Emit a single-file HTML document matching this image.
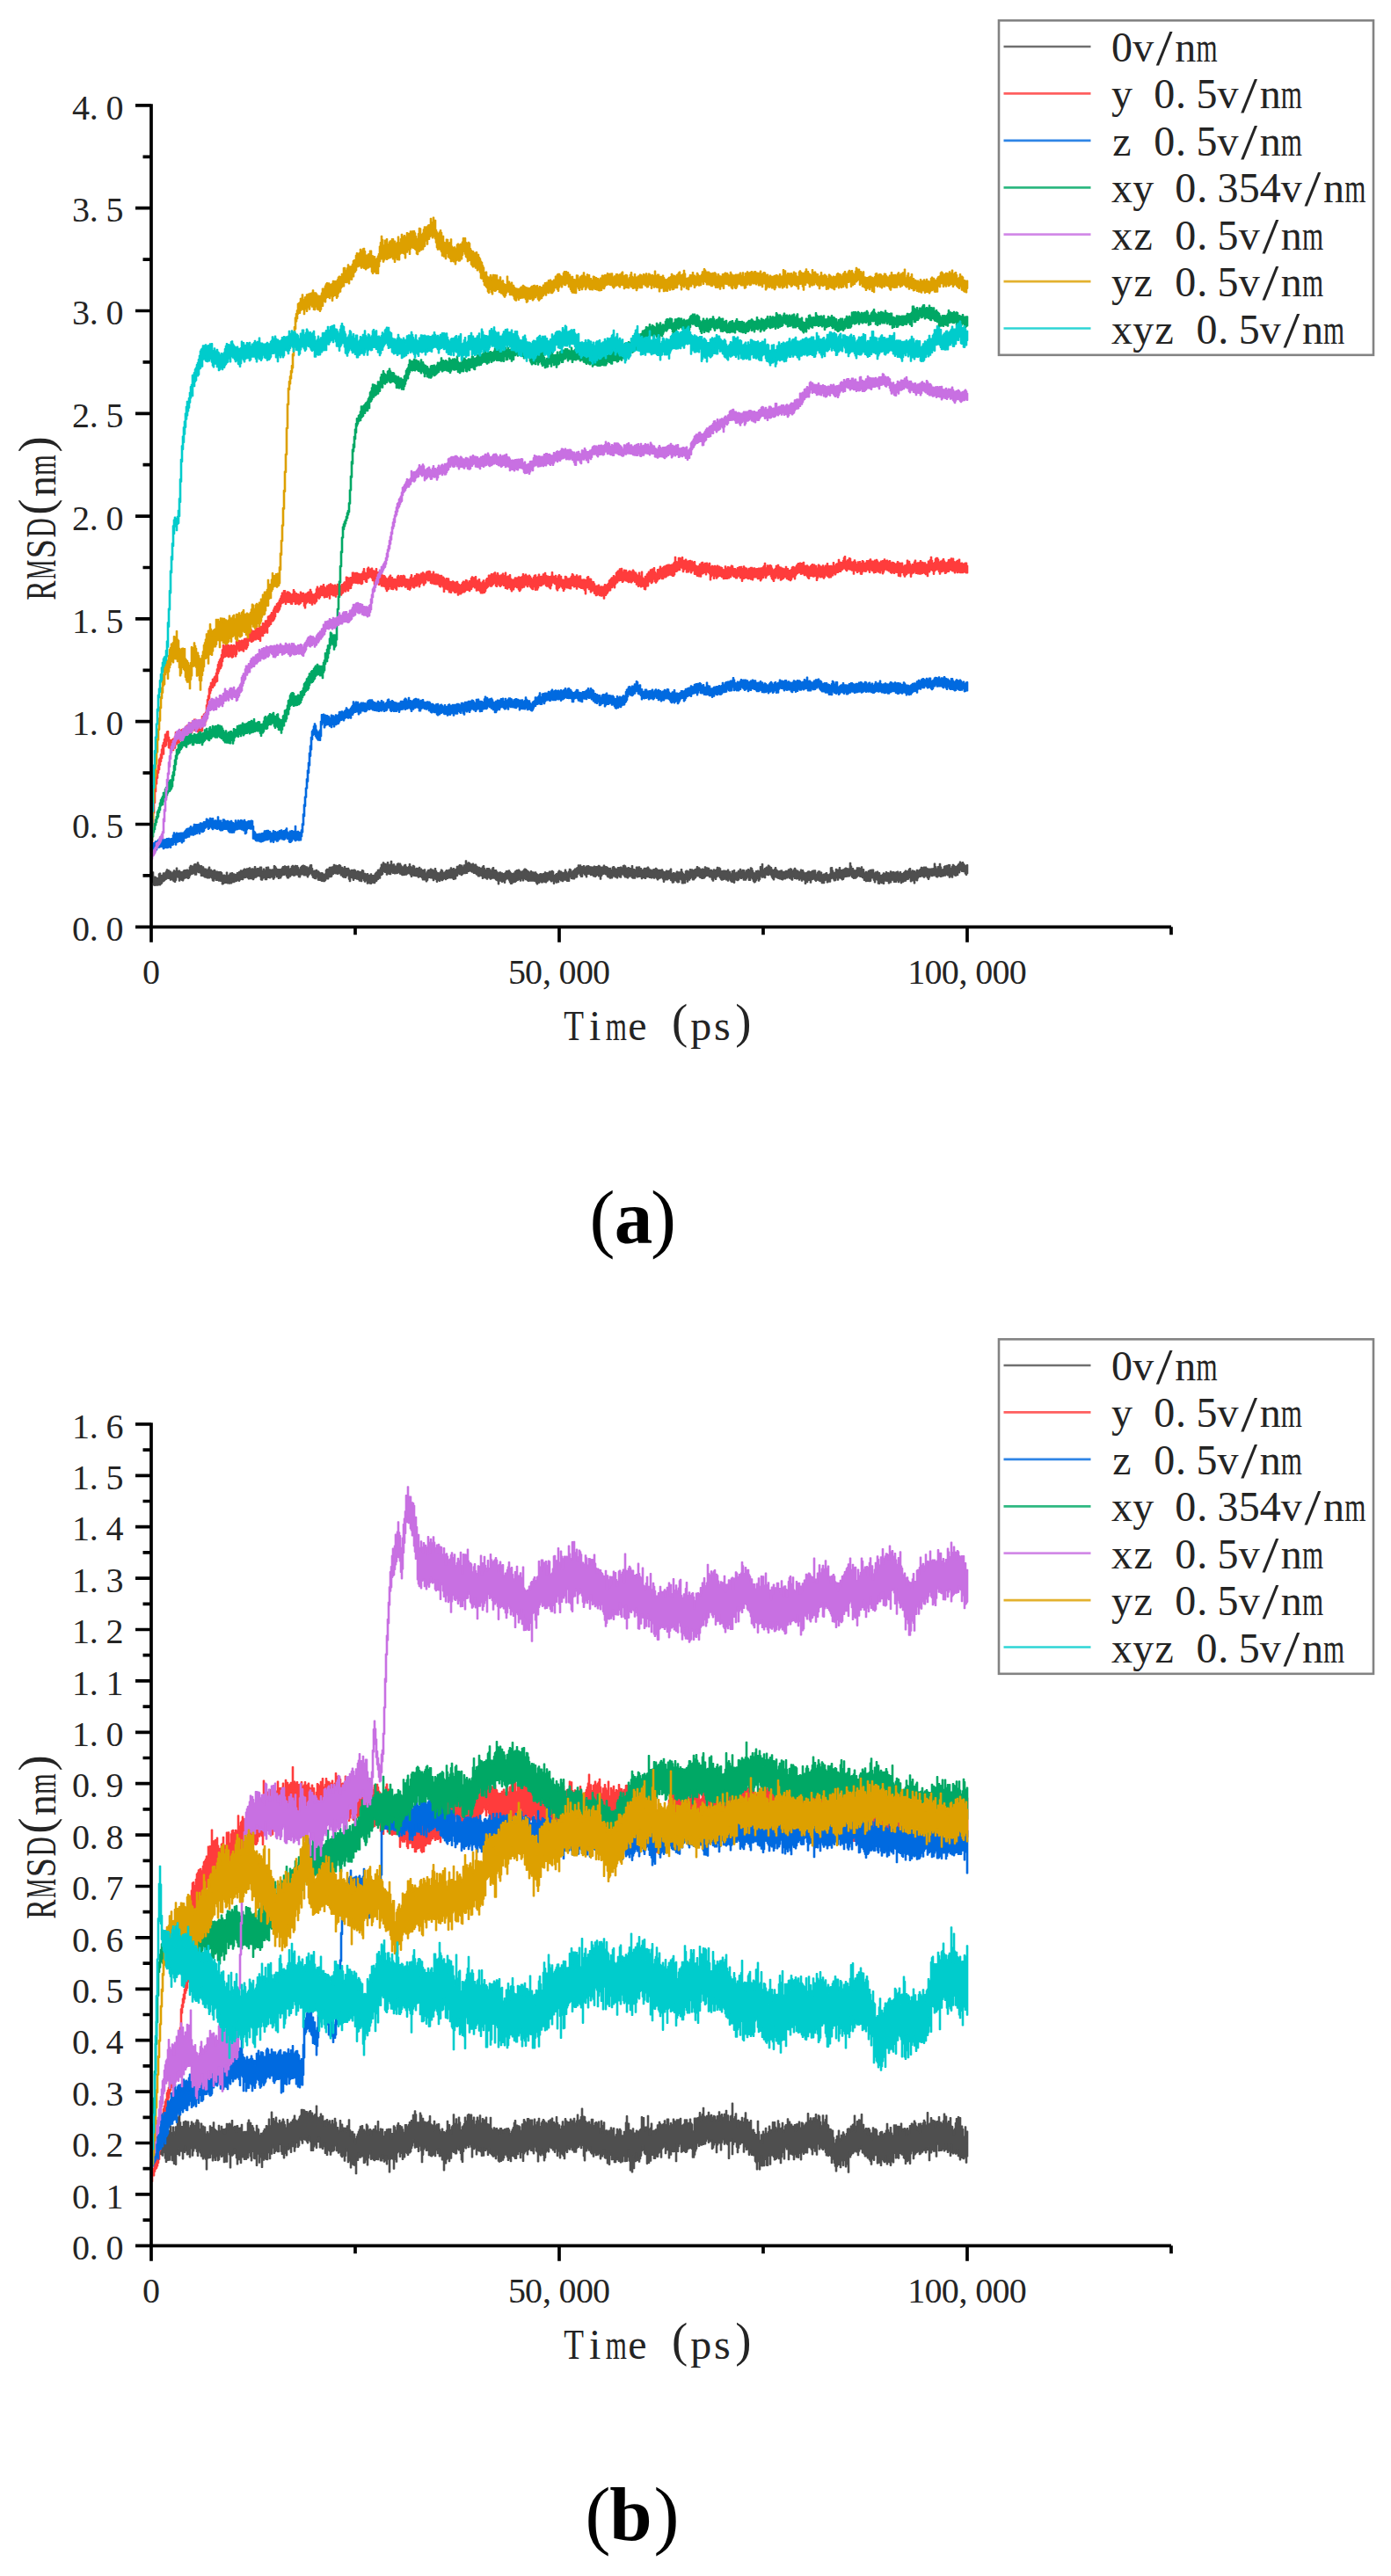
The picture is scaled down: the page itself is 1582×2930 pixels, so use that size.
<!DOCTYPE html>
<html lang="en"><head><meta charset="utf-8"><title>RMSD versus time under electric fields</title>
<style>html,body{margin:0;padding:0;background:#fff}body{width:1582px;height:2930px;overflow:hidden}svg{display:block}text{font-family:"Liberation Serif","Noto Serif CJK SC",serif;fill:#242424}.ax{stroke:#000;stroke-width:3.7;fill:none;stroke-linecap:butt}.c{stroke-width:1.6;stroke-linejoin:round}.lg{fill:#fff;stroke:#838383;stroke-width:2.6}.cap{font-weight:bold;fill:#000}</style></head><body>
<svg width="1582" height="2930" viewBox="0 0 1582 2930">
<rect width="1582" height="2930" fill="#fff"/>
<g id="chart-a">
<path class="c" fill="#4f4f4f" stroke="#4f4f4f" d="M171.5 992.3h1v2.4h1v-2.6h1v5.2h1h1v.2h1v1.2h1h1v.7h1v-5.3h1v-.9h1v3.5h1v-.8h1v-.6h1v-2.2h1h1v.1h1v-1.8h1v-2.4h1v.8h1v.2h1v2.3h1v-1.1h1v1.9h1v.5h1v-1.6h1v-1.9h1v.9h1v.2h1v-4h1v3.3h1h1v-.2h1v1.4h1h1v1h1v-.8h1v-1.7h1v-.4h1v.4h1v-.7h1v-.3h1v.9h1v.5h1v-4.3h1v-1.7h1v2h1v-1.3h1v.1h1v-2h1v-.6h1v.4h1v-.2h1v-2h1v2.5h1v1.4h1v.1h1v-.1h1v1.3h1v-.1h1v1.9h1v2.9h1v-2.7h1v1.6h1v-.1h1v-1.4h1v-2.1h1v3.2h1v-.1h1v1.6h1v.3h1v-.9h1v-.7h1v2.7h1v-1h1h1v1.7h1v-1.1h1v-.1h1v.1h1v.9h1v2.4h1v.7h1v-.7h1v1.1h1v-.3h1v-3.8h1v3.8h1v.2h1v-1.2h1v-1.6h1v.6h1v-1.1h1v2.2h1v-1h1v.4h1v.5h1v-.5h1v-1.8h1v1.3h1v-2.1h1v-.3h1v-1.5h1v.5h1v.5h1v-1.5h1v-1.3h1v.6h1v.5h1v-1.3h1h1v-.3h1v-.8h1v3.2h1v-1.6h1v-.6h1v2.2h1v-1.9h1v-2.6h1v2.8h1v-.1h1v-.6h1v1.4h1v-1.4h1v-1.6h1h1v5h1v-.6h1v-2.3h1v1.8h1h1v-3.6h1v2.6h1v-2.9h1v3.8h1v-1h1v.2h1v1.2h1v-1.4h1h1v-4.3h1v1.1h1v1.6h1v1.3h1v.2h1v.3h1v-.3h1v2h1v-2h1v-1.6h1v-1.5h1v.2h1v-1h1v.8h1v2.8h1v-2.9h1v-.5h1v3.1h1v-.1h1v-.4h1v-2.3h1v-1h1v1.9h1v-.7h1v-1.2h1v.9h1v-.7h1v2.2h1v3.1h1v-1h1v-2.1h1v-1.3h1v-.8h1v-.5h1v.5h1v.4h1v2.5h1v-1.6h1v1.4h1v.6h1v-1.9h1v-2.2h1v-.1h1v3.8h1v2.8h1v.3h1v-.5h1v1h1v-1.7h1v1.4h1h1v1.2h1v.8h1v.8h1v-.9h1v.3h1v1.7h1v-.2h1v-.6h1v-4.3h1v-1.2h1v2.2h1v-2.4h1v-1.8h1v2.4h1v-2.7h1v.3h1v-.7h1v-2.4h1v.9h1h1v.5h1v1.1h1v-1.5h1v-.7h1v.7h1v3.1h1v-1h1v1.5h1v.5h1v-2.7h1v2.6h1v-.7h1v1.3h1v-1.5h1v1.7h1v1.2h1v.7h1v-1.7h1v1.8h1v-1.7h1v-.4h1v.9h1v1.6h1v.5h1v-1.5h1v.5h1v1.4h1v-.9h1v.2h1v-2h1v.4h1v4.1h1v-.8h1v.7h1v1.1h1v-1.7h1v2.9h1v-1h1v.6h1v-2.1h1v2.3h1v-.6h1v1.5h1v-1.9h1v-1.9h1v-1.2h1v-.5h1v-2.2h1v-.3h1v.5h1v-2.7h1v-3.8h1v1.5h1v-3.7h1v1.1h1v.3h1v.5h1v1.8h1v-4.1h1v2.8h1v.1h1h1v-4.1h1v4h1v.9h1v-1.3h1v2.8h1v-.7h1v1.1h1v-3.4h1v-.8h1v.7h1v-.4h1v1.8h1v2.3h1v-.4h1v.6h1v-2.5h1v-.7h1v2.5h1v2h1v-1.1h1v-1.1h1v-3.1h1v3.2h1v.7h1v.3h1v-2.3h1v.8h1v2.8h1v.4h1v-1.1h1v.4h1v.5h1v-1.8h1v2.5h1v-.7h1v2.2h1v-.8h1v.9h1v-1.7h1v4.4h1v.4h1v-2.2h1v-1.8h1v-.2h1v.6h1v-1.8h1v1.5h1v-.7h1v1.2h1v1.3h1v-3.8h1v2.8h1v1.9h1v.3h1v.8h1v-.7h1v-1.3h1v-2.3h1v1h1v2.1h1v.5h1v-.8h1v-1.1h1v-1.3h1v.7h1v-.5h1v-.8h1v1h1v-3.1h1v3h1v-1.4h1v-.9h1v1.8h1v-.2h1v-.8h1v-3.1h1v.7h1v-1.2h1v-1.2h1v1.9h1v-1.5h1v2h1v.4h1v-2.5h1v1.7h1v-6.7h1v3.2h1v-.2h1v-1.1h1v.8h1v1.3h1h1v1.6h1v-2.3h1v1.3h1v1.9h1v-2.2h1v1.8h1v.9h1v1.9h1v-1.5h1v1.9h1v-.8h1v-.1h1v-1.5h1v-1.1h1v3h1v1.9h1v1h1v-2.9h1h1v-.2h1v1.3h1v1.4h1v1.9h1v-4.3h1v-1.3h1v3.1h1v.1h1v-.1h1v1.8h1v1.5h1v1.8h1v-2.6h1v-.2h1v1.3h1v-.4h1v.8h1v1.7h1v-1.9h1v-1.1h1v-1.7h1v.2h1v-.5h1v-.4h1v1.8h1v1.2h1v1.4h1v-.7h1v-.6h1v.5h1v-2.5h1v-.7h1v-.6h1v3.2h1v-3.9h1v1.3h1v2.1h1v-.8h1v-.8h1v1.2h1v-3h1v-1h1v.7h1v.9h1v.9h1v.7h1v1.2h1v.7h1v-2.4h1v1.5h1v-.4h1v.4h1v.7h1v-1h1v1.5h1v.9h1v.7h1v.7h1v-1.7h1v-.4h1v.4h1v1.6h1v-2.1h1v.6h1v-2.2h1v1.8h1v-1.1h1v1.3h1v-1.4h1v-1.3h1v-.2h1v1.7h1v-2.3h1v1h1v4.3h1v.7h1v-1.7h1v-1h1v1.8h1v-3.7h1v-1.8h1v2.5h1v-1.5h1v1.1h1v.8h1v-.3h1v-.5h1v-2.9h1v2.5h1v2h1v-.5h1v-2.2h1v-2.7h1v.8h1v2.7h1v-.3h1v-1.1h1v-.8h1v-1.6h1v2.3h1v-3.2h1v-.6h1v-2.7h1v2h1v-2h1v2.2h1v-.4h1v1.3h1v-2.3h1v2.1h1v.8h1v-2.4h1v-.3h1v-.2h1v.8h1v1h1v-.5h1v.5h1v-.2h1v.8h1v-2h1v2.2h1v-1.5h1v-.1h1v.1h1v-1.3h1v.7h1v3.1h1v-1.9h1v-.1h1v.2h1v-2.3h1v1.9h1v-.4h1v.3h1v.8h1v.8h1v.1h1v-.2h1v2.2h1v.4h1v-3.8h1v-.5h1v1.5h1v1h1v.3h1v-.3h1v-1.6h1h1v1.1h1v-1.6h1v2.5h1v-1.5h1v-2.6h1v-.3h1v.7h1v4.7h1v-2.4h1v1.1h1v-1.8h1v1.9h1v-.9h1h1v-2.9h1v3.8h1v.3h1v.6h1v-.1h1v-3.1h1h1v.6h1v-.9h1v3.7h1v-1.8h1v2h1v.5h1v-1.4h1v-1.4h1v1.2h1v-1.3h1v-.2h1v-.9h1v1.7h1v1.7h1v-.5h1v1.6h1v-.7h1v-1.2h1v-.1h1v2.6h1v-3.9h1v1h1v.9h1v2.5h1v-2.5h1v.4h1v-.3h1v-.5h1v1.9h1v1.8h1v-1.1h1v.6h1v-2.1h1v.4h1v1.3h1v-1.4h1v-.5h1v-1.7h1v6.7h1v-1.3h1v-.9h1v.2h1v.2h1h1v-2h1v1.1h1v-.2h1h1v2.5h1v-5.8h1v3.3h1v1.7h1v.8h1h1v-3.5h1v-.8h1v.5h1v.5h1v.7h1v-3.3h1v1.5h1v-1.1h1v1h1v.8h1v-1.7h1v-.4h1v-.4h1v-2.6h1v1.5h1v-.2h1v1.1h1v.8h1v2.5h1v-3.2h1v.6h1v1.8h1v-4.6h1v1.7h1v-.7h1v.2h1v.3h1v2h1h1h1v1.1h1v.4h1v-2h1v.6h1v1.3h1v-1.9h1v-2.5h1v1.8h1v-1.4h1v1.1h1v3h1v-.4h1v.3h1v-.7h1h1v.3h1v1h1v-.7h1v-1.7h1v2.4h1v-.1h1v2.5h1v1.8h1v-5.1h1v2.6h1v-3.6h1v3.9h1v-.6h1v-.6h1v.3h1v-2.2h1v.9h1v-2.9h1v2.7h1v-.6h1v-1h1v.3h1v2.5h1v.2h1v-2.6h1v1.6h1v-2.9h1v1.2h1v.5h1v-3.3h1v.7h1v2.5h1v2.4h1v.3h1v.5h1v-2.8h1v.2h1v-.5h1v2.1h1v-1.5h1v-5.3h1v2.3h1v-5.2h1v6.5h1v.9h1v-2.4h1v-.4h1v-1h1h1v-2h1v.8h1v1h1v.5h1v2.3h1v2.1h1v-1.2h1v-1.2h1v-1.8h1v2.3h1v1.1h1v1.6h1v-.8h1v-.3h1v-.5h1v-.3h1v2.9h1v-1.1h1v-.2h1v.9h1v-2h1v.7h1v-.6h1v-1.5h1v.8h1v-1.9h1v.6h1v2.9h1v-.7h1v-1.6h1v-1.6h1v1.7h1v1h1v.1h1v.9h1v.5h1v.5h1v-2.9h1v1.8h1v-1.3h1v2.1h1v1.1h1v1.2h1v-1.5h1v-.2h1v-1.4h1v-.2h1v1.3h1v-.6h1v-.1h1v-1h1v-.2h1v-.3h1h1v4.7h1v-.3h1v-2h1v-1.4h1h1v1.1h1v.1h1v2.8h1v1.2h1v-2.1h1v.1h1v-.7h1v-.7h1v1.8h1v.3h1v.3h1v-1.3h1v-7h1v-.3h1v3.7h1v2.4h1v-.2h1v-.1h1v-4h1v.9h1h1v2.2h1v-4.9h1v2.9h1v.1h1v1.7h1v-2.4h1v.2h1v-1.1h1v-.8h1v.4h1v.3h1v.9h1v-.9h1v-6.5h1v3.9h1v2.3h1h1v2.2h1v.8h1v-.6h1v-.4h1v-2.6h1v-.1h1h1v1.6h1v-.7h1v-1.8h1v3.8h1v-1h1v4.2h1v.3h1v-1.9h1v.9h1v-.2h1v-1.6h1v-.2h1v-.9h1v1.9h1v-2.1h1v-.1h1v4.2h1v.6h1v-1.9h1v-.1h1v-.8h1v3.3h1v-1.6h1v2.6h1h1v.5h1v-1.1h1v-1.9h1v.7h1h1v-1.8h1v1.1h1v-.2h1v.5h1v2.5h1v-4.7h1v1h1v.3h1v-.6h1v1.9h1v-1.4h1v2.9h1v-3.4h1v-.5h1v2.4h1v-.4h1v-1.4h1v2.9h1v-.9h1v.1h1v-1.4h1v-.7h1v-1.6h1v.9h1v-.2h1v-.1h1v-2.2h1v-.8h1v3.5h1v1h1v-2.3h1v.8h1h1v2.1h1v-.9h1v-2.5h1v1.6h1v-1h1v-.7h1v-.9h1v-2h1v.5h1h1v-.7h1v1h1v-1.1h1v1.6h1v.2h1v2.1h1v-1.8h1h1v-.1h1v-.3h1v.1h1v-.4h1v-5.3h1v3.4h1v2.7h1v-.3h1v-2.3h1v3h1v-6.3h1v3.6h1v2.9h1v.3h1v-.5h1v-3.1h1v-.8h1v1.5h1v-1.9h1v1.8h1v-2.6h1h1v4.1h1v-.1h1v-1.9h1v-2.3h1v1h1v.9h1v1.6h1v-1.3h1v-1h1v-1.6h1v-.7h1v-2.1h1v1.1h1v.8h1v-1.4h1v1.9h1v1.2h1v.9h1h1v-1.2h1v9.7h-1v1.7h-1v-1.3h-1v-2.7h-1v.4h-1v-2.6h-1v2.2h-1v-1.4h-1v-.3h-1v3.2h-1v-.9h-1v3.7h-1v-1h-1v1.7h-1v-.4h-1v-1.9h-1v1h-1v3.2h-1v-2.8h-1v1.4h-1v1.4h-1v-4.8h-1v2.4h-1v-1h-1v-.5h-1v1.9h-1v-1h-1v1.3h-1v.3h-1v-.8h-1v1.4h-1v-2.4h-1v1.6h-1v-1.5h-1v2.8h-1v-.5h-1v-1.4h-1v-.4h-1v.5h-1v-.4h-1v1h-1v-.9h-1v-1h-1v3.2h-1v2.3h-1v-1.7h-1v-1.6h-1v-.1h-1v-.8h-1v2.1h-1v-1h-1v-.5h-1v-.9h-1v1.5h-1v.2h-1v-.9h-1v2.3h-1v2.9h-1v-.9h-1v.3h-1v3.7h-1v-4h-1v.9h-1v-.4h-1v1.4h-1v-4.5h-1v-1.4h-1v3.2h-1v.2h-1v-.6h-1v2.4h-1v.2h-1v.3h-1v.7h-1v-1.1h-1v2.4h-1v-3.8h-1v1.2h-1v1.6h-1v-2.6h-1v.4h-1v2.1h-1v-1.6h-1v1.6h-1v-2.2h-1v-.9h-1v.9h-1v2.5h-1h-1v1.1h-1v-3.4h-1v1h-1v-.9h-1v.6h-1v-1h-1v4.2h-1v-3.9h-1v3.2h-1v-2.3h-1v1.5h-1v1.6h-1v-.4h-1v-3.9h-1v-1.3h-1v.7h-1v3.2h-1v-2.5h-1v-2.5h-1v.2h-1h-1v3.3h-1v.3h-1v-2.2h-1v1.9h-1v-1.5h-1v1.9h-1v-1.8h-1v.6h-1v-2.5h-1v-.6h-1v-1.2h-1v.2h-1v-.2h-1v-1.5h-1v.4h-1v1h-1v1.1h-1v.9h-1v-.7h-1v.9h-1v-.8h-1v-.8h-1v-2.2h-1v-1.2h-1v2.5h-1h-1v.4h-1v-.8h-1v1.1h-1v-.4h-1v.9h-1v2.3h-1v.5h-1v-1.1h-1v-.8h-1v-.7h-1v.8h-1v2.1h-1v-2.3h-1v.2h-1v2.6h-1v.4h-1v-2h-1v-1.1h-1v-1.2h-1v1.9h-1v3.5h-1v-1.7h-1v1.8h-1v.7h-1v-4.4h-1v1.6h-1v.6h-1v3h-1v-.6h-1v.5h-1v-3.5h-1v1.6h-1v-.5h-1v-.9h-1v-.5h-1v.4h-1v1.1h-1v-1.2h-1v-1.1h-1v-.8h-1v1.2h-1v.4h-1v3.3h-1v-2.8h-1v-2.3h-1v2.6h-1v2h-1v-2.7h-1v4.5h-1v-4.3h-1v-.4h-1v-1h-1v2.5h-1v-3h-1v.4h-1v1.5h-1v-2.5h-1v.8h-1v.6h-1v-3h-1v2.4h-1v-1.7h-1h-1v3.4h-1v-.9h-1v-2h-1v.9h-1v-1.2h-1v-.1h-1v1.2h-1v-.1h-1v.9h-1v-.7h-1v.9h-1v1h-1v-.5h-1v-2.6h-1v2h-1v-.4h-1v-.4h-1v-.4h-1v-2.5h-1v1.6h-1h-1v3.2h-1v-1.6h-1v-1.4h-1v-2.4h-1v-1.5h-1v.2h-1v1.3h-1v-.2h-1v-1.2h-1v.9h-1v3.5h-1v-.6h-1v-.2h-1v.3h-1v-1.2h-1v-1.4h-1v4.9h-1v1.8h-1v-4h-1v1.5h-1v1.7h-1v1.7h-1v.8h-1v-1.4h-1v-2.5h-1v-3h-1v1.6h-1v2.9h-1h-1v-4.4h-1v.7h-1v1.5h-1v1.8h-1v-.4h-1v.5h-1v-3.1h-1v.8h-1v.6h-1v-2.4h-1v1.7h-1v2h-1v.8h-1v-.4h-1v-.4h-1v-.4h-1v3.9h-1v-1.5h-1v.5h-1v-.1h-1v-1.4h-1v-1.6h-1v-.3h-1v2.2h-1v-1.5h-1v.4h-1v-1.8h-1v.7h-1v.6h-1v.3h-1v.4h-1v-1h-1v-1.7h-1v-4.1h-1v2.5h-1v-1.4h-1v2.2h-1v2.8h-1v-2h-1v.5h-1v3.2h-1v-1.6h-1v-2.5h-1v-1.3h-1v1h-1v-1.5h-1v-.3h-1v.5h-1v-.3h-1v1.3h-1v1.5h-1v.1h-1v.4h-1v-.4h-1v-.7h-1v-.3h-1v-3h-1v1.6h-1v-.6h-1v.7h-1v1.6h-1v1h-1v1.4h-1h-1v-2.7h-1h-1v1.3h-1v1.7h-1v-.8h-1v2.9h-1v-2.7h-1v-1.2h-1v5.3h-1v-2.4h-1v2.7h-1h-1v-4h-1v-.7h-1h-1v3.5h-1v.3h-1v-.9h-1v-2.7h-1v1.2h-1v-.6h-1v2.8h-1v.3h-1v-2.2h-1v-.6h-1v-2.4h-1v.6h-1v.3h-1v1h-1v-2.3h-1v2.4h-1v-.3h-1v2.7h-1v-3.3h-1v-2h-1v.2h-1v.8h-1v.2h-1v.5h-1v1.2h-1v-1.8h-1v-2.1h-1v1h-1v1.1h-1v-1.1h-1v.2h-1v.8h-1v-2.3h-1v1.8h-1v-.9h-1v-1.2h-1v1.3h-1v-1.9h-1v3.7h-1v-.7h-1v-.3h-1v-.6h-1v1.7h-1v-2.3h-1v-.2h-1v.2h-1v-2.9h-1v3.6h-1v-1.9h-1v.5h-1v2.5h-1v-.5h-1v.6h-1v-.7h-1v-2.8h-1v1.3h-1v.2h-1h-1v1.8h-1v-.9h-1v-2.7h-1v2.5h-1v-1.6h-1v-1.4h-1v-.7h-1v.8h-1v3.1h-1v-.5h-1v-1.1h-1v-1.3h-1v3.7h-1v-2.3h-1v1.3h-1v-1.9h-1v.9h-1v-.8h-1v2.7h-1v-1.3h-1v1.6h-1v-1.1h-1h-1v-.9h-1v-1.9h-1v-.4h-1v-1.1h-1v.5h-1v.2h-1v.5h-1v1.6h-1v3.6h-1v-5.2h-1v1.9h-1v-1.4h-1v-.1h-1v1h-1v1.2h-1v-2.6h-1v1.9h-1v-1.5h-1v.1h-1v.3h-1v-1.4h-1v-.3h-1v.3h-1v-1.5h-1v5h-1v-2.1h-1v-.8h-1v-1.6h-1h-1v4h-1h-1v-1.7h-1v-2.2h-1v.1h-1v1.1h-1v3.3h-1v.3h-1v-1.3h-1v3h-1v-.1h-1v-.2h-1v-.1h-1v-1.8h-1v-1.1h-1v5.8h-1h-1v-.1h-1v-3h-1v1.8h-1v-1.4h-1v1.4h-1v1.6h-1v-1.9h-1v1h-1v-2.2h-1v.8h-1v3.2h-1v-2.2h-1v2.7h-1v-2h-1v.9h-1v2.3h-1v-3.2h-1v-1h-1v1.7h-1v-1.5h-1v-.9h-1v.1h-1v1.5h-1v.4h-1v1.5h-1v-.2h-1v-1.9h-1v1.1h-1v1h-1h-1v-1.5h-1v.5h-1v1.6h-1v-.4h-1v1.9h-1v-1.8h-1v-2.4h-1v.5h-1v-.1h-1v-2.8h-1v2.8h-1v-2.5h-1v2.5h-1v-.3h-1v.5h-1v-.8h-1v-3.3h-1v2.3h-1v-2.7h-1v1.5h-1v2.5h-1v-2.3h-1v-.1h-1v2.7h-1v-4.2h-1v2.3h-1v1h-1v-.9h-1v2h-1v.9h-1v-1h-1v1.5h-1v-1.7h-1v3.2h-1h-1v-1.8h-1v-2.3h-1v-1.5h-1v-.2h-1v.3h-1v1.2h-1v3.3h-1v-1.6h-1v-.3h-1v.9h-1v-1.6h-1v.5h-1v-1.1h-1v4.7h-1v-3.9h-1v-.6h-1v-.5h-1v-1.5h-1v-.1h-1h-1v-3.9h-1v4h-1v.9h-1v-1.2h-1v-1.9h-1v1.1h-1v1.9h-1v-1.3h-1h-1v-.6h-1v-4h-1v5.2h-1v-2.9h-1v-.7h-1v.4h-1v.7h-1v-.1h-1v-1.6h-1v-.4h-1v-1.1h-1v-1.7h-1v1.4h-1v-2.7h-1v1.5h-1v-.7h-1v-1.4h-1v.6h-1v.7h-1v-.6h-1v2.7h-1v-.8h-1v.9h-1v.1h-1v-.2h-1v1h-1v1.2h-1v-1.1h-1h-1v-1.2h-1v.5h-1v2.4h-1v-.2h-1v3.7h-1v-2.3h-1v2.9h-1v-1.2h-1v-.4h-1v-2.4h-1v2.6h-1v-.3h-1v-1.3h-1v2.1h-1v-1h-1v2.1h-1v-1.2h-1v-.1h-1v1h-1v1.3h-1v-3.2h-1v2.5h-1v1.5h-1v-1.1h-1v.1h-1v1.9h-1v-2.9h-1v-.6h-1v-.7h-1v2.6h-1v-2.5h-1v-1h-1v.7h-1v-1.2h-1v.7h-1v.3h-1v2.8h-1v1.5h-1v-2h-1v-1.7h-1v1.6h-1h-1v-2.2h-1v-1.3h-1v.1h-1v-.1h-1v.7h-1v-1.3h-1v-.8h-1v.6h-1v-.5h-1v.2h-1v-2.3h-1v2h-1v1.4h-1v-2.3h-1v-1.3h-1v-.3h-1v.2h-1v.5h-1v.9h-1v-1.4h-1v1.7h-1v-.4h-1v.7h-1v-.6h-1v-1.9h-1v.9h-1v-1.7h-1v-1.1h-1v2h-1v.4h-1v-1.6h-1v1.8h-1v-1.4h-1v1h-1v-2.2h-1v.8h-1v2.5h-1v-.2h-1v-.6h-1v-1.7h-1v3.1h-1v-3.1h-1v.3h-1v-1.1h-1v.1h-1v3h-1v1h-1v.3h-1v3.5h-1v-.8h-1v1.9h-1v.5h-1v1.7h-1v.3h-1v1.8h-1v-.3h-1v-.3h-1v.2h-1v1.1h-1v-.1h-1v-.6h-1v-1.2h-1v1.7h-1v-3.1h-1v-.5h-1v1.6h-1v-1.7h-1v-2.2h-1v.2h-1v3.2h-1v-1.4h-1v.9h-1v-1.5h-1v-1.1h-1v.6h-1v-1.1h-1v.4h-1v-1.7h-1v3.6h-1v-2.4h-1v-2.1h-1v1.7h-1v4.2h-1v-2.6h-1v-4.2h-1v-.6h-1v1.4h-1v1.7h-1v-.6h-1v.4h-1v-.7h-1v-1.6h-1h-1v-1.9h-1v-.6h-1v.4h-1v.5h-1v-.7h-1v.2h-1v-.4h-1v-.9h-1v2h-1v.4h-1v2.2h-1v.6h-1v-1.5h-1v1.7h-1v2h-1v-1.7h-1v1.6h-1v1.6h-1v1.3h-1h-1v-1h-1v.6h-1v-.6h-1v-2.5h-1v2.1h-1v-.2h-1v-3.1h-1v-.2h-1v1.8h-1v-.1h-1v-.9h-1v-.5h-1v-2.4h-1v-2.5h-1v.5h-1v.6h-1v1.4h-1v2.1h-1v-2.5h-1v.5h-1v-1h-1v1h-1v-1.9h-1v1h-1v-.4h-1v.7h-1v2.6h-1v-.1h-1v-2.2h-1v-2.7h-1v2.3h-1v-1.2h-1v2.2h-1h-1v-.8h-1v-.6h-1v.9h-1v1.5h-1v-1h-1v2.8h-1v-.1h-1v-2.1h-1v-1.7h-1v-.5h-1v.9h-1v-.8h-1v1h-1v1.4h-1v1.9h-1v-.6h-1v1.1h-1v-2.3h-1v.5h-1v-2h-1v-.7h-1v3.8h-1v1.4h-1v-3h-1v.7h-1v.2h-1v.8h-1v-.6h-1v.3h-1v-.4h-1v2.6h-1v-.1h-1v-1.9h-1v-.8h-1v1.2h-1v2h-1v-.3h-1v-3.6h-1v-.6h-1h-1v-.9h-1v1.5h-1v1h-1v-1.6h-1v2.3h-1v1.7h-1v-1.6h-1v.7h-1h-1v-1.1h-1v1.3h-1v-1.3h-1v-.6h-1v-.9h-1v1.3h-1v.3h-1v-.2h-1v2.1h-1v-.3h-1v-.7h-1v1.4h-1v1.3h-1v-.6h-1v-.2h-1v.8h-1v.4h-1v.3h-1v.7h-1h-1v-3.5h-1v4.7h-1v-3.4h-1v3.6h-1v-.2h-1v.1h-1v-1.5h-1v.8h-1h-1v-1.5h-1v2.7h-1v.5h-1v-3.5h-1v-.2h-1v-.9h-1v.7h-1v-.7h-1v-.9h-1v.9h-1v-2.5h-1v.8h-1v2.4h-1v-.3h-1v-2.9h-1v-2.3h-1v1.4h-1v.8h-1h-1v.1h-1v-1.4h-1v.7h-1v-.3h-1v-.9h-1v-.5h-1v-1.8h-1v1.8h-1v-3.3h-1v-.9h-1v.4h-1v-.9h-1v-.3h-1v3.7h-1h-1v-3.6h-1v1.8h-1v.7h-1v.4h-1v.1h-1v1.5h-1v2.5h-1v.9h-1v-1.1h-1v-1.5h-1v2.1h-1v-.8h-1v1.6h-1v2.2h-1v-.7h-1v-.5h-1v-.9h-1v2.3h-1v-4h-1v-.5h-1v.3h-1v3.4h-1v2h-1v-.8h-1v-.7h-1v-1.9h-1v.4h-1v.8h-1v-1.9h-1v.1h-1v-.6h-1v.5h-1v.9h-1v.4h-1v1.1h-1v1h-1v.1h-1v2h-1v.9h-1v1.1h-1v-.7h-1v.8h-1v.3h-1h-1v-.6h-1v.7h-1v-.4h-1v-3.6h-1v.3h-1v-2.7h-1z"/>
<path class="c" fill="#ff3c3c" stroke="#ff3c3c" d="M171.5 963.5h1v-22.2h1v-18.6h1v-12.1h1v-13h1v-8.6h1v-8h1v-4.5h1v-6.1h1v-6.3h1v-1.8h1v-4.2h1v-5.7h1v-4.9h1v-2.7h1v-3.9h1v-5.7h1v-.1h1v-2.9h1v-.3h1v6.6h1v3.1h1v.2h1v1.5h1v-1.9h1v-1.2h1h1v-1.7h1v-5.8h1h1v1.8h1v-2.2h1v1.3h1v-2.9h1v.5h1v-1.3h1v-.6h1v.4h1v1.8h1v-.2h1v-5.1h1v-1.2h1v.6h1v.4h1v.7h1v-4.3h1v-.2h1v-.4h1v-.6h1v-2.8h1h1v3.6h1v-1.3h1v-.3h1h1h1v2.7h1v.6h1v-8.9h1v1.1h1v-3.7h1v-.4h1v-1.6h1v-8.1h1v-6.2h1v-4.7h1v-8.2h1v-2.4h1v-4h1v-.2h1v-3.9h1v-.5h1v-1.9h1v-1h1v-3.6h1v-4.4h1v-5.2h1v-3h1v-2.4h1v-1.8h1v-3.9h1v-5.7h1v-5.2h1v3.7h1v-2.5h1v-2.9h1v.2h1v3.2h1v-1.7h1v1.2h1v1.5h1v-3h1v.9h1v.7h1v-1.5h1v1h1v.3h1v-5.2h1v.8h1v-1.3h1v-.8h1v1.8h1v-1.3h1v-.6h1v.2h1v1.3h1v-3h1v-.5h1v3.4h1v-3.5h1v-2.5h1v-2.8h1v-.1h1v-1.2h1v-3.4h1v2.3h1v-.8h1v-.2h1v.3h1v-2.9h1v-.6h1v.3h1h1v-2.2h1v3h1v-2.9h1v1.5h1v-5.2h1v2.6h1v-2.4h1v-3h1h1v-.3h1v-4.5h1v-.5h1v-.5h1v-1.3h1v-2.3h1v1h1v-3.7h1v-2.4h1v-2h1v.4h1v-3.2h1v-.8h1v-.9h1v-2.6h1v-2h1v-2.6h1v-3.5h1v1.1h1v-3.7h1h1v3.1h1v-.1h1v-1.7h1v.2h1v.7h1v1h1v1.2h1v1h1v-1.7h1v-4.6h1v2h1v2.8h1v-1h1v2.9h1v-1.8h1v.8h1h1v-3.4h1v2.1h1v-.4h1v-.4h1v3h1v-1.2h1v-.9h1v.4h1v-1.8h1v-.6h1v1.3h1v-4.1h1v2.4h1v2.7h1v2.3h1v-1.9h1v.5h1v-1.8h1v-4.7h1v-2.7h1v2.1h1h1v-.8h1v-2.1h1v.5h1v-.3h1v-2h1v2.9h1v1.1h1v-.1h1v-2.5h1v.9h1v-2h1v.2h1v-1.2h1v1.8h1v-.6h1v.9h1v1.8h1v-2.8h1v2.6h1v-.9h1v-2.4h1v.8h1v1.6h1v-.7h1v1h1v-2.5h1v.2h1v-1.7h1v-1.1h1v.9h1v-6.6h1v.5h1v3.8h1v-3.4h1v2.8h1v-3.4h1v.9h1v-6.4h1h1v2.3h1v-1.5h1v-.4h1h1v1.5h1v-.5h1v.5h1v-.1h1v-.2h1v-.5h1v-2.3h1v-3.1h1v4.3h1v.6h1h1v-4.9h1v-1.7h1v2.7h1v-.7h1h1v-1h1v4.3h1v-1.4h1v3.4h1v-2.9h1v-2.8h1v4.4h1v-.5h1v4h1v-1.6h1v1.6h1v-1.7h1v2.3h1v-.7h1v.2h1v1.2h1v1.7h1v.9h1v2.4h1v-3.6h1v-1.6h1v-1.5h1v3h1v-.5h1v1.9h1v1.8h1v-2h1v.7h1v-.1h1v-3.1h1v-1.4h1v1.6h1v1.3h1v-2.6h1v2.8h1v-2.6h1v-.5h1v.6h1v3h1v.7h1h1v1.9h1v-1.8h1v1.6h1v-4h1v-2.7h1v4h1v1h1v-1.9h1v-2.3h1v.9h1v-2.7h1v1.1h1v-.8h1v1.7h1v-.5h1v-2.2h1v.6h1v-1.8h1v1.2h1v1.1h1v.3h1v-2.6h1v-1h1v1.3h1v-1.7h1v.5h1v3.9h1v-1h1v-.1h1v-2.6h1v3.1h1v1.2h1v-1.5h1v.6h1v-.3h1v2h1v-.9h1v3.5h1v-3.4h1v2.1h1v-.4h1v1.3h1v3.6h1v-1.9h1v-1.6h1v1.9h1v-1.5h1v3.1h1v2.7h1v-2.2h1v.2h1v-.9h1v.9h1v.9h1v.5h1v-1.2h1v-.6h1v2.5h1v.9h1v.6h1v.8h1v-1.4h1v-2h1v-1.7h1v3.5h1v-2.8h1v-2.2h1v.6h1v2.3h1h1v-1.9h1v1.4h1v-4.2h1v-1.8h1v1.7h1v-.7h1v2.4h1v-3.8h1v5.8h1v-1.3h1v3.6h1v-4.9h1v3.4h1v.9h1v1h1v-2.4h1v-1.8h1v3.6h1v-.6h1v-3.6h1v-1.5h1v.9h1v-4.6h1v2h1v-1.8h1v-1.5h1v.1h1v3.4h1v-4.4h1v-.9h1v3.2h1v3.9h1v-6.3h1v2.3h1v.8h1v.1h1v-1h1v.8h1v-2.6h1v2.6h1v2h1v-5.5h1v4.7h1v2.2h1v-3.1h1v2.5h1v-3.8h1v4.3h1v3h1v-2h1v1.2h1v-1.4h1v-1.9h1v.2h1v.1h1v1.7h1v-3h1v4.3h1v-3.8h1h1v-.8h1v-3.1h1v2.2h1v1h1v-2.5h1v1.6h1v.4h1v.5h1v-1.5h1v1.3h1v1.8h1v3.5h1v-2h1v-2.4h1v-2h1v-.6h1v2.9h1v.9h1v-1.8h1v-2.7h1v2.6h1v3.1h1v-3.5h1v.9h1v-3.4h1v1.5h1v-2.9h1v2.9h1v1h1v-.2h1v2.2h1v-1.7h1v1h1v-1.4h1v-4.5h1v4.3h1v.5h1v1.2h1v-2.4h1v3.3h1v2.6h1v-5h1v-1.7h1v1.7h1v.1h1v4.7h1v-.8h1v1.9h1v-1.8h1v-3.9h1v.4h1v2.1h1v.2h1v-.2h1h1v-.8h1v-1.8h1v-2.7h1v1.2h1v1.7h1v2.5h1v-2.4h1v-1.8h1v2.3h1v.1h1v-1h1v-.3h1v4.5h1v-.2h1v.4h1v-.8h1v.2h1v2.1h1v-1.5h1v-3.2h1v-.8h1v2.5h1v-.1h1v.3h1v4h1v-1h1v.2h1v2.4h1v4h1v-1.5h1v-.4h1v1.5h1v-2.3h1v2.6h1v-.4h1v-.6h1v.2h1v.7h1v-.9h1v-2.1h1v1.8h1v-1.3h1v-.6h1v-1.2h1v-3.2h1v-.9h1v-1.2h1v-1.2h1v.9h1v-3.1h1v1.9h1v-.8h1v-4.4h1v-1.1h1v-1.2h1v-.3h1v-2h1v2.4h1v-2.9h1v4.7h1v-.7h1v-2.3h1v1.7h1v-1.4h1v3.1h1v-.3h1v-1h1v-1.1h1v.8h1v.4h1v2.4h1v-4.6h1v1.8h1v1.3h1v.1h1v1.9h1v1.5h1v.1h1v-3.6h1v4.1h1v1.9h1v-6.9h1v6.8h1v1.2h1v1.6h1v-4.5h1v1.4h1v-3.8h1v-.8h1v-2h1h1v-2.3h1v1.9h1v-2.6h1v.4h1v-1.8h1v4.8h1v2.2h1v-.6h1v-4.4h1v.1h1v-.8h1v-2.8h1v2.2h1v3.1h1v-3.8h1v-1.4h1v-.4h1v1.6h1v-2.7h1v-.3h1v-.4h1h1v.6h1v-.2h1v-.5h1v.8h1v-2h1v-1.5h1v-6h1v5.3h1v2.3h1v-2.1h1v-4.5h1h1v.7h1h1v-1.3h1v4.4h1v-.8h1v.1h1v-1.4h1v2.3h1v-.2h1v2.1h1v-2.5h1v-.4h1v2.4h1v-1.6h1v2.7h1v-1.3h1v-.9h1v4.2h1v.9h1v1.2h1v-1h1v-.3h1v-2.2h1v2.6h1v-4.1h1v-.6h1v2.4h1v-.2h1v-1.1h1v1.9h1v-2.3h1v2.2h1v.1h1v-1.9h1v4.2h1v.9h1v-2.2h1v1.8h1v-1h1v-.7h1v2.6h1v-1.7h1v-1.1h1v1h1v-.2h1v1.2h1h1v.5h1v1.9h1v.2h1v.5h1v-4.5h1v2.6h1v.2h1v-1.9h1v.9h1v-.5h1v1.1h1v-3h1v.5h1v2.7h1v1.3h1v-1.1h1v1.3h1v.8h1v-3.1h1v-.2h1v-.7h1v1.9h1v-2.2h1v3.1h1v-1h1v-2.7h1v1.5h1v.9h1v-.1h1v2.8h1v-.9h1v-1.6h1v.7h1v-1.7h1h1v2h1v-1h1v-.6h1v1.8h1v-.8h1v-.1h1v3.1h1v-3.7h1v.1h1v2.6h1v-2.9h1v-.1h1v-.9h1v-1.5h1v-3.1h1v5.7h1v-.2h1v-2.9h1v.1h1v1.3h1v-1.8h1v.9h1v2.6h1v3.1h1v-1h1v-.5h1v-1.2h1v-3.1h1v2.2h1v-3.2h1v2.2h1v1.6h1v-.9h1v.8h1v.1h1v.9h1v-.1h1v1.4h1v-3.9h1v3.8h1v-1.5h1v4h1v-2h1v1.1h1v-2.1h1v-2.6h1v-.7h1v1.4h1v-.6h1v.8h1v-2.8h1v-1.4h1v-1.3h1v.7h1v-1.1h1v.5h1v.1h1v-.4h1v-.9h1v5.3h1v-1.3h1h1v-.6h1v1.4h1v1.5h1v-.9h1v-1.1h1v-1h1v-1.1h1v2.8h1v-2.3h1v1.4h1v-.2h1v2.8h1v.3h1v-4.4h1v1.2h1v1h1v2.1h1v-1.9h1v-1.5h1v3.4h1v-1.2h1v-2h1v.6h1v-3.1h1v6.6h1v-3.6h1v.2h1v-.5h1v.5h1v1.2h1v-5.3h1v4.3h1v-.4h1v-1.9h1v-.8h1v.3h1v-4.8h1v2.6h1v.3h1v.9h1v-.6h1v-2.1h1v-3.3h1v-1.7h1v6h1v-.1h1v-1.6h1v-.2h1v-2h1v.6h1v3.6h1v1.6h1v-1.2h1v-.5h1v-1.8h1v2.1h1v2.5h1v.6h1v-3.2h1v.6h1v-.9h1v2.3h1v-.4h1v-3h1v1h1v2h1h1v-.7h1v-2.1h1v1h1v-1h1v-.6h1v-1.3h1v3.6h1v-1.2h1v1.5h1v-1.3h1v-1.4h1h1v-.7h1v1.7h1v2.7h1v-.8h1v1.7h1v-3.4h1v2.3h1v-3h1v1.2h1v-2.9h1v1.8h1v.7h1v-1.2h1v2h1v-.4h1v-1.2h1v2.5h1v.4h1v-1h1v.1h1v.8h1v2.6h1v-1.5h1v-.5h1v-2.3h1v6.1h1v-4.7h1v.7h1v-.4h1v-.1h1v3.9h1h1v-1.2h1v.9h1v-1.8h1v-5h1v2.8h1v-1.4h1v2.8h1v1.8h1v.1h1v-1.4h1v.6h1v-3.2h1v-1.9h1v3.2h1v.2h1v-.7h1v.7h1v-1h1v-1.9h1v3.4h1v-1.7h1v.5h1h1h1v2.1h1v-.2h1v.3h1v-4.1h1v.9h1v-2.2h1v-3.4h1v4h1v3.3h1v.1h1v-1.1h1v-3.9h1v-1.4h1h1v1.8h1v5h1v-1.8h1v-1.2h1v1h1v-2h1v-1.6h1v2.6h1v1.9h1v-.2h1h1v-.7h1v-2.6h1v-.2h1v.4h1v-1.9h1v1.8h1v-1.4h1v3.4h1v.5h1v-.1h1v-.6h1v-1h1v3.1h1v-4.5h1v4.5h1v-.1h1v-.2h1v3.1h1v-2.2h1v-.2h1v-.8h1h1v3.2h1v8.3h-1h-1v-.9h-1v-1.5h-1v1.3h-1v.7h-1h-1v-.3h-1v.3h-1v-1.5h-1v.9h-1v.7h-1v-1.7h-1v-1h-1v2.9h-1v-2.4h-1v.3h-1v-.2h-1v-4.4h-1v3.1h-1v.3h-1v1.9h-1v-1.2h-1v1.1h-1v1.6h-1v.5h-1v-4.5h-1v1.8h-1v-2.7h-1v3.6h-1v-2h-1v4.5h-1v-2.8h-1v-3.8h-1v1.6h-1v-1.5h-1v2h-1v1.1h-1v3.5h-1v-3.8h-1v-.8h-1v-3.5h-1v3.6h-1v2.1h-1v-.4h-1v5.1h-1v-3.2h-1v1.3h-1v-1.2h-1v-.9h-1v-.5h-1v1.4h-1v.1h-1v.6h-1h-1v-2.5h-1v2.1h-1v-1.1h-1v.8h-1v-3.8h-1v1.4h-1v1.9h-1v-.2h-1v1.1h-1v3.4h-1v-4.4h-1v-1.9h-1v2.1h-1v-1.3h-1v2.8h-1v.6h-1v1.9h-1v-2h-1v-2.9h-1v.1h-1v.4h-1v4.1h-1v-1.6h-1v1.1h-1v-4h-1h-1v-.2h-1v-.7h-1v2.1h-1v-3.1h-1v1.7h-1v1h-1v-.6h-1v-2.2h-1v.6h-1v-1.1h-1h-1v-1h-1v-2.1h-1v2.8h-1v2.4h-1v1.9h-1v-3.9h-1v.3h-1v2.7h-1v-1.7h-1v.7h-1v-1.2h-1v-.5h-1v2.1h-1v-2.7h-1v3.2h-1v-2.1h-1v-.2h-1v-1.3h-1v-1.2h-1v4.3h-1v-2.5h-1v-.7h-1v-.5h-1v2.5h-1v.2h-1v-.7h-1v-.6h-1v1.7h-1v2.6h-1v-.2h-1v-3.3h-1v.3h-1v-.1h-1v1.4h-1v-2h-1v-2.4h-1v2.1h-1v4h-1v-4.8h-1v.9h-1v-1.2h-1v.1h-1v-3.7h-1v3.2h-1v.3h-1v1.8h-1v-1.4h-1v-1.6h-1v.3h-1h-1v1.1h-1v.5h-1v1.8h-1h-1v-.1h-1v1.2h-1v-.7h-1v1h-1v2.2h-1v-1.5h-1h-1v2.4h-1v-2.5h-1v4.4h-1v-.9h-1v1.3h-1v-1h-1v-.9h-1v-2.4h-1v1.2h-1v2.4h-1v1.7h-1v-3.8h-1v2.2h-1v-.4h-1v.6h-1v-2.6h-1v1.3h-1v2.2h-1v2.7h-1v-5h-1v-2.1h-1v2.5h-1v.3h-1v-2.1h-1v1.4h-1v-1.6h-1v1.7h-1v2.9h-1v-.9h-1v-1.9h-1v-2.2h-1v.7h-1v.5h-1v-1.6h-1h-1v-.9h-1v1.2h-1v-1.9h-1v.3h-1v-.8h-1v1.5h-1v.7h-1v1.7h-1v4h-1v-2.4h-1v-.8h-1v1.2h-1v2.5h-1v1.3h-1v-1.1h-1v.2h-1v-4.2h-1v3.1h-1v-3.7h-1v1.7h-1v-.3h-1v1.9h-1v.5h-1v.8h-1v.7h-1v-3h-1h-1v.9h-1v-3h-1v.5h-1v2.4h-1v-.5h-1v4h-1v-1.9h-1v-1.1h-1v-2.6h-1v-2.5h-1v-.9h-1v1.6h-1v-1.1h-1v2.3h-1v2.3h-1v-2.7h-1v-.4h-1v2.9h-1v.1h-1v1.7h-1v1.6h-1v-5h-1v2.7h-1v.2h-1v-1.7h-1h-1v-.2h-1v-.4h-1v.7h-1v2.9h-1v-4.1h-1v3.3h-1v-3.4h-1v2.4h-1v.5h-1v-.8h-1v-1.2h-1v.6h-1v.5h-1v.5h-1h-1v3h-1v-4.9h-1v1.3h-1v-3.1h-1v.8h-1v.5h-1v2.1h-1h-1v-1.9h-1v.4h-1v-1.1h-1v-1.2h-1v-.2h-1v2.7h-1v-1h-1v2.2h-1v-1.4h-1v2h-1v-1.7h-1v1.7h-1v-.6h-1v.7h-1v-2.3h-1v.4h-1v-1.7h-1v.5h-1v-.8h-1v1.1h-1v.9h-1v1.5h-1v-2.9h-1v-.9h-1v4h-1v-4.5h-1v.6h-1v1.5h-1v4h-1v-7.2h-1v-1.3h-1v-.5h-1v-.9h-1v3.9h-1v-3h-1v.4h-1v.7h-1v.8h-1v-.6h-1v3.8h-1v-2.5h-1v2.2h-1v-3.7h-1v3.2h-1v-1.6h-1v-1.1h-1v.7h-1v-4.1h-1v-.5h-1v1.3h-1v1.8h-1v-2.8h-1v-.2h-1v2h-1v-1.5h-1v1.9h-1v-3.7h-1v-.6h-1v1.2h-1v2.5h-1v-4.3h-1v-.3h-1v-.6h-1v3.2h-1v-.3h-1v.4h-1v1.2h-1v.6h-1h-1v3.5h-1v1.4h-1h-1v-.9h-1v-.3h-1h-1v-.3h-1v.9h-1v-1.9h-1v3h-1v1h-1v-2.1h-1v2.2h-1v1.7h-1h-1v-1.8h-1v-1.8h-1v3.5h-1v-1h-1v2.3h-1v1.8h-1v1.4h-1v-1.5h-1v-2.4h-1v-1.7h-1v4.8h-1v1.3h-1v-4.1h-1v2.4h-1v-.8h-1v5.7h-1v-1.9h-1v2.2h-1v3.7h-1v-.4h-1v-3.1h-1v-.2h-1v-1.9h-1v2.7h-1v-1.6h-1v-2.6h-1v3.6h-1v-3.6h-1v1.4h-1v-3.9h-1v1.1h-1v-5h-1v3h-1v1.4h-1v1.2h-1v-.8h-1v-3.4h-1v3.9h-1v-1h-1v-.5h-1v-.2h-1v-1h-1v-.7h-1v2h-1v1.3h-1v-2.1h-1v.1h-1v-2h-1v2.5h-1v-.7h-1v2.7h-1v.1h-1v1.5h-1v4.2h-1v-2.9h-1v1.1h-1v1.6h-1v-2.7h-1v6h-1v-.4h-1v.9h-1v2.1h-1v1.2h-1v1.6h-1v-1.3h-1v5.1h-1v-3.8h-1v.6h-1v.2h-1v-1.6h-1v1.1h-1v-3.9h-1v2.4h-1v1h-1v.5h-1v-1.9h-1v-.6h-1v-2.9h-1v-.1h-1v.4h-1v1.5h-1v-3.9h-1v.5h-1v-2h-1v-.6h-1v1h-1v6.8h-1v-4.2h-1v-1.7h-1v-.3h-1v-.7h-1v.4h-1v-.7h-1v-.4h-1v-.9h-1v-1.4h-1v4.3h-1v-5.4h-1v2.5h-1v.6h-1v-3.1h-1v1.5h-1v.2h-1v3.4h-1v-.2h-1v-.5h-1v-.6h-1v.3h-1v-.7h-1h-1v2.3h-1v1.9h-1v-3h-1v-1.6h-1v-.8h-1h-1v1.7h-1v.6h-1v2.6h-1v-1.7h-1v-5.4h-1v-.4h-1v-1.2h-1h-1v-.1h-1v3.2h-1v3.5h-1v-1.2h-1v-1.5h-1v-1.4h-1v1.4h-1v-.8h-1v-2.5h-1h-1v1.1h-1v-.6h-1v1.8h-1v.6h-1v-1.6h-1v1.3h-1v2.6h-1v2.1h-1v-1.3h-1v1.5h-1v-7.3h-1v3.7h-1v2.9h-1v-.6h-1v-1.3h-1v-1.3h-1v-2.4h-1v.4h-1v2.2h-1v-2.6h-1v.8h-1h-1v2.4h-1v-1.7h-1v2.3h-1v-.2h-1v2.6h-1v1.5h-1v-1.9h-1v-3h-1v.9h-1v-1.2h-1v-.7h-1v1.4h-1v2.8h-1v-2.7h-1v4.5h-1v-2.1h-1v-6h-1v4h-1v-1h-1v2.5h-1v-2.9h-1v2.1h-1v-2.9h-1v-.1h-1v-1.4h-1v-.9h-1v2.1h-1v1.1h-1v-1.1h-1v-1.5h-1v-.5h-1v3.3h-1v-.8h-1v-4.3h-1v1.1h-1v1.1h-1v1h-1v1.5h-1h-1v-2.1h-1v.9h-1v1.7h-1v1.1h-1v1h-1v2.9h-1v1.7h-1v-.8h-1v1.4h-1v-.5h-1v.6h-1v-2.2h-1v-1.7h-1v.6h-1v-.4h-1v.8h-1v-4.6h-1v1.5h-1v-1.8h-1v.1h-1v.8h-1v2.3h-1v.6h-1v1.6h-1v-1.4h-1v.3h-1v-.8h-1v.7h-1v1.5h-1v.9h-1v.1h-1v-.5h-1v1.3h-1v1.2h-1v-.8h-1v.8h-1v1.2h-1v-3.1h-1v-.3h-1v.6h-1v-.2h-1v-1.7h-1v-.2h-1v-1.3h-1v3.6h-1v-.5h-1h-1v-3.2h-1v.1h-1v-2.2h-1v1.4h-1v-.1h-1v3.4h-1v-5.6h-1v-2.2h-1v.2h-1v2.2h-1v-.7h-1v-2.1h-1v-.4h-1v-.4h-1v.6h-1v-.6h-1v.3h-1v-2.2h-1v1.3h-1v.2h-1v-.6h-1v-2.7h-1v-.7h-1v.8h-1v-1.9h-1v.6h-1v3.6h-1v.9h-1v2h-1v-3.8h-1v1h-1v-1.7h-1v3.1h-1v3.2h-1v-3h-1v.4h-1v1.8h-1v-.1h-1v-.4h-1v2.3h-1v-.7h-1v-2.2h-1v.7h-1v2.7h-1v1.9h-1v-1h-1v.3h-1v-4.2h-1v1.6h-1v.3h-1v-2.1h-1h-1v.1h-1v1.1h-1v-.4h-1h-1v.4h-1v-1.3h-1v.9h-1v4.3h-1v-1.6h-1v-1.5h-1v.4h-1v2.2h-1v-.4h-1v-.2h-1v-4.8h-1v2.2h-1v2.8h-1v.5h-1v1.8h-1v-2.5h-1v-2.5h-1v-1.4h-1v1h-1v-.7h-1v.4h-1v-2.5h-1v.3h-1v.7h-1v-3h-1v.1h-1v-4h-1v5.4h-1v.7h-1v-4h-1v.1h-1v-2.9h-1v-1.4h-1v.3h-1v-1.6h-1v2.8h-1v.2h-1v4.4h-1v-.7h-1v-2.1h-1v-.8h-1v.4h-1v4.6h-1v.7h-1v-1.9h-1v.9h-1v-2.4h-1v2.6h-1v-1.2h-1v.9h-1v-1.4h-1v1.1h-1v-1.2h-1v1.4h-1v2.6h-1v3.4h-1v.3h-1v-.1h-1v2.9h-1v-4.8h-1v3.3h-1v2.2h-1v-.5h-1v-.2h-1v2.2h-1v.6h-1v1.9h-1v-.3h-1v-.3h-1v.6h-1v-1.1h-1v-.9h-1v3.9h-1v-1.3h-1v-1.2h-1v1.2h-1v-4.1h-1v3h-1v-.3h-1v4.7h-1v-3.7h-1v-.3h-1v2.2h-1v.2h-1v-.3h-1v.8h-1v-2.4h-1h-1v-.1h-1v-.2h-1v2.1h-1v1.8h-1v-1.1h-1v-.9h-1v5h-1v.9h-1v1.8h-1v-1.2h-1v-.4h-1v2.8h-1v-1.8h-1v-1.3h-1v1.2h-1v-1.7h-1v-1.1h-1v2.2h-1v1.3h-1v5h-1v-2.5h-1v-5h-1v-.6h-1v.7h-1v1.7h-1v.7h-1v.9h-1v-1.8h-1v.8h-1v.1h-1v.6h-1v-3.1h-1v.3h-1v-.4h-1v3h-1v-.1h-1v-1.8h-1v-.7h-1v.6h-1v-.2h-1v-1h-1v3.3h-1v-5.4h-1v3h-1v.8h-1v.3h-1v.7h-1v3.4h-1v2.9h-1v1.8h-1v1.8h-1v-.3h-1v-.2h-1v5.5h-1v2.5h-1v1.7h-1v1.1h-1v-2.4h-1v5.9h-1v.3h-1v1.6h-1v.7h-1v7.1h-1v-1.3h-1v-2.7h-1v4.2h-1v-.9h-1v4.2h-1v-.9h-1v.9h-1v5.7h-1v-4.5h-1v2.4h-1v-.5h-1v-1h-1v2h-1v.1h-1v-.4h-1v1.6h-1v.9h-1v.4h-1v-1.5h-1v.3h-1v.1h-1v5.2h-1v2.3h-1v1.9h-1v-1.2h-1v.4h-1v3.2h-1v-4.3h-1v3.1h-1h-1v-1.5h-1v2.6h-1v-2.4h-1v-.6h-1v6.4h-1v2.6h-1v-2.5h-1v-.6h-1v3.6h-1v.6h-1v-2.5h-1v1.2h-1v-1.2h-1v2.1h-1v-3.1h-1v2h-1v-3.5h-1v4.3h-1v-2.9h-1v4.2h-1v4h-1v5.3h-1v2.3h-1v.9h-1v2.6h-1v2.7h-1v8.6h-1v.6h-1v1.1h-1v3.2h-1v.4h-1v2h-1v-.3h-1v3.7h-1v3.1h-1v6.1h-1v7.5h-1v5.7h-1v9.4h-1v3.3h-1v3.8h-1v-.2h-1v.1h-1v6.8h-1v.8h-1v-1.1h-1v1.7h-1v2.4h-1v-3h-1v.1h-1v-.4h-1v-1h-1v-2.4h-1v2.5h-1h-1v2.8h-1v.4h-1v.9h-1v-1.3h-1v.6h-1v.8h-1v2h-1v4.1h-1v1.7h-1v-1.8h-1v-.9h-1v.9h-1v-1.8h-1v2.9h-1v2.9h-1h-1v-1.3h-1v2.9h-1v-.3h-1v4.6h-1v.1h-1v2.4h-1v-3.3h-1v1.2h-1v.8h-1v-2h-1v.5h-1v-7.6h-1v-1.7h-1v6.4h-1v1.3h-1v.2h-1v8.8h-1v-1.5h-1v5.9h-1v3.8h-1v4.1h-1v5.2h-1v3.8h-1v5.8h-1v6.6h-1v8.7h-1v12.7h-1v11.5h-1v18h-1v24.8h-1v-.6h-1z"/>
<path class="c" fill="#006ae0" stroke="#006ae0" d="M171.5 964.8h1v-1.3h1v-2.3h1v-2.3h1v-.4h1v-1.5h1v1.7h1v-2h1v-1.3h1v-.7h1v-.7h1v-2.3h1v3.4h1v-1.2h1v2.6h1v-1.3h1v-.4h1v-.2h1v-.7h1v.9h1v-1.2h1v1.6h1v-.9h1v-.4h1v-.1h1v-3.7h1v-3h1v1.8h1v1.7h1v-3.3h1v1.4h1v-.7h1v-.5h1v.8h1v-.9h1v1h1v-1h1v2h1v-3.4h1v-1.3h1v-1.4h1v-.7h1v-.4h1v1.1h1v-1.8h1v-1.6h1v2.8h1v-.9h1v-1.6h1v-2.7h1v2.4h1v-2.1h1h1v.4h1v-.7h1h1v-1.5h1v.8h1v-.5h1h1v-1.5h1v.6h1v-.8h1v-3.3h1v.7h1v1h1v.3h1v-2.8h1v1.6h1v-1h1v-.4h1v2.9h1v-.1h1v-.5h1v.6h1v.3h1v-4.8h1v4.7h1v-.6h1v.1h1v2.6h1v.9h1v-4.8h1v.2h1v1.5h1v.3h1v.7h1v-1.1h1v2.3h1v-1.4h1v.7h1v-1.6h1v1.7h1v.5h1v1.6h1v-.8h1v-3.6h1v2.4h1v.1h1v-2.5h1v1.7h1v-.7h1v-1.2h1v.2h1v1.2h1v-.2h1v-1.4h1v2h1v.5h1v.1h1v-.8h1v-.6h1v1.3h1v-1.3h1v-.6h1v.6h1v5.9h1v5.9h1v1h1v2h1v.2h1v.1h1v.5h1v-1.1h1v.8h1v-.8h1v-.4h1h1v-.7h1v-2.1h1v1.2h1v-1.6h1v-.2h1h1v1.9h1v-.5h1v1.8h1v-.2h1v.1h1v-2.7h1v2.3h1v-1.4h1v2.3h1v-1.2h1v-.9h1h1v-1.3h1v1.3h1v-2h1v1.3h1v2.2h1v-2.7h1v1.4h1v-2.3h1v-1.9h1v4.3h1v1h1h1v-2.1h1v.6h1v-1h1v1.3h1v-.5h1v.1h1v-6.2h1v8.6h1v-2h1v-.6h1v1.4h1v.4h1v-.8h1v-2.5h1v-7h1v-10.9h1v-10.8h1v-8.9h1v-10.2h1v-10.1h1v-9.9h1v-8.7h1v-11h1v-8.1h1v-9.8h1v-6.8h1v-1.8h1v-3.9h1v-3.1h1v2.2h1v5h1v2.5h1v-.3h1v1.6h1v-3.7h1v-9.8h1v-7.8h1v1.1h1v-1.5h1v4.3h1v-3.2h1v1.9h1v-1.4h1v.7h1v.4h1v2.3h1v-.3h1v-3.7h1v1.6h1v-.9h1v1.2h1v.4h1v-2.6h1v1.1h1v1.1h1v-2.1h1v-3.4h1v-.1h1v1.2h1v-1.7h1v1.3h1v.5h1v-2h1v-1.2h1v-2.7h1v1.5h1v.7h1v.8h1v-1h1v-1.5h1v-1.4h1v-1.5h1v-4.5h1v2.3h1v1.3h1v-3.4h1v2.2h1v-1.9h1v2.5h1v2.1h1v-2.8h1v-1.1h1v2.1h1v-2.1h1v1.5h1v-.9h1v2.3h1v-1.8h1v-2.1h1v-1.6h1v-.5h1v-.1h1v2.2h1v-2.3h1v1.8h1v2h1v-.9h1v1.1h1v-.4h1v2.4h1v-4.5h1v4.6h1v-3.1h1v1h1v-3.2h1v1.7h1v-.2h1v3.2h1v-1h1v-.7h1v-1h1v-2.8h1v-.7h1v2.5h1v.3h1v-.1h1v-1.1h1v.9h1v3.2h1v-2.3h1v.8h1v-.2h1v1.7h1v-.7h1v-.8h1v1.1h1v-3h1h1v1h1v-1h1v-2h1v-1.3h1v1.1h1v2h1v1.4h1v-5.2h1v3.9h1v-.6h1v1.6h1v-.8h1v-.9h1v-1.3h1v-.4h1v-.6h1v3.8h1v-3.1h1h1v2.1h1v1.7h1v-2.5h1v1.3h1v-1.9h1v2.8h1v-.1h1v.2h1v1h1v-1.7h1v.2h1h1v.7h1v2.2h1v-.5h1v-.2h1v1.1h1v1h1h1v-1.5h1v-.2h1v-.4h1v3.6h1v-1h1v-1.4h1v-.3h1v1.1h1v1.5h1v.2h1v-2.4h1v3.8h1v-1.7h1v-.4h1v-1.7h1v-.7h1v1.9h1v-.4h1v1h1v-2h1v1.8h1v-1.8h1h1v1.4h1v-2.4h1h1v.5h1v1.7h1v-.8h1v-2.4h1h1v1.4h1v-.5h1v-1.9h1v2.5h1v-2.5h1v.3h1v-1.4h1h1v.1h1v.5h1v-1.8h1v.5h1v1.4h1v1.5h1v1.7h1v-5.9h1h1v-.1h1v2.1h1v.1h1h1v.3h1v1h1v.1h1v-4h1v-2.7h1v2.5h1v-1.2h1v2.4h1v-.8h1v-.1h1v-.3h1v-.4h1v1.7h1v2.4h1v.5h1v1.5h1v-2.9h1v.2h1v-1.4h1v2.5h1v-2.3h1v-.4h1v-1.5h1v1.4h1v-1.8h1v3.6h1v.7h1v-4h1v2.3h1v.4h1v-1.7h1v-1.6h1h1v.8h1v.4h1v2h1v.2h1v-1.7h1v-.5h1v-.4h1v.4h1v.3h1v.9h1v1.6h1v-1.6h1v1.5h1v-1.8h1v2.8h1v-.8h1v-1.4h1v-3.7h1v2.5h1v1.4h1v.2h1h1v2.8h1v.8h1v-.1h1v-2h1v-.8h1v-.8h1v-3.9h1v.2h1v-.1h1v-.5h1v-1.4h1v-3.2h1v5h1v-.4h1v-3.4h1v-.6h1v3h1v-3.5h1h1v1.7h1v-1.6h1v-1.7h1v2.8h1v-2.1h1v-1.4h1v-1.5h1v2.9h1v-.9h1v-.7h1v-.6h1v1.2h1v-.5h1v-.4h1v3.3h1v-2.5h1v-1.5h1v1.4h1v.7h1v-1.7h1v-.5h1v-1.7h1v2.5h1v.4h1v-2.5h1v-.6h1v1.6h1v.3h1v1.7h1v1.3h1v2.4h1v-2.2h1v-.4h1v-1.1h1v-1.8h1v.2h1v3.9h1v-1.1h1v.3h1v.2h1h1v-1.3h1v.1h1v.4h1v-.9h1v-.9h1v-.5h1v-2.1h1v2.7h1v-.2h1v-2.5h1v2.5h1v-.8h1v1.2h1v4h1v-.8h1v.9h1h1v2.3h1v-1.4h1v.1h1v3.9h1v-1.5h1v-2.3h1v-1h1v.1h1v4h1v-4.4h1v-1.3h1v2.6h1v.9h1v-1h1v.3h1v.1h1v1.8h1v-1.7h1v1.6h1v1.9h1h1v.1h1v-3h1v3.9h1v-2.2h1v-1.3h1v2.5h1v-1.6h1v-.8h1v-1.4h1v.6h1h1v-4.9h1v-2.4h1v-.5h1v-2.5h1v-.5h1v1.4h1v.2h1v-2h1v1.2h1v-1.4h1v-2.2h1v.1h1v-3.2h1v.9h1v3.7h1v.3h1v-.7h1v4.6h1v.2h1v2.8h1v-.2h1v.9h1v-3.1h1h1v1.7h1v.6h1v-.6h1v-.1h1v.4h1v-.7h1v-1.3h1v3.7h1v-1h1v-1.8h1v-1.1h1v1.6h1v.6h1v-1.7h1v3.3h1v-2.1h1v1.4h1v-.1h1v-.7h1v-.3h1v-1.5h1v1h1v-.1h1v-1.6h1v.1h1v3.3h1v2.4h1v-.9h1v-.6h1v-1.1h1v.1h1v-2.4h1v5.3h1v-1.9h1h1v2.3h1v-1.7h1v-.5h1v-.6h1v-1.9h1h1v1h1v-.6h1v-.6h1v-2h1h1v-.5h1v-.6h1v-.2h1h1v-2.3h1v1.8h1v-.8h1v.5h1v-3h1v-.3h1v-.3h1v3.4h1v-3.7h1v.3h1v-1.1h1v.9h1v3.5h1v-1.3h1v-1.1h1v2.9h1v-.1h1v1.5h1v-6.7h1v3.3h1v2.3h1v-1.6h1v2.6h1v1.3h1v-1.3h1v.7h1v-2.1h1v-.3h1v.4h1v-.8h1h1v.3h1v-1.5h1v1.6h1v-1.1h1v-.3h1v-3.4h1v3.1h1v-.6h1v-2.2h1v-.9h1v-.2h1v-.3h1h1v2h1v-3.1h1v.2h1v-.4h1v-3.2h1v2.4h1v3.3h1v1.1h1v-.7h1v-1.8h1v.9h1v.9h1v-2.2h1v-2h1v.8h1v.1h1v-.4h1v.6h1v-.5h1v1.3h1v-.6h1v1.9h1v-.1h1v-.3h1v-1.3h1v.2h1v-1.1h1v1.2h1v-.6h1h1v3.5h1v-.9h1v1.5h1v-1.7h1v1.9h1v-3.4h1v2.4h1v-1h1v2.3h1v2.1h1v-3.6h1v.8h1v1.1h1v.5h1v-.3h1v-1.2h1v-1.3h1v-1.1h1v1.5h1v1.6h1v.9h1v-3.1h1v-.8h1v2h1v1.1h1v-2.3h1v-.3h1v-2.8h1v.9h1h1v.2h1v.5h1v.5h1v-1.6h1h1v2.2h1v-.4h1v-.6h1v2h1v-.9h1v.4h1v1.3h1v-1.9h1v-1.9h1v.8h1v1.3h1v-1.2h1v-1.1h1v.1h1v.1h1v.6h1v1.4h1v.2h1v-.7h1v-.2h1v-2.5h1v2.6h1v-1.5h1v-3.6h1v4.1h1v1.1h1v-1.3h1v1.3h1v.6h1v1.6h1v-1.8h1v-1.7h1v1.9h1v-3.2h1h1h1v-.8h1v2.9h1v-.8h1v1.1h1v4.3h1v-2.1h1v1h1v-1.8h1v.3h1v-.3h1v2h1v-.5h1v.4h1v2.1h1v-.9h1v-2h1v-3.3h1v1.2h1v2.5h1v1.4h1v-3.8h1h1v5.7h1v.2h1v-1.2h1v-1h1v-.5h1v.6h1v-2.8h1v3.6h1v-1.5h1h1v1.3h1v-1h1v-.1h1v-1.4h1v.9h1v-1.9h1h1v1.1h1v.4h1v.1h1v-.1h1v-.8h1v.8h1v-.4h1v-1.5h1h1v-.7h1v.7h1v1.1h1v.1h1v-.4h1v-1.6h1v.5h1v2.2h1h1v-1.3h1v-.7h1v2.6h1v-.3h1v-1.4h1v2.7h1v-.2h1v-1.7h1v-2.4h1v2.7h1v-1.1h1v-.1h1v.1h1v-3h1v3.6h1v.5h1v.5h1v-.7h1v2.7h1v-3.7h1v2.3h1v-1.3h1v.4h1v-.3h1v-.8h1v-1.5h1v.4h1v3h1v-1.9h1v.4h1v-1.7h1v1h1v1.2h1v-1.5h1v-.1h1v1.4h1v-.7h1v1.3h1v.8h1v-.9h1v-2.5h1v1.1h1v1.8h1v2.7h1v-2.5h1v.3h1v.9h1v1h1v-2.2h1v-.4h1v-1.3h1v.4h1v-.9h1v.3h1v1h1v-3.3h1v1h1v-2.4h1v1.3h1h1v-1.9h1v-.7h1v-.4h1v.8h1v.6h1v.9h1v-2.7h1v1.5h1v1.8h1v-3.5h1h1v3.3h1v.2h1v-.7h1v-.9h1v-2h1v-.6h1v.2h1v.7h1v-.3h1v-1.2h1v3.1h1v-.8h1v-1.3h1v.4h1v.5h1v-2.2h1v1.5h1v.5h1v2.6h1v-2h1v1.6h1v.7h1v1h1v-3.7h1h1v2.5h1v1.5h1v.5h1v-1.8h1v-1.5h1v.8h1v.3h1v.3h1v-1.3h1v1.4h1v2.3h1v-.6h1v-1h1v3.3h1v-.9h1v-1.4h1v-.4h1v9.8h-1v-1.2h-1v1.7h-1v.4h-1v-3.3h-1v-.1h-1v1.8h-1v-.8h-1v.9h-1v-.1h-1v-.7h-1v-.8h-1v-1.4h-1v3.2h-1v.5h-1v-1.1h-1v-3.2h-1v2.6h-1v-3.6h-1v3.7h-1v-.9h-1v-3h-1v1h-1v2.9h-1v-1.8h-1v-3.8h-1v2h-1v1.9h-1v-1.1h-1v-1.6h-1v.6h-1v.4h-1v-1.9h-1v1.8h-1v.2h-1v-3.4h-1v1.4h-1v1.9h-1v-1h-1v3.4h-1v1.2h-1v-1.2h-1v-1.5h-1v-1.2h-1v1.8h-1v.3h-1v-1.7h-1v-.4h-1v-.3h-1v2.2h-1h-1v-2.4h-1v2h-1v2h-1v-1.4h-1v.8h-1v.5h-1v4h-1v-1.6h-1v-.2h-1v.4h-1v-.4h-1v1.1h-1v1.1h-1v1.6h-1v-.5h-1v1h-1v-1.5h-1v.2h-1v1.7h-1v-2.5h-1v-.6h-1v-.1h-1v-.4h-1v1.8h-1v-.9h-1v-2.5h-1v2.3h-1v1.2h-1v.1h-1v-3.7h-1v2.7h-1v-3.8h-1v2h-1v.1h-1v-.8h-1v.9h-1v.9h-1v-.4h-1v1.9h-1h-1v-2.3h-1v1h-1v.5h-1v.2h-1v-.7h-1v-1.6h-1v1.7h-1v-1.4h-1v-2h-1v2.2h-1v.4h-1v-2.6h-1v1.9h-1v.3h-1v.5h-1v1h-1v.1h-1v-3h-1v2.3h-1v-1.7h-1v.6h-1v.5h-1v-.1h-1v-1.9h-1v2.3h-1v-1.3h-1v-.1h-1v1h-1v.4h-1v.8h-1v-3.2h-1v1.8h-1v.3h-1v-.3h-1v.9h-1v.1h-1v-.7h-1v1.3h-1v-1.3h-1h-1v-.3h-1v-.5h-1v1.9h-1v-.8h-1v1.4h-1v1h-1v.2h-1v-2.6h-1v-.5h-1v2.4h-1v-1.2h-1v-.7h-1v.2h-1v.4h-1v1.2h-1v1.3h-1v-2.4h-1v-.9h-1v2.1h-1v-1.3h-1v.3h-1v-1.3h-1v-2h-1v5.6h-1v-3.6h-1v3.5h-1h-1v-3.2h-1v.8h-1v-1.4h-1v1.4h-1v-1.3h-1v.2h-1h-1v-.2h-1v-1.1h-1v-1.1h-1v-1.5h-1v-1.6h-1v-1.1h-1v2.6h-1h-1v1.4h-1v.2h-1v.1h-1v-.7h-1v-.1h-1v2.1h-1v-1.9h-1v1.9h-1v-.2h-1v-5.1h-1v2.6h-1v.3h-1v.4h-1v.8h-1v-2h-1v1.1h-1v1.3h-1v-.1h-1v-1.2h-1v.3h-1v2.3h-1v-3.6h-1v4.4h-1v-2h-1v-2.3h-1v2.7h-1v2h-1v-.9h-1v-2h-1v.1h-1v-1.1h-1v1.1h-1v.4h-1v-.7h-1v-1.3h-1v2.5h-1v-2h-1v-.4h-1v.1h-1v-.5h-1v-.3h-1v1.4h-1v4h-1h-1v.2h-1v-2.9h-1v-.3h-1v2.2h-1v1h-1v-2.2h-1v-.2h-1v1.3h-1h-1v1.6h-1v-2.6h-1v.5h-1v1h-1v-.5h-1v.8h-1v-.7h-1v.3h-1v-2h-1v-.8h-1v.4h-1v1.5h-1v-.6h-1v.6h-1v-1.6h-1v-1.5h-1v.8h-1v-.8h-1v-1.1h-1v.9h-1v2.1h-1v-.3h-1v-.4h-1v1.8h-1v-4.4h-1v1.4h-1v1h-1v.7h-1v-1.5h-1v-.8h-1v-1.2h-1h-1v2.7h-1v.2h-1v1.3h-1v-1.2h-1v1h-1v-1.2h-1h-1v1h-1v-3.6h-1v-1.3h-1v5.1h-1v-2h-1v2.3h-1v-.4h-1v-1.7h-1v.1h-1v3h-1v.3h-1v.3h-1v-.8h-1v.7h-1v1.5h-1v1h-1v.2h-1v-.9h-1v-.8h-1v2h-1v-.1h-1v-.9h-1v-.4h-1v2.9h-1v-.3h-1v1.5h-1v-1.9h-1v-1.8h-1v2.1h-1v-1.3h-1v-1.9h-1v1.8h-1v.4h-1v-.4h-1v.2h-1v-1.9h-1v.1h-1v.1h-1v-.1h-1v-3.3h-1v.3h-1v2.5h-1v2.6h-1v-3.7h-1v1.3h-1v-1.5h-1v2.3h-1v-1h-1v1.5h-1v2.6h-1v-.6h-1v-.6h-1v.6h-1v.6h-1v.3h-1v1.9h-1v2.1h-1v1.2h-1v-3.3h-1v-.3h-1v.4h-1v.6h-1v2.1h-1v1.8h-1v1.5h-1v-2.8h-1v-.5h-1v1.2h-1v1.3h-1v-1.4h-1v-2.6h-1v3.9h-1v-1.1h-1v-2h-1v-1.2h-1v-1.7h-1v1.1h-1v-.7h-1v.9h-1v-.9h-1v2.7h-1v-.2h-1v-.2h-1v1.6h-1v-2h-1v-1.1h-1v1.8h-1v-2.6h-1v.2h-1v-2.2h-1v.5h-1v2.1h-1v1.1h-1v-.8h-1v-.4h-1v.2h-1v-.2h-1v1.4h-1v-2.4h-1h-1v.8h-1v-.3h-1v.7h-1v-.4h-1v-.7h-1v2.3h-1v-4.5h-1v-2.6h-1v.9h-1v-.4h-1v-2.8h-1v-1.1h-1v1.2h-1v2.5h-1v-.2h-1v1.7h-1v1h-1v-.5h-1v-.3h-1v-1.2h-1v.3h-1v2.7h-1v3.8h-1v2h-1v.9h-1v2.6h-1v.1h-1v.1h-1v.6h-1v1.8h-1v-2.9h-1v2.1h-1v1.7h-1v-2.4h-1v3h-1v-.5h-1v-2h-1v-1.6h-1v-1.7h-1v1.9h-1v-2.1h-1v-.4h-1v.6h-1v1.1h-1h-1v-1h-1v1.7h-1v1.8h-1v-3.8h-1v-1.2h-1v1.6h-1v.4h-1v1.2h-1v.5h-1v-4h-1v-.4h-1v2.3h-1v-3.3h-1v2.5h-1v-3.2h-1v1.3h-1v-4.6h-1v2.8h-1v-2h-1v.1h-1v.4h-1v-1.9h-1v1h-1v2.1h-1v-1.1h-1v.5h-1v-.4h-1v.1h-1v3.9h-1v-2.6h-1v1.9h-1v-1.1h-1v.2h-1v-2.2h-1v-.8h-1v-.2h-1v.8h-1v.4h-1v3.6h-1h-1v-3.8h-1v-.4h-1h-1v.1h-1v-1.3h-1v1h-1v-.6h-1h-1v.6h-1v.9h-1v.6h-1v-.3h-1v1.8h-1v-2.6h-1v.7h-1v.5h-1v-2.2h-1v1.7h-1v1.2h-1h-1v-2.2h-1v2.2h-1v-1.3h-1v.5h-1v1.5h-1h-1v-1.1h-1v-1.3h-1v2.1h-1v-.1h-1v1.3h-1v2.4h-1v-1.7h-1v-.3h-1v2.9h-1h-1v-2h-1v1.4h-1v-.5h-1v1h-1v-1.9h-1v4h-1v-.7h-1v2.5h-1v2.3h-1v1.3h-1v-.6h-1v-1.9h-1v.7h-1v-2.1h-1v2.7h-1v-2.2h-1v-.8h-1v2.1h-1v-.1h-1v-.1h-1v-.2h-1h-1v-.3h-1v1.8h-1v-4h-1h-1v.3h-1v1.5h-1v-.3h-1v-1.8h-1v1.4h-1v-.3h-1v-.2h-1v.1h-1v-2.8h-1v2.2h-1v3.1h-1v-2.3h-1v-.6h-1v2.4h-1v.4h-1v-1.6h-1v-3h-1v2.2h-1v-2h-1v2.6h-1v2.5h-1v-.8h-1v.3h-1v1.5h-1v1.9h-1v.1h-1v-3.7h-1v.7h-1v-4h-1v2.4h-1v-1.3h-1v-.1h-1v-2.7h-1v1.5h-1v2.3h-1v.8h-1v-2.5h-1v2.3h-1v.4h-1v-.7h-1v3.3h-1v-3.1h-1v3.3h-1v-2.8h-1v-.2h-1v-1.2h-1v2.2h-1v1.9h-1v-1.7h-1h-1v-.8h-1v-.6h-1v.2h-1v1.5h-1v2.3h-1v-1.8h-1v-.4h-1v1.7h-1v-.9h-1v-.3h-1v4.4h-1v-1.4h-1v-3.1h-1v.3h-1v2.6h-1v-1.2h-1v-1.2h-1v.3h-1v2.7h-1h-1v-.2h-1v-.1h-1v2.3h-1v-3.2h-1v.7h-1v-.5h-1v2.2h-1v-2.3h-1v2.2h-1v.9h-1v-1.8h-1v-.3h-1v.6h-1v-.5h-1v-2h-1v.3h-1v.9h-1v-1.1h-1v2.6h-1v-2.1h-1v3.3h-1v-1.2h-1v-3.1h-1v.9h-1h-1v-.6h-1v-.4h-1v1.4h-1v-.8h-1v-2h-1v.5h-1v-2.4h-1v.2h-1v.7h-1v-.6h-1h-1v-1.2h-1v.2h-1v.4h-1v.4h-1v2.6h-1v-.1h-1v-3.5h-1v-.8h-1v.2h-1v-.1h-1v1h-1v-.2h-1v1.7h-1v-.4h-1v2.6h-1v-2.6h-1v-2h-1v.6h-1v.5h-1v.6h-1v-.1h-1v1h-1v-2.9h-1v1.4h-1v1.3h-1v-2.7h-1v2.9h-1v.4h-1v2.5h-1v-2.7h-1v-.1h-1v1.8h-1h-1v-.3h-1v.4h-1v-2.2h-1v1.3h-1v.9h-1v-1.2h-1v-2.8h-1v-1.6h-1v1.5h-1v2.5h-1v.9h-1v-.5h-1v1.2h-1v-2h-1v-.1h-1v1.6h-1v-.3h-1v-.9h-1v1.8h-1v-1.6h-1v.9h-1v-.2h-1v-.8h-1v.6h-1v-.7h-1v.1h-1v-2.1h-1v1h-1v-.7h-1v1.4h-1v-.5h-1v-.3h-1v1.8h-1v1.2h-1v.1h-1v-2.1h-1v1.3h-1v.1h-1v-2.2h-1v4.4h-1v-.5h-1v2.3h-1v-5.2h-1v2h-1v-2.1h-1v2.7h-1v-1.7h-1v2.6h-1v2.2h-1v-.4h-1v4.1h-1v-1.2h-1v.7h-1v.4h-1v-.8h-1v-1h-1v1.3h-1v1h-1v2.3h-1v-.9h-1v-.1h-1v.6h-1v-.1h-1v1.8h-1v2.1h-1v.3h-1v.4h-1v.7h-1v-.5h-1v2.8h-1v-3.6h-1v1h-1v3.3h-1v-2.2h-1v.7h-1v-2.4h-1v.6h-1v.3h-1v-2.1h-1v3h-1v2.4h-1v-5.3h-1v-.3h-1v2.3h-1v13h-1v4.8h-1v-1h-1v.6h-1v-1.2h-1v-1.4h-1v-1.8h-1v-2.3h-1v-1.7h-1v2.7h-1v5h-1v11.5h-1v7.4h-1v10.7h-1v8.5h-1v9.7h-1v7.8h-1v10.2h-1v10.1h-1v11.3h-1v10h-1v8.3h-1v4.8h-1v4.1h-1v-.1h-1v.4h-1v-.4h-1v-.5h-1v.7h-1v.8h-1v-1.6h-1v-.7h-1v-.7h-1v2.9h-1v1.2h-1v.7h-1v-.7h-1v-3.5h-1v.2h-1v-1.6h-1v-.9h-1v2.6h-1v.9h-1v-.7h-1v.2h-1v-1.7h-1v-.4h-1v2.1h-1v-.5h-1v2.5h-1v.2h-1v-3.6h-1v2h-1v.4h-1v2.3h-1v-1.8h-1v.1h-1v1.3h-1v-4h-1v1h-1v.2h-1v.5h-1v-.4h-1v.8h-1v-.6h-1v1.2h-1v.6h-1v.3h-1v.4h-1v-.3h-1v-.6h-1h-1v-.4h-1v.2h-1v-.5h-1v-1.5h-1v-.3h-1v-.3h-1v-13.5h-1v2.5h-1h-1v-.5h-1v-.5h-1v.2h-1v1.4h-1v4h-1v.8h-1v-5h-1v1.3h-1v-2.2h-1v1.3h-1v-1.6h-1v.8h-1v-.1h-1v-1.1h-1v1.6h-1v.3h-1v-.3h-1v1.2h-1v2.4h-1v-2.9h-1v3h-1v-3.5h-1v3.3h-1v-.1h-1v-1.4h-1v-1.7h-1v-2.4h-1v2h-1v-1.2h-1v1.1h-1v-.3h-1v1.5h-1v.3h-1v.1h-1v-1h-1v-2.4h-1v1.1h-1v.8h-1v-1.7h-1v.9h-1v-.7h-1v-.9h-1v2.5h-1v-1.4h-1v-1.6h-1v-.5h-1v2.2h-1v1h-1v-2.6h-1v-1.3h-1v2.2h-1v.8h-1v2.9h-1v1h-1v.4h-1v-.7h-1v-1.7h-1v4.3h-1v-1.9h-1h-1v1.7h-1v-1.9h-1v2.6h-1v-.3h-1v1.3h-1v-1h-1v.9h-1v-.7h-1v.7h-1v2.2h-1v-.5h-1v.8h-1v.7h-1v.1h-1v-.3h-1v4.1h-1v.3h-1v1.5h-1v-2.2h-1v.5h-1v.2h-1v.1h-1v.7h-1v-.3h-1v3.2h-1v-2.6h-1v-.7h-1v3.1h-1v.5h-1h-1v2.9h-1v-2.7h-1v2h-1v.9h-1v.1h-1v-.2h-1h-1v.3h-1v1h-1v-2h-1v-2.2h-1v1.9h-1v.3h-1v.5h-1v-.4h-1v.9h-1v2.3h-1v-.5h-1v3.4h-1v-2.8h-1v4.7h-1v-2.2h-1h-1z"/>
<path class="c" fill="#00a865" stroke="#00a865" d="M171.5 953.9h1v-4.7h1v-5.4h1v-2.2h1v-4.8h1v-4.4h1v-3.7h1v-5.3h1v-2.2h1v-3h1v-4.8h1v-3.7h1v-1.8h1v-2.1h1v-4.2h1v-.1h1v-3.9h1v-1.9h1v-1h1v-6.1h1v-.7h1v.6h1v-1.5h1v.4h1v-5.4h1v-3.9h1v-7.3h1v-6.5h1v-5.1h1v-6.5h1v-.7h1v-5h1v-.1h1v-.8h1v-1.3h1v-2.6h1v-3.8h1v.4h1v-1.1h1v-.5h1v.3h1v-1.8h1v2.2h1v-1.1h1v-1.7h1v-1.8h1v3.4h1v-.1h1v.3h1v-2.1h1v.5h1v.3h1v2.2h1v-2.7h1v-.9h1v-1.7h1v.1h1v2.2h1v1.4h1v-2.7h1v.1h1v-3.5h1v.7h1v-2.3h1v3.4h1v.4h1v-4h1v-1.4h1v3.4h1v-.7h1v-4h1v1.9h1v-.7h1v-.9h1v2.7h1v-2.8h1v-1.3h1v3.4h1v-2.5h1v3.7h1v-3h1v2.1h1v2.6h1v2.2h1v1.1h1v-3h1v3.2h1v.6h1v-2.2h1v1.2h1v-2h1h1v1.4h1v1.6h1v-6h1v.7h1v.5h1v-.6h1v-3.6h1v2h1v-2.8h1v.7h1v-1.3h1v.3h1v-2.4h1v3.6h1v-2.4h1v-.2h1v-.2h1v-.4h1v-.8h1v-.9h1v-.2h1v2.2h1v-3.6h1v.8h1v2.9h1v-5.5h1v4.4h1v.2h1v.7h1v-1.5h1v-.8h1v.4h1v3.7h1v-.9h1v-.4h1v-.1h1v-3h1v-4.4h1v-1.3h1v4.6h1v-2.8h1v-1.6h1v-1.3h1v-1.8h1v3.3h1v-2.3h1v-.7h1v-1.5h1v3.8h1v.4h1v.5h1v-2.5h1v-.8h1v5.1h1v.9h1v.7h1v2.7h1v-2.9h1v-4.2h1v-.8h1v-5.5h1v-.2h1v-1.1h1v-4.4h1v-5.6h1v-.6h1v-5h1v-2h1v-1h1v-.4h1v1.2h1v3.4h1v-.5h1v1.6h1v-1.5h1v-1.7h1v.8h1v-.1h1v-4h1v-.5h1v-.9h1v-2.9h1v-4.7h1v-1.4h1v-1.3h1v-3.1h1v-.8h1v-1.7h1v-3.5h1v.2h1v-2.6h1v-1h1v3.1h1v-5.2h1v-1.6h1v-1.8h1v.2h1v-1.8h1v1.6h1h1v.3h1v2.8h1v-2.8h1v1h1v-4.9h1v-2.6h1v-8.2h1v-.1h1v-4.1h1v-4.5h1v-.4h1v-7.4h1v-7h1v1h1v2.5h1v-.4h1v-.4h1v4.9h1v-4.8h1v-13.9h1v-15.7h1v-13.9h1v-17.3h1v-17.4h1v-16.5h1v-16.2h1v-11.9h1v-3.2h1v-2.8h1v-2.1h1v-3.6h1v-4.3h1v-2.5h1v-8.7h1v-14.9h1v-15.6h1v-16.5h1v-13.7h1v-6.1h1v-8.8h1v-8.3h1v-6.3h1v-6h1v.2h1v-3.6h1v-.8h1v-3.7h1v-6h1v2.9h1v-2.8h1v-1h1v-1h1v-1.9h1v-.5h1v-1.4h1v-2.8h1v-1.6h1v-5.5h1v-1.3h1v-4h1v-4h1v5.1h1v-4.7h1v2.9h1v-1.9h1h1v-4.4h1v.4h1v-.4h1v-5h1v-3.2h1v.4h1v-4.4h1v2.6h1v1.3h1v.6h1v.5h1v-4.7h1v-.4h1v-2.6h1v2.9h1v1.7h1v1.4h1v-1.5h1v.7h1v3h1v-.1h1v.9h1v1.5h1v-1.5h1v1.8h1v1.1h1v-1h1v1.1h1v.9h1v-.3h1v-3.9h1v-1.1h1v-5.3h1v-1.6h1v-1.5h1v-3.8h1v-5.3h1v1.2h1v1.9h1v-1.7h1v.5h1v-2.7h1v2.3h1v-1.6h1v.9h1v1.9h1v-1.2h1v2.3h1v.3h1v-4.4h1v5.2h1v-2.3h1v2.5h1v1.7h1v-.6h1v2.2h1v-.8h1v2.1h1v.6h1v2.2h1v-5.6h1v-.3h1v.8h1v-1.1h1v-.2h1v1.6h1v.1h1v-1.7h1v-3.1h1v2.5h1v-2.1h1v-.9h1v-4.7h1v4h1v-1.4h1v1.1h1v1.4h1v-2.4h1v.9h1v1.4h1v-.6h1v-4.2h1v1.8h1v3.5h1v-2.7h1v-1.5h1v1h1v-1.3h1v.9h1v2h1v-5.6h1v6h1v1.5h1v.6h1v-1.2h1v.1h1v-3.2h1v2.2h1v-4.2h1v1.2h1v2.8h1v-1.5h1v-.5h1v-1.2h1v2.6h1v-2.3h1v.5h1v-3.7h1v.7h1v3h1v-1.2h1v.5h1v-1.6h1v-3.1h1v.2h1v2.2h1v-.8h1v-1.4h1v.3h1v-1.4h1v-4.3h1v-.6h1v2.3h1v3.2h1v-1.5h1v1.1h1v-2.1h1v.7h1v-1.6h1v1.1h1v1.6h1v-1.7h1v-1.3h1v-2.9h1v2.1h1v.5h1v-1.6h1v.4h1v1.1h1v-.8h1v-.3h1v1.6h1h1v-2.6h1v-2.7h1v1.4h1v2.4h1v2.3h1v-4.7h1v2.2h1h1v-.4h1h1v.6h1v-1.7h1v-.7h1v-1.4h1v-1.2h1v-1.1h1v.1h1v-.8h1v2.4h1v.1h1h1v-.6h1v-2.4h1v2.9h1v2.4h1v.4h1v-.4h1v-1h1v.7h1v2.5h1v2.1h1v2h1v-2.3h1v2h1v-1.4h1v.9h1v1h1v-1.5h1v1.7h1v.4h1v-2.9h1v.3h1v1h1v2h1v-2.6h1v3.5h1v2.1h1v2.9h1v-.2h1v-1.6h1v-.1h1v-4.8h1v1.8h1v-.1h1v-3.9h1v-1.9h1v5.3h1h1v-.2h1v-.2h1v.2h1v-3.4h1v3.7h1v-.4h1v-3.6h1v-.5h1v-1.1h1h1v.5h1v-.7h1v-1.4h1v.3h1v-.4h1v2.1h1v-.4h1v1.2h1v.3h1v-4.5h1v3.9h1v-.2h1v.5h1v-2h1v-.8h1v-.8h1v3.2h1v-.5h1v3.3h1v-1.8h1v-2.6h1v-.1h1v-1.8h1v4.5h1v1.5h1v1.1h1v-1.5h1v1.1h1v.6h1v.6h1v-.7h1v-.9h1v.8h1v1.5h1v-1h1v.6h1v-1.9h1v5.3h1v-2.5h1v.6h1v.4h1v1h1v-1.3h1v-3.4h1v1.1h1v3.1h1v-.7h1v-2.9h1v-1.4h1v-.8h1v.6h1v-3.6h1v2h1v3.8h1v-.2h1v-1.1h1v-2.2h1v-.1h1v-.5h1v-1.3h1v.3h1v2.4h1v-1.5h1v-3.5h1v.8h1v-.9h1v2h1v.1h1v-3.2h1v-1.4h1v-2.4h1v1h1v.1h1v-.1h1v-2.9h1v.9h1v1.7h1v-1h1v1.9h1v-6.5h1v1h1v-2.5h1v2.1h1v-2.8h1v-1.7h1v-1.6h1h1v.3h1v-.8h1v-.3h1v-3.2h1v1.6h1v-2.2h1v-.5h1v-3.2h1v1.3h1v-.8h1v.5h1v-4h1v3.2h1v-.3h1v-1.9h1v.9h1v.8h1v.8h1v-.2h1v-4.6h1v1.6h1h1v4.3h1v-6.4h1v3.4h1v1.3h1v-2.7h1v1h1v-.6h1v-4h1v-2.3h1v-.4h1v.5h1v1.1h1v-2.3h1v.1h1v.5h1v6.2h1v-.9h1v-1.3h1v-3.7h1v.1h1v1.3h1v-2.1h1v-.4h1v1.8h1v-1.3h1v-.2h1v2.7h1v.5h1v-2.1h1v1.7h1v1.2h1v-1.9h1v-.2h1v.9h1v-2.3h1v-2.3h1v-1.4h1v-.3h1v-1.5h1v1h1v-.8h1v2.2h1v.9h1v-2.1h1v.9h1v1h1v4.5h1v1.6h1v.8h1v-2.2h1v-2.8h1v4.7h1v-2.3h1v1.4h1v-3.6h1v2.3h1v2.1h1v-3.5h1v-.7h1v2.9h1v-2.6h1v-2.8h1v2.4h1v3.8h1v-1.2h1v-1.6h1v1.2h1v-1.8h1v-2h1v3.9h1v-2.2h1v1.4h1v-1.7h1v3.5h1v.6h1v-1h1v-.8h1v5.2h1v-.5h1v-2.1h1v-1.2h1v-.4h1v1.1h1v-1.8h1v2.8h1v-.4h1h1v-2.5h1v-2h1v4.2h1v-1.5h1v.2h1h1v1.3h1v-1.5h1v1.6h1v-.5h1v1.9h1v2.2h1v-3.4h1v-.4h1v-1.3h1v-1h1v.2h1v-.5h1v-1.2h1v1.2h1v1.7h1v-.4h1v-.1h1v-.3h1v-4.4h1v2.7h1v.5h1v1h1v1.1h1v-3.8h1v1.1h1v.2h1v1.3h1v-.3h1v-1.5h1v-.8h1v-2.4h1v4.1h1v-.7h1v-3.6h1v1.6h1v2.1h1v-3.3h1v2.2h1v-1.3h1v-.4h1v-4.7h1v1.4h1v3.5h1v-2.2h1v-.6h1v1.4h1v1.9h1v-.3h1v-2.4h1v-2.4h1v2.3h1v.2h1v-.3h1v2.2h1v-1h1v-1.2h1v2.7h1v-1.3h1v-1.4h1v1.2h1v-2.3h1v3.6h1v.9h1v-2.8h1v-1.9h1v5.2h1v2.6h1v-2.3h1v2.6h1v-3.8h1v4.6h1v.6h1v.3h1v1.3h1v-5.8h1v.6h1v-.3h1v-3.9h1v-.5h1v2.2h1v.7h1h1v-.3h1v.7h1v-.5h1v-5.2h1v2.7h1v2.5h1v-1.3h1v.9h1v-1.2h1v-.1h1v1.1h1v.7h1v-2.1h1v4.4h1v-.5h1v.2h1v-.4h1v-2.9h1v3.6h1v-2.5h1h1v-2.1h1v1.8h1v.2h1v.3h1v2.5h1v-.9h1v3.6h1v2.3h1v-4.8h1v-.4h1v-1.1h1v2.3h1v-2.5h1v4.2h1v-.8h1v-2.5h1v-.8h1v-2.8h1v1.5h1v1.7h1v-3.2h1v1.9h1v-.3h1v-5.8h1v3.5h1v-4h1v1.9h1v-1.9h1v2.4h1v-1.1h1v-1.5h1v1.2h1v2.4h1v-.8h1v-1.8h1v.7h1h1v-.7h1v-.3h1v.2h1v-2h1v1.7h1v4.6h1v-.7h1v-.8h1v-2.2h1v-1.1h1v-1.3h1v-2h1v3.9h1v1.1h1v1.1h1v.2h1v-2.6h1v.4h1v.3h1v-1.5h1v.5h1v.3h1v.8h1v1.3h1v-4.1h1v2.4h1v.2h1v.5h1v.9h1v-.5h1v-.7h1v.2h1v4.4h1v-.2h1v.5h1v.7h1v-.3h1v-2.4h1v1.4h1v-1.1h1v.2h1v1.1h1v-.6h1v-.9h1v3h1v-2.9h1v.3h1v.3h1v-1.2h1v-2.1h1v.4h1h1v1.9h1v-2.4h1v-1.2h1v-6.9h1h1v2.3h1v4h1v-3h1v-1.9h1v3.7h1v-.5h1v-2.7h1v.4h1v-.2h1v-1.5h1v-2h1v-.1h1v4.2h1v-.6h1v-.6h1v1.9h1v-1.5h1v-2.9h1v5.2h1v-2.7h1v.1h1v2h1v-1.9h1v3.9h1v.3h1v-1.4h1v2h1v.6h1v1.1h1v2.5h1v2h1v.5h1v-2.9h1v2.1h1v-2h1v1.2h1v-.9h1v-.3h1v-1.7h1v-4.3h1v6.1h1v-3.8h1v1.1h1v-.3h1v3h1v-4.3h1v1.5h1v.3h1v-1.3h1v.8h1v4.9h1v-2.1h1v.5h1v1.1h1v-.4h1v-2.1h1v2.4h1v1.7h1v-1.5h1v-.3h1h1v10.7h-1v.4h-1v1.5h-1v-.5h-1v-5h-1v1.1h-1v.8h-1v1.4h-1v1.5h-1v-2.7h-1v-1.1h-1v-2.2h-1v3.4h-1v-3.2h-1v-.5h-1v1.7h-1v.1h-1v-.7h-1v-.4h-1v.3h-1v.6h-1v-.2h-1v3.8h-1v-2.8h-1v1.9h-1v-2.1h-1v1.2h-1v2h-1v-1h-1v.5h-1v.4h-1v-3h-1v3.4h-1v-6.6h-1v1.4h-1v-3.7h-1v2.8h-1v-.5h-1v-1.9h-1v-1.8h-1v1h-1v2.4h-1v-.5h-1v-1.6h-1v-.3h-1v-1.9h-1v1.3h-1v-1.8h-1v3h-1v-3h-1v-1.1h-1v2.4h-1v.5h-1v-1.7h-1v-.9h-1v3.6h-1v1.6h-1v.1h-1v-.2h-1v2.4h-1v.1h-1v-4.3h-1v1.3h-1v7.6h-1v-1.6h-1v-.3h-1v-2.2h-1h-1v-.9h-1v3h-1v-.2h-1h-1v-.4h-1v1.6h-1v-.1h-1v-1h-1v.4h-1v-.4h-1v1h-1v1.9h-1v.3h-1v-2.7h-1v-.1h-1v2.8h-1v-1.6h-1v2.6h-1v-3.9h-1v-2.5h-1v2.7h-1v-2.6h-1v-3.4h-1v5h-1v-4.6h-1v1.9h-1v1.9h-1v-2.8h-1v2.7h-1v-2.2h-1v1.2h-1v2.1h-1v-5.4h-1v5.5h-1v1.4h-1v-3h-1v1.7h-1v-3.8h-1v-.7h-1v1.2h-1v-1.5h-1v1.2h-1v3.8h-1v-.5h-1v1.3h-1v-4h-1v-1.6h-1v2.9h-1v-1.4h-1v1h-1v-.9h-1v1.9h-1v-1.2h-1h-1v-.2h-1v2.6h-1v-2.8h-1v-.6h-1v2.1h-1v.4h-1v.6h-1v-2.9h-1v2h-1v.7h-1v3.3h-1v1.1h-1v-2.9h-1v3.1h-1h-1v-3.1h-1v1.4h-1v2.3h-1v.8h-1v1.8h-1v-1.5h-1v-1.5h-1v2.2h-1v-.2h-1v1.3h-1v.7h-1v-1.4h-1v-2.1h-1v1.4h-1v-4.1h-1v1.6h-1v.7h-1v-2.3h-1v-.8h-1v.1h-1v.7h-1v.4h-1h-1v.9h-1v-.9h-1v3.8h-1v-4.8h-1v.3h-1v.9h-1v-1.9h-1v.4h-1v-.7h-1v1.7h-1v-1.1h-1v-1.2h-1v1.3h-1v.3h-1v-.3h-1h-1v2.8h-1v-.9h-1v-.7h-1v-3.3h-1v5.8h-1v-1.8h-1v1.1h-1v4.4h-1v-1.2h-1v.2h-1v2h-1v-1.7h-1v-4h-1v2.5h-1v-1h-1v-1.1h-1v-2.5h-1v.5h-1h-1v1.3h-1v-1.6h-1v1.6h-1h-1v-3h-1v.4h-1v1h-1v-1.4h-1v1.7h-1v.5h-1v-7.1h-1v4.2h-1v-2.4h-1v1.3h-1h-1v2.7h-1v.6h-1v-.1h-1v.9h-1h-1v1.3h-1v-5.9h-1v4.4h-1v2.4h-1v-3.5h-1v1.2h-1v.3h-1v.5h-1v-.6h-1v1.4h-1v-1.3h-1v-1h-1v-.4h-1v2.6h-1v.6h-1v.7h-1v1.8h-1v-3.3h-1v1.2h-1v1.2h-1v2h-1v-4.4h-1v-.1h-1v2h-1v-.8h-1v-.8h-1v1.1h-1v3.1h-1v-2.4h-1v-2.4h-1v3.5h-1v-3.3h-1v.4h-1v2.3h-1v1.5h-1h-1v.3h-1v1.6h-1v-1.2h-1v-.4h-1v1h-1v-3.1h-1v2.3h-1v-3h-1v2.5h-1v-1.4h-1v-.5h-1v-1h-1v.7h-1v3.7h-1v-2.2h-1v1.2h-1v-2.2h-1v2.2h-1v-1.3h-1v2h-1v-.3h-1v-.3h-1v.6h-1v-1.2h-1v-1.8h-1v.8h-1v-2.4h-1v3.4h-1v-2h-1v1.8h-1v-3.3h-1v-2.1h-1v.9h-1v1.1h-1v-.2h-1v.1h-1v2.6h-1v-2.4h-1v-2.3h-1v.6h-1v.5h-1v2.7h-1v-2.1h-1v4.6h-1v-.5h-1v-.3h-1v-3h-1v2.6h-1v1.8h-1v-3.5h-1v1h-1v3.4h-1v-2h-1v-2.9h-1v-2.8h-1v-.6h-1v-.4h-1v.7h-1v-.9h-1v-2.2h-1v.5h-1v.3h-1v-1.9h-1v1.2h-1v4h-1v3.1h-1v-.6h-1v-.5h-1v1.7h-1v-.2h-1v-.6h-1v1.5h-1v-2.3h-1v-.1h-1v-2.1h-1v-1.7h-1v2.4h-1v1.3h-1v-.6h-1v-.5h-1v3h-1v1.1h-1v-.8h-1v2.9h-1v-1.8h-1v-3.1h-1v-1.2h-1v-1.5h-1v1.8h-1v-1.5h-1v3h-1v1.8h-1v-1h-1h-1v1.9h-1v2.5h-1v2.4h-1v-3h-1v2h-1v3.6h-1v-4.1h-1v-2.5h-1v4.9h-1v-3.4h-1v.8h-1v1h-1v.4h-1v-1.3h-1v.9h-1v-1.5h-1v.8h-1v-.7h-1v4.7h-1h-1v1.8h-1v-1.1h-1v-.7h-1v3h-1v-2h-1v3.1h-1v.6h-1v2h-1v-3.2h-1v.4h-1v3.1h-1v5.8h-1v-1.8h-1v.2h-1v.1h-1v4h-1v.9h-1v-.5h-1v.7h-1v-2.6h-1v1.8h-1v1.7h-1v.8h-1v.3h-1v-.3h-1v-1h-1v4.6h-1v.6h-1v2.6h-1v-1.3h-1v-2.3h-1v2.7h-1v2.1h-1v.5h-1v-2.4h-1v1h-1v-1.2h-1v1.1h-1v-.1h-1v3.8h-1v-.1h-1v-2.2h-1v.5h-1v-.9h-1v-1.6h-1v4.1h-1v1.9h-1v.1h-1h-1v-.5h-1h-1v-2.1h-1v2.9h-1v.3h-1v-1.4h-1v1.4h-1v-.6h-1v-1.3h-1v.5h-1v-.1h-1v.4h-1v1.7h-1v-3.4h-1h-1v1.3h-1v-.9h-1v-1.8h-1v.6h-1v1.4h-1v-1.3h-1v-.8h-1h-1v-4.1h-1v1.8h-1v-.1h-1v1h-1v-2h-1v-1.6h-1v1.7h-1v-1h-1v1.9h-1v-.6h-1v.3h-1v.1h-1v2.8h-1v-3.4h-1h-1v-.2h-1v.2h-1v1.8h-1v-3.9h-1v-.4h-1v1.9h-1v-1h-1v1.9h-1v3.2h-1v-.1h-1v-2.3h-1v.2h-1v3.6h-1v1h-1v-1.2h-1v4.4h-1v-3.1h-1v-1.1h-1v1.7h-1v-2.9h-1h-1v4.4h-1v-4.8h-1v1.8h-1v.1h-1v3.2h-1v.6h-1v-.2h-1v.8h-1v-3h-1v-2.7h-1v3.5h-1v-2.2h-1v-5.1h-1v2.3h-1v1.3h-1v2.4h-1v-3.5h-1v-.7h-1v3.8h-1v-3.3h-1v2.3h-1v-1.3h-1v2.5h-1v-1.9h-1v-2h-1v-3.6h-1v-1.8h-1v.5h-1v.7h-1v-1.8h-1v-.9h-1v3.7h-1v-4.9h-1v2.5h-1v-.3h-1v-.5h-1v-2.7h-1v-1h-1v4.2h-1v-1.9h-1v-.2h-1v1.6h-1v-.9h-1v5.7h-1v-.8h-1v2.5h-1v-3.2h-1v.5h-1v-2.2h-1v-.5h-1v3.7h-1v.2h-1v-3.9h-1v-1.4h-1v7h-1v-.3h-1v-1.8h-1v1.9h-1v-.8h-1v.1h-1v-2.2h-1v2.1h-1h-1v-1.4h-1v-1.2h-1v2.6h-1v.6h-1v-.4h-1v1.8h-1v-2.3h-1v.1h-1v2.7h-1v-2.7h-1v4h-1v-1.5h-1v-.5h-1h-1h-1v.2h-1v1.1h-1v1.9h-1v-.2h-1v.7h-1v-1.1h-1v1h-1v.9h-1v.1h-1v4h-1v-.7h-1v-1.9h-1v-2.2h-1v2.4h-1v-.3h-1v3.6h-1v-2.7h-1v1.8h-1v2.2h-1v-.6h-1v-3.4h-1v-.3h-1v4.2h-1v-.1h-1v-1.5h-1v1.8h-1v1.7h-1v-1.5h-1v.2h-1v-2.7h-1h-1h-1v.4h-1v-.2h-1v-.7h-1v-1.5h-1v3.4h-1v2.3h-1v-3.9h-1v2.1h-1v-.7h-1h-1v-.8h-1v-.1h-1v.7h-1v.3h-1v.9h-1v-3.2h-1v1.4h-1v-.2h-1v2.5h-1v.5h-1v1h-1v1.1h-1v.9h-1v.7h-1v-2.9h-1v1.7h-1v2.4h-1v1.4h-1v-1.2h-1v1h-1v-1.2h-1h-1v-4.6h-1v1.2h-1v3.3h-1v-4.4h-1v-2h-1v-.5h-1v3h-1v-1.9h-1v-.2h-1v-.2h-1v-1.3h-1v-.7h-1v-.2h-1v1.7h-1v-1.3h-1v.8h-1v.5h-1v-1.3h-1v.7h-1v2.4h-1v2.5h-1v4.6h-1v-.5h-1v2.9h-1v3.8h-1v2.5h-1v3.7h-1v-1.2h-1v1.1h-1v-2.4h-1v-1h-1v2.2h-1v-.7h-1v.2h-1v-.1h-1v-5.1h-1v-1.2h-1v-3h-1v2.3h-1v-.2h-1v.7h-1v.8h-1v-1.2h-1v-3.3h-1v1.8h-1v2.3h-1v-1h-1v2.8h-1v-.8h-1v.2h-1v4.7h-1v-.3h-1v-.4h-1v4.8h-1v.4h-1v2.4h-1v-1.9h-1v2.9h-1v1h-1v-.6h-1v2.6h-1v-.7h-1v3.4h-1v2.1h-1v.6h-1v7.1h-1v.2h-1v2.8h-1v-1.7h-1v1.7h-1v2.9h-1v-.4h-1v3.4h-1v1h-1v.9h-1v3.2h-1v-.1h-1v1.2h-1v2.6h-1v2.5h-1v7.6h-1v7.2h-1v9.5h-1v4.7h-1v14.1h-1v15.3h-1v14.8h-1v15.2h-1v9.6h-1v3.2h-1v3.7h-1v2.7h-1v3.5h-1v3h-1v3.6h-1v9.5h-1v16.6h-1v16.1h-1v18.1h-1v16.7h-1v13.8h-1v17.7h-1v17h-1v6.8h-1v1.3h-1v3h-1v-5.3h-1v-1.1h-1h-1v1.6h-1v3.7h-1v5.7h-1v4.9h-1v4h-1v.4h-1v2.6h-1v7.3h-1v2.3h-1v6.5h-1v-2.7h-1v-.3h-1v.1h-1v-1.4h-1v.1h-1v.5h-1v.2h-1v1.2h-1v2.8h-1v1.2h-1v2.1h-1v.9h-1v.4h-1v-1.9h-1v4.7h-1v3.7h-1v1.9h-1v-.9h-1v2.1h-1v1h-1v3.3h-1v.8h-1v2.1h-1v2.9h-1v3h-1v.9h-1v1.2h-1v-.6h-1v1.5h-1v.2h-1v-.6h-1v.8h-1v.6h-1v-1.6h-1v-2.1h-1v2.6h-1v1h-1v3.8h-1v5.6h-1v.2h-1v4.9h-1v3h-1v-1.4h-1v6.5h-1v.2h-1v4h-1v4h-1v-5h-1v1.4h-1v-.2h-1v-3h-1v-2.8h-1v1.5h-1v2.2h-1v-2.2h-1v-3.2h-1v-2.2h-1v2.4h-1v1.6h-1v-.2h-1h-1v.7h-1v3.8h-1v.5h-1v-4.2h-1v3.9h-1v3h-1v1.7h-1v.3h-1v3.2h-1v-3h-1v-2.8h-1v.2h-1v.2h-1v-.5h-1v.2h-1v.6h-1v-1.2h-1v2.1h-1h-1v.5h-1v-2.7h-1v3.9h-1v-3.5h-1v1.7h-1v1.2h-1v.1h-1v-1.1h-1v1.8h-1v1.7h-1v-2.5h-1v.5h-1v2.9h-1v-3.1h-1v.7h-1v3.2h-1v-2.8h-1v1.9h-1v.4h-1v1.1h-1v3.8h-1v3.3h-1v-3.7h-1h-1v3.5h-1v-.3h-1v-.8h-1v.2h-1v.1h-1v-2.7h-1v2.5h-1v-1.9h-1v-.8h-1v-2h-1h-1v-1h-1v-.5h-1v-1.9h-1v.5h-1v1.7h-1v-1.5h-1v1.5h-1v-.9h-1v-.3h-1v-1.2h-1v2.1h-1v1.7h-1v-2.1h-1v4.2h-1v-.7h-1v-1.3h-1v-.8h-1v1.2h-1v1.4h-1v1.1h-1v1.3h-1v2.9h-1v-5.5h-1v2.5h-1v1h-1v-.9h-1v.7h-1v.1h-1v-.9h-1v.1h-1v-2.1h-1v5h-1h-1v-3.7h-1v.6h-1v1.2h-1v-.9h-1v1.9h-1v-.7h-1v4h-1v-1.1h-1v-.5h-1h-1v.2h-1v2h-1v1.6h-1v1h-1v3h-1v.9h-1v1.6h-1v4.6h-1v6.6h-1v6.1h-1v6.2h-1v5.6h-1v7h-1v2.4h-1v1.5h-1v1.5h-1v-.2h-1v2h-1v2.6h-1v2.7h-1h-1v4.5h-1v-.6h-1v4.4h-1v.3h-1v1h-1v4.6h-1v2.9h-1v4.8h-1v2.1h-1v4.3h-1v3.2h-1v4.7h-1v3.3h-1v5h-1v4.3h-1v2h-1z"/>
<path class="c" fill="#c870e2" stroke="#c870e2" d="M171.5 974.2h1v-2.6h1v-2h1v-2.6h1v-1.6h1v-1.9h1v-4.5h1v-.8h1v-.4h1v-3.4h1v-2.4h1v-.9h1v-2.2h1v-2.8h1v-14.7h1v-10.5h1v-12.4h1v-11.6h1v-10.3h1v-7.3h1v-12.3h1v-7.2h1v-6.9h1v-3.9h1v-3.2h1v-3.1h1v-1.3h1v-4h1v-2.8h1v-2.5h1v.1h1v-1.5h1v-1.1h1v2.3h1v.5h1v1h1v-3.8h1v-.5h1v-1.1h1v-1.8h1v1h1v-1.2h1v-1.8h1v-2.3h1v3.1h1v-2h1v.1h1v-3.4h1v.1h1v-.6h1v1.2h1v-1.8h1v.4h1v.6h1v-.8h1v-.1h1v-.2h1v.4h1v-.5h1v-2.7h1v-1.7h1v-1.8h1v-.6h1v-3.7h1v-3h1v-2.7h1v-4.5h1v.2h1v-2h1v-1.3h1v2.6h1v-1.9h1v2h1v-.9h1v-3.1h1v1.8h1v-.4h1v.2h1v-4h1v-.1h1v1.3h1v2.2h1v-5.6h1v-.3h1v-5h1v4.1h1v-1.6h1v1.4h1v-.4h1v-2.3h1v-2h1h1v2.5h1v-1.5h1v-2h1v3.9h1v-.2h1v.7h1v-2.2h1v-1.6h1v-.6h1v-2.6h1v-1.6h1v-6.9h1v-1.9h1v-2.5h1v1.4h1v-6.5h1v-3.8h1h1v.1h1v-2.4h1h1v-3.4h1v-2.4h1h1v-1.8h1h1v1.4h1v-3.7h1v-.2h1v-1h1v.8h1v-5.8h1v2.8h1v-1.4h1v-2.3h1v1h1v-2h1v.2h1v.3h1v-2.3h1v.6h1v.4h1v.3h1v-1.2h1v-.7h1v.4h1v.7h1v-.5h1v-.8h1v1.4h1v-.8h1v-1.7h1v2.8h1v-1.8h1v.7h1v-2.5h1v1.6h1v.3h1v.2h1v1.3h1v-1.6h1v-2.7h1v1.4h1v.9h1v1.6h1v-3h1v3.6h1v-1.5h1v-2.8h1v1.7h1v-1.4h1v2.1h1v.6h1v1.2h1v-.3h1v-1.7h1v-.2h1v1.1h1v-2h1v.7h1v2.5h1h1v-2.9h1v-1.9h1v-.9h1v-2h1v-2.2h1v-1.6h1v.5h1v-1.6h1v.3h1v1h1v-.7h1v1.6h1v.7h1v-.3h1v-2.8h1v-1.3h1v-1.6h1v-.4h1v-1.9h1h1v-2.8h1v-.5h1v-4.5h1v2h1v-5.1h1v-.1h1v-.3h1v-.4h1v.3h1v-2.7h1v.8h1v.9h1v-.9h1v-2.1h1v.8h1v2.7h1v-3.1h1h1v-1.1h1v-.8h1v-4h1v2.8h1v.1h1v1.4h1v-4h1v-1.4h1v1.9h1v-2.1h1v-.1h1v3.6h1v-.8h1v-.8h1v-3.5h1v.4h1v-1.3h1v-2.3h1v-3.5h1v2.4h1v-2.4h1v-1.2h1v-.4h1v-.4h1v1h1v1h1v-.8h1v1.5h1v-.7h1v3.2h1v-.9h1v1.5h1v-1.2h1v-.1h1v1.3h1v-.3h1v-2.1h1v-1.2h1v-6.5h1v-4.8h1v-6.3h1v-2.1h1v-2.5h1v-3.4h1v-2.5h1v-3.1h1v-2.9h1v-1.6h1v-3.7h1h1v-3.8h1v-.3h1v-2.1h1v-1.9h1v-1.7h1v-4h1v-5.3h1v-4.2h1v-4.1h1v-6h1v-4.5h1v-5.2h1v-5.8h1v-5.4h1v-4h1v-4h1v-4.4h1v-4.5h1v-4.2h1v-1.2h1v-4h1v-1.4h1v-1.9h1v-4.3h1v-5.5h1v-.7h1v-2h1v-1.5h1v-2.4h1v-3.2h1v.8h1v1.2h1v-1.6h1v-1.2h1v-8.5h1v2.6h1v-.8h1v-.5h1h1v-.2h1v-1.4h1v-1.2h1v-1.8h1v-3.5h1v3.6h1v-1.8h1v-.5h1v-2h1v2h1v4.4h1v-.1h1v1.9h1v-3.3h1v-.5h1v-1h1v2.5h1v1.3h1v-.1h1v-2.6h1v-2.6h1v3.4h1v-.6h1v1.2h1v1.1h1v-3.2h1v-2.5h1v2.1h1v-.2h1v-1.9h1v-.9h1v1.3h1h1v-2.2h1v.1h1v.6h1v-1.5h1v-4.6h1v-.9h1v1h1v-2.2h1v-.4h1v1h1v-1h1v2h1v-3h1h1v1h1v1.1h1v1.6h1v-1h1v-2h1v.9h1v2.1h1v-.2h1v.1h1v.2h1v-1.9h1v.6h1v.3h1v1.1h1v1.7h1v-5h1v1.2h1v-1.1h1v-1.6h1v1.8h1v-.2h1h1v1.3h1v-.7h1v1.6h1v.2h1v-.4h1v-1.4h1v-.2h1v-.9h1v3.7h1v-4.1h1v-1.9h1v2.3h1v-1.4h1v-2.1h1v2.2h1v2.9h1v-.6h1v.3h1v-1.1h1v-1.7h1v-.7h1h1v-.2h1v1.5h1v2.9h1v-1h1v-.2h1v-2.2h1v4.4h1v-2.4h1v-1.2h1v2.1h1v-2.8h1v2.4h1v-3.3h1v3h1v1.3h1v-.8h1v1.9h1v2.8h1v-1h1v-.5h1v.3h1v.4h1v-1.1h1v2.3h1v-2.6h1v1.6h1v-1.8h1v.2h1v-.1h1v-.6h1v.2h1v4.5h1v-.1h1v-1.1h1v3.1h1v.1h1v-.3h1v-.7h1v2.7h1v-5.5h1v-.3h1v.1h1v-.2h1v-3.5h1v-3h1v2.1h1v-1.2h1v.6h1v.6h1v-1.2h1v2h1v-1.6h1v1.1h1v-.9h1v.8h1v-3.5h1v1.4h1v-2.4h1h1v1.1h1v.5h1v-.8h1v1.3h1v1h1v-.8h1v.2h1v-3.3h1v.8h1v-.5h1v-1.5h1v-.7h1v.8h1v.5h1v-1.1h1v-.6h1v-2.4h1v.3h1v1.3h1v1.4h1v-2.9h1v1.7h1v.4h1v-.8h1v2.3h1v-2.6h1v.2h1v1.8h1v.8h1v.6h1v-.3h1v2.3h1v-.5h1v-1.8h1v.1h1v-1h1v2.3h1v.6h1v.7h1v-5h1v.4h1v.9h1v-3.6h1v2.1h1v2.4h1v-.6h1v.1h1v.6h1v-2.1h1v-.1h1v-.9h1v-2.7h1v-1h1v-.5h1v.3h1v-.1h1v.9h1v1.3h1v-3h1v.1h1v.1h1v-.5h1v.9h1v2.6h1v-3h1v-.8h1v-3.6h1v2.4h1h1v-1.1h1v1.2h1v3.4h1v-.3h1v-2h1v2.8h1v-2.2h1v-2.4h1v1.8h1v-1.8h1v-.1h1v.3h1v1.2h1v1.3h1v.6h1v1.3h1v3.2h1v-.9h1v-4.9h1v.4h1v2.4h1v-3.8h1v-.4h1v-.9h1v2.5h1v.2h1v-.5h1v2.3h1v-.2h1v.7h1v-2.2h1v.8h1v-1.8h1v2.9h1v-3.6h1v3h1v1.5h1v-4.9h1v2.6h1v1.6h1v-1.8h1v-.7h1v-1.5h1v1h1v1h1v-1.3h1v2.2h1v.2h1v-4.6h1v2h1v2.9h1v-1h1v.1h1v2.7h1v.3h1v1.7h1v-.5h1v-2.6h1v-2.1h1v2h1v2.9h1v-1.5h1v-1.4h1h1v1.4h1v-1.5h1v1.4h1v-2.5h1v-.8h1v-.4h1v.1h1v-1.8h1v6h1v-4.1h1v1.4h1v-.4h1v.1h1v-1.4h1h1v-.5h1v4h1v.5h1v.3h1v-.9h1v1.3h1v-2h1v2h1v-1.7h1v1.2h1v-2.1h1v4.9h1v-1h1v-.8h1v-1.5h1v-5.8h1v-1.6h1v-1.3h1v-1.9h1v-3.1h1v-.7h1v-1.4h1v-.1h1v2.2h1v-4.2h1v-.4h1v1.8h1v.5h1v.4h1v-.8h1v-1.2h1v-1.7h1v-1.7h1v-1.8h1v.2h1v-.6h1v-1.6h1v-.3h1v-.8h1v-.4h1v-1.7h1v-2.9h1v-.1h1v1.8h1v.2h1v-4.2h1v2.5h1v-.1h1v-2h1v.3h1v-1.3h1v.5h1v2.6h1v-4.3h1v-1.7h1v1.4h1v.3h1v-2.7h1v-.4h1v-3.7h1v-1.1h1v.4h1v-1.3h1v-.6h1v2.6h1v1.4h1v-1.2h1v3.1h1v-1.7h1v-.5h1v.6h1v2.4h1v-1.9h1v1.7h1v-2h1v-1.8h1v.1h1v2.6h1v-2.7h1v.1h1v1h1v-2.2h1v-.2h1v.1h1v1.7h1v-.6h1v.4h1v-.6h1v.8h1v.6h1v-.6h1v.1h1v-2h1v-.8h1v-.2h1v-2.3h1v-1h1v.6h1v2.1h1v.2h1v-1.8h1v2.7h1v-.2h1v-.7h1v-3.1h1h1v.9h1v3h1v-1.5h1v-.4h1v.7h1v-6.3h1h1v4.5h1v1.6h1v-2.2h1v-.3h1v-.1h1v-1.3h1v.2h1v-.4h1v2.1h1h1v-1.8h1v-.9h1v1.6h1v-.5h1v-.1h1v-1.2h1v-1.5h1v3.3h1v-3.2h1v-.3h1v-3.1h1v1h1v-1.9h1v-.1h1v1.8h1v-1.5h1v-7h1h1h1v-1h1v1.1h1v-4.6h1v-.6h1v1h1v-3.5h1v1.4h1v-.6h1v-5.4h1v-.8h1v1.8h1v-.6h1v1.7h1v.1h1v.1h1h1v.4h1v-.4h1v-1.7h1v4.4h1v-1.6h1v1h1v-.9h1v-.8h1v3.7h1v-2.9h1v.9h1v1.8h1v-1.4h1v-.6h1v1.1h1v-1h1v-2h1v1h1v.2h1v-1.5h1v3.8h1v-1.7h1v.9h1v-1.3h1v.1h1v-.8h1v.5h1v-3.1h1v-1.3h1v.7h1v.6h1v-3.7h1v1.7h1v.4h1v-2.6h1v-.6h1h1v2h1v.1h1v-.4h1v-2.1h1h1v2.1h1v2.9h1v-4.2h1v3.2h1v-.2h1v.4h1h1v-5.6h1v-.5h1v4h1v.1h1v1.1h1v.1h1v-.5h1v-2.2h1v1.4h1v-4.6h1v1.5h1v.1h1v.8h1v-.2h1v1.2h1v-1.2h1v.1h1v1.1h1v-1.7h1v1.8h1v.1h1v-1.1h1v-1.6h1v.8h1v-.8h1v1h1v-4.7h1v.7h1v3.1h1v-.5h1v1.7h1v-.9h1v-.4h1v1.4h1v.8h1v3.9h1v1.2h1v.2h1v-1.3h1v2.8h1v2.2h1v-2.5h1v-.8h1v-3.1h1v1.5h1v-.6h1v-.3h1v-2h1v1.4h1v-1h1v.6h1v-2.9h1v2.1h1v-3.6h1v3.7h1v1.9h1v1.4h1v-2.3h1v.1h1v2.1h1v.9h1v.5h1v-1.1h1v-.2h1v2.5h1v-.3h1v-1h1v.8h1v-1.6h1v3.3h1v-4.4h1v-1h1v2.2h1v-.5h1v1.9h1v-.7h1v-4.2h1v1.5h1v2.7h1v-.4h1h1v1.5h1v3.5h1v-1.3h1v.7h1v.6h1v-1.6h1v1.2h1v-1.5h1v.7h1v1.4h1v-2h1v2.7h1v-2.9h1v3.1h1v1.1h1v-.8h1v2.2h1v-3.6h1v2.7h1v-.5h1v-1.5h1v.4h1v1.4h1v-1.8h1v-2.1h1v3.2h1v2h1v-.2h1v1.5h1v-2.2h1v.9h1v-1.9h1v1.4h1v1.4h1v1.4h1v-1.4h1v-.8h1v.7h1v-1.6h1v-1.3h1v1.7h1v2.6h1v7.7h-1v-1.3h-1v-1.6h-1v3h-1v-.3h-1v.7h-1v.3h-1v1.3h-1v-1.3h-1v-3.9h-1v2.2h-1v-.5h-1v.4h-1v1.7h-1v2.4h-1v-1.6h-1v-1.6h-1v-5.1h-1v3.3h-1v.6h-1v-2.6h-1v-.6h-1v1.5h-1v1.9h-1v-1.3h-1v.4h-1v-2h-1v.5h-1v1.4h-1v1.6h-1v-3.3h-1v.2h-1v-1.7h-1v1.3h-1v-1h-1v1.8h-1v-3.1h-1v.6h-1v1.1h-1v.3h-1v-1.7h-1v.5h-1v-2.6h-1v2.6h-1v-3.7h-1v2.2h-1v-2.5h-1v.9h-1v-1h-1v-.9h-1v-.4h-1v-.4h-1v3.4h-1v2.3h-1v-2.9h-1v.5h-1v-.8h-1v.6h-1v2.3h-1v-2.5h-1v-3.8h-1v3.2h-1v-3.2h-1v.9h-1v-2.9h-1v5.5h-1v-1.4h-1v-4.6h-1v1.1h-1v-.9h-1h-1v-.2h-1v1.8h-1v-.7h-1v1.6h-1v.6h-1v-1.5h-1v1.6h-1v4h-1v-4h-1v2.2h-1v4.1h-1v-.4h-1v-.6h-1v-2.5h-1v-.1h-1v1.3h-1v-3.4h-1v-3.2h-1v-3.2h-1v-.3h-1v.2h-1v1.8h-1v-.7h-1v-1.5h-1v-1.4h-1v.7h-1v1h-1v.1h-1v-.6h-1v4.9h-1v-2.9h-1v.1h-1v-.1h-1v-1.9h-1v2.6h-1v-.4h-1v.5h-1v.1h-1v2.7h-1v-1h-1v-.3h-1v-2.5h-1v2.4h-1v-.7h-1v2.3h-1v.9h-1v1h-1v-2.5h-1v2.6h-1v-2.5h-1v-.4h-1v1.9h-1v.3h-1v-2.5h-1v2h-1v1.2h-1v-2.6h-1v.5h-1v.3h-1v-1.9h-1v.6h-1v-2.8h-1v4.3h-1v-2.1h-1v-.2h-1v-.4h-1v-1.8h-1v1.3h-1v4.8h-1v-2.8h-1v3.4h-1v-1.7h-1v-1.1h-1v1.9h-1v1.7h-1v3.1h-1v2.5h-1v-1.8h-1v-2.7h-1v3.5h-1v-1.3h-1v-1.4h-1v-1.4h-1h-1v-2.1h-1v5h-1v-1.4h-1v-.1h-1v.8h-1v1.8h-1v.4h-1v-3.7h-1v2.8h-1v-3.7h-1v.2h-1v2.4h-1v-.7h-1h-1v-.2h-1v-1.1h-1v1.9h-1v-2.2h-1v-.6h-1v-.7h-1v.1h-1v1h-1v-3.7h-1v-.1h-1v3.7h-1v4.8h-1v-.3h-1v.1h-1v.3h-1v.3h-1v2h-1v.8h-1v2.4h-1v2.5h-1v-.4h-1v2.7h-1h-1v2.5h-1v.3h-1v.1h-1v-.1h-1v1.9h-1v2.8h-1v.8h-1v1.2h-1v-1.3h-1v-1.3h-1v1.1h-1v2.6h-1v1.7h-1v-2.8h-1v-.3h-1v-.3h-1v1h-1v-2.6h-1v.1h-1v2.3h-1v-1.9h-1v.1h-1v1h-1v1.5h-1v-1h-1v-.1h-1v1.6h-1v1.1h-1v.2h-1v-.6h-1v-.1h-1v1.4h-1v.5h-1v-.5h-1v-1h-1v4.2h-1v-2.7h-1v-1.3h-1v1.8h-1v-2.6h-1v-.9h-1v.7h-1h-1v1.1h-1v1.6h-1v2.1h-1v.1h-1v-.2h-1v-1.5h-1v4.1h-1v-.9h-1h-1v-.9h-1h-1v-2.2h-1v-2h-1v3.1h-1v.9h-1v.3h-1v.1h-1v2.8h-1v1.9h-1v-6.1h-1v1.4h-1v1.4h-1v.9h-1v2.7h-1v-2.1h-1v-1.6h-1v-.3h-1v1.2h-1v.1h-1v-2.8h-1v-1.1h-1v-1.2h-1v1.8h-1v-2.1h-1v2.4h-1v-.4h-1v.4h-1v3.2h-1v1.8h-1v-2h-1v.9h-1v3.4h-1v5.9h-1v-4.9h-1v-1.1h-1v-1.5h-1v3.9h-1v.8h-1v.7h-1v.4h-1v1.8h-1v-2h-1v-.5h-1v-1.4h-1v5.6h-1v-.3h-1v-.5h-1v4h-1v.1h-1v.6h-1v.1h-1v-.1h-1v3.4h-1v.7h-1v1.5h-1v3.7h-1v.2h-1v-4.6h-1h-1v-1.8h-1v2.3h-1v.9h-1v.6h-1v-.5h-1v1.4h-1v1.5h-1v2.3h-1v.8h-1v1.8h-1v5.7h-1v-.3h-1v4.4h-1v-.8h-1v2.8h-1v-2.1h-1v.2h-1v-2.5h-1v-1.9h-1v1.1h-1v1.4h-1v-1.7h-1v.7h-1v1.4h-1v.4h-1v-2.9h-1h-1v-3.2h-1v4.5h-1v-1.3h-1v-.6h-1v2.5h-1v1.4h-1v-3.7h-1v-.1h-1v-2.3h-1v3.7h-1v-.5h-1v2h-1v-1.9h-1v3.6h-1v-1h-1v-1.5h-1v.7h-1v-.2h-1v-1.4h-1v1.6h-1v-2.3h-1v3.7h-1v-1.1h-1v.1h-1v-.2h-1v-3.6h-1v.1h-1h-1v-.5h-1v-.1h-1v1.9h-1v-1.7h-1v.2h-1v-.2h-1v-.1h-1v-1.6h-1v1.5h-1v2.3h-1v-.1h-1h-1v1.3h-1v-.5h-1v-3.9h-1v1.4h-1v2.1h-1h-1v-.9h-1v.6h-1v-.2h-1v-.4h-1v-1.2h-1v-.2h-1v.2h-1v-1.2h-1v.9h-1v-.3h-1v.2h-1v1.2h-1v-1.2h-1v1h-1v2h-1v.2h-1v-.8h-1v-1.3h-1v.5h-1v-.1h-1v-.8h-1v-2.4h-1v1.6h-1v-.5h-1v-.2h-1v3.1h-1h-1v-3h-1v2.4h-1v-.6h-1v-1.4h-1v.4h-1v.6h-1v-3.4h-1v.8h-1v-.7h-1v3.7h-1v.9h-1v-1h-1v.1h-1v.2h-1v.2h-1v-.1h-1v2.4h-1v-1.3h-1v-2.3h-1v.7h-1v.2h-1v.1h-1v-.7h-1v3.9h-1v2.3h-1v-2h-1v.6h-1v5.1h-1v-2.9h-1v.3h-1v-2.6h-1v.2h-1v1.8h-1v-.2h-1h-1v4.7h-1v-1.2h-1v-2.8h-1v.2h-1v-.2h-1v-.1h-1v5.8h-1v-.2h-1v-3h-1v-2.6h-1v-.2h-1v-1.8h-1v-.1h-1v1.5h-1h-1v-.4h-1v-.8h-1v1h-1v-2.1h-1v.1h-1v.5h-1v.6h-1v-2.5h-1v3.2h-1v1.8h-1v-.4h-1v-.1h-1v1.8h-1v-3.2h-1v1.7h-1v.5h-1v2.3h-1v2.4h-1v-1.9h-1v-.2h-1v2.2h-1v-1h-1v-1h-1v-.8h-1v1.1h-1v2.1h-1v-1.7h-1v1.1h-1v1.3h-1v-1h-1h-1v1.1h-1v-2.2h-1v2.4h-1v.3h-1v-2.3h-1v.3h-1v.8h-1h-1v.9h-1v4.7h-1v-1.3h-1v.3h-1v2.4h-1v2.4h-1v-1.8h-1v-.1h-1v.9h-1v-.6h-1v.9h-1v-1.3h-1v-3.6h-1v-2.4h-1v1.5h-1v-1.2h-1v.7h-1v-.4h-1v3h-1v-.5h-1v-1.1h-1v.4h-1v2.1h-1v-1.5h-1v.1h-1v-.6h-1v.4h-1v1.4h-1v-4.4h-1v-.5h-1v.2h-1v-1h-1v1.6h-1v-2.6h-1v.5h-1v-.4h-1v1.5h-1v.7h-1v-3.4h-1v1.9h-1v-.1h-1v-1.5h-1v.3h-1v-3.4h-1v2h-1v.8h-1v-.9h-1v1.7h-1v1h-1v-1.6h-1v2.6h-1v-1.1h-1v-6h-1v4.5h-1v1.4h-1v.4h-1v-.8h-1v2.3h-1v-1.8h-1v.9h-1v-.6h-1v3.7h-1v-1.7h-1v-1.5h-1v1.3h-1v-2.1h-1v1.6h-1v-3.2h-1h-1v.4h-1v1.9h-1v-.7h-1v3.7h-1v.8h-1v-.1h-1v-.5h-1v-2.7h-1v-3h-1v3.1h-1v2.2h-1v-1.2h-1v-.4h-1h-1v-3.1h-1v3h-1v2.4h-1v-3.7h-1v.7h-1v-2.1h-1h-1v2.3h-1v.4h-1v-.5h-1v-2h-1v.3h-1v2.2h-1v.2h-1v2.9h-1v.9h-1v2.2h-1v2.4h-1v.1h-1v-1.7h-1v-.8h-1v3.1h-1v-2.6h-1v.5h-1v1h-1v-.6h-1v4.7h-1v2.5h-1v-3.2h-1v-.3h-1v.5h-1v-3.5h-1v2.7h-1v2.8h-1v.1h-1v-2.4h-1v-1.3h-1v.3h-1v1.6h-1v1.5h-1h-1v1.8h-1v-5.9h-1v-.8h-1v1.7h-1v-1.7h-1v-.5h-1v-1.4h-1v4.1h-1v.7h-1v-1.2h-1v2.2h-1v3h-1v1.2h-1v-2.9h-1v1.8h-1v.9h-1v3.2h-1v.7h-1v2.3h-1v-.4h-1v.4h-1v1.3h-1v2.4h-1v1.2h-1v1.3h-1v3.3h-1v6.6h-1v1.2h-1v2.5h-1v2.7h-1v1.4h-1v4h-1v3.9h-1v1.8h-1v6.7h-1v4.4h-1v2.8h-1v5.9h-1v6.5h-1v5h-1v5.4h-1v2.7h-1v6.6h-1v3.6h-1v4.5h-1v3.4h-1v1h-1v2.1h-1v2.5h-1v1.6h-1v.9h-1v3.2h-1v1.1h-1v5.3h-1v1.1h-1v1.2h-1v3.1h-1v4.3h-1v1h-1v6h-1v6.4h-1v7.5h-1v3.1h-1v4.1h-1v-1.3h-1v2.3h-1v-1.3h-1v-.4h-1v-.3h-1v.4h-1v-.8h-1v-.3h-1v-2.8h-1v-.2h-1v1.7h-1h-1v-.7h-1v-.9h-1v-.9h-1v4.5h-1v.4h-1v.9h-1h-1v3.2h-1v1h-1v.8h-1v1.7h-1v.5h-1v-.4h-1v-.8h-1v.3h-1v.3h-1v-1.7h-1v2h-1v1.9h-1v-.5h-1v.5h-1h-1v1.4h-1v.2h-1v-.1h-1v1.8h-1v1.6h-1v-.1h-1v-.8h-1v2h-1v-1.6h-1h-1v.3h-1v1.2h-1v-1.6h-1v1.1h-1v.2h-1v3h-1v3.5h-1v.4h-1v1.8h-1v1.1h-1v1.9h-1v-.2h-1v2.2h-1v1.9h-1v.1h-1v2.6h-1v.6h-1v1.8h-1v-3.2h-1v-.4h-1v1.7h-1v-1.4h-1v3h-1v-.6h-1v-1.4h-1v.1h-1v1.5h-1v3.8h-1v2h-1v1.7h-1v3.4h-1v-.7h-1v-1.2h-1v-.8h-1v-.8h-1v1.2h-1v-2.4h-1v1.7h-1v1h-1v.3h-1v.3h-1v-.4h-1v-1.3h-1v-.9h-1v3h-1v1.2h-1v-2h-1v-.5h-1v-1.7h-1h-1v-.9h-1v1.9h-1v.8h-1v-.4h-1v1.4h-1v-2.8h-1v.1h-1v-.3h-1v.9h-1v2.4h-1v-2.9h-1v3.6h-1v1.8h-1v-2.4h-1v2.1h-1v-3h-1v-.9h-1v-2.1h-1v.8h-1v3.5h-1v1.3h-1v-.8h-1v.7h-1v1.8h-1v-2.8h-1v3.7h-1v-1.4h-1v.6h-1v-.1h-1v3h-1v-2.2h-1v2.5h-1v1.1h-1v1.7h-1h-1v.7h-1v2.7h-1v-.9h-1v1h-1v1.4h-1v-.1h-1v4.9h-1v-.6h-1v1.3h-1v2.6h-1v.1h-1v4.5h-1v1.5h-1v3.2h-1v2.9h-1v5.6h-1v1.4h-1v.8h-1v3.5h-1v1.8h-1v3.1h-1v.9h-1v-4h-1h-1v-2.2h-1v1.7h-1v2.7h-1v-1.3h-1v-2.6h-1v1.5h-1v4h-1v-1.9h-1v.1h-1v2h-1v-1h-1v1h-1v3.1h-1v3.2h-1v-2.5h-1v.4h-1v1.2h-1v1.5h-1v-.9h-1v.2h-1v3.9h-1h-1v-.7h-1v1.3h-1v-1.2h-1v-2h-1v2.8h-1v.8h-1v-.1h-1v4.5h-1v4.4h-1v1.6h-1v1.6h-1v5.3h-1v-1.5h-1v2.6h-1v-.1h-1v-.6h-1v2.2h-1v-1.8h-1v.2h-1v1.9h-1v1.2h-1v2.4h-1v-4h-1v-.3h-1v2.3h-1v.5h-1v1.9h-1v.8h-1v.3h-1v-2.3h-1v2.7h-1v2.2h-1h-1v-.4h-1v1.2h-1v2.2h-1v2.7h-1v.5h-1v-1.4h-1v.9h-1v-2.2h-1v-1.8h-1v2.9h-1v.1h-1v2.1h-1v4h-1v2.7h-1v2.1h-1v.7h-1v3.7h-1v7h-1v8.9h-1v8.5h-1v7.6h-1v10.3h-1v11.5h-1v12.8h-1v11.6h-1v13h-1v6.4h-1v.2h-1v2.8h-1v2h-1v1.5h-1v1.4h-1v1.9h-1v1.5h-1v3h-1v2.7h-1v1.8h-1v1.1h-1v3.4h-1v1.1h-1z"/>
<path class="c" fill="#dda000" stroke="#dda000" d="M171.5 949.5h1v-19.7h1v-20h1v-16h1v-11.7h1v-13.9h1v-13.2h1v-14.5h1v-11.1h1v-12.4h1v-12.7h1v-11.6h1v-10.4h1v-9.4h1v-5.9h1v-8.8h1v-5.6h1v-2.3h1v.9h1v1.6h1v-6.9h1v-7.2h1v-1.9h1v-4.4h1v1.1h1v-2.7h1v-7.1h1v2.7h1v-2h1v-6.7h1v9.6h1v1.3h1v9h1v1.5h1v2.3h1v-3.9h1v-.1h1v5.1h1v-4.7h1v11.4h1v1.7h1v.9h1v2h1v3h1v4h1v-6.9h1v-18h1v.9h1v2.5h1v-8.2h1v3.4h1v3h1v4.8h1v-.1h1v3.5h1v9.3h1v-5.9h1h1v-3.5h1v-4.5h1v-7.3h1v-2.8h1v-3.8h1v-6.1h1v2.3h1v-6h1v2.8h1v-10.3h1v5.7h1v6.8h1v-4.7h1v-.8h1v-1.2h1v-.3h1v-10.9h1v.9h1v-.9h1v2.2h1v7.6h1v-11.3h1v4.6h1v-4.3h1v4.4h1v-4.1h1v5.3h1v-3.9h1v3.9h1v-2.7h1v-1h1v-4.9h1v2.8h1h1v2.2h1v-4.5h1v-1.3h1v4.6h1v5.1h1v-10.6h1v.3h1v3h1v-4.9h1v5.5h1v-2.8h1v-2.8h1v-1.3h1v-1.8h1v6.9h1v-2.1h1v3.9h1v-5.3h1v3.4h1v-2.3h1v2.8h1v-4.5h1v-3.6h1v-5.8h1v1h1v4.3h1v3.4h1v-7.8h1v-1.5h1v1.3h1v3.7h1v-6.3h1v3.3h1v-7.3h1h1v-4.9h1v5.8h1v-9h1v1.2h1v-1.4h1v-2.4h1v-11h1v5h1v.3h1v-.3h1v-5.4h1v-7.3h1v3.6h1v-.8h1v.9h1v-2.7h1v2.9h1v-3.4h1v4h1v-11.3h1v-15.8h1v-14.6h1v-17.4h1v-19.6h1v-19.9h1v-21.5h1v-19.8h1v-29.8h1v-27.1h1v-18.1h1v-7.8h1v-5.6h1v-6.4h1v-6h1v-12.9h1v-15.6h1v-15.4h1v-10.5h1v-4.6h1v-3.7h1v-7.5h1v-.7h1v-.7h1v-4.6h1v-.3h1v-4.2h1v5.9h1v.4h1v-3.3h1v-.2h1v-2.8h1v3.3h1v-4.1h1h1v-.7h1h1v-.4h1v-3h1v8.1h1v-5.2h1h1v1.3h1v2.7h1v-.7h1v.3h1v1.3h1v-1.6h1v-2.9h1v-5.2h1h1v.8h1v-3.6h1v-2.4h1v-1.1h1v3.3h1v-3.2h1v1.2h1v.4h1v.9h1v-1.9h1v-3.1h1v1.2h1v-.8h1h1v2.8h1v-4.7h1v-2.7h1v-1.1h1v1.2h1v-.6h1v-3.2h1v1.7h1v-8.6h1v-.1h1v5.8h1v-2.9h1v-2.5h1v-4h1v5.6h1v-3.6h1v2.1h1v-2.2h1v-2.4h1v-3.8h1v-1h1h1v-5.2h1v-2.6h1v.5h1v.1h1v-.8h1v-4.1h1v1.8h1v.8h1v-3.1h1v-.6h1v3.2h1v6.5h1v-1.8h1v-.1h1v-1.3h1v-.1h1v-3.6h1v.1h1v5.5h1v.2h1v2.7h1v-2.1h1v3h1v3h1v-3.9h1v-2.5h1v-2.5h1v-8.6h1v-4.5h1v-7.2h1v4.1h1v9.4h1v-3h1v-5.7h1v1.1h1v-2.7h1v6.2h1v.4h1v-3h1v-1.2h1h1v-2.2h1h1v4.4h1v-2.1h1v2.8h1h1v-1.2h1v-6.6h1v8.1h1v-1.3h1v-4.3h1v-5.2h1v2.8h1v3h1v-4.6h1v2.8h1v-.9h1v-4.9h1v4.1h1v-3.3h1h1v-2.4h1h1v1.4h1v-1.6h1v-.1h1v2.2h1v3.9h1v2.9h1v2.4h1v-8.3h1v-6.3h1v.5h1v6.8h1v1.6h1v-3.3h1v-4.2h1v-2.9h1v1.3h1v-1.4h1v3h1v-4.8h1v-.3h1v.7h1v-8.1h1v6h1v-1.8h1v-5.5h1v8h1v-4.7h1v11.1h1v2.4h1v1.9h1v2.1h1v-4h1v-2.2h1v2.7h1v7.6h1v-3.6h1v7h1v.5h1v3.3h1v-7h1v.2h1v3.6h1v3.4h1v-3.8h1v-3.6h1v8.2h1v1.5h1v2.2h1v-3h1v2h1v1.6h1v-6.3h1v-.9h1v1.2h1v4h1v-5.1h1v.7h1v-2.8h1v-4.5h1v-.2h1v.2h1v5h1v.7h1v1.2h1v-2.2h1v1.2h1v6h1v2h1v4h1v-3.1h1v1.9h1v-.1h1v3.2h1v-4h1v4.2h1v-1.3h1v3.2h1v1.6h1v2.9h1v1.2h1v3.6h1v2.3h1v5.4h1v2.9h1v-3.3h1v4.9h1v4.7h1v-3.8h1v.9h1v-3.4h1v2.5h1v2.6h1v-5.2h1v2.2h1v-2.1h1v.8h1v-.5h1v5.5h1v-.2h1v1.2h1v-4.5h1v5.1h1v.1h1v-1.1h1v3.8h1v.5h1v1.1h1v-.6h1v-9.7h1v8h1v-1.9h1v2.4h1v.3h1v-1.8h1v3.6h1v-.2h1v2.1h1v2.2h1v-.8h1v.2h1v.2h1v.1h1v2.1h1v-3.4h1v-1.1h1v.1h1v-1.7h1v1h1v.8h1v.4h1v5.7h1v-5.3h1v1.3h1v-.8h1v.7h1v-1.8h1v-1h1v.3h1v-1.2h1v-.2h1v1.3h1v.1h1v-1.2h1v2.7h1v1.3h1v-2.8h1v1.4h1v-.5h1v.2h1v-2.6h1v.4h1v-3h1v.4h1v-.8h1v-.1h1v-2.4h1h1v-.6h1v1.6h1v.3h1v-.4h1v-1.6h1v1.6h1v-5.6h1v2.9h1v-4.9h1v-.6h1h1v1.6h1v.9h1v.4h1v.4h1v-4.3h1v-1.7h1v3.2h1v-3.3h1v2.8h1v-1.8h1v3.1h1v-.5h1v2.6h1v3h1v-3.4h1v3.4h1v-.3h1v2.4h1v-2h1v-5.1h1v.3h1v4h1v-.1h1v-2.1h1v-.8h1v-1h1h1v-3.3h1v4.1h1v.9h1v2.9h1v-5.8h1v.9h1v-.2h1v6.3h1v-2.2h1v1.8h1v.2h1v-4.7h1v.7h1v1.6h1v-.6h1v4.2h1v-3.4h1v1.6h1v4h1v-6.1h1v1.6h1v-4.4h1v.1h1v1.9h1v-2.5h1v.1h1v-.1h1v-2h1v.8h1v1.3h1v-1.6h1v2h1v-2.3h1v4.1h1v1.5h1v-2.6h1v1.2h1v-3.6h1h1v1.3h1v1.2h1v-2.1h1v.6h1v-2.1h1v-1.3h1v4.6h1v.6h1v-1.2h1v-.7h1v.4h1v4.4h1v-.1h1v-1.6h1v-3.2h1v-2.6h1v4.6h1v1.8h1v-.7h1v-3.7h1v5h1v-1.6h1v1.4h1v-2.6h1v.8h1v-2.7h1v.5h1v2.5h1v-1.1h1v-2.4h1v1.2h1v1h1v-2.9h1v3.4h1v-.4h1v-2.8h1v.9h1v1h1v-.1h1v-.2h1v1.8h1v-.9h1v-5.3h1v5.4h1v2.4h1v-3.9h1h1v2.4h1v-.1h1v.3h1v.4h1v-2h1v2.5h1v1.7h1v1.4h1v-.8h1v-.2h1v-1.2h1v-1.1h1v2.2h1v-3.1h1v-3.1h1v6.3h1v-4.7h1v.3h1v2.1h1v-1h1v-2.1h1v-.5h1v-1.8h1v-1h1v4.7h1v-.8h1v-.6h1v-.8h1v-4.1h1v3.8h1v5.2h1v.8h1v-1.2h1v.6h1v-1.5h1v-2.5h1v.5h1v-.4h1v-3.2h1v4h1v-.5h1v1.7h1h1v-4.3h1v1.7h1v1.8h1v-.3h1v1.9h1v-3.4h1v-3.2h1v1.2h1v-4.4h1v1.4h1v2h1h1v1h1v-.9h1v1.1h1v.9h1v-.3h1v.9h1v-1.4h1v2.3h1v-2.8h1v1.2h1v3.1h1v-.1h1v-2.6h1v2.2h1v.1h1v1.5h1v-1.3h1v-2.4h1v.7h1v-1.3h1v-.8h1v.9h1v-.5h1v1.5h1v2.7h1v-1.6h1v-3.8h1v2.2h1v1.8h1v-.5h1v-.1h1v4.1h1v-4.7h1v.6h1v-.8h1v.2h1v-.4h1v-1.7h1v3.2h1v-.1h1v-3.4h1v4.7h1v.6h1v-4.6h1v1.6h1v-3.2h1v1.3h1v-.2h1v-.1h1v-.6h1v-.8h1v2.1h1v-.3h1v-1.4h1v-.4h1v1.7h1h1v2.9h1v-2.8h1v1.7h1v-4h1v3.6h1v4.5h1v-5.4h1v-1.1h1v.6h1v3.3h1v-1h1v-.5h1v3.5h1v-.6h1v-1.7h1v1.3h1v-.2h1v2.8h1v-3h1v-.7h1h1v-.8h1v.6h1v.9h1v1h1v-3.4h1v2.4h1v.1h1v-.3h1v-7.3h1v7.4h1v-6.2h1v6h1v-1.2h1v-2h1v.3h1h1v2.9h1v-3.1h1v2.4h1v-1h1v-2.9h1v2.9h1v-1.8h1v3.5h1v.7h1v.4h1v-5.7h1v-1.3h1v1.6h1v2.8h1v-2h1v2.9h1v-2.9h1v-1.7h1v-2.7h1v3.1h1v-.5h1v2.3h1v.7h1v1h1v.8h1v-6.6h1v2.8h1v2h1v-2.4h1v2h1v1.7h1v-1.1h1v3h1v.3h1v-1.3h1v-4.2h1v5.6h1v-1.7h1v.8h1v-2.2h1v1.2h1v.8h1v3.9h1v-1.4h1v-4.5h1v1.2h1v1h1v1.2h1v.6h1v-1.8h1v3.3h1v-3h1v-.4h1v-2.4h1v-1.2h1v2.9h1v-1.9h1v.8h1v1.7h1v.8h1v-3.4h1v-1.1h1v-1.7h1v2.4h1v1.9h1v-1.9h1v-2.2h1v-1.5h1v1.1h1v2.5h1v-3.2h1v2.8h1v1.4h1v-.1h1v-3.4h1v-4h1v1.4h1v1.4h1v-1.1h1v2.8h1v-.4h1v1.8h1v3.3h1v-4.8h1v6.1h1v.3h1v1.6h1v-1.2h1v-.1h1v-.4h1v-.7h1v-.3h1v.9h1v.4h1v.6h1h1v-1.4h1v-3.6h1v-.4h1v2.3h1v2.8h1v-3.8h1v-.2h1v.3h1v2.7h1v-.8h1v-.2h1v-2.5h1v.2h1v2.1h1v1.3h1v.4h1v1.8h1v-3.8h1v1h1v-4.5h1v3.7h1v-.7h1v1.2h1v-1.5h1v.8h1v.2h1v-2.1h1v-1.5h1v2.7h1v.1h1v-1.4h1v.9h1v-2.3h1v.6h1v-4.4h1v9.9h1v-.1h1v-2.6h1v-2.9h1v6.3h1v-1.1h1v-.9h1v-2.9h1v4.9h1v.1h1v2.1h1v-.4h1v.7h1v2.4h1v-2.5h1v1.5h1v.9h1v-3.7h1v2.8h1v-1.1h1h1v-1.6h1v4h1v-2.3h1v-2.1h1v3.7h1v-1.5h1v2.8h1v-2.3h1v-3.5h1v-1.4h1v2h1v-.9h1v1.8h1v1.4h1v-.9h1v-1.9h1v-1.8h1v-.5h1v-.5h1v-3.9h1v-.9h1v1.3h1v2.6h1v-.8h1v-.7h1v-1.2h1v.3h1v.4h1v2h1v-4.1h1v2.2h1v-.5h1v-3.6h1v4.5h1v1.9h1v-3.1h1v-.8h1v3h1v4h1v.1h1v-1h1v-4h1v2.5h1h1v1h1v5.2h1v-1.8h1v1.1h1v-.3h1v-.1h1v8.7h-1v4.6h-1v-1.5h-1v.7h-1v-1h-1v-1h-1h-1v-4.3h-1v.1h-1v2.4h-1v-1h-1v-.8h-1v-1.2h-1v-2h-1v.3h-1v.8h-1v2.1h-1v-4h-1v1.2h-1v-3.4h-1v4.3h-1v1h-1v-2h-1v-2h-1v4.6h-1v-1.8h-1v-.3h-1v2.3h-1v-3.6h-1v-2.7h-1v2.5h-1v4.1h-1v-2.7h-1v1.6h-1v6.6h-1v-.1h-1v.2h-1v-.1h-1v-3.9h-1v1.5h-1v.9h-1h-1v1.3h-1v1.8h-1v-1.3h-1v-.5h-1v.4h-1v-1.9h-1v2.8h-1v-2.4h-1v-.5h-1v.4h-1v2.4h-1v-3.4h-1v2.4h-1h-1v-.8h-1h-1v-3.2h-1v.5h-1v1.7h-1v.4h-1v-3h-1v.6h-1v-.9h-1v-1.6h-1v3.3h-1v-3h-1v-1.1h-1v1.8h-1v-1.3h-1v-1.3h-1v-1.4h-1v1.1h-1v1.3h-1v.3h-1v1.1h-1v-2.2h-1v-.6h-1v.4h-1v2.8h-1v-2.5h-1v2.7h-1v.1h-1v-.5h-1h-1v-.5h-1v3.7h-1v-1.3h-1v-2.5h-1v-.9h-1v-.1h-1v-.6h-1v-.1h-1v1.8h-1v-2.6h-1v2h-1v2h-1v-2.4h-1v1.3h-1v-3.2h-1v1.3h-1v1.5h-1v-2.2h-1v.9h-1v.4h-1v7.3h-1v-3.1h-1v1.9h-1v-4.4h-1v-1.8h-1v4.4h-1v-1.8h-1v-.7h-1v1.3h-1v1.9h-1v-2.8h-1v-.6h-1v-1.9h-1v1h-1v-3.5h-1v-3.2h-1v4.9h-1v-5.9h-1v-.4h-1v1.5h-1v1.3h-1v-.5h-1v3.1h-1h-1v1.2h-1v-3.4h-1v5.2h-1v-5.6h-1v-1.4h-1v2h-1h-1v6.2h-1v-1.6h-1v-4h-1v1.7h-1v2.9h-1v-1h-1v1.8h-1v-2.4h-1v1.1h-1v1.7h-1v-4.8h-1v1.8h-1v1.8h-1v-.9h-1v4h-1v-1h-1v-1.2h-1v.3h-1v-.6h-1v-.2h-1v-.3h-1v2.2h-1h-1v.4h-1v-7.2h-1v2.5h-1v-2.4h-1v3.4h-1v-.8h-1v-.1h-1v.3h-1v3.7h-1v-4.5h-1v.7h-1v-1.4h-1v-1.8h-1v-1.8h-1v4.3h-1v-1.9h-1v2.7h-1v-.3h-1v-1.5h-1v3.5h-1v-3.7h-1v-2.9h-1v1.7h-1h-1v2.7h-1v-2.2h-1v7.9h-1v-4.1h-1v-2.8h-1v-.1h-1v.2h-1v-1.5h-1v7.1h-1v-3h-1v-.2h-1v-1.5h-1v.4h-1v-1.3h-1v.1h-1v1.7h-1v1h-1v-2.1h-1v-.3h-1v-.9h-1v-.6h-1v5.4h-1v-3.2h-1v-1.1h-1v3.2h-1v.1h-1v1.2h-1v-2.7h-1h-1v2h-1v-.3h-1v-1.9h-1v-1h-1v.1h-1v3.5h-1v2h-1v-2.1h-1v.4h-1h-1v-1.9h-1v-.8h-1v2h-1v-1.1h-1v-2h-1v4.1h-1v1.7h-1v-7.1h-1v.2h-1v-.4h-1v4.1h-1v-3.5h-1v1.2h-1v.5h-1v.1h-1v-2.9h-1v-.1h-1v1.8h-1v-1.1h-1v-2.1h-1v2.4h-1v-.9h-1v-.3h-1v2.4h-1v.4h-1v-1.6h-1v-.8h-1v1.9h-1v-2h-1v5.3h-1v.8h-1v-3.3h-1v.1h-1h-1v-.1h-1v-1.3h-1v-1.5h-1v.8h-1v1h-1v2.9h-1v1.7h-1v-.9h-1v-3.1h-1v.3h-1v3.9h-1v-1.2h-1v-5.1h-1v2.8h-1h-1v-1.6h-1v-1.4h-1v1.1h-1v-1h-1v.8h-1v5.4h-1v-3.9h-1v1.4h-1v-.3h-1v3.4h-1v-2.1h-1v-2h-1v2.3h-1v-3h-1v3h-1v-2.7h-1v-1.7h-1v.8h-1v1.9h-1h-1v-2.7h-1v1.3h-1v-4.7h-1v4.4h-1h-1v-2.6h-1v-.8h-1h-1v3h-1v-3.9h-1v1.3h-1v3.8h-1v.1h-1v.3h-1v-1h-1v.1h-1v.6h-1v.4h-1v2.2h-1v-3.5h-1v-2.2h-1v1.5h-1v2.8h-1v-1h-1v1.1h-1v3.6h-1v-2.7h-1v1.6h-1v-3.8h-1v-.9h-1v3h-1v-5h-1v3.5h-1v4.4h-1v-5.4h-1v-1.7h-1v-2.9h-1v4.2h-1v3.7h-1v-1.3h-1v1.2h-1v.3h-1v1.5h-1v.3h-1v-2h-1v-3.3h-1v5.8h-1v-2.2h-1v.1h-1v3.2h-1v-.5h-1v.3h-1v-1.5h-1v2.1h-1v-3.9h-1v-1.1h-1v1.4h-1v-.9h-1v4.8h-1v-4.5h-1v-.5h-1v.1h-1v-1h-1v-1.1h-1v2.2h-1v-3.7h-1v1.1h-1v3.7h-1v-3.9h-1v-.3h-1v-1h-1v3.5h-1v.4h-1v-5.5h-1v3.6h-1v-1.4h-1v-.2h-1v.3h-1v3.8h-1v-1.5h-1v1.5h-1v-2.9h-1v1.5h-1v2.2h-1v2.3h-1v-4.6h-1v1.7h-1v-1.2h-1v1.8h-1v-3h-1v1.2h-1v-1.8h-1v-.9h-1v4.1h-1v-.4h-1v-.3h-1h-1v-3.2h-1v4.6h-1v-3.9h-1v-3.7h-1v3.3h-1v-.6h-1v3.1h-1v-1.3h-1v-1.1h-1v-1.3h-1v1.9h-1v-.5h-1v1.8h-1v1.4h-1v-1.5h-1v-2.1h-1v.5h-1v-.3h-1v-1.9h-1v1.5h-1v-.4h-1v.8h-1h-1v1.8h-1v2.4h-1v-.7h-1v-2.4h-1v5h-1v.1h-1v.2h-1v-.1h-1v-2.7h-1v2h-1v-.7h-1h-1v-1.1h-1v-.7h-1v2.5h-1v-1.9h-1v1.5h-1h-1v-1.5h-1v-2.7h-1v.4h-1v2h-1v1.9h-1v-4.1h-1v-3.8h-1v5.2h-1v2.6h-1v-2.3h-1h-1v3.2h-1v-2h-1v-2.2h-1v-.4h-1v7.7h-1v-.3h-1h-1v-1.3h-1v1.1h-1v-1.6h-1v-2.2h-1v-3h-1v.3h-1v-5.9h-1v2.2h-1v-2.2h-1v3.9h-1v-.2h-1v-1.3h-1v-.2h-1v4.1h-1v-2.4h-1v.4h-1v1.9h-1v4.4h-1v-1.9h-1v-2.2h-1v.5h-1v-.2h-1v3.3h-1v1.3h-1v1.6h-1h-1v-2.4h-1v.5h-1v1.9h-1v-.9h-1v.4h-1v3h-1v-2.1h-1v.3h-1v2h-1v.8h-1v2.4h-1v-.3h-1v1.3h-1v1.5h-1v-1.7h-1v-4.7h-1v1.3h-1v1.7h-1v-1.6h-1v3.4h-1v1.4h-1v-1.9h-1v-.8h-1v1.3h-1v-.4h-1v.1h-1v2.9h-1v1.1h-1v-3.6h-1v-1.7h-1v-2.6h-1v2.6h-1v.2h-1v-.1h-1v.4h-1h-1v1.9h-1v-2.3h-1v-.1h-1v3.3h-1v-.6h-1v-1.4h-1v-3.2h-1v-1.4h-1v.1h-1v-2.6h-1v2.6h-1v-3.3h-1v-1.5h-1v1h-1v1.5h-1v2.9h-1v1.8h-1v-1.5h-1v-1.6h-1v-1.3h-1v.1h-1v-4.2h-1v3h-1v-3.7h-1v.5h-1v-1.3h-1v2.7h-1v.7h-1v-3.5h-1v2.7h-1v4.3h-1v-2.3h-1v-3.3h-1v-2.5h-1v6.5h-1v-1.5h-1v-4.2h-1v-1.2h-1v-1.3h-1v-.7h-1v-4h-1v-3.6h-1v.2h-1v-.4h-1v-6.8h-1v-3.1h-1v-.4h-1v1.5h-1v-6.7h-1v3.9h-1v-2h-1v.1h-1v.8h-1v-1.8h-1v-1.2h-1v-6h-1v1.5h-1v-1.2h-1v2.3h-1v-4.4h-1v-.9h-1v-3.2h-1v-4.9h-1v2.1h-1v4.1h-1v4.5h-1v-.7h-1v2.8h-1v.1h-1v-1.3h-1v-1.8h-1v2.7h-1v4.1h-1v-4.8h-1v2h-1v-.9h-1v-.9h-1v1.4h-1v-3.3h-1v-1h-1v-.6h-1v-6.7h-1v2.3h-1v6.4h-1v-2.6h-1h-1v-2.7h-1v1.8h-1v-4.8h-1v-2.1h-1v-1.8h-1v1.3h-1v.3h-1v-2.3h-1v-5.6h-1v-4.5h-1v-3h-1v.5h-1v1.6h-1v-2.1h-1v-.1h-1v.9h-1v2.8h-1v-2.1h-1v7.9h-1v-3.9h-1h-1v6.2h-1v.6h-1v3h-1v-.5h-1v1.2h-1v-5.1h-1v6.5h-1v-1.7h-1v5.2h-1v-.7h-1v-4.4h-1v-.9h-1v-4.5h-1v3.4h-1v-2.6h-1v1.4h-1v1.8h-1v6.3h-1v-5.1h-1v.3h-1v2.5h-1v-.4h-1v7.1h-1v-4.6h-1v-.9h-1v-.2h-1v-1.7h-1v1.7h-1v1.1h-1v6.7h-1v-5h-1v4.7h-1v-3.5h-1v1.6h-1v4.7h-1v-5.7h-1v2.1h-1v-2.3h-1v-3.1h-1v3.9h-1v-1.3h-1v2.1h-1v-4.4h-1v5.8h-1v-3.9h-1v2.5h-1v1.9h-1v2.2h-1v-6.1h-1v2.8h-1v-.7h-1v3.4h-1v5.8h-1v8h-1v-2h-1v1.9h-1v-1.8h-1v.2h-1v-.2h-1v1.9h-1v-2h-1v-5.4h-1v-6.6h-1v6.4h-1v1.2h-1v-3.7h-1v4.3h-1v1.2h-1v-1.5h-1h-1v-3.7h-1v2.4h-1v1.1h-1v-6.2h-1v3.9h-1v-.6h-1v1.4h-1v.2h-1v3.8h-1v1.9h-1v.6h-1v4.8h-1v-1.2h-1v4.6h-1v-.1h-1v-.8h-1v5.6h-1v-1.8h-1v-1.3h-1v1.8h-1v-1.1h-1v.9h-1v4.5h-1v-1.5h-1v2h-1v1.3h-1v4.4h-1v-1.7h-1v3.3h-1v3.9h-1v1.6h-1v-3.5h-1v.7h-1v-.5h-1v1.5h-1v4.9h-1v-5.6h-1v-.2h-1v3h-1v-2.2h-1v1h-1v-4.5h-1v5.2h-1v4.7h-1v-.9h-1v-.9h-1v6.4h-1v-1.1h-1v4.9h-1v2.1h-1v-1.6h-1h-1v-.8h-1v-3h-1v.2h-1v3.5h-1v-.2h-1v-5.2h-1v1.9h-1v-1.9h-1v-.1h-1v5h-1v-2.3h-1v.2h-1v4.4h-1v-2.5h-1v-.2h-1v5.9h-1v-5.3h-1v-.5h-1v.3h-1v1.3h-1v3.1h-1v-.7h-1v1.5h-1v5.3h-1v3.3h-1v8.6h-1v14.5h-1v15.8h-1v14h-1v5.1h-1v7h-1v6h-1v6.5h-1v17h-1v27.1h-1v29.8h-1v20.1h-1v22.1h-1v19.6h-1v19h-1v17.6h-1v15.7h-1v17h-1v15.4h-1v2.7h-1v.4h-1v1.3h-1v-3h-1v1.9h-1v-.2h-1v.9h-1v2.9h-1v2h-1v8h-1v-.6h-1v1.3h-1v7.9h-1h-1v.2h-1v5.5h-1v4h-1v.6h-1v-1.2h-1v3.8h-1v4.8h-1v2.2h-1v3.6h-1v-3.3h-1v-2.1h-1v5.7h-1v-4h-1v6.1h-1v-4.5h-1v2.4h-1v-2.9h-1v-2h-1v10h-1v2h-1v-3.1h-1v8.6h-1v-6.4h-1v3.1h-1v-2.9h-1v-.2h-1v-2.4h-1v1.2h-1v5.2h-1v.9h-1v.7h-1v-4.4h-1v3h-1v6h-1v-1.4h-1v-1.2h-1v-5.7h-1v1.8h-1v1.1h-1v.5h-1v5.7h-1v-6h-1v2h-1v3.9h-1v1.1h-1v1.4h-1v.3h-1v-1.1h-1v-1h-1v.9h-1v-5.1h-1v2.2h-1v-2h-1v9.7h-1v-8.3h-1v.3h-1v-4.4h-1v9.1h-1v2.5h-1v-1.5h-1v1.8h-1v4.9h-1v4.4h-1v-1h-1v-7h-1v7.6h-1v10.2h-1v-6.8h-1v-1.8h-1v2.7h-1v-.2h-1v9.6h-1v4.8h-1v5h-1v6.1h-1v10.6h-1v-11.1h-1v-5.6h-1v-.8h-1v1.5h-1v-10.1h-1v-1.4h-1v-3.6h-1v4h-1v.3h-1v10.5h-1v4.3h-1v10.4h-1v-8h-1v.6h-1v-.1h-1v-2.2h-1v-3.4h-1v-7.7h-1v-1.3h-1v-2h-1v-.5h-1v7.2h-1v2.8h-1v-9.4h-1v-8h-1v1.1h-1v-7.3h-1v4.4h-1v-.2h-1v-1.1h-1v5.3h-1v-1.3h-1v-1.4h-1v5.4h-1v3.1h-1v4.5h-1v8.3h-1v-7.3h-1v-2.4h-1v4.9h-1v11.1h-1v1.5h-1v7.9h-1v6.6h-1v11h-1v14.5h-1v10.1h-1v11.6h-1v13.9h-1v13.4h-1v14.1h-1v12.8h-1v16.3h-1v19h-1v20.3h-1v1.5h-1z"/>
<path class="c" fill="#00cccc" stroke="#00cccc" d="M171.5 948.1h1v-25.7h1v-28.5h1v-23.6h1v-16.4h1v-15.7h1v-15h1v-16.6h1v-16.1h1v-7.3h1v-9.3h1v-7.1h1v-7.5h1v-5.7h1v-4.4h1v-2h1v-.7h1v-6.7h1v-10.4h1v-21.4h1v-15.6h1v-20.7h1v-22.4h1v-16.3h1v-15h1v-20h1v-6.8h1v-2.8h1v1.5h1v.3h1v-2.7h1v-7h1v-13.5h1v-22h1v-22.5h1v-15.4h1v-10.7h1v-10.4h1v-6.7h1v-9h1v-7.7h1v-6.1h1h1v-3.7h1v-6.3h1v-6.6h1v-2.4h1v-10.7h1v-.5h1v-2.5h1v-3.7h1v-1.7h1v-3.5h1v-2.4h1v-3.8h1v-4.1h1v-5.4h1v-1.9h1v-1h1v-3.3h1v.1h1v.6h1v-1.7h1v1.5h1v.3h1v-1h1v1.7h1v-3.5h1v4.4h1v-4.5h1v10.7h1v-2.8h1v-2.8h1v3.6h1v-.4h1v-1.6h1v2.6h1v1.2h1v2.5h1h1v-2.2h1v2.7h1v-1.8h1v-1.5h1v-4.2h1v-3.3h1v-2.8h1v3.3h1v-2.4h1v1h1v-.5h1v-3.5h1v-.7h1v3.2h1v1.9h1v1.1h1v1.4h1v-.6h1v-.8h1v4.3h1v-1.9h1v4.6h1v-5.4h1v-7.4h1v3.1h1v-1.7h1v5.5h1v-2.7h1v3.3h1v-6.2h1v3.8h1v-3.3h1v-.7h1v5.2h1v-1h1v-2.4h1v-.1h1v-1.4h1v-2.3h1v2.1h1h1v-1.1h1v1.2h1v-5.4h1v5.7h1v1.3h1v-1h1v1.5h1v-.4h1h1v2.5h1v-3.1h1v-1.3h1v2.6h1v-1h1v1.4h1v-3.9h1v-1.3h1v-4.2h1v2.2h1v3.5h1v-6.5h1v3h1v3.7h1v-2.8h1v1.4h1v.1h1v4.7h1v-5.6h1v-3.1h1v1.9h1v-2.8h1v3.6h1v-3h1v-.4h1v2.1h1v-2.8h1v-5.8h1v3h1v.5h1v-4h1v2.3h1v-.4h1v-1.2h1v2.3h1v3.1h1v-1.9h1v1.7h1v3.3h1v.3h1v-6.2h1v-.1h1v-3.9h1v-.1h1v7h1v-1.5h1v-2.1h1v-4.4h1v2.2h1v5.1h1v-3.1h1v-.5h1v8.7h1v-6.8h1v-1.3h1v-2h1v6.2h1v6.9h1v-1.9h1v-1.5h1v-3.9h1v5.3h1v-1.6h1v-1.9h1v.9h1v-6.3h1v-.1h1v3.7h1v-4h1v-2.4h1h1v-4.3h1v5.5h1v-1.5h1v-4.1h1v-.1h1v-.8h1v1.1h1v-1.9h1v4.2h1v.4h1v.1h1v2.5h1v3.8h1v-1.5h1v-4.8h1v-3.9h1v-2.8h1v2.9h1v.9h1v5.8h1v2.7h1v7.3h1v-3h1v-1h1v-2.3h1v-5h1v1.3h1v5.2h1v1h1v-3.7h1v4.9h1v.6h1v-4.2h1h1v10.6h1v-3.3h1v-1.4h1v-4.2h1v.7h1v-.1h1v-3h1v2.7h1v-7.2h1v5.9h1v1.7h1v2.6h1v-6.1h1v1h1v2.5h1v1.4h1v-2.9h1v-5.9h1v-1.5h1v2.5h1v3.3h1v-4.4h1v6.4h1v1.9h1v-2.1h1v1.4h1v1h1v-3h1v-3.6h1v1.8h1v2.3h1v-6.9h1v-1.1h1v-1.9h1v5.4h1v-5.1h1v4.7h1v.7h1v.9h1v5.7h1v1.6h1v-.8h1v.1h1v1.8h1v-.2h1v-2.3h1v-4.2h1v3.4h1v1.5h1h1v2.2h1v-.9h1v-2.4h1v4.6h1v-2.5h1v4.7h1v-9.2h1v1.7h1v-2.7h1v.4h1h1v-3.9h1v3.1h1v3.1h1v2.5h1v1.8h1v-7h1v5.9h1v.8h1v1.9h1v-5.3h1v.8h1v-4h1v.1h1v2h1v-1.6h1v-.4h1v3h1v-1.8h1v1h1v-1.3h1v.4h1v1.7h1v-1.3h1v-.2h1v-1.4h1v2.8h1v-6.4h1v2.8h1v1.7h1v.3h1v-1h1v1.7h1v1.2h1v-3.9h1v.5h1v-2.2h1h1v-.1h1v.5h1h1v-.2h1v4.5h1v3.3h1v2.3h1v-.8h1v-2.8h1v-.8h1v2.1h1v-1.9h1v-.7h1v-1.4h1v-1.1h1v3.6h1v-.1h1v-2.9h1v4.8h1v-7.4h1v11.4h1v.4h1v-1.1h1v-3.7h1v-3h1v7.6h1v-1.4h1v-1.7h1v-6.2h1v-.3h1v.4h1v-3.6h1v6.2h1v-2.3h1v3.2h1v-.8h1v-.1h1v-.3h1v-2.3h1v.5h1v-3.6h1v8.3h1v-1.7h1v-11.2h1v2.8h1v5.1h1v-1h1v4.1h1v-3.7h1v2h1v-1.4h1v1h1v-7.2h1v1.1h1v-3.4h1v2.2h1v.8h1v-4.7h1v4.7h1v3.5h1v-2.1h1v2.8h1v-2.9h1v4.3h1v1h1v-1h1v.2h1v-2.6h1v-2.9h1v4.4h1v-6.7h1h1v-.6h1v3.5h1v.5h1v-.5h1v.2h1v-2.7h1v5.1h1v-.5h1v1.1h1v-4.1h1v.1h1h1v5.1h1v2.4h1v2.5h1v-.1h1v.7h1v-.4h1v-4h1v3.7h1v-5.6h1v4.2h1v4h1v-.4h1v4.3h1v-4.1h1v.8h1v2.3h1v-1.2h1v-2.5h1v-1.3h1v.3h1v2.6h1v-2.1h1v-3.9h1v-.3h1v-1.2h1v-1.1h1v3.8h1v-.6h1v-2.3h1h1v2.6h1v-2.8h1v6.1h1v-3.5h1v3h1v.2h1v.5h1v-2.9h1v1.6h1v-7.3h1v2.5h1v1.8h1v-3h1v-2.8h1v-1.2h1v-.4h1v4.4h1v-4.8h1v.9h1v1.4h1v-.6h1v-5.4h1v5.9h1v-3.3h1v-5.1h1v1.2h1v6.5h1v-.6h1v-.4h1v-.5h1v-.5h1v-1h1v.3h1v1.5h1v-2.1h1v4.4h1v3.7h1v-2.3h1v.1h1v-1.1h1v10h1h1v1.3h1v-1.7h1v.9h1h1v-.2h1v-2.9h1v3h1v1.2h1v-4.6h1v.8h1v3.1h1v-2h1v3.4h1v5.8h1v-8.2h1v7h1v-3.1h1v-4h1v-1.3h1v.8h1v-1.1h1v-.9h1v3.4h1v2.4h1v-2.6h1v-.9h1v2.1h1v-5.6h1v2.1h1h1v-3.1h1v.9h1v-.4h1v.4h1v-1.3h1v-2.7h1v-.9h1v-5h1v9.5h1v-.8h1v-1.3h1v-3.5h1v7.6h1v-.8h1v-1.8h1v2.8h1h1v-1.3h1v5.3h1v.4h1v-.2h1v-1.8h1v.1h1v2.6h1v-2h1v1h1v.7h1v-7.2h1v1.3h1v-4.3h1v.1h1v-2.6h1v-3.8h1v-.5h1v-4.3h1v9.2h1v.7h1v3h1v3.5h1v-4.6h1v5.2h1v-2.2h1v-1.3h1v3h1v-3.7h1v.5h1v-.4h1v-.8h1v-6.5h1v10.6h1h1v1h1v-4.4h1v-2.2h1v6h1v-1.7h1v1.8h1v-3.7h1v-2.9h1v3.9h1v6h1v.3h1v-2.5h1v-4.2h1v.9h1v2.7h1v.3h1v-2.9h1v.5h1v1h1v-.5h1v1.4h1v-5h1v-1.1h1v-2h1v1.5h1v-2.1h1v.1h1v-2.1h1v-.2h1v.5h1v2.1h1h1v-1.6h1v.1h1v-1.1h1v-4.9h1v5.5h1v-2.4h1v2.4h1v-3.2h1v-1.5h1v-1.6h1v5.7h1v.9h1v2.9h1v.8h1v1.7h1v-.5h1v-1.7h1v2.2h1v-.8h1v1.2h1v.3h1v2.2h1v-3.4h1h1h1v7.7h1v-3.5h1v-2.1h1v1.2h1v1.3h1v5.4h1v-2.8h1h1v.1h1v-4.1h1v2.5h1v-4.4h1v1.3h1v3.4h1v-4.3h1v-.2h1v-3.4h1v5.4h1v-3.8h1v-.1h1v3.1h1v.9h1v1.2h1v2.2h1v-1.8h1v-1.8h1v1.5h1v4h1v2.3h1v.5h1v-1.4h1v-1.5h1v-2.6h1v1.1h1v-.7h1v-6.2h1h1v8.4h1v-6.7h1v1h1v-2.5h1v4.4h1v-.6h1v-.2h1v.8h1v4.7h1v1.1h1v-1.4h1v-1h1v-1.7h1v3.7h1v1.3h1v-5.3h1v2.8h1v1.9h1v-7.5h1v.3h1v1.2h1v1.4h1v-.8h1v.7h1v-.3h1v.2h1v-1h1v2.3h1v1.9h1v-2.4h1v4.6h1v-6.1h1v.3h1v1.1h1v-3.8h1v6.7h1v6.1h1v-7.2h1v.9h1v6.6h1v-.4h1v1h1v-7h1v5.1h1v-5.6h1v5.9h1v1.8h1v-2h1v-4.5h1v3.5h1v-7.7h1v3.9h1v-.4h1v-1.8h1v2.4h1v-3.8h1v6.5h1v-5.5h1v4.4h1v-5.7h1v.5h1v-1.2h1v-3.3h1v4.6h1v-.7h1v-1.9h1v-1.3h1v1.1h1v-1.5h1v-1.8h1v5.5h1v-1.1h1v1h1v-.6h1v.6h1v-1.7h1v1.3h1v-2.8h1v1.4h1v-1.3h1v-1.1h1v-.8h1v4.3h1v-2.8h1v3.8h1v-4.3h1v1.9h1v-3.7h1h1h1v5.4h1v-1.4h1v1.8h1v-10.5h1v8.4h1v-4.5h1v3.2h1v.2h1v.8h1v-.5h1v-1.4h1v-.8h1v3.5h1v.2h1v-2.1h1v-4.9h1v3.9h1v-4.1h1v-2.9h1v.3h1v1.3h1v.7h1v-.7h1v-.7h1v1.5h1v.2h1v4.2h1v1.3h1v-3.1h1v-1.8h1v-1.4h1v7.5h1v-1h1v-4.8h1h1v.4h1v2.5h1v-1.2h1v2.3h1v-1.7h1v3h1v-4.5h1v-1.4h1v3.3h1v2.4h1v-4.2h1v2.5h1v4.9h1v1.4h1v-3.1h1v-1.4h1v-2.8h1v.4h1v2.2h1v-3h1v5.4h1v-8.6h1v5.7h1v-4.7h1v8.7h1v-.2h1v-1.7h1v.5h1v-.6h1v-3.7h1v-.2h1v-6.8h1h1v10.3h1v-3.6h1v1.7h1v-1h1v4.7h1v.4h1v-4.7h1v1.2h1v-3.4h1v-1.4h1v2.9h1v.2h1v-.4h1v3h1v-1.1h1v-.6h1v.7h1v-.8h1v-3.4h1v.8h1v-.2h1v1.4h1v-2h1v-3h1v9.8h1v-.5h1v-.8h1v2.2h1v-2.2h1v2.8h1v-2.5h1v4.3h1v-2.8h1v-.2h1v.2h1v-.5h1v2.2h1v-3.7h1v1.7h1v4.1h1v-4.8h1v-1.4h1v.1h1v-3.9h1v2.6h1h1v9.1h1v-4.1h1v-2.5h1v-.4h1v.4h1v.5h1v-.3h1v7.1h1v2.4h1v-3.7h1v-2.6h1v3h1v-6.1h1v3.8h1v-2.9h1v-2.3h1v-.5h1v-4.6h1v6.6h1v-2.9h1v.3h1v-3.9h1v-1.5h1v-5.1h1h1v4.2h1v-8.5h1v4.6h1v-2.9h1v2.4h1h1v7.5h1v2.7h1v-4.1h1v-1.9h1v.5h1v-2.6h1v-.7h1v3.7h1v-1.7h1v-.6h1v-1.2h1v-1.9h1v-3.1h1v8.1h1v-5.2h1v-.1h1v.4h1v-4.4h1v-1.9h1v.4h1v-1.4h1v-1.9h1v3.6h1v3.9h1h1v1.6h1v-3.6h1v3.4h1v2.3h1v-.1h1v10.7h-1v5.6h-1v-4.8h-1v7.1h-1v-.2h-1v-6h-1v2.4h-1v-.7h-1v-10.9h-1v3.7h-1v3.8h-1v-.3h-1v-1.8h-1v6.3h-1h-1v2.7h-1h-1v-4h-1v-.7h-1v3.1h-1v-1.7h-1v2.2h-1v4.7h-1h-1v-.8h-1v1.1h-1v-5.5h-1v5h-1h-1h-1v-2.3h-1v-2.5h-1v-1.1h-1v-1.8h-1v2.2h-1v.5h-1v-.4h-1v7h-1v-1.1h-1v.4h-1v2.9h-1v-1.2h-1v3.9h-1v-3.1h-1v4.8h-1v-2.7h-1v-1h-1v4.4h-1v-.9h-1v4.3h-1v1.1h-1v-4.5h-1v4.9h-1v-.8h-1v-6h-1v.9h-1v.9h-1v-1.2h-1v.8h-1v-1.3h-1v4.1h-1v-5h-1v3h-1v-3.3h-1v7.5h-1v-7.2h-1v-.3h-1v2.3h-1v-5.6h-1v.8h-1v3.6h-1v-2.6h-1v.5h-1v4.1h-1v4.5h-1v-3.3h-1v-3.1h-1v1.5h-1v-2.2h-1v2.4h-1v-3.8h-1v.8h-1v1.8h-1v-4.9h-1v2.4h-1v-3.5h-1v-1.3h-1v.9h-1v-.5h-1v1.6h-1v1.7h-1v-1.8h-1v2.2h-1v1.9h-1v-.8h-1v-3.7h-1v.4h-1v.4h-1v.3h-1v-1.4h-1v3.5h-1v2.3h-1v3.6h-1v-9.7h-1v3.7h-1v-3.6h-1v2.5h-1v-.7h-1v-2.9h-1v5.6h-1h-1v1.9h-1h-1v1h-1v-2h-1v-1.7h-1v.6h-1v-2.6h-1v-2.3h-1v2.2h-1v2.1h-1v1.3h-1h-1v-.5h-1v-.3h-1v-.1h-1v4.7h-1v-2.8h-1v-2.6h-1v-5.2h-1v2.9h-1h-1v-1.6h-1v2.6h-1v1.4h-1v3.1h-1v-4.5h-1v-1.6h-1v1.8h-1v-5.3h-1v-2.1h-1v-.2h-1v6.3h-1v-1.1h-1v-.9h-1v.6h-1v1.6h-1v.7h-1v3.3h-1v.2h-1v-5.1h-1v-.6h-1v-2.3h-1v-3.7h-1v6.4h-1v-6.4h-1v2.5h-1v2.4h-1v1h-1v1.3h-1v-.4h-1v-.8h-1v7h-1v-2.3h-1v-3.4h-1v7h-1v-3.1h-1v-3.6h-1v1.4h-1v-4.4h-1v1.7h-1v-3.8h-1v7.7h-1v3.2h-1v.3h-1v-5.3h-1v3.3h-1v-3.3h-1v2.2h-1h-1v.5h-1v-.8h-1v1.9h-1v-3.1h-1v1h-1v1.2h-1v-.7h-1v-.2h-1v1.7h-1v.3h-1v-1.2h-1v5.6h-1v-3.9h-1v1.2h-1v-2.2h-1v-.8h-1v-5.1h-1v5.4h-1v2h-1v-3.7h-1v1.3h-1v2.7h-1v-.1h-1v-1.3h-1v-1.6h-1v3.7h-1v4.1h-1v-3h-1v3.5h-1v-1.8h-1v-1.4h-1v1.2h-1v-1h-1v2h-1v-1.6h-1v-1.2h-1v2.2h-1v4h-1v3h-1v-5.5h-1v-4.2h-1v5.4h-1v-2.7h-1v3.3h-1v2.5h-1v-3.1h-1v-2.4h-1v1h-1v-.5h-1v-2.9h-1v-5.5h-1v1.2h-1v.1h-1v1.2h-1v5.5h-1v-1.6h-1v1.2h-1v-.9h-1v-2.4h-1v-3.6h-1v5h-1v-1.1h-1h-1v.2h-1v-4h-1v.2h-1v.5h-1v5.4h-1h-1v-2.1h-1v-1.6h-1v2.8h-1v-1.9h-1v.9h-1v1.2h-1v.3h-1v-1.4h-1h-1v-4.6h-1v-1.5h-1v7.1h-1v-7.8h-1v3.1h-1v2.5h-1v-1.9h-1v-3.4h-1v2.8h-1v.9h-1v.4h-1v1h-1v-1.5h-1v.3h-1v5h-1v-1.6h-1v-2.8h-1v1.4h-1v-1h-1v-2.9h-1v-.5h-1v-2.8h-1v.1h-1v.2h-1v-4.2h-1v1.1h-1v6h-1v-.1h-1v-6.8h-1v6.4h-1h-1v-3.9h-1v6.2h-1v1.2h-1v.9h-1v-1.5h-1v-.5h-1v-.3h-1v7.2h-1v-6.7h-1v2.2h-1v-7.8h-1v6.5h-1v2.6h-1v2.7h-1v-14.2h-1v-.3h-1v4.1h-1v-2h-1v1.3h-1v-.8h-1v1.6h-1v-.1h-1v-2.9h-1v.8h-1v-1.3h-1v5.6h-1v-13h-1v1.1h-1v-2.5h-1v3.1h-1v-.6h-1v-1h-1v2h-1v3.9h-1v-3.8h-1v1.5h-1v-1.7h-1v4.6h-1v-.8h-1v-.3h-1v1.3h-1v-4.4h-1v4.6h-1v-4.3h-1v3.9h-1v-2.1h-1v2.1h-1v.6h-1v1.8h-1v2.7h-1v6.5h-1v-5.1h-1v.5h-1v.2h-1v-1.1h-1v1h-1v-3.3h-1v-1.8h-1v5.2h-1v.4h-1v5.5h-1v-5.4h-1v-4.8h-1v4.8h-1v-.9h-1v-2.6h-1v1.2h-1v-1.4h-1v1.9h-1v-.1h-1v1.1h-1v-2h-1v-.7h-1v-1.7h-1v1.7h-1v-.1h-1v-1.8h-1v5.2h-1v-2.9h-1v.8h-1v1.3h-1v-4.1h-1v4.6h-1v-5h-1v.6h-1v-6.5h-1v5.9h-1v-4.9h-1v-1h-1v6.4h-1v.6h-1v-1h-1v.7h-1v1.7h-1v3.6h-1v1.3h-1v2.2h-1v-1.9h-1v.2h-1v3.4h-1v2.7h-1v-4.5h-1v-2.4h-1v-.6h-1v-.7h-1v-1.2h-1v1.4h-1v-2.1h-1v-2.6h-1v-3.1h-1v4.1h-1v2.7h-1v-4.3h-1v-7.9h-1v7h-1v2.3h-1v1.8h-1v.7h-1v-1.2h-1v-2.1h-1v3.3h-1v-3.2h-1v7.5h-1v-3.8h-1v1.2h-1v-2.6h-1v3.4h-1v.9h-1v1.6h-1v.1h-1v-1.2h-1v-1h-1v3.8h-1v-5h-1v7.8h-1v-3.2h-1v.4h-1v4h-1v-2.8h-1v-5.9h-1v4.9h-1v-4.8h-1v-3.1h-1v3.4h-1v.8h-1v-1.3h-1v-.2h-1v-.9h-1v.1h-1v1.1h-1v1.8h-1v-3.2h-1v-.2h-1v-3.6h-1v-1.3h-1v2.7h-1v-2.3h-1v-5h-1v-4.6h-1v1.8h-1v-3.3h-1v3.1h-1v-1.1h-1v4.9h-1v-4.9h-1v1.6h-1v1.9h-1v-3.1h-1v2.9h-1v-1.3h-1v.5h-1v2.1h-1v6.5h-1v-4.8h-1h-1v-1.5h-1v.7h-1v-3.4h-1v-1.1h-1v1.5h-1v5.9h-1v.6h-1v1.9h-1v-3.4h-1v1.5h-1v3.1h-1v1.4h-1v3.2h-1v-2.8h-1v-1.2h-1v-4h-1v5.1h-1v-.8h-1v-3.6h-1v-.9h-1v1.6h-1v.5h-1v.3h-1v2.9h-1v-.9h-1v-2.9h-1v4.5h-1v2.5h-1v1.1h-1v2.3h-1v-3h-1v-.7h-1v-1.3h-1v2h-1h-1v-1.2h-1v-1.1h-1v5.8h-1v-6.2h-1v2.7h-1v-3.4h-1v-4.6h-1v.9h-1v5.1h-1v-1h-1v-.4h-1v-.5h-1v-7.2h-1v3.2h-1v1h-1v-4.1h-1v2.3h-1v-.5h-1v.1h-1h-1v-4.5h-1v.8h-1v-2.2h-1v-.8h-1v2.7h-1v-1.6h-1v-.1h-1v5.1h-1v.6h-1v-1.5h-1v-1.1h-1v4.2h-1v.2h-1v-3.9h-1v-.5h-1v2.4h-1h-1v-2.6h-1v-.4h-1v-1.4h-1v-1.7h-1v1.8h-1v-1.9h-1v-.3h-1v3.4h-1v2.4h-1v2.6h-1v-1.7h-1v1.1h-1v-2.1h-1v-1.1h-1v4.3h-1v-3.3h-1v-.2h-1v3.6h-1v4h-1v-1.4h-1v-2h-1v-1.4h-1v3.2h-1v-2.4h-1v3.6h-1v-2h-1v-3h-1v4.4h-1v-7.4h-1v1.4h-1v-1.5h-1v8.4h-1v-1.3h-1v1.4h-1v1.5h-1v-2.9h-1v.7h-1v.2h-1v3h-1v2.7h-1v-10.6h-1v4.3h-1v1.5h-1v-.1h-1v-4.9h-1v.5h-1v-2.4h-1v1.2h-1v5h-1v-4.5h-1v-.2h-1v4.2h-1v-.5h-1v-1.3h-1v1.1h-1v-3.4h-1v1.2h-1v-4.2h-1v.1h-1v.6h-1v-4.2h-1v2.2h-1v.6h-1v-1.3h-1v2.7h-1v4.3h-1v-4.3h-1v-1.7h-1v-1.6h-1v.8h-1v-.1h-1v.6h-1v.6h-1v4.1h-1v-.8h-1v-1.6h-1v1.5h-1v-1.3h-1v2.5h-1v-3.2h-1v6.4h-1v-4.3h-1v.5h-1v.2h-1v.8h-1v-.6h-1v-.3h-1v.2h-1v5h-1v-2.3h-1v-1.1h-1v-1.1h-1v6.3h-1v-3.9h-1v-2.2h-1v-1.5h-1h-1v1.9h-1v-2.6h-1v-3.1h-1v6.6h-1h-1v2.3h-1v.1h-1v1h-1v-4.3h-1v5.4h-1v.7h-1v-8.1h-1v3.1h-1v.2h-1v-3.3h-1v5h-1v-4h-1v1.6h-1v-1.6h-1v2.3h-1v-1.6h-1v-.4h-1v-5.2h-1h-1v.1h-1v.7h-1v-3.4h-1v-4.4h-1v1.9h-1v.8h-1v1.6h-1v1.9h-1v3.7h-1v-2.2h-1v6h-1v2.4h-1v-6h-1v2.5h-1v-4.5h-1v.7h-1v-6h-1v3.9h-1h-1v-2.7h-1v5.9h-1v.3h-1v-1.3h-1h-1v1.3h-1v5.3h-1v-6.1h-1h-1v3.1h-1v3h-1v-6.7h-1v4.8h-1v-.3h-1v.5h-1v1.7h-1v-.5h-1v3.4h-1h-1v-7.7h-1v4.1h-1v-5.3h-1v2.8h-1v.7h-1v-2.8h-1v-1.8h-1v-1.3h-1v3.4h-1v2.4h-1v3.6h-1v-2.4h-1v-.8h-1v-6.9h-1v-7.1h-1v2.7h-1v.1h-1v2.3h-1v1.6h-1v4.7h-1v-4.8h-1v-1.8h-1v1.4h-1v-5.3h-1v-5.1h-1v2.2h-1v3.7h-1v-2.5h-1v-2.7h-1v3.5h-1v1.7h-1v2.5h-1v-.2h-1v-3.7h-1v10.4h-1h-1v-2.8h-1v3h-1v-1.1h-1v3.1h-1h-1v3h-1v-.8h-1v1.2h-1v-1.4h-1v.6h-1v2.7h-1h-1v-7.6h-1v-3h-1v4h-1v-1.4h-1v-2.1h-1v-3h-1v1.4h-1v-.7h-1v-.6h-1v4.7h-1v1.5h-1v-2.4h-1v-2.9h-1v.8h-1v-.3h-1v3.5h-1v4.7h-1v1.4h-1v-5.3h-1v-.6h-1v.1h-1v-3.2h-1v-.5h-1v5.6h-1v-5.1h-1v-1.2h-1v-1.5h-1v4h-1v2.5h-1v3.7h-1v-2.8h-1v-2.7h-1v1.5h-1v.1h-1v6.1h-1v2h-1v-6.9h-1v4.2h-1v2.8h-1v-2.2h-1v-.5h-1v7.4h-1v-7.7h-1v2.9h-1v-6.4h-1v1.4h-1v.6h-1v-2.8h-1v2.8h-1v3.9h-1v1.9h-1v1.2h-1v-3.3h-1v4h-1v-4.2h-1v1.8h-1v-.9h-1v-3.6h-1v1h-1v3.9h-1v2.2h-1v-2.7h-1v1.1h-1v-1.9h-1v-.6h-1v5.8h-1v-3.6h-1v-4.1h-1v1.8h-1v-4.4h-1v4.4h-1h-1v3.3h-1v1.2h-1v-4.6h-1v1.6h-1v-.9h-1v1.1h-1v.9h-1v3.3h-1v-2.3h-1v-2.1h-1v.4h-1v5.7h-1v3.7h-1v-2.6h-1v-.5h-1v-4.3h-1v.5h-1v1.1h-1v-2.4h-1v-1.9h-1v-.2h-1v-1.5h-1v-.8h-1v7.1h-1v-4.4h-1v.6h-1v4.1h-1v.6h-1v1.7h-1v1.4h-1v2.5h-1v-2.4h-1v4.6h-1v-2.1h-1v.5h-1v1.7h-1v1h-1v-4.3h-1v.3h-1v-6.2h-1v2.7h-1v-.6h-1v4.3h-1v-1.7h-1v-4h-1v-3.7h-1v-.2h-1v2.7h-1v-2.6h-1v3.3h-1v-.4h-1v-.5h-1v-2h-1v-3.6h-1v3.9h-1v8h-1v-2.2h-1v4.2h-1v.8h-1v6.5h-1v1.6h-1v-.5h-1v5.5h-1v1.3h-1v5.4h-1v-2h-1v12.9h-1v-2.9h-1v5.3h-1v5.1h-1v6h-1v3.9h-1v4.9h-1v4.2h-1v9.2h-1v7.9h-1v9.2h-1v8.1h-1v13.9h-1v22.8h-1v23.3h-1v15.9h-1v8h-1v1h-1v7.2h-1v-5.4h-1v1h-1v8.3h-1v13.9h-1v15.5h-1v14.8h-1v23.1h-1v19h-1v19.3h-1v23h-1v10.7h-1v4.6h-1v3.2h-1v2.4h-1v1.9h-1v6.1h-1v8.8h-1v2.1h-1v11.6h-1v6.2h-1v15.3h-1v15h-1v15h-1v17.7h-1v17.3h-1v22.5h-1v26.7h-1v28h-1v1.4h-1z"/>
<path class="ax" d="M172 118.2 V1071.8 M154 1054.3 H1332M154 1054.3H172M162.5 995.9H172M154 937.5H172M162.5 879.1H172M154 820.7H172M162.5 762.3H172M154 703.9H172M162.5 645.5H172M154 587.1H172M162.5 528.7H172M154 470.3H172M162.5 411.9H172M154 353.5H172M162.5 295.1H172M154 236.7H172M162.5 178.3H172M154 119.9H172M172 1054.3V1071.8M404 1054.3V1063.3M636 1054.3V1071.8M868 1054.3V1063.3M1100 1054.3V1071.8M1332 1054.3V1063.3"/>
<text x="91.9 106.8 130.4" y="1069.9" font-size="40" text-anchor="middle">0.0</text>
<text x="91.9 106.8 130.4" y="953.1" font-size="40" text-anchor="middle">0.5</text>
<text x="91.9 106.8 130.4" y="836.3" font-size="40" text-anchor="middle">1.0</text>
<text x="91.9 106.8 130.4" y="719.5" font-size="40" text-anchor="middle">1.5</text>
<text x="91.9 106.8 130.4" y="602.7" font-size="40" text-anchor="middle">2.0</text>
<text x="91.9 106.8 130.4" y="485.9" font-size="40" text-anchor="middle">2.5</text>
<text x="91.9 106.8 130.4" y="369.1" font-size="40" text-anchor="middle">3.0</text>
<text x="91.9 106.8 130.4" y="252.3" font-size="40" text-anchor="middle">3.5</text>
<text x="91.9 106.8 130.4" y="135.5" font-size="40" text-anchor="middle">4.0</text>
<text x="172" y="1118.5" font-size="40" text-anchor="middle">0</text>
<text x="587.9 607.1 622 645.6 664.9 684.1" y="1118.5" font-size="40" text-anchor="middle">50,000</text>
<text x="1042.2 1061.5 1080.8 1095.6 1119.2 1138.5 1157.8" y="1118.5" font-size="40" text-anchor="middle">100,000</text>
<text aria-label="Time (ps)" x="652.6 676.7 700.8 724.9 749 773.1 797.2 821.3 845.4" y="1183" font-size="48" text-anchor="middle"><tspan textLength="22.7" lengthAdjust="spacingAndGlyphs">T</tspan>i<tspan textLength="24.1" lengthAdjust="spacingAndGlyphs">m</tspan>e <tspan dy="-3.4" font-size="54.7">(</tspan><tspan dy="3.4">p</tspan>s<tspan dy="-3.4" font-size="54.7">)</tspan></text>
<g transform="translate(62.5,588.5) rotate(-90)"><text aria-label="RMSD(nm)" x="-83.1 -59.3 -35.6 -11.9 11.9 35.6 59.3 83.1" y="0" font-size="48" text-anchor="middle"><tspan textLength="22.3" lengthAdjust="spacingAndGlyphs">R</tspan><tspan textLength="22.3" lengthAdjust="spacingAndGlyphs">M</tspan><tspan textLength="22.3" lengthAdjust="spacingAndGlyphs">S</tspan><tspan textLength="22.3" lengthAdjust="spacingAndGlyphs">D</tspan><tspan dy="-3.4" font-size="54.7">(</tspan><tspan dy="3.4">n</tspan><tspan textLength="23.7" lengthAdjust="spacingAndGlyphs">m</tspan><tspan dy="-3.4" font-size="54.7">)</tspan></text></g>
<rect class="lg" x="1136" y="23.3" width="426" height="380.5"/>
<path d="M1141.5 53H1240.5" stroke="#4f4f4f" stroke-width="2.7" stroke-opacity=".82" fill="none"/>
<text aria-label="0v/nm" x="1276 1300.2 1324.2 1348.3 1372.5" y="70" font-size="48" text-anchor="middle">0v<tspan dy="4.1" font-size="57.6" textLength="18.8" lengthAdjust="spacingAndGlyphs">/</tspan><tspan dy="-4.1">n</tspan><tspan textLength="24.1" lengthAdjust="spacingAndGlyphs">m</tspan></text>
<path d="M1141.5 106.4H1240.5" stroke="#ff3c3c" stroke-width="2.7" stroke-opacity=".82" fill="none"/>
<text aria-label="y 0.5v/nm" x="1276 1300.2 1324.2 1343.1 1372.5 1396.5 1420.7 1444.8 1468.8" y="123.4" font-size="48" text-anchor="middle">y 0.5v<tspan dy="4.1" font-size="57.6" textLength="18.8" lengthAdjust="spacingAndGlyphs">/</tspan><tspan dy="-4.1">n</tspan><tspan textLength="24.1" lengthAdjust="spacingAndGlyphs">m</tspan></text>
<path d="M1141.5 159.8H1240.5" stroke="#006ae0" stroke-width="2.7" stroke-opacity=".82" fill="none"/>
<text aria-label="z 0.5v/nm" x="1276 1300.2 1324.2 1343.1 1372.5 1396.5 1420.7 1444.8 1468.8" y="176.8" font-size="48" text-anchor="middle">z 0.5v<tspan dy="4.1" font-size="57.6" textLength="18.8" lengthAdjust="spacingAndGlyphs">/</tspan><tspan dy="-4.1">n</tspan><tspan textLength="24.1" lengthAdjust="spacingAndGlyphs">m</tspan></text>
<path d="M1141.5 213.3H1240.5" stroke="#00a865" stroke-width="2.7" stroke-opacity=".82" fill="none"/>
<text aria-label="xy 0.354v/nm" x="1276 1300.2 1324.2 1348.3 1367.2 1396.5 1420.7 1444.8 1468.8 1493 1517 1541.2" y="230.3" font-size="48" text-anchor="middle">xy 0.354v<tspan dy="4.1" font-size="57.6" textLength="18.8" lengthAdjust="spacingAndGlyphs">/</tspan><tspan dy="-4.1">n</tspan><tspan textLength="24.1" lengthAdjust="spacingAndGlyphs">m</tspan></text>
<path d="M1141.5 266.7H1240.5" stroke="#c870e2" stroke-width="2.7" stroke-opacity=".82" fill="none"/>
<text aria-label="xz 0.5v/nm" x="1276 1300.2 1324.2 1348.3 1367.2 1396.5 1420.7 1444.8 1468.8 1493" y="283.7" font-size="48" text-anchor="middle">xz 0.5v<tspan dy="4.1" font-size="57.6" textLength="18.8" lengthAdjust="spacingAndGlyphs">/</tspan><tspan dy="-4.1">n</tspan><tspan textLength="24.1" lengthAdjust="spacingAndGlyphs">m</tspan></text>
<path d="M1141.5 320.1H1240.5" stroke="#dda000" stroke-width="2.7" stroke-opacity=".82" fill="none"/>
<text aria-label="yz 0.5v/nm" x="1276 1300.2 1324.2 1348.3 1367.2 1396.5 1420.7 1444.8 1468.8 1493" y="337.1" font-size="48" text-anchor="middle">yz 0.5v<tspan dy="4.1" font-size="57.6" textLength="18.8" lengthAdjust="spacingAndGlyphs">/</tspan><tspan dy="-4.1">n</tspan><tspan textLength="24.1" lengthAdjust="spacingAndGlyphs">m</tspan></text>
<path d="M1141.5 373.5H1240.5" stroke="#00cccc" stroke-width="2.7" stroke-opacity=".82" fill="none"/>
<text aria-label="xyz 0.5v/nm" x="1276 1300.2 1324.2 1348.3 1372.5 1391.3 1420.7 1444.8 1468.8 1493 1517" y="390.5" font-size="48" text-anchor="middle">xyz 0.5v<tspan dy="4.1" font-size="57.6" textLength="18.8" lengthAdjust="spacingAndGlyphs">/</tspan><tspan dy="-4.1">n</tspan><tspan textLength="24.1" lengthAdjust="spacingAndGlyphs">m</tspan></text>
<text class="cap" x="670.4 698.8 740" y="1414" font-size="87"><tspan font-weight="normal">(</tspan>a<tspan font-weight="normal">)</tspan></text>
</g>
<g id="chart-b">
<path class="c" fill="#4f4f4f" stroke="#4f4f4f" d="M171.5 2462.6h1v-7.1h1v-9.3h1v-4.5h1v-8.2h1v-2h1v.5h1v-3.6h1v2.4h1v-1.2h1v-1.2h1v-4.3h1v-2h1v-7h1v-4.5h1v13.4h1v1.6h1v-.6h1v.8h1v2.4h1v-4.3h1v.3h1v-5.8h1v7.3h1v.4h1v-6.8h1v10h1v-4.2h1v-6h1v1.5h1v-12.4h1v12.3h1v-18.3h1v11.9h1v6h1v-1.3h1v2.6h1v-7.8h1v-.4h1v-.6h1v8.6h1v-7.8h1v-.2h1v8.1h1v-1.1h1v-2.4h1v-4.5h1v2.4h1v-.5h1v4h1v-1.5h1v-3.7h1v-2.8h1v.3h1v2.7h1v9.3h1v-1.6h1v-6.6h1v8.4h1v-5.4h1v7h1v-5.9h1v10.1h1v-2.3h1v-2.4h1v2.3h1v.1h1v-9.2h1v2.1h1v-.4h1v4.5h1v-10.1h1v7.5h1v1.2h1v.7h1v.9h1h1v-6.9h1v6h1h1v-4.9h1v3.2h1v3.9h1v-3.8h1v4.9h1v-5.8h1v-5.5h1v.6h1v6.4h1v-7.1h1v2.4h1v-1.5h1v-4.5h1v10.3h1v-2.2h1v-1.4h1v6h1v-6.3h1v-.4h1v6.7h1v-4h1v4.7h1v-5.1h1v-3.5h1v11.4h1v-3h1v-.5h1v1.4h1v-1.3h1v2.5h1v-12.5h1v-3.2h1v5.4h1v-2.2h1v8.4h1v-5.3h1v2.6h1v3.9h1v1.8h1v-.8h1v-7.6h1v3.7h1v.8h1v6.5h1v1.2h1v-3.2h1v2.5h1v-3h1v-2.3h1v-2.3h1v.6h1v-4.3h1v.6h1v2.5h1v-10.7h1v7.9h1v2.6h1v-18.4h1v9.2h1v-1.7h1v2.8h1v.3h1v-4.7h1v6.7h1v1h1v2.5h1v-6.9h1v6.1h1v-2.9h1v-1.3h1v-3h1v2.7h1v3.7h1v3.6h1v.3h1v-9.8h1v4.3h1v.4h1v.4h1v-2.3h1v-.2h1v-1.9h1v-1.3h1v-4h1v5h1v2.6h1v-1.7h1v.4h1v-2.3h1v-2.8h1v-1.2h1v-6.7h1v-.1h1v.2h1v.4h1v1.5h1v1.5h1v-1.4h1v1.8h1v4.1h1v-5.7h1v-1.1h1v3.6h1v-1.2h1v4.8h1v-1.2h1v-1.4h1v-.9h1v-9.3h1v13.2h1v.8h1v-.1h1v-1.2h1v-3.6h1v4.5h1v-2.1h1v5.9h1v5.5h1v-6.1h1v5.2h1v-6.3h1v4.9h1v-2.3h1v-1.4h1v4.2h1v1.9h1v-6.3h1v7.6h1v-3.5h1v-6.5h1v4.5h1v6.2h1v-.4h1v5.7h1v-2.3h1v-11.5h1v12h1v-7.4h1v4h1v.1h1v4.9h1v-4.8h1v3.7h1v-6.2h1v4.1h1v-11h1v11.6h1v7.1h1v-5.3h1h1v8h1v-5.2h1v11.3h1v-5.7h1v-2.8h1v-2.8h1v-2.7h1v-2.2h1v-3.9h1v.8h1v-1.5h1v5.6h1v-1.1h1v2.1h1v1.6h1v-9.7h1v1.7h1v9.5h1v-4.8h1v-1h1v7.6h1v-6h1v.7h1v-2.2h1v.7h1v-4.5h1v6.7h1v-1.3h1v-10.6h1v13.2h1v-1.1h1v-3.6h1v4.6h1v-4.2h1v9.9h1v-1.9h1v-4.9h1v2h1v-4.8h1v7.3h1v-7.7h1v2.8h1v-2.9h1v11.5h1v-6.2h1v1.5h1v-10.2h1v1.4h1v6.5h1v-2.8h1v-6h1v-2.3h1v3.2h1v-.3h1v7h1v-5.8h1v3h1v3.6h1v.9h1v-9.6h1h1v2.1h1v2.6h1v-4.9h1v-3h1v6h1v-7.9h1v2.6h1v-8.9h1v3.6h1v-8h1v4h1v9.1h1v-.2h1h1v5h1v-15.8h1v2.8h1v7h1v-3.4h1v5.6h1v-1.8h1v4.6h1v-3.9h1v3.3h1v-3.6h1v-1.2h1v-5.7h1v9.1h1v1h1v.3h1v6.3h1v-11.1h1v9.8h1v-4.2h1v-1.7h1v4.8h1v-5.5h1v6.6h1v5.1h1v-2.5h1v-3.7h1v4.7h1v-1h1v.6h1v.1h1v-2.2h1v-10.9h1v9.8h1v-5.4h1v5.7h1v4.4h1v-7.9h1v-1.4h1v-12.6h1v11.4h1v-.9h1v-5.5h1v11.8h1v-5.5h1v-8.1h1v5.8h1v10.2h1v-1.5h1v-3.7h1v-1.1h1v-2.2h1v-7.5h1v6.7h1v-2.4h1v-6.9h1v-1h1v2.8h1v-2.1h1h1v6.4h1v7.1h1v-10.5h1v10.1h1v-1.9h1v-4h1v-4.4h1v7.7h1v-3.9h1v-5.9h1v9h1h1v-5.3h1v1.6h1v-.2h1v4.5h1v-7.5h1v7.6h1v.3h1v.5h1v.6h1v-8.7h1v12.6h1v1.8h1v.3h1v-3.1h1v1.3h1v-.2h1v-.5h1v2.3h1v-.2h1v5.4h1v-7.4h1h1v2h1h1v3h1v-4.1h1v3.6h1v-4.2h1v2.3h1v-2.6h1v1.8h1v4.1h1v1.2h1v-3.6h1v-2.3h1v-2.3h1v-5.1h1v-2.7h1v10.1h1v-4.6h1v.7h1h1v.9h1v6.5h1v-2h1v-7.4h1v5.1h1v-10.4h1v2.3h1v3.6h1v-2.5h1v-4.3h1h1v5.7h1v-4.3h1v9.5h1v-9.6h1v7.2h1v.3h1v-8.3h1v6.7h1v2.8h1v-6.2h1v-.7h1v-3.4h1v9.3h1v1.4h1v-5.7h1v-1.7h1v-2.2h1v1.5h1v4.2h1v-2h1v1.2h1v4.5h1v-7.7h1v2.9h1v-4.2h1v.6h1v-2.4h1v9.6h1v-5h1v1.6h1v.9h1v-8.6h1v6.7h1v2.8h1v-.2h1v4.6h1v.5h1v-3.9h1v-5.2h1v7.3h1v-1.9h1v-8.6h1v2.3h1v1.1h1v.4h1h1v1.8h1v-5.1h1v4.8h1v-2.9h1v.6h1v-3.4h1v7.6h1v-2h1v-2.8h1v-7.1h1v12.8h1v-6h1v-.9h1v-3.4h1v-9.4h1v14.1h1v-5.1h1v.5h1v5.1h1v4.3h1v-2.9h1v3.6h1v-4.7h1v3.4h1v3.3h1v-9.4h1h1v7.2h1v3.2h1v-6h1v-1.1h1v1.6h1v.8h1v-2.8h1v7.7h1v5h1v-13.8h1v5.4h1v6h1v-9.7h1v13.6h1v-4.2h1v-.4h1v1.3h1v2.6h1v-3.5h1v.9h1v-4.2h1v2.7h1v2.8h1v-5.1h1v10.9h1v-1h1v-2.5h1v-6.4h1v6.7h1v-4.6h1v-2.1h1v1.8h1v8.3h1v-2.5h1v1.5h1v-6h1v.6h1v-10.8h1v-7.5h1v11.5h1v-3.2h1v9.3h1v-1.7h1v2.1h1v-1.4h1v-2.5h1v5.7h1v-.5h1v5.4h1v-8.3h1v8.8h1v-7.7h1v.2h1v-2.1h1v-1h1v-13.8h1v7.7h1v-6.6h1v10.4h1v4.5h1v-4.5h1v3.1h1v-15.8h1v15.4h1v6.8h1v-8.4h1v-5.1h1v11.2h1v-2.6h1v-.5h1v3.3h1v-4.5h1v2.4h1v-7.4h1v1.5h1v-5h1v2.1h1v1.3h1v1.9h1v-2.5h1v-.7h1v-3.6h1v7.1h1v-2.4h1v-6.5h1h1v7.7h1v3.9h1v-7.2h1v2.2h1v.4h1v-7.1h1v2.4h1v.7h1v4.3h1v-6.6h1v5.6h1v-5.5h1v.2h1v-1.7h1v11.3h1v-3.3h1v-.6h1v-1h1v-5h1v1.2h1v-1.1h1v3.8h1v6.5h1v-6.8h1v-4.4h1v4.8h1v1.2h1v8.7h1v-.8h1v-14.7h1v-.2h1v.1h1v.7h1v-1.1h1v-.6h1v-5.4h1v8.6h1v-4.3h1v-2.5h1v-7.1h1v9.6h1v2.4h1v-1.4h1v-1.7h1v2.2h1v-6.2h1v6.6h1v-2.1h1v-1.5h1v7.3h1v-4.2h1v-2h1v.6h1v4.2h1v1.2h1v-5.9h1v5.1h1v-9.7h1v4.1h1v6.3h1v-7.6h1v3.7h1v.3h1v-4.4h1v3.1h1v-7h1v8.4h1v-2.9h1v6.9h1v.3h1v-6.2h1v-.8h1v-14h1v17.9h1v-.1h1v-2.6h1v-3.4h1v8h1v8h1v-8.6h1v1.6h1v1h1v-1.4h1v-4.2h1v5.3h1v.2h1v-4.8h1v-6.2h1v10.1h1v-2.1h1v11.2h1v-8.4h1v1.2h1v-3.3h1v10.9h1v4.3h1v-4.5h1v3.4h1v7.2h1v-5.3h1v2.4h1v-17.5h1v11.9h1v10.1h1v2.3h1v-8.9h1v10h1v-13.7h1v2.9h1v3.1h1v-9.8h1v6.2h1v3.3h1v-5.1h1v-6.6h1v7.4h1v-3.2h1v.8h1v-9.5h1v9.8h1v-9.8h1v5.8h1v4.5h1v-2.8h1v-9.2h1v3.6h1v5.4h1v.4h1v-1.3h1v-5.7h1v10.6h1v-2.3h1v-4.5h1v-1.6h1v2.7h1v-9.3h1v9.2h1v-6.1h1v3.2h1v-.1h1v1.9h1v2.2h1v-1.9h1v-1.7h1v7.2h1v-8h1v.3h1v-.5h1v-2.6h1v8.8h1v-1.7h1v-6.1h1v.8h1v4.8h1v-1.7h1v-1.9h1v-1.8h1h1v-10.5h1v8.8h1v-.6h1v-3h1v6.4h1v-3.2h1v-3.3h1v3.9h1v-4h1v-4.2h1v7.9h1v-1.6h1v-5h1v1.4h1v6.1h1v7.3h1v-2.8h1v-12h1v10.6h1v-2.5h1v-3.4h1v-4.7h1v10.5h1v.8h1v8h1v-3.7h1v.4h1v6.5h1v-5.2h1v7.9h1v6.8h1v.6h1v-4.9h1v-4.1h1v-.1h1v-6.2h1v9.2h1v2.2h1v-6.2h1v1.3h1v-4.8h1v2.4h1v5.3h1v-2.9h1v-3h1v-5.3h1v-.4h1v4h1v-3.8h1v-3h1v5.3h1v-7h1v-.5h1v-9.9h1v18.2h1v-5.9h1v-5.8h1v3.1h1v-4.8h1v10.6h1v-10.3h1v-6.5h1v15.5h1v-3.8h1v5.9h1v2.9h1v-4.4h1v.1h1v7.5h1v-7.8h1v1.8h1v6.2h1v-2.3h1v7.2h1v-13.5h1v4.2h1v-2.7h1h1v1.4h1v6.3h1v.4h1v1.3h1v-5.2h1v-1h1v-.3h1v3.6h1v4.4h1v-5.9h1v.3h1v-3.6h1v-7.7h1v7h1v5h1v-2h1v-5.8h1v6.5h1v4.3h1v-1.5h1v-12.1h1v3.6h1v-3.6h1v11.1h1v-9.4h1v-.2h1v.4h1h1v-3.7h1v6.2h1v2.6h1v-2.8h1v-.3h1v1.3h1v6.8h1v-8.3h1v2.6h1v3.2h1v-8.6h1v.9h1v-3.6h1v7h1v-5.9h1v-4h1v2.2h1v3.9h1v1.1h1v3.6h1v-7.5h1v9.8h1v-10.2h1v2.6h1v.8h1v-3.7h1v-3.3h1v2h1v4.3h1v-.5h1v-14.5h1v13.8h1v-.6h1v-1.1h1v-6.1h1v7.6h1v-4.9h1v4.9h1v-4.1h1v8.3h1v-7.2h1v-.8h1v3.4h1v-8.3h1v10.7h1v-4.4h1v2.5h1v-1.1h1v-3.1h1v-8.2h1v7.5h1v-4.4h1v7.7h1v5.3h1v-7.5h1v5.5h1v-9.4h1v9.4h1v.6h1v4.2h1v4.7h1v-6.4h1v-6.6h1v-5h1v6.5h1v-8.6h1v5.9h1v-4.7h1v11.2h1v-1.8h1v3.6h1v8.5h1v.7h1v-12.1h1v5.4h1v-.1h1v28.4h-1v7.3h-1v-7.1h-1v.9h-1v1.6h-1v-.8h-1v-.3h-1v-1.1h-1v3.6h-1v-4.5h-1v.2h-1v-7.6h-1v4.5h-1v.5h-1v-1.1h-1v-1.7h-1v2.6h-1v-1.4h-1v-9.3h-1v13.3h-1v-6.4h-1v.8h-1v1.5h-1v-3.2h-1v-6.8h-1v6.9h-1v1.6h-1v-4h-1v1.5h-1v1.8h-1v.3h-1v-.6h-1v.7h-1v-7.5h-1v-1.7h-1v15.8h-1v-6h-1v-1.1h-1v1h-1v-3.3h-1v1.5h-1v3.5h-1v-2.6h-1v11.4h-1v-15.6h-1v3.7h-1v-2.3h-1v5.4h-1v-3.6h-1v1h-1v-2.5h-1v4.4h-1v-1.8h-1v3.7h-1v.7h-1v-3.5h-1v-.6h-1v1.5h-1v.5h-1v1.5h-1v1h-1v4.5h-1v-8.8h-1v-.7h-1v3.8h-1v11.4h-1v-6.1h-1v2.1h-1v1.4h-1v-1.1h-1v3.9h-1v-6.1h-1v-.8h-1v-8.1h-1v4.7h-1v-1.2h-1v-3.7h-1v3.2h-1v5.6h-1v-6.7h-1v6h-1v.6h-1v-7.3h-1v1.6h-1v10.7h-1v-1.4h-1v-.2h-1v4.9h-1v-3.5h-1v-.3h-1v-.9h-1v3.3h-1v-2.9h-1v-6.4h-1v7h-1v-1.4h-1v-1.8h-1v-.3h-1v7.4h-1v-6h-1v2.6h-1v-5.5h-1v6.4h-1v-9.3h-1h-1v-1.7h-1v7.3h-1v-1.6h-1v-.3h-1v6.8h-1v-3.9h-1v-1.6h-1v-2.4h-1v.6h-1v-2.3h-1v-1.9h-1v2.2h-1v-2.6h-1v-4.9h-1v3.4h-1v-7.4h-1v3.3h-1v-.3h-1v2.7h-1v4.6h-1v-5.8h-1v2.1h-1v-1.2h-1h-1v1.3h-1v1.6h-1v-.7h-1v2.3h-1v2.6h-1v-5.8h-1v23h-1v-15.7h-1v6.5h-1v2.9h-1v-7.7h-1v.5h-1v5.7h-1v-5.5h-1v.2h-1v7.7h-1v-4.7h-1v1.3h-1v-1.1h-1v3.1h-1v5.6h-1v-5.7h-1v-3.7h-1v-4.4h-1v-1.2h-1v5.6h-1v-8h-1v-1h-1v-1.7h-1v2.6h-1v-5h-1v4.6h-1v-3.7h-1v-4.9h-1v.6h-1v1.5h-1v-1.4h-1v-1.5h-1v-.8h-1v3.1h-1v-6.1h-1v-.2h-1v12.5h-1v-5.9h-1v1.9h-1v-4.4h-1v.8h-1v7.3h-1v-5.6h-1v-2h-1v-1.8h-1v1.3h-1v-2.3h-1v8.5h-1v-.2h-1v-4.5h-1v4.8h-1v1.3h-1v-7.6h-1v5.4h-1v8.7h-1v-7.5h-1v-4.6h-1v9.6h-1v-.4h-1h-1v-2.9h-1v-4.1h-1v9.7h-1v-5.3h-1v-.4h-1v-2.4h-1v1.7h-1v-5.8h-1v12.3h-1v-16.2h-1v4.4h-1v-2.3h-1v.1h-1v13.3h-1v-7.9h-1v.2h-1v5.4h-1v6.9h-1v-7.7h-1v2.8h-1v-2.3h-1v.5h-1v1.6h-1v1h-1v.4h-1v-3.5h-1v-4.6h-1v3h-1v-1.9h-1v12.2h-1v-11.6h-1v1.9h-1v11h-1v-.2h-1v-6.8h-1v-.5h-1v7.8h-1v-7h-1v7.1h-1v-11.5h-1v11.4h-1v4.2h-1v-10.6h-1v1.4h-1v9.1h-1v-7.8h-1v-1.6h-1v-6.6h-1h-1v-5.5h-1v5.2h-1v-2.7h-1v-3.6h-1v6.1h-1v-6.3h-1v-1.8h-1v2.3h-1v-3.5h-1v-2.6h-1v8.7h-1v-13.3h-1v2.7h-1v-1h-1v2.7h-1v-2.1h-1v6.4h-1v5.2h-1v-6.4h-1v-6.3h-1v.7h-1v-.3h-1v3h-1v11.2h-1v-17h-1v1.8h-1v.4h-1v19.7h-1v-15.9h-1v-.6h-1v-2.7h-1v.9h-1v2h-1v-6.1h-1v.7h-1v3.3h-1v8.8h-1v-10.3h-1v2.2h-1v-3h-1v5.2h-1v8.6h-1v-12.8h-1v1.5h-1v2.7h-1v3.1h-1v1.4h-1v-10.3h-1v1.7h-1h-1v1.4h-1v-4.1h-1v-.6h-1v3h-1v3.4h-1v-.5h-1v.9h-1v-.7h-1v1.5h-1v-2.6h-1v2.3h-1v1.5h-1v-3.4h-1v-2.8h-1v9.1h-1v2.7h-1v4.1h-1v3h-1h-1v-9.7h-1v-3.8h-1v2.9h-1v.5h-1v-.5h-1v1.4h-1v2.9h-1v.7h-1v-1.2h-1v-.6h-1v-1.2h-1v1.9h-1v.8h-1v-9.3h-1v-1.2h-1v4h-1v5.7h-1v-8.3h-1v19.5h-1v-13.4h-1v2.1h-1v.3h-1v-2.5h-1v2.2h-1v3.8h-1v-4.4h-1v8.2h-1v-11.4h-1v2.2h-1v-5h-1v8.9h-1v-12h-1v4.4h-1v1h-1v1.1h-1v10h-1v-6.5h-1v.6h-1v.9h-1v4.3h-1v-.5h-1v-3h-1v5.6h-1h-1v-7.5h-1v3.5h-1v-2.8h-1v9.4h-1v-2.1h-1v4.5h-1v-9.3h-1v10.1h-1v-13.9h-1v3.2h-1v-1.4h-1v-3.6h-1v-4.6h-1v5.7h-1v5.6h-1v3.4h-1v3.4h-1v-4.5h-1v2.7h-1v-7.9h-1v9.3h-1v-2.2h-1v10.2h-1v-13.8h-1v18h-1v-19.2h-1v17.2h-1v-10.7h-1v-12.9h-1v8.3h-1v4.7h-1v-1.6h-1v2h-1v-6.1h-1h-1v6.3h-1v-3h-1v4.1h-1v-3.6h-1v2h-1v-2.9h-1v1.2h-1v-2.5h-1v5.4h-1h-1v-5.8h-1v2.7h-1v.2h-1v-7.3h-1v2h-1v10.9h-1v-15.8h-1v14.4h-1v-11.5h-1v5.7h-1v-.4h-1v-9.4h-1v5h-1v2.6h-1v-6.8h-1v9.7h-1v-6.4h-1v.2h-1v1.6h-1v-4.8h-1v5.2h-1v-3.6h-1v.8h-1v4.4h-1v-4.2h-1v.9h-1v-1.6h-1v-5.7h-1v3.6h-1v-4.5h-1v2.1h-1v3h-1v-5.2h-1v16.2h-1v-5.2h-1v-14.8h-1v2.6h-1v3.3h-1v-6.5h-1v3h-1v2.1h-1v-1.2h-1v2.5h-1v4.6h-1v-1.2h-1v1.2h-1v-2.4h-1h-1v-3.2h-1v-.9h-1v3.5h-1v-1.1h-1v-2.7h-1v7h-1v-2.2h-1v.5h-1v9h-1v-3.2h-1v-1.7h-1v-2h-1v1.2h-1v4.8h-1v-7.7h-1v-.3h-1v5.6h-1v-8.2h-1v-.8h-1v4.9h-1v-2.6h-1v.1h-1v-2.4h-1v.2h-1v-3.2h-1v1.9h-1v5.5h-1v-1.4h-1v-1h-1v2.8h-1v6.3h-1v3.3h-1v-6.3h-1v-1.9h-1v-5h-1v7.3h-1v-1.2h-1v-3.3h-1v11.6h-1v-11.2h-1v-1.1h-1v-4.5h-1v-1.8h-1v9.4h-1v-2.8h-1v-4h-1v3.3h-1v-4.2h-1v2.1h-1v1.3h-1v5.4h-1v-4.3h-1v-1.9h-1v3.2h-1v1.9h-1v8.7h-1v-10h-1v-1.1h-1v7.3h-1v-8.9h-1v1.7h-1v3.1h-1v-2.9h-1v7.8h-1h-1v-2h-1v-2h-1v.9h-1v-1.8h-1v8h-1v-4.1h-1v.9h-1v2h-1v-4h-1v-3.3h-1v1h-1v-2.2h-1v5.8h-1v2.5h-1v-.3h-1v1.4h-1v-3.6h-1v4.4h-1v-.9h-1v-7.1h-1v-3.3h-1v7.8h-1v-3h-1v-5.8h-1v6.4h-1v-1.2h-1v-1.6h-1v-.9h-1v-.7h-1v-4.8h-1v7.5h-1v-7h-1v.7h-1v1.3h-1v-3h-1v8.6h-1v-6h-1v6.3h-1v-4.6h-1v-4.6h-1v3.8h-1v-.9h-1v-4.7h-1v9.5h-1v-7.8h-1v-1.3h-1v2.8h-1v-5.9h-1v15.3h-1v-11.8h-1v-2.6h-1v-3.9h-1v6.9h-1v-4.3h-1v2.1h-1v3.4h-1v-.9h-1v-1.8h-1v6.4h-1v12h-1v-2.6h-1v-7.5h-1v-3.6h-1v.1h-1v-5.1h-1v3.7h-1v5.3h-1h-1v-2.2h-1v.7h-1v-1.7h-1v1.1h-1v7.4h-1v-3.1h-1v6.6h-1v-3.5h-1v-3.6h-1v4.8h-1v4.7h-1v-2.5h-1v10.3h-1v-14.9h-1v3h-1v-4.6h-1v-1.3h-1v2h-1v-8.6h-1v5.2h-1v-4.6h-1v1h-1v6.6h-1v-2h-1v.1h-1v.9h-1v1.2h-1v-.4h-1v-3.1h-1v2.4h-1v-5.6h-1v-.8h-1v1.1h-1v-6.4h-1v2.8h-1v2.2h-1v6.3h-1v8.4h-1v-13.6h-1v-6.4h-1v1.5h-1v6.2h-1v-11.1h-1v6h-1v-.3h-1v1.1h-1v-6h-1v-3.1h-1v7h-1v2.7h-1v4h-1v1.3h-1v-5.2h-1v7.7h-1v-2h-1v-1.7h-1v.5h-1v5.7h-1v-4.7h-1v7.2h-1v-9.7h-1v2.6h-1v4.1h-1v-6.2h-1v-.8h-1v2.3h-1v10.4h-1v-2.8h-1v-7.3h-1v18.1h-1v-11h-1v-3.9h-1v3.2h-1v.7h-1v14.8h-1v-16.3h-1v1.4h-1v5.7h-1v-9.5h-1v5.4h-1v1.4h-1v-3.8h-1v-4.1h-1v6.8h-1h-1v-5h-1v1h-1v2.6h-1v-.2h-1h-1v-1.2h-1v2.4h-1v-.6h-1v-1.3h-1h-1v.6h-1v-8.7h-1v2.6h-1v4.4h-1v8.4h-1v-10.6h-1v4.5h-1v3.1h-1v.5h-1v-8h-1v.5h-1v-.9h-1v2.1h-1h-1v-4.8h-1v8h-1v-4h-1v19.2h-1v-12.2h-1v2.7h-1v-.7h-1v-2.1h-1v1.5h-1v4.1h-1v-8.1h-1v-2.1h-1v4h-1v-12.8h-1v-2.8h-1v8.3h-1v5.7h-1v-6h-1v-1h-1v2.5h-1v-1.4h-1v-5.4h-1v1.3h-1v1h-1v-2.6h-1v.2h-1v-7.9h-1v2h-1v5.2h-1v.9h-1v-5.5h-1v6.2h-1v3.5h-1v-4.1h-1v-2.5h-1v1.3h-1v5.7h-1v-2.1h-1h-1v-12.1h-1v4.4h-1v2.8h-1v-1.7h-1v-1.4h-1v1.6h-1v-11.5h-1v4.8h-1v-3.7h-1v10.7h-1v-6.4h-1v3.1h-1v1.9h-1v4.6h-1v-10.2h-1v10.1h-1v-10.2h-1v-6.8h-1v5.1h-1v3.3h-1v-1.8h-1v-3.4h-1v1.6h-1v-.7h-1v-1.4h-1v6h-1v-3.1h-1v-2.8h-1v1.7h-1v6.9h-1v1.7h-1v-7.5h-1v2.5h-1v5.1h-1v4.6h-1v-8.3h-1v2.8h-1v-5.1h-1v11.7h-1v-10h-1v5.6h-1v1.3h-1v-2.8h-1v9.4h-1v-2.4h-1v-3.3h-1v8.7h-1v-12.2h-1v7.8h-1v-3.1h-1v-9.3h-1v1.4h-1v8.3h-1h-1v-1.6h-1v-1.1h-1v2.4h-1v2.1h-1v-6.3h-1v-3.1h-1v10h-1v-4.4h-1v10h-1v-7.1h-1v-1.5h-1v9.6h-1v-.2h-1v-1.1h-1v-2.2h-1v3.9h-1v-6.9h-1v15.3h-1v-14.6h-1v3h-1v6.2h-1v-9.9h-1h-1v13.3h-1v-11.1h-1v3.2h-1v-.5h-1v-9.2h-1v1.4h-1v10.5h-1v-5h-1v-4.1h-1v-2.5h-1v8.5h-1v-3.4h-1v5h-1v-5h-1v5.2h-1v-4.9h-1v2.4h-1v-2.2h-1v8.6h-1v-7.7h-1v4h-1v-.9h-1v6.2h-1v-7.4h-1v-5h-1v-5.2h-1v5.2h-1v1.5h-1v1h-1v-6.2h-1v20h-1v-14.9h-1v-3.4h-1v.5h-1v11h-1h-1v-3.6h-1v4.2h-1v-13.7h-1v6.4h-1v1.1h-1v-2.3h-1v-.6h-1v6h-1v1.1h-1v-4.9h-1v-2.9h-1v7.6h-1v-2.8h-1v-7.1h-1v10.4h-1v-7.9h-1v-4h-1v8.4h-1v.2h-1v-3.4h-1v3.9h-1v12.7h-1v-11.7h-1v-2h-1v-2.5h-1v4.2h-1v-5.1h-1v2.2h-1v-4.1h-1v-2h-1v-1.2h-1v6.7h-1v-5h-1v-3.4h-1h-1v-3.3h-1v6.2h-1v5.2h-1v-10.1h-1v2h-1v9.9h-1v-7.7h-1v4.2h-1v.5h-1v-4.6h-1v-4.9h-1v6.9h-1v.2h-1v7.3h-1v-12.1h-1v3.4h-1v-4.4h-1v9.3h-1v-8h-1v6.4h-1v-.7h-1v12.6h-1v-8.9h-1v7.9h-1v-4.5h-1v.9h-1v-8.8h-1v2.7h-1v5.6h-1v-6.6h-1v6.7h-1v-1.1h-1v3.2h-1v-4.3h-1v-6.4h-1v-.7h-1v4.2h-1v-1.4h-1v-2h-1v1.5h-1h-1v.8h-1v-2.9h-1v.4h-1v-.7h-1v-3.1h-1v11.5h-1v2.2h-1v9.5h-1v.8h-1z"/>
<path class="c" fill="#ff3c3c" stroke="#ff3c3c" d="M171.5 2472h1v-1h1v-2.2h1v-2.3h1v-6.8h1v-4h1v1.1h1v-2.8h1v-6.9h1v-8.9h1v-7.9h1v-5.7h1v-6.2h1v-9.5h1v-10.2h1v-3.3h1v-5.1h1v-2.4h1v-7.5h1v-2.9h1v-3h1v-8.5h1v-1.5h1v-3.2h1v-1h1v-.8h1v-6.3h1v2.2h1v-4.3h1h1v-3.5h1v-3.5h1v-11h1v-26.9h1v-21.2h1v-4.7h1v-6.9h1v-5.1h1v-5.5h1v-4.9h1v-4.8h1v-3.7h1v-11.7h1v-26.6h1v-32.1h1v-21.8h1v-6.9h1v-8.6h1v-.8h1v4h1v-.1h1v-7.3h1v-5.9h1v-1.5h1v-3h1v-.5h1v-1.1h1v6.5h1v-3.9h1v-5.5h1v-4.7h1v-1.2h1v-1.9h1v-3.4h1v.1h1v-11.3h1v13h1v-13.5h1v2.6h1v-21h1v17.1h1v-4.4h1v5h1v-6.1h1v2.2h1v-4.7h1v8.8h1v3.4h1h1v4.1h1v-9.2h1v-.7h1v-7.2h1v9.4h1v6.5h1v-6.5h1v-14.7h1v14.2h1v-14.5h1v12.6h1v2.8h1v-13.3h1v-3.9h1v-.6h1v3.3h1v2h1v-5.4h1v.8h1v2.9h1v-20.1h1v12.2h1v1.9h1v-6.4h1v-1.4h1v-5.1h1v2.6h1v6.3h1v-2.4h1v4.7h1v-8.8h1v-2.7h1v-4.6h1v6.2h1v-4h1v-3.5h1v2.2h1v-5.1h1v6.2h1v-9.4h1v6.1h1v.5h1v-6.8h1v-8.5h1v9.2h1v-5.4h1h1v2.1h1v-2.3h1v-23.5h1v15.2h1v-10h1v13.3h1h1v-5.6h1v2.2h1v-4.9h1v.3h1v2.7h1v1.2h1v-4.9h1v2.8h1v7.4h1v-7.8h1h1v-11.1h1v9.2h1v-1.5h1v.4h1v-.7h1v-.1h1v-5.3h1v7.3h1v2h1v-12.9h1v2.7h1v.3h1v2.8h1v2.2h1v-3.4h1v-1.6h1v.6h1v-18.5h1v25.3h1v-8.8h1v2.1h1v4.7h1v-6.2h1v3.3h1v-.3h1v10.1h1v-8.5h1v-4.6h1v7.4h1v-2.4h1v-1.6h1v-3.3h1v3.6h1v2.1h1v-2.6h1v-1.7h1v4.9h1v4.7h1v-3.7h1v-3.9h1v7h1v-3.4h1v9.7h1v1.2h1v-6.3h1v-9.8h1v1.2h1v2.9h1v-1.4h1v-4.8h1v4.4h1v-8.3h1v10.2h1v5.9h1v-9h1v-7h1v3.2h1v1.8h1v-1.3h1v3.5h1v-1.6h1v1.5h1v-4.7h1v4.9h1v-.4h1v-1.5h1v-11.5h1v3.9h1v5.6h1v2.1h1v-7.3h1v2.7h1v5.8h1v-.5h1v-.7h1v1.5h1h1v-9.5h1v7.2h1v1.2h1v-3h1v8.2h1v-2h1v-1.9h1v6.2h1v-3.4h1v-.3h1v-2.8h1v3.7h1v-8.3h1v6.9h1v.3h1v-3.7h1v2.6h1v-.2h1v2.7h1v1.2h1v-9.9h1v9.9h1v-18.3h1v8.6h1v-5.5h1v10.2h1v3.2h1v4.7h1v-8h1v-.3h1v3.4h1v4h1v-1.2h1v-5.2h1v4.8h1v3.4h1v-9.1h1v3.3h1v4.5h1v1.3h1v7.9h1v3h1v-6.9h1v-3.7h1v9.3h1v-10.8h1v-5h1v-3.2h1v13.8h1v-7.8h1v7.5h1v8.2h1v-6.2h1v-2.2h1v3.4h1v.1h1v3.3h1v2.5h1v-1.1h1v-4.1h1v-4.9h1v3h1v5.5h1v-1.1h1v-.8h1v10.2h1v3.9h1v-3.1h1v-5.7h1v2.2h1h1v12.2h1v-10.4h1h1v4.1h1v1.9h1v-5.9h1v1.8h1v4.8h1v5.3h1v-5.1h1v6.3h1v-.8h1v1.9h1v-1.6h1v2.5h1v-.3h1v-1.6h1v-1.1h1v-.2h1v-14.4h1v13.5h1v-4.3h1v-5.6h1v-2.2h1v-.4h1v-.3h1v.2h1v-2.5h1v.1h1v.6h1v1.5h1v-4.6h1v6.1h1v-8.5h1v4.9h1v-2.3h1v7.8h1v-14.5h1v14.4h1v-4.6h1v-10.8h1v3h1v5.8h1v-2.5h1v-7.8h1v-2.5h1v.3h1v4.8h1v-9.2h1v9.8h1v-16.3h1v7h1v1.5h1v-6h1v-2h1v6h1v-1.7h1v6.7h1v-8.1h1v3.6h1v5.9h1v-3.4h1v-3.2h1v.5h1v5.3h1v-5.3h1v-5.8h1v1.8h1v-4.9h1v9h1v.2h1v5.3h1v-11.4h1v.1h1h1v.7h1v4.1h1v-3.8h1v.9h1v2.4h1v-3.3h1v.9h1v.2h1v-4.2h1v-.7h1v-2.7h1v-7.7h1v.8h1v6.9h1v4.2h1v-3.5h1v-.2h1v6.2h1v-2h1v4.9h1v3.8h1v-6.2h1v10.5h1v-8.4h1v-3.6h1v4.8h1v.8h1v3.3h1v.7h1v.8h1v-1.2h1v1.4h1v-3.6h1v.1h1v-2.3h1v3.6h1v2.4h1v-5.8h1v-2h1v9.1h1v-4.4h1v-6h1v1.7h1v-11.8h1h1v3.8h1v1h1v-1.4h1v12.6h1v1.8h1v-11.5h1v-17.6h1v13.7h1v2.2h1v-4.8h1v2.7h1v3.3h1h1v2.2h1v2.7h1v-6.1h1v.4h1v-2h1v11.1h1v-1.9h1v-1.4h1v-.4h1v-5.2h1v3h1h1v1.2h1v8.7h1v-5.3h1h1v1.4h1v6.7h1v1.3h1v-5.2h1v3.7h1v-.5h1v-2.9h1v7.5h1v-.9h1v-6.5h1v7h1v-4.8h1v-11.5h1v13.8h1v.5h1v-16.6h1v16.3h1v-2.1h1v-3.4h1v-1.6h1v.9h1v6.7h1v-8.1h1v-.4h1v-.4h1v5.3h1v-1.3h1v4.7h1v-13h1v6.3h1v4.4h1v1.7h1v-8.2h1v7.2h1v-1.7h1v-14.9h1v2.1h1v-1.3h1v9.6h1v2.7h1v-.5h1v-2.8h1v1.9h1v5.9h1v-6.9h1v3.4h1v3.9h1v-12.6h1v5.1h1v9.1h1v-5.7h1v2h1v1.2h1v-4.6h1v-3h1v-3.1h1v-4.3h1v-10h1v14.8h1v-3.2h1v6.9h1v1h1v-7.1h1v-.8h1v-3.8h1v9.8h1v-5.6h1v-1.9h1v-1.5h1v-3.5h1v9.1h1v9h1v-1.4h1v-6.2h1v.1h1v-4.3h1v4.3h1v2.5h1v2.3h1v-12.7h1v16.9h1v1.6h1v-11.2h1v2.6h1v2.4h1v-6.9h1v18.4h1v-11.2h1v-2.9h1v1.2h1v-.2h1v-7.1h1v4.4h1v2.4h1v-1.7h1v11.2h1v-8.6h1v-1.9h1v3.2h1v-8h1v-.2h1v11.7h1v-5.8h1v3.7h1v-2.4h1v-3.1h1v-3h1v10.5h1v-.2h1v8h1v-6.3h1v3.7h1v-1.8h1v.2h1v-15h1v17.9h1v-2.6h1v-.4h1v7.1h1v-1.9h1v.4h1v-6.7h1v12.1h1h1h1v-.5h1v-3.5h1v-5.1h1v9.1h1v-1h1v7.1h1v-3h1v-9.4h1v1.7h1v7.5h1v-.2h1v.1h1v1.6h1v-2.4h1v-2.5h1v4h1v2h1v.5h1v.4h1v10.7h1v-6.4h1v-3.2h1v-9.9h1v-6.8h1v-6.2h1v15.4h1v-2h1v-18.8h1v4.5h1v-1.7h1v2.7h1v-7.3h1v.8h1v6.1h1v-3h1v-5.9h1v4.3h1v-9.1h1v1.7h1v7.8h1v7.1h1v-11h1v8.5h1v3.9h1v-6.5h1v8.3h1v-1.6h1v-1.8h1v.6h1v-8.6h1v1.8h1v2h1v-7h1v-2.1h1v10.7h1v-1.4h1v-6.1h1v5.1h1v8.4h1v1.9h1v-2.9h1v-9.2h1v-1.2h1v4.7h1v-10.9h1v8h1v-3.7h1v8.5h1v-6.5h1v9.5h1v-2.2h1v-5.7h1v-5.7h1v9.7h1v-.4h1v-10.6h1v4.2h1v2.3h1v2.5h1v-1.7h1v-1h1v7.6h1v-10.5h1v6.3h1v-2.7h1v-3.8h1v10h1v-2.1h1v-5h1v-.2h1v-3.1h1v1.2h1v-1.9h1v-18.8h1v16.9h1v5.8h1v4.9h1v-7.4h1v-1.5h1v1.1h1h1v-9.2h1v8.1h1v-4.8h1v13h1v3.3h1v-10.5h1v2.6h1v7.2h1v-6.4h1v-4.2h1v5.5h1v-2.4h1v-2.1h1v2h1v4.7h1v-20.6h1v16.5h1v-2.8h1v.4h1v7.4h1v1h1v-1h1v-.8h1v5.9h1v-11.7h1v6.2h1v-4.9h1v-5.1h1v14.6h1v-2.9h1v-11.1h1v7h1v-.1h1v-3.7h1v.5h1v-6.5h1v7.5h1v5.9h1v-4.6h1h1v.1h1v4.2h1v-6.3h1h1v6.6h1v-10.1h1v11.1h1v-6h1v1.2h1v-1.7h1v-9.5h1v22.2h1v-2.8h1v-6.2h1v-7h1v10.7h1v-3.7h1v-.3h1v-2.2h1v3.2h1v.3h1v5.4h1v-2.8h1v4.1h1v-3h1v-1.8h1v-16.1h1v12.7h1h1v10.4h1v2.5h1v-1.8h1v-3h1v-1.2h1v-4.7h1v-19.7h1v2.5h1v3.9h1v17.4h1v-5.2h1v1.9h1v-1.6h1v5.3h1v-4.3h1v8.6h1v-15.4h1h1v.5h1v-2h1v8.1h1v-3.8h1v1h1v3.8h1v-7.4h1v1h1v9.4h1v-6.3h1v-3.3h1v8.4h1v-8.3h1v-8.2h1v9.9h1v3.5h1v2.5h1v1.7h1v-11.9h1v7.8h1v4h1v2.7h1v.6h1v-6.7h1v.3h1v-4.5h1v14.6h1v-8.1h1v4.3h1v-1.6h1v2.2h1v1.7h1v-2.8h1v1.3h1v2.6h1v.7h1v-3.2h1v6.6h1v-7.4h1v-10.6h1v13.7h1v1.2h1v-6.5h1v-2.9h1v9.8h1v-.5h1v-10.2h1v1.8h1v.2h1v-1.2h1v.2h1v4h1v-1h1v7.4h1v-6.4h1v4.9h1v-5.6h1v-2.8h1v7.4h1v-2.5h1v-13.6h1v7.3h1v3.5h1v5.1h1v-.5h1h1v3.9h1v-6h1v-9.6h1v2.1h1v-1.6h1v5.9h1v1.9h1v-7.4h1v3.5h1v-2h1v-2.7h1v3.3h1v1.4h1v4.6h1v-4.3h1v6h1v-18.1h1v12.8h1v-15.8h1v12.1h1v-3.1h1v-12.4h1v17.7h1v-9h1v-2h1v9.9h1v6h1v-5h1v1.8h1v.1h1v2h1v-1.2h1v-.9h1v-.6h1v-1.5h1v3.7h1v8.3h1v-11.4h1v1.4h1v1h1v-3.7h1v3.9h1v-3.7h1v1.9h1v-7.1h1v3.6h1v6.3h1v-4.4h1v1.1h1v-.2h1v.2h1v-2.4h1v.8h1v6h1v-7.3h1v6.5h1v-1.2h1v-3.4h1v2.7h1v-1.5h1v7.7h1v-14.4h1v15.4h1v-1.9h1v3.9h1v-7.5h1v10.1h1v-5.9h1v-1.7h1v-11.2h1v6.3h1v7.8h1v-.6h1v7.1h1v-16.3h1v7.8h1v.8h1v-8.9h1v2.2h1v-3.7h1v4.3h1v.3h1v3.8h1v4.4h1v4.4h1v-2.3h1v-9.3h1v-4.5h1v10.1h1v-4.8h1v-1h1h1v2.9h1v-6.1h1v7.6h1v-7.3h1v6.2h1h1v-4.1h1v-2.9h1v-.9h1v2.6h1v7.5h1v-4.3h1v-8h1v9.7h1v6.7h1v2.2h1v-13.3h1v44.5h-1v-1.4h-1v5h-1v-5.6h-1v-1.9h-1v2.2h-1v-3.8h-1v-7.2h-1v4.5h-1v1.3h-1h-1v6.2h-1v-5.8h-1v-10.6h-1v14.3h-1v-4.6h-1v-1.8h-1v-4h-1v8h-1v6.4h-1v-1.8h-1v-2.3h-1v1.3h-1v1.5h-1h-1v3.9h-1v1.5h-1v-1h-1v-9.8h-1v-7.4h-1v6.6h-1v4h-1v-4.7h-1h-1v-5.8h-1v5.9h-1v-1.7h-1v3h-1v.3h-1v1h-1v12.4h-1v-14.9h-1v6.4h-1v2.1h-1v-.7h-1v2.5h-1v-5.4h-1v-5.8h-1v4.7h-1v-6.6h-1v-.1h-1v1.4h-1v-3.1h-1v8.5h-1v-4.4h-1v-1.7h-1v.9h-1v-3.8h-1v6.3h-1v-10.1h-1v5.8h-1v7.4h-1v-8.6h-1v-1.8h-1v-3.1h-1v7.1h-1v-1.4h-1v5.5h-1v3h-1h-1v-2.1h-1v12.1h-1v-7.7h-1v-8h-1v-5.5h-1v5.1h-1v13.7h-1v-9.1h-1v-7h-1v.4h-1v.9h-1v1h-1v2.3h-1v-8h-1v3.4h-1v-6.9h-1v5.2h-1v5.1h-1v-12h-1v11.1h-1v-5.8h-1v3.9h-1v-8.9h-1v7.5h-1v1.5h-1v-2.7h-1v.8h-1v3.6h-1v.1h-1v-2.8h-1v1.3h-1v.5h-1v-1.2h-1v-3.8h-1v-1.7h-1v4.4h-1h-1v2.8h-1v-4.3h-1v13.8h-1v-3h-1v-7.6h-1v9h-1v-6.5h-1v-3.7h-1v2h-1v1.9h-1v1.1h-1v-5.5h-1v1.8h-1v1.4h-1v.2h-1v8.4h-1v-5.3h-1v-6h-1v9.9h-1v-5.2h-1v1.3h-1v9.2h-1h-1v-8.8h-1v-1.7h-1v11.9h-1v-8.1h-1v-5.8h-1v-1.9h-1v7.6h-1v2.1h-1v.9h-1v-3.4h-1v-.9h-1v-2.1h-1v12.3h-1v-20.4h-1v2.6h-1v.3h-1v1.6h-1v1.7h-1v4.1h-1v-1.3h-1v-8.7h-1v8.3h-1v-1.3h-1v-2.4h-1v-1.2h-1v-6.3h-1v-4.1h-1v8.3h-1h-1v-1.6h-1v-5.1h-1v-2.5h-1v8.8h-1v-10.3h-1v8.8h-1v8h-1v-7.9h-1v-1.1h-1v1.1h-1v6h-1v3h-1v-.5h-1v-8.5h-1v-3.4h-1v-1.8h-1v3.2h-1v2.3h-1v4.6h-1v-3.5h-1v1.1h-1v5.1h-1v-3.4h-1v-4.3h-1v4.2h-1v-1.6h-1v4.3h-1v-3.4h-1v-3.1h-1v1.2h-1v5.3h-1v-1.9h-1v10.2h-1v-5h-1v-12.4h-1v5.5h-1v-6.2h-1v7.7h-1v-5.9h-1v3.1h-1v2.4h-1v-7.9h-1v8.1h-1v-5.7h-1v5h-1v3.9h-1v-5.9h-1v-1.2h-1v4.9h-1v-7h-1v7.6h-1v-5.5h-1v-2.6h-1v-2.3h-1v1.7h-1v2.1h-1v2.5h-1v1.5h-1v-6.3h-1v4.6h-1v-6.7h-1v4.5h-1v-1.3h-1v-3h-1v.5h-1v3h-1v-4.3h-1v-.8h-1v1.4h-1v.4h-1v-1.8h-1v2.2h-1v3.9h-1v-4.4h-1v4.2h-1v5.2h-1v-5.9h-1v-3.6h-1v.7h-1v4.8h-1v3.8h-1v-4.8h-1v.3h-1v-3.5h-1v1.6h-1v5.9h-1v5.1h-1v-14.2h-1v3.8h-1v-.4h-1v-3.3h-1v1.9h-1v-6.1h-1v5.1h-1v5.3h-1v-7.5h-1v6.4h-1v7.6h-1v-2.4h-1v-11.2h-1v-1.9h-1v3h-1v-1.6h-1v4.2h-1v-1h-1v-3.3h-1v2.6h-1v-6.2h-1v16.8h-1v-16.9h-1v7.1h-1v-8.1h-1v-.2h-1v3h-1v5h-1v-2.5h-1v5.2h-1v2.8h-1v-9.8h-1v3.2h-1v1.5h-1v4.6h-1v-.3h-1v-4.3h-1v-5.6h-1v6.3h-1v-2.6h-1v-.2h-1v-3.5h-1v7.4h-1v-9.4h-1v12.8h-1v-8.5h-1v4.1h-1v.5h-1v2.3h-1v1.5h-1v-6.6h-1v-6.1h-1v8h-1v-2h-1v6.1h-1v-2.8h-1v.2h-1v-1.2h-1v12.8h-1v-10.6h-1v1.8h-1v-1.9h-1v-.3h-1v-2.1h-1v-5.9h-1v3.7h-1h-1v4h-1v-3.6h-1v7.7h-1v12.7h-1v-14.7h-1v4.4h-1v-4.1h-1v7.1h-1v.1h-1v-11.6h-1v-1.3h-1v-6.2h-1v-2h-1v1.8h-1v.9h-1v5.2h-1v5.3h-1v-1.4h-1v.5h-1v-.4h-1v2.9h-1v-1h-1v1.8h-1v8.9h-1v-9.2h-1v7h-1v10h-1v-5.6h-1v9.7h-1v1.2h-1h-1v.1h-1v-3.8h-1v-1h-1v-4.7h-1v.8h-1v3.2h-1v2.6h-1v2.2h-1v.6h-1v5.9h-1v-10.9h-1v-4.8h-1v1.1h-1v-5.3h-1v5.3h-1v1h-1v-3.3h-1v9.9h-1v-11.4h-1v-1.8h-1v5.6h-1v-6.9h-1v4.8h-1v4.8h-1v-17.2h-1v9.2h-1v-6.1h-1v-3h-1v11.8h-1v-17.1h-1v5.1h-1v5.5h-1v2h-1v-8h-1v4.1h-1v-2h-1v-7.9h-1v-1.7h-1v-7.4h-1v4h-1v1.1h-1v9.7h-1v8.3h-1v-13.6h-1v-.2h-1v4.4h-1v4.7h-1v.7h-1v-1.5h-1v-7.6h-1h-1v-5.9h-1v10.9h-1v-4.6h-1v9.9h-1v-11h-1v7.6h-1v5.1h-1v-5.7h-1v-5.6h-1v-6h-1v3h-1v7.6h-1v-4.3h-1v-8.2h-1v11.2h-1v-.8h-1v-8.5h-1v1h-1v-.8h-1v6.8h-1v-2.2h-1v-3.1h-1v-2.3h-1v.3h-1v4.7h-1v-10.9h-1v10.7h-1v-6.9h-1v-.5h-1v-.4h-1v.5h-1v5h-1v4.3h-1v2.4h-1v-8.3h-1v-3.1h-1v.5h-1v.6h-1v6.5h-1v2.7h-1v-2.5h-1v1h-1v4h-1v4.6h-1v-9.3h-1v-1.5h-1v1.9h-1v.3h-1v-1.3h-1v2h-1v-6.9h-1v3.6h-1v7.8h-1v-5.6h-1v3.9h-1v-5.9h-1v-4.1h-1v15.3h-1v-9.3h-1v5h-1v-4.4h-1v2.2h-1v3.7h-1v-3.7h-1v6.7h-1v4.3h-1v-3.8h-1v-10.3h-1v-.9h-1v4.6h-1v.5h-1v-.1h-1v9.6h-1v-13.8h-1v6.3h-1v11.8h-1v-14.5h-1v7.3h-1v-6.4h-1v2.8h-1v-.5h-1h-1v5.1h-1v-9.2h-1v8.5h-1v-6.2h-1v1.7h-1v3.6h-1v-5h-1v-4.2h-1v-1.8h-1v2.2h-1v.3h-1v6.3h-1v1.3h-1v-12.6h-1v2.5h-1v-7.7h-1v-1.8h-1v6.7h-1v-.3h-1v1.5h-1v.3h-1v9.2h-1v-13.8h-1v-4.8h-1v7.2h-1v-1.4h-1v1h-1v-1.3h-1v-.8h-1v-.3h-1v-9.4h-1v1h-1v9.1h-1v-5.3h-1v-3.9h-1v7.3h-1v11h-1v-9.8h-1v-.7h-1v13.2h-1v-8h-1v-9.2h-1v-4.3h-1v8h-1v8h-1v1.2h-1v-5.3h-1v-1.7h-1v3.9h-1v1.4h-1v.6h-1v.4h-1v-2.9h-1v28.1h-1v-16.7h-1v-2.1h-1v-7.3h-1v.3h-1v-2.9h-1v-3.2h-1v3.7h-1v-9.7h-1v20.4h-1v-4.7h-1v-3h-1v-2.4h-1v-3.2h-1v-5h-1v-9.3h-1v5.4h-1v7.4h-1v-6.9h-1v-4.9h-1v2.8h-1v4.2h-1v1.2h-1v1h-1v11.3h-1v-3.8h-1v9.5h-1v-7.3h-1h-1v-8h-1v5.7h-1v-.3h-1v6.6h-1v-15.8h-1v14.6h-1v-11.3h-1v6.7h-1v-.1h-1v2.8h-1v-5.7h-1v1.3h-1v-2.2h-1v1.5h-1v4.6h-1v-1.3h-1v4.9h-1v-6.4h-1v2.3h-1v-.2h-1v-1.1h-1v2h-1v-8.9h-1v1.3h-1v3.5h-1v3.1h-1v-1.6h-1v5.5h-1v-.7h-1v4.4h-1v-2.3h-1v-4h-1v1h-1v3.6h-1v7.4h-1v5.2h-1v-3.9h-1v-5h-1v3.4h-1v1.8h-1v8.5h-1v-4.3h-1v-2.2h-1v3.2h-1v-3.5h-1v3.2h-1v1.3h-1v-4.1h-1v-1.6h-1v4h-1v-6.8h-1v9h-1v3.8h-1h-1v-.5h-1v-1.4h-1v1.9h-1v1.9h-1v-1.1h-1v7.9h-1v-.5h-1v1.3h-1v-1.5h-1v-4h-1v-.6h-1v1.5h-1v-.4h-1v1.2h-1v3.3h-1h-1v-8h-1v2.8h-1v.2h-1v-4.8h-1v-1.5h-1v1.4h-1v-4.9h-1v10.8h-1v-2.2h-1v-8.2h-1v-6.1h-1v8.9h-1v-7.7h-1v7.8h-1v-1.7h-1v-3.5h-1v11.3h-1v-16.7h-1v-4.8h-1v-1.6h-1v3.1h-1v5.4h-1v-3.8h-1v3.6h-1v-9.4h-1v10.4h-1v-13.5h-1v12.2h-1v-15.1h-1v-2.1h-1v14.9h-1v-5h-1v-6.7h-1v1.8h-1v5.4h-1v7.1h-1v-5.6h-1v1.4h-1v.8h-1v-9.4h-1v-.7h-1v-2.9h-1v6.4h-1v-9.3h-1v3.1h-1v7.4h-1v-9.3h-1v8.3h-1v1h-1v-4.8h-1v-8.6h-1v18.1h-1v-7.3h-1v-9h-1v-6.2h-1v-.2h-1v6.4h-1v-2.5h-1v4.8h-1v-2.9h-1v5.9h-1v-.2h-1v-10.4h-1v4.4h-1v2.5h-1v-5.2h-1v2.2h-1v5.9h-1v-1.9h-1v1.6h-1v-1.7h-1v-5.2h-1v-5.9h-1v10.5h-1v3.4h-1v-7.7h-1v-1.6h-1v-1.1h-1v4.8h-1v-8.9h-1v2.7h-1v.7h-1v6.8h-1v-2.3h-1v1.6h-1h-1v-.3h-1v-1.7h-1v1.4h-1v-6.2h-1v-.4h-1v-3.3h-1v2.9h-1v4.4h-1v2.3h-1v7.8h-1v-15.3h-1v2.5h-1v.5h-1v-4.6h-1v4.8h-1v9.6h-1v-1.1h-1h-1v1.3h-1v-7.2h-1v2.4h-1v3.1h-1v-4.2h-1v3.6h-1v-.7h-1v1.6h-1v3.2h-1v3.6h-1v.5h-1v-7h-1v5.6h-1v-.1h-1v-5.3h-1v11.8h-1v-1.6h-1v-10.7h-1v1h-1v-9.8h-1v5.7h-1v-1.1h-1v12.4h-1v-15.4h-1v8.9h-1v1.1h-1v-7.3h-1v-1.9h-1v-.9h-1v19.7h-1v-15h-1v6.1h-1v3.6h-1v-16.7h-1v9.9h-1v-6.1h-1v11.6h-1v-8.5h-1h-1v-.3h-1v2.6h-1v8.5h-1v-8.5h-1v-5.2h-1v2.9h-1h-1v-1.2h-1v-.3h-1v3h-1v6.1h-1v-4.6h-1v.2h-1v2.3h-1v4.3h-1v-7.3h-1v-5.6h-1v12h-1v11.2h-1v-11.8h-1v12.9h-1v-13.4h-1v-2.4h-1v2.1h-1v5.2h-1v-12.7h-1v5.9h-1v4.4h-1v-1.9h-1v23.1h-1v-9.8h-1v-1.5h-1v-1h-1v3h-1v-2.3h-1v7.9h-1v2.6h-1v1.1h-1v-10.1h-1v9.6h-1v-5.6h-1v9.8h-1v-1.3h-1v-.1h-1v3h-1v-4.6h-1v6.9h-1v-8.9h-1v15.3h-1v3h-1v-6.1h-1v-4.2h-1v.7h-1v4.6h-1v.4h-1v4.2h-1v-2.7h-1v8.5h-1v.6h-1v-8.8h-1v-.9h-1v-.1h-1v7.4h-1v9.3h-1v-5.8h-1v5.5h-1v6.8h-1v-1.5h-1v-4.8h-1v5.2h-1v2.6h-1h-1v-3.5h-1v6.1h-1v-11.4h-1v8.6h-1v-2.9h-1v2.8h-1v.2h-1v-2.4h-1v4.1h-1v-11.9h-1v6.2h-1v2h-1v7.6h-1v-8.1h-1v-2.5h-1v7.6h-1v2.9h-1v3.6h-1v-2.8h-1v2.7h-1v1.6h-1v-2.3h-1v9.6h-1v-5h-1v-1.1h-1v10.3h-1v9.8h-1v-13.7h-1v8.9h-1v-1h-1v4.9h-1v-9.1h-1v3.3h-1v9.2h-1v-1.3h-1v5h-1v4h-1v-7.5h-1v3.9h-1v20.2h-1v19.2h-1v26.2h-1v14.1h-1v7h-1v2.8h-1v3.1h-1v6.6h-1v4.2h-1v5.2h-1v6.7h-1v17h-1v31h-1v15.1h-1v6.5h-1v-.8h-1v.7h-1v3.4h-1v2.5h-1v3.8h-1v5.9h-1v-.8h-1v-.6h-1v4.1h-1v4h-1v4.7h-1v5.3h-1v3.5h-1v2.1h-1v4h-1v4.6h-1v8.6h-1v9.3h-1v8.5h-1v4.3h-1v9.7h-1v10.1h-1v4h-1v3.5h-1v2.3h-1v1.1h-1v2.8h-1v4.8h-1v-.6h-1v7h-1v-3.1h-1z"/>
<path class="c" fill="#006ae0" stroke="#006ae0" d="M171.5 2460.4h1v-4h1v-3h1v-1.4h1v-5.8h1v-7.3h1v.4h1v-6.3h1v-5h1v-.4h1v-8.4h1v-6.6h1v-8.5h1v4.8h1v-1.8h1v-4.4h1v.4h1v-.2h1v-5.8h1v-7.4h1v.9h1v1.5h1v-3.9h1v-7.3h1v.3h1v-1.7h1v2.8h1v-11h1v5.9h1v2.9h1v-6.3h1v-1.9h1v-.6h1v8.2h1v-8.6h1v.6h1v.5h1v-6.9h1v10.5h1v-8.2h1v-1h1v1.4h1v1.2h1v-5.7h1v-4h1v7.8h1v-3.3h1v-11.2h1v6.4h1v6.7h1v-8h1v3.8h1v-4.4h1v2.4h1v.4h1v-1.3h1v5.7h1v-4.8h1v-1.8h1v-.3h1v.1h1v-4.4h1v-3.3h1v-.8h1v5.2h1v-8.9h1v6.1h1v4.7h1v-1.3h1v-9.4h1v3h1v-7h1v-3.2h1v5.5h1v-7.5h1v8.8h1v-3.4h1v5.7h1v-1.8h1v2.9h1v-11h1v6.1h1v-13.3h1v6.1h1v6.8h1v1.4h1v4.7h1v3.1h1v-14.3h1v.9h1v1h1v-.9h1v-3.5h1v2.6h1v-3.1h1v3.3h1v-13.4h1v12.9h1v-6.5h1v-.7h1v1.2h1v-2.2h1v1.1h1v-10.8h1v16.6h1v3.2h1v.8h1v2.7h1v.3h1v-4.2h1v8.1h1v-4.8h1v3.4h1v-4.4h1v-3.3h1v3.3h1v4.3h1v-2.3h1v5.7h1v-5.6h1v-8.1h1v4.1h1v-7.5h1v11.3h1v-5.2h1v-4.3h1h1v.8h1v6.8h1v-2.3h1v1.7h1v-9.1h1v-2.1h1v1.4h1v6h1v-.7h1v.9h1v-6.5h1v6.4h1v-3.2h1v4.7h1v-4.7h1v5.9h1v-2.3h1v-1.4h1v-2.2h1v-1.6h1v-.9h1v7h1v-1.3h1v1.3h1v-4.5h1h1v2.3h1v-1h1v.4h1v-5.2h1v5.1h1v1.7h1v-5.7h1v.4h1v-5.3h1v11.3h1v-2.1h1v-1.9h1v-1.3h1v-.3h1v4.1h1v1.3h1v5.8h1v4.6h1v-6.4h1v1.2h1v-17.6h1v-21h1v-6.8h1v-2.5h1v-5.1h1v-5h1v3.6h1v-.7h1v3.2h1v-3h1v10.5h1v-4.4h1v5.6h1v.2h1v9.5h1v.2h1v-3.6h1v-13.8h1v-8.2h1v-10h1v-8.9h1v-12h1v-4.3h1v8.2h1v5h1v4.4h1v7.4h1v7.6h1v8.4h1v2.2h1v4.4h1v-.2h1v2h1v4.5h1v-2.9h1v3.1h1v.5h1v-8h1v-4.7h1v-9.4h1v-5.7h1v-20.5h1v-25.9h1v-31h1v-29.5h1v-11.2h1v-11.2h1v-.2h1v-3.2h1v-1.2h1v-.2h1v.2h1v-5.7h1v-1.6h1v-7.4h1v12.4h1v-3.3h1v5.1h1v-6.1h1v9.8h1v-10.7h1v6.3h1v-.6h1v-5h1v-1.9h1v4.4h1v-1.1h1v3.2h1v-5.5h1v-8.6h1v13.1h1v-1.1h1v.3h1v2.4h1v3.2h1v-1.9h1v-5.9h1v4.3h1v-1.8h1v.8h1v4.6h1v-4.1h1v-.3h1v-6.8h1v3.6h1v-2h1v.6h1v2.7h1v-13.6h1v-43.9h1v-15.2h1v-11h1v2.8h1v-1.8h1v-1h1v1.4h1v.4h1v-3.6h1v4.6h1v-3.6h1v3.8h1v-9h1v4.7h1v-.2h1v3.9h1v-4.1h1v-9h1v7.2h1v5.1h1v-6.3h1v1.9h1v6.9h1v-2.2h1v-2.9h1v-1.9h1v4.6h1v-6.5h1v4.5h1v2.2h1v-1.1h1v2.2h1v-6.4h1h1v2.5h1v9.7h1v-4.2h1v-4h1v-1.6h1v-11.6h1v-2.6h1v15.2h1v1.3h1v3.8h1v-4.9h1v-8.5h1v2.9h1v4.3h1v-4.5h1v-1.9h1v3.2h1v3.2h1v.4h1v-2.8h1v-2.1h1v3.2h1v-3.6h1v8.4h1v-6.6h1v.8h1v-7h1v2.1h1v9.6h1v-.3h1v-5.7h1v5h1v-.5h1v4.2h1v-4.4h1v5.8h1v-.1h1v7.5h1v-5h1v9.8h1v-7.3h1v4.2h1v-4.1h1v2h1v-7.4h1v8h1v-7h1v2.2h1v-.5h1v4.5h1v7.3h1v.9h1v-9.2h1v.7h1v.4h1v1.8h1v3.8h1v1.3h1v2.4h1v-3.1h1v-2.1h1v-2.6h1h1v1.7h1v-2.2h1v2.9h1v-1.8h1v-4.2h1v4.4h1v1.1h1v2.3h1v-3.8h1v.2h1v2.8h1v-4h1v2.5h1v1.4h1v-.6h1v-5.2h1v6.2h1v3.4h1v-1.5h1v2.7h1v-6.3h1v-.9h1v5.5h1v-3.8h1h1v-2h1v-3.4h1v7.4h1v-1.6h1v4h1v-11.9h1v5.1h1v4.3h1v-4.8h1v-4.7h1v8.6h1v-2.2h1v2.9h1v-9.5h1v3.5h1v.2h1v-.6h1v-.8h1v2.9h1h1v-2.8h1v-.6h1v7.1h1v-3.6h1v3.8h1v1.8h1v-2.8h1v5.2h1v-4.1h1v-1.3h1v-3.8h1v-3.7h1v14h1v-9.4h1h1v1.4h1v1.2h1v-9.1h1v5.4h1v2.9h1v2.8h1v-5.7h1v-1.2h1v1.9h1v3.9h1v-2.9h1v.8h1v5.2h1v-.3h1v2.8h1v-9.2h1v-.9h1v7.5h1v-3.5h1v4.8h1v-1.1h1v-14.3h1v10.3h1v10.3h1v-8.9h1v3.3h1v-7.1h1v.8h1v3h1v-1.7h1v5.2h1v-5h1v4.6h1v-19.6h1v9.3h1v3.4h1v3h1v7.1h1v-5h1v-2.5h1v3.4h1v-3.6h1v1.1h1v2.7h1v3.4h1v-1.4h1v-4.8h1v-.2h1v5.3h1v-4.1h1v8.7h1v-3.2h1v-3.7h1v-4.4h1v10.3h1v-8.7h1v5.7h1v-7.1h1v6.4h1v-6.5h1v4.1h1v2.1h1v1.5h1h1v-4.7h1v7.1h1v-5.1h1v.1h1v4.6h1v-5.8h1v3.9h1v-.8h1v-4.6h1v.8h1v-.9h1v1h1v5.3h1v-.5h1v3.5h1v-6.1h1v-2.8h1v-1h1v3h1v-.7h1v-2.8h1v5.6h1v-12.3h1v6.3h1v-.9h1v-17.4h1v11.1h1v10h1v-9.7h1v.1h1v8.4h1v.8h1v-.5h1v2.8h1v-2.4h1v3.4h1v-4.3h1v-1.3h1v9.2h1v-3.6h1v6.4h1v-6.3h1v-3.2h1v-.3h1v4.3h1v-3.8h1v.8h1v2.5h1v-1.4h1v-1h1v-.5h1v1.6h1v.3h1v1.3h1v1.1h1v-3.6h1v.2h1v2.1h1v3.3h1v1.1h1v-1.3h1v-.1h1v2.7h1v-2.8h1v.4h1h1v2.5h1v-7h1v-1.6h1v-.1h1v2.5h1v-3.4h1v4.6h1v-9.8h1v8.9h1v-3.4h1v.3h1v2.9h1v2h1v-.4h1v-1.1h1v-3.8h1v-11.7h1v11.3h1v3.4h1v2.9h1v-8h1v11.4h1v-7.9h1v3h1v-2.4h1v-5.6h1v5.9h1v-1.1h1v3.5h1v2.4h1v3.5h1v-2.3h1v-6.9h1v.6h1v-3.5h1v10.1h1v-10.2h1v5.7h1v1.8h1v-3.4h1v-3.8h1v-.2h1v2h1v-5.8h1v9.6h1v-.5h1v6h1v-6.2h1v-5.3h1v-5.5h1v2.5h1v-1.6h1v5.2h1v4.3h1v-11.2h1v3.6h1v-1.7h1h1v3.3h1v.7h1v-6.6h1v1h1v9.4h1v-5.7h1v-10.5h1v5.1h1v6h1v-6h1v7.4h1v.5h1v1.6h1v1.3h1v-2.8h1v-1h1v1.6h1v2.9h1v-4.2h1v3.1h1v-2.6h1v3.5h1v1.9h1v-2.6h1v-8.1h1v-2.3h1v1.9h1v4.2h1v-7.2h1v9.8h1v-14.6h1v9.7h1v-1.2h1v3.2h1v2.1h1v-3.8h1v6.3h1v-3.3h1v-3.8h1v10.3h1v-13.3h1v9.8h1v-4.8h1v.1h1v-7.4h1v5.8h1v-6.5h1v11.7h1v-2.5h1v.8h1v2.1h1v.4h1v-4.3h1v-2.8h1v3h1v.2h1v-7.2h1v5.9h1v-2.2h1v-6h1v-.1h1v4.5h1v5h1v-2.6h1v1.1h1v3.1h1v.7h1v4.1h1v-.8h1v-5.7h1v-1.1h1v-1.2h1v-6.2h1v5.2h1v3.7h1v4.1h1v-5.9h1v-1.8h1v.7h1v1.6h1v-7.2h1v4h1v2.2h1v.2h1v5.3h1v-1.5h1v.4h1v-3.8h1v-3.7h1v6.9h1v5.2h1v-12.5h1v1.9h1v3.7h1v1.5h1v-.6h1v5.7h1v-.1h1v.2h1v-4.2h1v-3h1v-1h1v-3.1h1v5h1v4.3h1v-2.1h1v-4.5h1v-2.2h1v-3.5h1v6.8h1v-.7h1v2.8h1v-2.3h1v3.5h1v-9.8h1v10.3h1v1.4h1v-9.6h1v10h1v-19.1h1v20.3h1v-.8h1v-3.7h1v-3.7h1v.9h1v-2.9h1v-3h1v-6.6h1v9.4h1v.1h1v-1.5h1v6.1h1v-1.1h1v-1.3h1v-.9h1v-2.8h1v-5.6h1v8.9h1v-3h1v-1.6h1v2.6h1v2.5h1v-.7h1v3h1v-4.4h1v4.6h1v-2.4h1v4.3h1v-7.2h1v2.7h1v-.2h1v-1.4h1v6.9h1v-4.5h1v3.8h1v1.6h1v-13.1h1v2.6h1v1.7h1v2.1h1v-6h1v3.7h1v7.8h1v2.8h1v-10.1h1v-7.3h1v10.5h1v1.2h1v-4.9h1v3.8h1v3h1v-4.4h1v-1.8h1v-5.7h1v5.3h1v3.6h1v-8.7h1v7.7h1v1.4h1v-5.6h1v-4.1h1v8.1h1v-1.4h1v1.4h1v-3.3h1v2.4h1v1.5h1v-1h1v2.8h1v-1.3h1v4.4h1v-10.9h1v-.6h1v5.4h1v-1.7h1v5.2h1v-10h1v7.5h1v6.6h1v1.6h1v-1.3h1v4.6h1v-6.7h1v-1.8h1v3.5h1v4.1h1v-3h1v-1.7h1v3.8h1v-4.2h1h1v1.9h1v-5.5h1v2h1v7h1v.2h1v-6.1h1v-3.3h1v9.1h1v-.9h1v-5.5h1v9.1h1v-14.3h1v15.1h1v-5.3h1v4.1h1v-.5h1v-1.9h1v-3.8h1v6.8h1v-1.9h1v4.3h1v-1.9h1v-10h1v10.6h1v-6.5h1v5.4h1v-10.6h1v9.5h1v-3.9h1v5h1v-12h1v10.9h1v-1.3h1v-.2h1v.3h1v1.7h1v-3.1h1v2.9h1v-3.8h1v4.1h1v-1h1v2h1v-7.2h1v2.5h1v7h1v2.1h1v-7.2h1v2.9h1v-1.8h1v-16.8h1v13.1h1v-2.7h1v1.9h1v7h1v-5.8h1v9.3h1v5.9h1v-10h1v-1.2h1v-6.3h1v-1.5h1v6h1v.5h1v-1.3h1v5.7h1v-10.8h1v1.5h1v6.5h1v-2.6h1v-2h1v.4h1v-4.5h1v14.1h1v-2.7h1v-4.4h1v.1h1v1.8h1v1.1h1v-11h1v7.2h1v1.7h1v3.7h1v-3.1h1v1.2h1v-4.4h1h1v7.3h1v-8.5h1v2.2h1v-.2h1v-4.6h1v5.2h1v-4.3h1v5.1h1v-1.6h1v-5.9h1v6.8h1v1h1v-7.5h1v3.3h1v2.4h1v3.4h1v-1.8h1v3.3h1v-9.7h1v3.4h1v4.3h1v.9h1v2.7h1v-4.7h1v1.9h1v48.5h-1v-24h-1v-.9h-1v9.8h-1v-10.8h-1v-.7h-1v.9h-1v4h-1h-1v-1.5h-1v1.7h-1v-5h-1v3h-1v-1h-1v1.7h-1v2.6h-1v-6.8h-1v6h-1v-1.2h-1v-.2h-1v-3.2h-1v1.1h-1v1.1h-1v3.8h-1v3.2h-1v-6.8h-1v-.1h-1v.2h-1v-4.4h-1v10.8h-1v-6.4h-1v3.6h-1v1.6h-1v.7h-1h-1v-8.3h-1v-1.3h-1v3.6h-1v4h-1v-5.9h-1v6.7h-1v-6.2h-1v-1.4h-1v2.3h-1v.6h-1v2.2h-1v-7.1h-1v-3h-1v3.4h-1v2.3h-1v6.5h-1v-4.1h-1v-5h-1v8.8h-1v2.1h-1v.7h-1v-6.8h-1v7.2h-1v-4.1h-1v-5.1h-1v6.1h-1v-6h-1v4.8h-1v3.6h-1v-7.3h-1v9.4h-1v-6.4h-1v-1.1h-1v-1h-1v1.4h-1v6.5h-1v-7.8h-1v-3h-1v7.4h-1v-1.1h-1v-5h-1v2.1h-1v-1.2h-1v-2.9h-1v2.8h-1v11.5h-1v-15.4h-1v-2.9h-1v2.5h-1v6.1h-1v-3.7h-1v1.5h-1v-1.7h-1v-3.6h-1v9.1h-1v-.3h-1v1.9h-1v-7.7h-1v1.4h-1v1.8h-1h-1v-1.2h-1v4.6h-1v-5.4h-1v-4.5h-1v-.7h-1v7.2h-1v-2.8h-1v-4.4h-1v-2.5h-1v7.5h-1h-1v-6.6h-1v4.7h-1v1.6h-1v-8.8h-1v9h-1v2.6h-1v1.3h-1v-4.5h-1v8.7h-1v-4.2h-1v-3h-1v-2.8h-1v-3.8h-1v1.9h-1v-.2h-1v5.7h-1v.5h-1v-10.2h-1v-3h-1v4.7h-1v-4.7h-1v-4.6h-1v.3h-1v1.2h-1v12.6h-1v-7h-1v-3.1h-1v7.1h-1v3.3h-1v-2.1h-1v-8.9h-1v2.9h-1v-1.5h-1v9.1h-1v-5.9h-1v-1h-1v-6.9h-1v9h-1v-6.8h-1v-4.3h-1v10.3h-1v-7.3h-1v3.2h-1v1.1h-1v3.2h-1v-5h-1v3.3h-1v5.5h-1v-4h-1v1h-1v-4h-1v4.5h-1v3.4h-1v-8.1h-1v4.1h-1v-3.3h-1v5.5h-1v-2.6h-1v-3.7h-1v1.1h-1v9.6h-1v-8.5h-1v-2.6h-1v7.5h-1v-.7h-1v-3.2h-1v3.7h-1v10.9h-1v-15.7h-1v-5.7h-1v-.6h-1v5.9h-1v-6.3h-1v7.6h-1v7.2h-1v-9.7h-1v-5.8h-1v.9h-1v.7h-1v6.9h-1v-8.8h-1v9.1h-1v-.6h-1v-7.9h-1v3.4h-1v2.2h-1v.3h-1v3.8h-1v3.3h-1v-4.5h-1v2.9h-1v-2.5h-1v-.3h-1v11.2h-1v-4.5h-1v-3.3h-1h-1v4.6h-1v-3.1h-1v-3.9h-1v9.5h-1v-7.4h-1v-6.1h-1v12.5h-1v-14.9h-1h-1v4.8h-1v2.9h-1v-2.5h-1v4.7h-1v-6.1h-1v-2.1h-1v7.9h-1v2.8h-1v-7.5h-1v3h-1v-2.5h-1v1.2h-1v5.9h-1v-6.9h-1v-2h-1v-2.2h-1v-2.4h-1v2.2h-1v9.4h-1v3.8h-1v-8h-1v3.7h-1v-3.7h-1v.5h-1v-4.2h-1v3h-1v-7.2h-1v3.4h-1v-4.5h-1v4.1h-1v1.4h-1v.2h-1v-.1h-1v8.8h-1v-3.8h-1v-10.6h-1v6.8h-1v-2.4h-1v.6h-1v-.4h-1v3.5h-1v5.1h-1v-1.7h-1v-1.7h-1v-2.8h-1v5.8h-1v-8.8h-1v-1.5h-1v-3.3h-1v5.8h-1v-.2h-1v-2.5h-1v4.2h-1v-6.2h-1v7.2h-1v1.1h-1v5.9h-1v-6.4h-1v-.8h-1v.2h-1v.5h-1v1.3h-1v-.8h-1v-2h-1v1.6h-1v-5.7h-1v1.1h-1h-1v6.6h-1v6.1h-1v-11.7h-1v1.4h-1v4.6h-1v-8.3h-1v8.3h-1v-7.3h-1v5.6h-1v-6.9h-1v3.1h-1v1.7h-1v-.4h-1v-.5h-1v14.9h-1v-10.8h-1v9.8h-1v-5.4h-1v5.1h-1v-4.8h-1v-8h-1v-.3h-1v2.1h-1v-2.3h-1v.4h-1v1.6h-1v1.5h-1v-.8h-1v-.6h-1v-.6h-1v2h-1v-3.9h-1v2.5h-1v-1.3h-1v-3.5h-1v7.9h-1v-3.1h-1v-1.6h-1v-1.4h-1v-2.1h-1v-1.4h-1v4.3h-1v.1h-1v5.4h-1v-.9h-1v-4.3h-1v12.4h-1v-6.3h-1v5.2h-1v-12.8h-1v11.9h-1v-3.3h-1v.6h-1v-2.2h-1v1.7h-1v-1.6h-1v-2.6h-1v-.3h-1v-.2h-1v-1.4h-1v-.7h-1v4.1h-1v.3h-1v5.8h-1v1.9h-1v-3h-1v-1.9h-1v3.4h-1v5.4h-1v-3.7h-1v-3.4h-1v-5h-1v3.1h-1v2.3h-1v13.9h-1v-2.5h-1v-13.1h-1v17.2h-1v-8.8h-1v-6.5h-1v3.7h-1v-5.9h-1v-4h-1v-1.9h-1v3.2h-1v3h-1v4.6h-1v-3.5h-1v-4.1h-1v.4h-1v1.1h-1v3.6h-1v4.9h-1v-8.1h-1v2.2h-1v-5.9h-1v3.3h-1v3h-1v2h-1v2.9h-1v5.1h-1v-10h-1v2.5h-1v4.1h-1v-6.5h-1v3.6h-1v-.9h-1v2.7h-1v-11.5h-1v2.4h-1v6.8h-1v5.7h-1v-4.8h-1v-6.3h-1v-3.1h-1v5.9h-1v-1h-1v2.9h-1v1.2h-1v-8.6h-1v4.3h-1v-7.2h-1v3.5h-1v-.4h-1v1.4h-1v6.6h-1v2.3h-1v-6.5h-1v1.3h-1v-2.7h-1v-4.3h-1v-.7h-1v3.7h-1v-6.7h-1v-2.9h-1v-2.8h-1v8.9h-1v3.1h-1v-1.1h-1v1.8h-1v-5.7h-1v2.1h-1v5.1h-1v-.8h-1v-7.2h-1v6.4h-1v-3h-1v3.8h-1v8.4h-1v-8.3h-1v-1.3h-1v7.4h-1v-7.6h-1v5h-1v-6.8h-1v2.8h-1v-4.2h-1v9.3h-1v-4.4h-1v-6.7h-1v5.7h-1v6.2h-1v-3.5h-1v-1h-1v-.9h-1v2.3h-1v-5.8h-1v6.2h-1v3.4h-1v-5h-1v-5.5h-1v1.8h-1v4.1h-1v-4h-1v3.8h-1v-4.6h-1v5h-1v-.4h-1v9.4h-1v-10.6h-1v-3.8h-1v-1.6h-1v2.5h-1v-6.1h-1v11.2h-1v-5.9h-1h-1v-3.1h-1v6.9h-1v2.6h-1v-4.2h-1v-1.2h-1v.6h-1v-3.5h-1v.1h-1v5.9h-1v-6.2h-1v6.8h-1v6.9h-1v-10.4h-1v.6h-1v1.8h-1v-5.7h-1v-1.2h-1v8h-1v5.3h-1v-12.5h-1v5h-1v-2.8h-1v2.7h-1v-2.9h-1v2h-1v-.4h-1v.6h-1v7.8h-1v-11.5h-1v1.2h-1v.8h-1v-2.9h-1v3.6h-1v-.3h-1v-3h-1v.8h-1v-.5h-1v-5.6h-1v7.8h-1v-.9h-1v-4.1h-1v3.8h-1v4.4h-1v-3.4h-1v-.7h-1v5.5h-1v-5.6h-1v6.7h-1v-6h-1v-3.1h-1v1.5h-1v2.9h-1v-.3h-1v-4.1h-1v-.6h-1v-2.7h-1v2.8h-1v4.8h-1v-4.4h-1v-.6h-1v1.4h-1v2.4h-1v-12h-1v10.3h-1v-1h-1v-3.2h-1v4.4h-1v-4.3h-1v4.8h-1v-7.3h-1v5.2h-1v-4.3h-1v8.1h-1v-1.8h-1v3.6h-1v-7.2h-1v-3.7h-1v1.2h-1v7.9h-1v2.5h-1v-6.6h-1v5.9h-1v-5.7h-1v3.2h-1v6.8h-1v-3.7h-1v-.9h-1v-2.3h-1v-4.5h-1v11.7h-1v-3h-1v-2.7h-1v-4.6h-1v1.6h-1v.5h-1v6.1h-1v-7.1h-1v-1.7h-1v4.2h-1v3.4h-1v-4.5h-1v-1.5h-1v2.8h-1v.1h-1v2.8h-1v-4.3h-1v2.7h-1v3.8h-1v-12h-1v1.6h-1h-1v-1.6h-1v4.3h-1h-1v3.9h-1v-7h-1v-6.3h-1v-2h-1v13h-1v-8.1h-1v2h-1v1h-1v.1h-1v3.4h-1v-1.7h-1v-3.3h-1v1.2h-1v-3h-1h-1v-4.2h-1v1.9h-1v-1.3h-1v-8.5h-1v2.2h-1v1h-1v.4h-1v-3.8h-1v-3h-1v2.5h-1v2h-1v-1.1h-1v2.4h-1v.7h-1v-8.2h-1v10h-1v-5.1h-1v-1.1h-1v11.7h-1v-8.2h-1v-4.4h-1v10.5h-1v-11.3h-1v-.1h-1v10.8h-1v-3.1h-1v.5h-1v-3.6h-1v3.3h-1v-.8h-1v-7.5h-1v11.8h-1v-5.8h-1v6.7h-1v5h-1v-4.5h-1v-9.4h-1v13.4h-1v-9.1h-1v-3.1h-1v-.5h-1v2.1h-1v-3.1h-1v7.6h-1v-1.3h-1v.1h-1v2.7h-1v-3.8h-1v-.1h-1v4.6h-1v-10.1h-1v.8h-1v-4.9h-1v8h-1v-4.8h-1v3.9h-1v-1.4h-1v-4.7h-1v5.7h-1v-1.5h-1v-3.3h-1v4.7h-1v-1.4h-1v.8h-1v-2.5h-1v2.2h-1v-4.7h-1v-2.5h-1v10.2h-1v49.6h-1v25.5h-1v1.3h-1v4.6h-1v.8h-1v3.4h-1v-7.4h-1v9.9h-1v4.4h-1v-5.1h-1v-3.8h-1v5.4h-1v1.3h-1v.5h-1v8.2h-1v-12.7h-1v-2.6h-1v-5.1h-1v4.1h-1v3.8h-1v-4.5h-1v2.5h-1v.3h-1v2.5h-1v-4.8h-1v12.6h-1v-14.5h-1v8.6h-1v-4.1h-1v7.4h-1v-8.4h-1v-2.8h-1v-1.1h-1v-2.2h-1v1.1h-1v-.4h-1h-1v3.4h-1h-1v-1.7h-1v-.7h-1v.4h-1v1.2h-1v-4.4h-1v10.2h-1v30.3h-1v30.5h-1v28.3h-1v18.3h-1v13.3h-1v6.1h-1v6h-1v11.9h-1v3.7h-1v-.3h-1v5.2h-1v-7.2h-1v-2.5h-1v3.5h-1v-4.4h-1v2.1h-1v-11.8h-1v-3.9h-1v-8.6h-1v-5h-1v-6.6h-1v-10.3h-1v-4.4h-1v12h-1v6.5h-1v8.1h-1v11.4h-1v15.7h-1v9.6h-1v10.2h-1v-12h-1v-.3h-1v-1.1h-1h-1v-8.8h-1v-1.5h-1v-7h-1v3.9h-1v-4.8h-1v1.2h-1v.9h-1v3.5h-1v2.3h-1v26.7h-1v19.7h-1v11.5h-1v-1.5h-1v1h-1v3.3h-1v-4h-1v3.1h-1v-11.1h-1v8.1h-1v-7.2h-1h-1v-.7h-1v1.5h-1h-1h-1v1.2h-1v4.8h-1v-7.7h-1v-3.7h-1v12.3h-1v-8.6h-1v7.7h-1v-6.5h-1v15.4h-1v-10h-1v11.6h-1v-18.2h-1v1.8h-1v.8h-1v-2.7h-1v2.6h-1h-1v1.6h-1v2.8h-1v-2.1h-1v-8h-1v1.6h-1v-.7h-1v3.6h-1v-3.1h-1v1.7h-1v-2.3h-1v3.8h-1v4h-1v1.7h-1v2.3h-1v-6.6h-1v3.5h-1v4.6h-1v1.5h-1v-3.6h-1v-5.3h-1v-1.2h-1v-.1h-1v4.5h-1v5.9h-1v-2.4h-1v-5h-1v10.6h-1v-7.4h-1v-2.3h-1v.9h-1v5.5h-1v-6.7h-1v6.7h-1v3.6h-1v-10.6h-1v-3.3h-1v13.7h-1v-16.2h-1v-1.6h-1v-1h-1v12.5h-1v-7h-1v-6.4h-1v4.1h-1v-1.6h-1v3.5h-1h-1v-2h-1v4.9h-1v-3.5h-1v-2.9h-1v9.4h-1v-6.2h-1v4.7h-1v7.2h-1v-2.3h-1v-6.7h-1v6.4h-1v-.8h-1v3.4h-1v-9.2h-1v4.2h-1v4.5h-1v-4.8h-1v-4.8h-1v2.5h-1v3.8h-1v-6h-1v5.1h-1v-.9h-1v3.9h-1v-3.1h-1v10h-1v1.8h-1v.5h-1v-1.5h-1v-3h-1v-4.7h-1v7.4h-1v-.8h-1v1.2h-1v-2.8h-1v8.7h-1v1.6h-1h-1v-6.8h-1v-.2h-1v9.2h-1v-4.3h-1v-4.9h-1v13.1h-1v-2.6h-1v-2.4h-1v4.2h-1v.5h-1v1.4h-1v-7.2h-1h-1v4.6h-1v-1.6h-1v7.4h-1v-.2h-1v-4.3h-1v2.2h-1v.5h-1v4h-1v-5.9h-1v3.4h-1v5.5h-1v.2h-1v-4h-1v1.9h-1v10.4h-1v-10.5h-1v7.4h-1v-2.6h-1v3.6h-1v3.9h-1v-1.6h-1v2.1h-1v1.1h-1v2.2h-1v7.3h-1v2h-1v1.4h-1v8h-1v-10.9h-1v8.4h-1v5.7h-1v-3.3h-1v6.2h-1v.2h-1v1.3h-1v9.6h-1v-2.5h-1v-1h-1v4.9h-1v2.1h-1v2h-1v2.7h-1v1h-1v1h-1z"/>
<path class="c" fill="#00a865" stroke="#00a865" d="M171.5 2448.3h1v-10.3h1v-21.6h1v-30.1h1v-30.6h1v-31.2h1v-25.1h1v-30.1h1v-28.7h1v-8.7h1v-8.8h1v-5.5h1v-6.6h1v1.4h1v-2h1v-1h1v-8.5h1v2.1h1v-3.1h1v1.8h1v-6.6h1v2h1v-3.7h1v1.7h1v1.5h1v2h1v-2.1h1v-.5h1v3.4h1v-10.6h1v1.4h1v5.9h1v-.9h1v-1.8h1v-5.8h1v-2.7h1v1.3h1v-7.2h1v9.7h1v7.9h1v-17.7h1v16.1h1v-7.7h1v-1.1h1v3.3h1v1.6h1v7h1v-11.6h1v12.9h1v-.3h1v-.6h1v-14.8h1v10h1v-18.8h1v19.8h1v-2.9h1v-2.6h1v-3.8h1v-1.5h1v-3.5h1v4.2h1v-.7h1v2.6h1v-6.9h1v7.6h1v-6.3h1v-1.1h1v-3.7h1v7.8h1v3.4h1v-1.5h1v.4h1v-.9h1v3.5h1v-2.8h1v1.4h1v-2.3h1v-1.7h1v6.5h1v-6.2h1v-5.4h1v3.5h1v2.2h1v6.8h1v-7h1v-.1h1v-6.4h1v-4h1v1.2h1v-.4h1v1.3h1v2.6h1v-5.9h1v2.5h1v1.3h1v-7.3h1v4.7h1v-5.8h1v7.1h1v7h1v-6.2h1v4.2h1v.3h1v-4h1v-1.5h1v3.7h1v.4h1v1.6h1v-11.3h1v6.6h1v-5.5h1v5.7h1v-5.4h1v4.9h1v3.8h1v-1.7h1v7h1v-7.2h1v-.8h1v1.8h1v6h1v2.1h1v-12.5h1v-3h1v3.1h1v-15.6h1v6.6h1v-3.9h1v2.8h1v8.8h1v-2.7h1v-5.7h1v9.8h1v-5.6h1v-3.9h1v.8h1v-1.2h1v-3.3h1v-2.7h1v2.6h1v-3h1v-17.1h1v13.7h1v1.2h1v-11.1h1v-.9h1v.4h1v-3.2h1v-1.5h1v4.4h1v-2.9h1v-7.5h1v5.2h1v4.9h1v-20.3h1v8.2h1v3h1v-2h1v-6.8h1v2h1v3.6h1v-4.1h1v-.4h1v-1.9h1v-7.6h1v1.6h1v4.5h1v-.9h1v-9.9h1v10h1v-9.6h1v-7h1v-1.1h1v-1.4h1v9.7h1v-7.1h1v-3.8h1v-3.5h1v-4h1v2.6h1v-5.6h1v8h1v.6h1v1h1v-8.1h1v-3.4h1v.1h1v-.9h1v8.5h1v-.4h1v3.4h1v-.2h1v-2.3h1v3.3h1v.9h1v-.1h1v-3.1h1v6.7h1v-7.9h1v-3.6h1v1.4h1v-13.4h1v11.3h1v3.6h1v-4.9h1v2.9h1v-5.9h1v2.7h1v1.7h1v-8.4h1v2.9h1v4h1v-7h1v.4h1v5.8h1v-11.2h1v13.9h1v-8.7h1v1h1v3h1v-14.8h1v1.5h1v-4h1v13.8h1v-4.3h1v3.6h1v-7.8h1v8.9h1v-2.5h1v-8h1v-.3h1v1.7h1v-8.3h1v.5h1v2.3h1v.5h1v-4.6h1v-.1h1v-10.1h1v-2.1h1v-7.6h1v9.5h1v-4.5h1v2.7h1v-1.3h1v.5h1v.6h1v-2.5h1v4.3h1v-13.2h1v-1.2h1v8.4h1v-5.9h1v1.3h1v-4.2h1v-12.4h1v9.1h1v5h1v-5.4h1v2.8h1v.2h1v-.7h1h1v2.4h1v-22.2h1v17.3h1v-1.2h1v-1.4h1v8.3h1v-5.3h1v3.8h1v-4.4h1v-8.1h1v5.9h1v-.2h1v8.2h1v1.2h1v-3.3h1h1v-.5h1v2.3h1v-7.3h1v8.9h1v-7.5h1v4.4h1v2h1v-1h1v-18.5h1v9.7h1v-5.8h1v5.4h1v-9.2h1v-4.9h1v15.5h1v-3.1h1v-7.9h1v-5.7h1v-2.4h1v.2h1v.4h1v4.9h1v-5.2h1v-5.3h1v-1.5h1v1.4h1v3.2h1v4.6h1v-3.2h1v.1h1v2.3h1h1v-2.7h1v-2.3h1v-3.1h1v-1.3h1v8.1h1v-3.6h1v-1.8h1h1v12.7h1v-2.8h1v6.4h1v.6h1v-7.1h1v5.8h1v-4.1h1v-3.8h1v11.6h1v-12.3h1v-.8h1v2h1v-4h1v1.1h1v7.2h1v1.3h1v1h1v-17.6h1v7.4h1v8.7h1v-2.5h1v-3.7h1v-7.1h1v-5.3h1v11.5h1v5.2h1v-1.6h1v-10.8h1v-1.9h1v10.7h1v-4h1h1v4.4h1v-3.9h1v-.7h1v15.9h1v2h1v-13.5h1v9.4h1v-4.3h1v-2.1h1v3.5h1v1.3h1v-3.3h1v2.5h1v7.3h1v-11h1v-11.9h1v-10.6h1v26h1v-12h1v-3.8h1v3h1v-4h1v-12.4h1v5.5h1v.7h1v.4h1v1.4h1v7.3h1v-8h1v.5h1v-2.3h1v.5h1v-7.9h1v-1.6h1v-7h1v16h1v4.1h1v-3.9h1v4.5h1v-8.9h1v-4h1v-1.2h1v-11.8h1v6.1h1v3.6h1v-3h1v-1.3h1v6.2h1v-2.9h1v4.8h1v-1.4h1v3.3h1v5.9h1v3.2h1v-9.7h1v2.3h1v-6.9h1v-3.2h1v1.1h1v5.2h1v-12.4h1v16h1v-5.4h1v-.9h1v4.6h1v-9.2h1v7.4h1v-2.6h1v2.2h1v-1h1v4h1v-8.3h1v-.2h1v-.5h1v10.6h1v.5h1v-5.3h1v.4h1v4.6h1v5.1h1v4.6h1v2.5h1v-5h1v3.4h1v-2.8h1v9.6h1v-8.2h1v11h1v-1.5h1v-6.2h1v-2.1h1v9.3h1v-5.9h1v-.2h1v5.9h1v-2h1v-9.7h1v10.9h1v2.5h1v-7.8h1v4.2h1v3.4h1v-4.8h1v8.8h1v3.6h1v-1.7h1v-3h1v7h1v.8h1v.3h1v-4.7h1v8.5h1v-5.2h1v7.7h1v-4.1h1v-8.9h1v4.1h1v5.6h1v-9.7h1v15.7h1v-2.3h1v8.9h1v-2.5h1v-8.5h1v6.7h1v-10.3h1v5.7h1h1v1.7h1v.4h1v-.4h1v.4h1v-2.4h1v.7h1v-4.7h1v6.1h1v-1.7h1h1v-2h1v6.5h1v1.9h1v2.8h1v7h1h1v-8.9h1v4h1v-.6h1v-.5h1v2.6h1v-2.3h1v-.1h1v-8.9h1v5.5h1v1.8h1v1.4h1v6.9h1v-5.4h1v-8h1v1.6h1v.5h1v12h1v-8.3h1v2.4h1v6.9h1v-3h1v4.2h1v-2.3h1v-7.1h1v7.4h1v10.6h1v-10.5h1v4.4h1v2.1h1v-1.6h1v5.9h1v-6.2h1v3.2h1v-4.5h1h1v-8.5h1v-3h1h1v-3.8h1v-5h1v6.3h1v3.8h1v-9.2h1v8.2h1v-4.1h1v-.7h1v-4.2h1v1.8h1v-13h1v11.1h1v-7.6h1v-6.9h1v-9.5h1v4.4h1v8.6h1v-6.7h1v5.4h1v-3.2h1v-2.2h1v-5.2h1v1.3h1v2.8h1v3.7h1v5.3h1v-10h1v1.8h1v-3.3h1v7.8h1v-5.4h1v-2.2h1v-.6h1v-20.1h1v26.1h1v-10.1h1v4.6h1v-4.9h1v5h1v-13.7h1v17h1v-16.5h1v9.4h1v-5h1v-1.5h1v6.2h1v-9.1h1v-1.7h1v7.6h1v-5.5h1v-4h1v7.7h1v-1.5h1v8.3h1v-2.5h1v-8.4h1v3h1v-4.8h1v2h1v-1.2h1v2.8h1v5.3h1v-1h1v-7.6h1v7.4h1v.8h1v-4.9h1v7.3h1v-1.5h1v-2h1v10.6h1v-8.6h1v2.9h1v-2.5h1h1v4.4h1v-5.9h1v-.3h1v-2.4h1v-5.3h1v.3h1v4.6h1v-1.5h1v-.8h1v-8.8h1v4.4h1v5.6h1v-10.7h1v6.6h1v3h1h1v5.6h1v-3.3h1v3.2h1v-12.7h1v-4.3h1v10.2h1v.1h1v8.4h1v2.7h1v-3.7h1v5.6h1v-18.2h1v20.5h1v-22.1h1v15h1v-6.6h1v5.6h1v.5h1v.5h1v-2.7h1v-2.8h1v12.2h1v-8.1h1v-1.8h1v-.3h1v12.2h1v-3h1v2h1v-2.8h1v-4.7h1v-18.7h1v13.1h1v-1.9h1v-2.4h1v3.2h1v3.1h1v2.7h1v-15.7h1v17.6h1v-3.3h1v.2h1v4.1h1v-4.6h1h1v-8.3h1v.4h1v5.6h1v-4.6h1v-3.7h1v6.3h1v-4.4h1v3.7h1v-6.2h1v-17.2h1v17.7h1v.9h1v1.9h1v1.2h1v-5.7h1v6.8h1v-10.7h1v7.3h1v-2.7h1v-4.8h1v-4.1h1v11.3h1v-3.8h1v.6h1v-6.1h1v5.6h1v4.5h1v-1.7h1v9.4h1v-14.1h1v12.3h1v-5.6h1v-7.6h1v7.1h1v1.9h1v-1.8h1v-2.5h1v6.4h1v-9.2h1v7.9h1v-1.3h1v5.5h1v-4.8h1v-2.3h1v12.1h1v8.4h1v-12.5h1v-3.5h1v16.4h1v-20h1v9.6h1v-8.2h1v9h1v1.5h1v-12h1v10.7h1v8.7h1v-2.4h1v-7.4h1v3.2h1v-7.6h1v1.3h1v-1.2h1v1.8h1v.6h1v.2h1v1.3h1v14.3h1v-5.6h1v4.3h1v-5.4h1v.6h1v.6h1v-11h1v8.7h1v-.3h1v.4h1v-6.3h1v-2.9h1v3h1v4.5h1v-.3h1v-.5h1v-1.8h1v-5.7h1v-9.4h1v15.2h1v-8.8h1v6.8h1v.9h1v-4.6h1v-6.1h1v4.5h1v3.8h1v2.3h1v-8.3h1v1.7h1v4.6h1v-2.8h1v5.5h1v1.8h1v8h1v-14.3h1v6.6h1v-6h1v-.5h1v-2.8h1v10.3h1v-4h1v2.9h1v-4.1h1v.6h1v4.2h1v-.2h1v4.7h1v-3.2h1v-9.8h1v-5.5h1v10.1h1v5.9h1v-14.6h1v14.1h1h1h1v-1.2h1v-4.5h1h1v8.7h1v.5h1v-.9h1v2.7h1v-4.5h1v-4.6h1v10.1h1v-3.7h1v7.5h1v-3.5h1v.3h1v-5.1h1v-2.2h1v3.3h1v-7.9h1v2.4h1v1.4h1v-4.9h1v7.2h1v-1h1v-.3h1v.2h1v-1.4h1v-10.5h1v-5.3h1v13.7h1v4.6h1v1.1h1v-9.2h1v.2h1v-6.5h1v5.7h1v-1.6h1v7.4h1v7.4h1v-9.3h1v11.3h1v-9.2h1v.2h1v-.2h1v4.1h1v-7.9h1v3.2h1v3.6h1v.2h1v2h1v-.9h1v5.1h1v-17.1h1v20.1h1v2.3h1v.5h1v-4.5h1v-3.7h1v1h1v.3h1v10h1v-5.9h1v9.8h1v-1.7h1v.2h1v-.9h1v.3h1v-2.7h1v-7.9h1v5.6h1v1h1v3h1v-15.7h1v10.6h1v-2.8h1v-3.1h1v9.3h1v-1.1h1v.9h1v-3.6h1v-1.8h1v10.6h1v.8h1v-.5h1v-.6h1v-.4h1v-3.7h1v6.7h1v-1h1v-1.9h1v1.3h1v-2.9h1v2.2h1v6.4h1v-5.5h1v3.9h1v-4.1h1v-9.2h1v5.9h1v-3.9h1v5.1h1v-3.6h1v4.7h1v-16.8h1v14.2h1v-6.3h1v4.7h1v-2.8h1v5.4h1v-11.8h1v12.9h1v-1.6h1v-11.4h1v9.4h1h1v-3.9h1v4.3h1v-4.2h1v8.9h1v-.3h1v1.3h1v-10.8h1v1.7h1v.7h1v4.8h1v-10.1h1v8.3h1v2.8h1v-11.1h1v10.3h1v5.2h1v-.6h1v-3.8h1v-13.5h1v3.2h1v9.9h1v-1.2h1v-2.1h1v35.9h-1v2.2h-1v-3.4h-1v-1.7h-1v15.5h-1v-6.3h-1v-6.2h-1v4.3h-1v-2.8h-1v2.9h-1v-8.1h-1v4.6h-1v1.5h-1v-7.1h-1v4.7h-1v-.3h-1v9.4h-1v-7.2h-1v.3h-1v-1.1h-1v3.9h-1v-1.6h-1v-9.2h-1v11.2h-1v-1.5h-1v-1.9h-1v-2.3h-1v-3h-1v-2.8h-1v13h-1v-2.8h-1v-7h-1v6.8h-1v-6.8h-1v5.5h-1v4.3h-1v-6.1h-1v4.9h-1v-9.3h-1v7.7h-1v-.6h-1v-1.1h-1v-1.3h-1v4.8h-1v1.2h-1v9.5h-1v-12.2h-1v4.1h-1v4h-1v-11.6h-1v6.5h-1v-3.8h-1v-2.5h-1v-.2h-1v4.2h-1v-.8h-1v2.9h-1v-14.8h-1v-2.4h-1v10.7h-1v-2.4h-1v-1.4h-1v-.6h-1v-3.6h-1v3.1h-1v8.9h-1v-9.5h-1v7.6h-1v-10.4h-1v1.5h-1v3.9h-1v-2.4h-1v4.4h-1v4.1h-1v.4h-1v-10.9h-1v-1.2h-1v-2.9h-1v6.8h-1v-7.9h-1v1.7h-1v3.8h-1v-3.1h-1v-4.4h-1v.9h-1v3.6h-1v1.5h-1v-3h-1v-3.1h-1v-8.3h-1v12.1h-1v-15.5h-1v10.8h-1v2.8h-1v-8.1h-1v4.6h-1v6.7h-1v-7.4h-1v-4.6h-1v-.4h-1v.5h-1v2.9h-1v-.9h-1v.2h-1v-7.9h-1v2.7h-1v2.7h-1v1.8h-1v-.2h-1v-4.2h-1v-5.1h-1v13.6h-1v-1.4h-1v2.5h-1v-6.7h-1v-2.1h-1v4.6h-1v-5.2h-1v-.7h-1v-2h-1v8.9h-1v-2.5h-1v1h-1v4.4h-1v-1.3h-1v5.8h-1v-4.9h-1v-3h-1v-1.3h-1v11.1h-1v2h-1v-10.7h-1h-1v1h-1v-5.2h-1v-2.3h-1v1.3h-1v-2.8h-1v10.6h-1v-5.8h-1v6.5h-1v-12.7h-1v8.3h-1v-8h-1v-5.5h-1v-1.4h-1v8.7h-1v6.8h-1v-6.3h-1v-3.5h-1v5h-1v-4.2h-1v8.9h-1v-2.3h-1v1.6h-1v-9.6h-1v5.6h-1v-3.4h-1v8.4h-1v.7h-1v-6.8h-1v-1.4h-1v4.4h-1v-7.8h-1v.4h-1v4.5h-1v.4h-1v-4.9h-1v-7.2h-1v11.4h-1v-2.7h-1v8h-1v-7.5h-1v.7h-1v-.8h-1v-8h-1v7.6h-1v1.4h-1v3.1h-1v-2.6h-1v8.1h-1v-2.6h-1v-.2h-1v-2h-1v-4h-1v4.8h-1v-2.4h-1v-2.9h-1v7.5h-1v8.3h-1v-6.4h-1v10.6h-1v-9.5h-1v.2h-1v-4.9h-1v2.5h-1v3.5h-1v-1.9h-1v-7.7h-1v-6h-1v14.4h-1v-11.7h-1v3.3h-1v.6h-1v2.9h-1v1.7h-1v-.6h-1v-4.2h-1v-.8h-1v-2.8h-1v10.9h-1v.4h-1v-9.2h-1v-3.1h-1v7.8h-1v-7.6h-1v12.8h-1v-9.7h-1v-.7h-1v-3h-1v-8.2h-1v6.1h-1v-8.6h-1v2.9h-1v-3h-1v5.8h-1v-5.7h-1v1.3h-1v-3.7h-1v6.4h-1v4.3h-1v-1.4h-1v4.7h-1v7.8h-1v-14.8h-1v-5.1h-1v-3.6h-1v-.7h-1v11.9h-1v-8.8h-1v1.1h-1v-3.7h-1v6.1h-1v4.3h-1v-6.8h-1v4.8h-1v5h-1v-2h-1v-5.1h-1v-2.4h-1v-.2h-1v4.2h-1v1.4h-1v-.4h-1v-5.3h-1v8h-1v-.7h-1v2.4h-1v15.4h-1v-15.6h-1v6h-1v1.7h-1v-.7h-1v-2h-1v11h-1v-9.5h-1v1.1h-1v-7h-1v11.6h-1v-9.5h-1v.1h-1v-2.6h-1v10.5h-1v-7.2h-1v-7.3h-1v13.2h-1v4h-1v-.3h-1v-7h-1v5.3h-1v-6.1h-1v-1.8h-1v9.6h-1v-4.9h-1v-6.8h-1v3.3h-1v2.5h-1v3.2h-1v-8.4h-1v7.4h-1v5h-1v-10.3h-1v4.5h-1v.3h-1v-3.2h-1v1.6h-1v7.2h-1v-7.7h-1v-4.7h-1v-4h-1v-.8h-1v1.8h-1v2.6h-1v-1.7h-1v.1h-1v-8.1h-1v6.8h-1v5.7h-1v-.1h-1v-9h-1v8.4h-1v-2.9h-1v10.9h-1v-15.7h-1v4.2h-1v4.2h-1v-7.7h-1v5.9h-1v-4.9h-1v9.6h-1v-1.4h-1h-1v5.4h-1v-12.4h-1v8.4h-1v.9h-1v-2.1h-1v-9.3h-1v8.3h-1v-2.6h-1v4.7h-1v-.8h-1v-.7h-1v-5.4h-1v-5.6h-1v6h-1v-4.2h-1v3.7h-1v3.2h-1v-3.7h-1v-2.3h-1v4.6h-1v4.3h-1v1.1h-1v-9.8h-1v2.1h-1v-4.1h-1v5.6h-1v-5.9h-1v-.4h-1v6.3h-1v-.6h-1v-.6h-1v5.5h-1v-2.8h-1v5.4h-1v-5.3h-1v7.5h-1v4.5h-1v-7.9h-1h-1v5h-1v-.2h-1v.4h-1v-3.3h-1v1.7h-1v18.6h-1v-17.8h-1v4.3h-1v-5.3h-1h-1v5h-1v-9.1h-1v12.8h-1v-5h-1v2h-1v-1.3h-1v-2.3h-1v11.2h-1v.4h-1v-8.9h-1v10.9h-1v-9h-1v5.1h-1v-1.2h-1v10.4h-1v-1.1h-1v-3.1h-1v21.5h-1v-9.8h-1v-2.2h-1v-2.1h-1v11h-1v-3.3h-1v-3.2h-1v-6.7h-1v7.8h-1v4.7h-1v3.6h-1v.7h-1v2.1h-1v.1h-1v3.2h-1v-.8h-1v5h-1v-8.5h-1v13.6h-1v-16h-1v8.6h-1v-4.5h-1v-5.9h-1v2h-1v13.2h-1v-20.8h-1v6.3h-1v.3h-1v-3.1h-1v-1.3h-1v2.5h-1v-3.7h-1v-3.2h-1v-4.7h-1v11h-1v-.6h-1v-4.6h-1v-8.1h-1v11.1h-1v-3.3h-1v3.3h-1v-6.3h-1v8.6h-1v2h-1v2.3h-1v-9.2h-1v6h-1v-.8h-1v-.5h-1v-8.4h-1v3h-1v-6h-1v4.7h-1v-1.5h-1v1h-1v-4.6h-1v2.3h-1v-.1h-1v-7.8h-1v9.3h-1v.5h-1v4.3h-1v-7.6h-1v7.9h-1v-15.9h-1v.6h-1v2.7h-1v4.1h-1v-3.6h-1v9.5h-1v-14.2h-1v7.3h-1v-.8h-1v-8.5h-1v15.8h-1v-15.2h-1v2h-1v2.7h-1v-.9h-1v-2h-1v-1.2h-1v3.8h-1v-.3h-1v-4.5h-1v-7.9h-1v2.5h-1v6.9h-1v-9.2h-1v-1.2h-1v-8.5h-1v12.7h-1v-4.2h-1h-1v-6.5h-1v3.8h-1v-3.9h-1v-2h-1v8.2h-1v-4.9h-1v-1.2h-1v1.5h-1v1.5h-1v-1.8h-1v-1.1h-1v1.3h-1h-1v-7.1h-1v-2.7h-1v-1.1h-1v-.1h-1v-6h-1v5.3h-1v-4.7h-1v-9.1h-1v8.3h-1v-4h-1v2.5h-1v.9h-1v3.2h-1h-1v-7.9h-1v5.5h-1v-3.8h-1v3.4h-1v-5.4h-1v-4.5h-1v4.5h-1v1.6h-1v-2.5h-1v12.2h-1v-8.7h-1v-3.7h-1v3.7h-1v-4.2h-1v4.9h-1v2.8h-1v9.6h-1v-10.4h-1v-1.4h-1v-4h-1v-4.9h-1v11.2h-1v-10.7h-1v2.7h-1v4.6h-1v-3.5h-1v-1.4h-1v1.3h-1v.3h-1v8.7h-1v-.8h-1v-3.5h-1v-.8h-1v.1h-1v6.1h-1v3.2h-1v-13.5h-1v5.3h-1v4.7h-1v9.4h-1v-12.1h-1v3.7h-1v6.8h-1v-.3h-1v.1h-1v-9h-1v-1.6h-1v7.1h-1v1.1h-1v5.4h-1v.5h-1v-1.5h-1v6h-1v3.3h-1v3.6h-1v6.3h-1v2h-1v-1.7h-1v-8.3h-1v2.2h-1v-5.4h-1v11.2h-1v-.1h-1v-2.5h-1v4.9h-1v1.1h-1v-1.7h-1v-12.1h-1v-5.4h-1v7.1h-1v-10.1h-1v3.9h-1v5.6h-1h-1v-2.7h-1h-1v10.2h-1v-11.6h-1v5.4h-1v-1.7h-1v1.7h-1v6.9h-1v-14.2h-1v1h-1v14.3h-1v-5.7h-1v10.7h-1v-6.8h-1v-4.5h-1v-7.4h-1v4.7h-1v8.2h-1v-8.4h-1v10.6h-1v-9.1h-1v.8h-1v4.2h-1v6.8h-1v-16.3h-1v6.3h-1v1.6h-1v-9.4h-1v-2.2h-1v-6h-1v4.6h-1h-1v-6.5h-1v3.5h-1v6.1h-1v-1.1h-1v.7h-1v-1.5h-1v2.2h-1v-1.2h-1v-1.3h-1v5.2h-1v-10.1h-1v-1.2h-1v8.5h-1v.8h-1v2.4h-1v-4.1h-1v.8h-1v6.1h-1v-6.8h-1v9.4h-1v12h-1v-8.4h-1v-.4h-1v3h-1h-1v-.4h-1v1.8h-1v3.1h-1v-.2h-1v2.9h-1v5.4h-1v-9.6h-1v14.5h-1v-7.9h-1v12.5h-1v-18.2h-1v10.5h-1v-10.2h-1v1.3h-1v-2.9h-1v5.9h-1v-3.7h-1v-3.2h-1v19.5h-1v-12.2h-1v2.8h-1v-1h-1v-.3h-1h-1v1.4h-1v4.3h-1v-7.4h-1v8.1h-1v-10.9h-1v2.7h-1v2.8h-1v3.3h-1v-7.3h-1v3.8h-1v-6.1h-1v-1.7h-1v1.5h-1v9.2h-1v4.1h-1v-.4h-1v-2.6h-1v9.9h-1v-3.9h-1v-2.6h-1v12.5h-1v3.2h-1v-4.2h-1v-3h-1v-3.9h-1v-1.5h-1v3.3h-1v-1.3h-1v15.7h-1h-1v-10.8h-1v10.2h-1v2.9h-1v-.1h-1v-2.6h-1v9.6h-1v-4.2h-1v9h-1v-3.1h-1v2.8h-1v-4.5h-1v4.6h-1v-5.9h-1v-.7h-1v5.5h-1v5.7h-1v-8h-1v2.2h-1v3.5h-1v9h-1h-1v-7.3h-1v-6.6h-1v.5h-1v6h-1v7.3h-1v-4.4h-1v4.9h-1v-4.4h-1v.6h-1v-2.9h-1v9.8h-1v-2.9h-1v1.5h-1v4.7h-1v-4.8h-1v-4h-1v11.1h-1v-3.1h-1v-4.7h-1v7h-1v-6h-1v-.3h-1v4.9h-1v-6h-1v2.2h-1v-4.9h-1v5h-1h-1v1.1h-1v-3.4h-1v1.2h-1v2.1h-1v7.1h-1v-6h-1h-1v.6h-1v1.8h-1v-6.1h-1v-2.9h-1v10.6h-1v5.3h-1v6.3h-1v-6.6h-1v-.9h-1v6.9h-1v11.4h-1v-9.3h-1v-.1h-1v3.2h-1v.1h-1v-4.9h-1v2.4h-1v5.7h-1v-2.1h-1v7.6h-1v-3h-1v2.9h-1v.8h-1v-3.6h-1v15.3h-1v-.6h-1v-4.7h-1v.7h-1v-2.9h-1v3.2h-1v15.2h-1v-10.8h-1v7.1h-1v-4.8h-1v10.2h-1v-6.7h-1v8.3h-1v.9h-1v-7.5h-1v3.9h-1v-.7h-1v3h-1v4.4h-1v-1.6h-1v-2.8h-1v17.9h-1v-2h-1v.7h-1v-3.9h-1v1.8h-1v3h-1v.2h-1v-9.9h-1v17.7h-1h-1v3.1h-1v-2.8h-1v-7.5h-1v7.4h-1v-.6h-1v-4.9h-1v7h-1v-1h-1v10.4h-1v-14.4h-1v-.7h-1v.4h-1v-1.7h-1v6.6h-1v-3.2h-1v.7h-1v-1.2h-1v-3.2h-1v2.1h-1v.8h-1v-9.9h-1v14.1h-1v-8h-1v.2h-1v5.6h-1v-.1h-1v-4.6h-1v-3.1h-1v-5.1h-1v4.2h-1v8h-1v3.3h-1v-5.5h-1v-4.1h-1v4.3h-1v-1.9h-1v6.5h-1v-9.8h-1v2.4h-1v13.6h-1v-10.4h-1v17.3h-1v-9.5h-1v-3.7h-1v8.4h-1v.4h-1v8.8h-1v-8.9h-1v5h-1v-11.4h-1v2.1h-1v1.8h-1v-10.4h-1v15.1h-1v-11.6h-1v11.5h-1v-10.7h-1v-2.2h-1v2.8h-1v-.2h-1v3.4h-1v-8.2h-1v17.4h-1v-12.2h-1v-4.5h-1v1.2h-1v5h-1v4.5h-1v2.2h-1v-3h-1v-.6h-1v4.3h-1v-.9h-1v5.9h-1v-2.1h-1v9.6h-1v-10.5h-1v2h-1v4.5h-1v-9.8h-1v1.5h-1v1.7h-1v-1.7h-1v3.5h-1v-6.8h-1v-.1h-1v-5.5h-1v1.6h-1v1h-1v-2h-1v10.8h-1v-6.2h-1v14.5h-1v-11.6h-1v2.6h-1v-5.3h-1v13.4h-1v-10.5h-1v.2h-1v-3.1h-1v5.4h-1v-.9h-1v1.2h-1v5.2h-1v-9.8h-1v-.2h-1v1.2h-1v1.5h-1v5.4h-1v-.7h-1v-3.6h-1v5.3h-1v-7.3h-1v5.9h-1v6.5h-1v5.2h-1v26.7h-1v30.6h-1v24.6h-1v31.2h-1v31.1h-1v30.9h-1v21.1h-1v12.8h-1v.8h-1z"/>
<path class="c" fill="#c870e2" stroke="#c870e2" d="M171.5 2457.1h1v-3.1h1v-7.4h1v-5h1v-8.4h1v-7.7h1v-8.4h1v-5.2h1v-3.3h1v-9.6h1v-9.5h1v-4.8h1v-8.4h1v-9.5h1v-2.1h1v-10h1v-6.2h1v-4.4h1v-1.9h1v-11h1v-11.4h1v8.9h1v4h1v-1.5h1v-6.1h1v1h1v11.8h1v-14.7h1v3.3h1v-10.3h1v.2h1v-7.1h1v6h1v-5.7h1v-8.6h1v5.9h1v-1.1h1v10.5h1v-.5h1v-4.6h1v1.9h1v-10.6h1v7.6h1v-6.6h1v8.6h1v-25.8h1v33.8h1v6.9h1v.8h1v2.9h1v-4.9h1v8.6h1v.7h1v3.3h1v.1h1v-3h1v-7.6h1v-5.9h1v7.9h1v5.8h1v-4.4h1v-3.9h1v5h1v-6.5h1v-7.8h1v3.5h1v-3.6h1v-8.4h1v8.5h1v-4.8h1v4.8h1v-5.8h1v5.1h1v9.5h1v-11.5h1v8.7h1v-3.4h1v-16.3h1v-2.4h1v3.5h1v8.6h1v2.4h1v-7.4h1v.5h1v4.5h1v-5.9h1v7.5h1v-8.4h1v-16.2h1v7.7h1v3.7h1v4.6h1v-1.4h1v.8h1v-.7h1v-.7h1v6.2h1v-2.5h1v3.9h1v-12.9h1v-38.6h1v-38.2h1v-36.1h1v-34.9h1v-24.4h1v-20.3h1v-23.4h1v-15.3h1v-7.2h1v-3.8h1v-2.7h1v-.7h1v-4.9h1v-7.1h1v3.3h1v-2h1v3.4h1v4.7h1v-.5h1v-13.3h1h1v10.8h1v-10.4h1v.9h1v6.4h1v-.4h1v-3.6h1v8.8h1v-9.2h1v11.3h1v-24.1h1v1.1h1v16.8h1v-2.9h1v-7.9h1v13.3h1v-5.2h1v-12.3h1v16.2h1v-16.5h1v1h1v-3.7h1v11.8h1h1v9.7h1v-6.3h1v-1.3h1v10.6h1v-16.1h1v-2.9h1v7h1v-7.3h1v10.6h1v4h1v.9h1v2.8h1v4.5h1v-12.6h1v3.6h1v-6.4h1v5.5h1v-1h1v9h1v-5.7h1v-7.5h1v15.2h1v3.2h1v.5h1v.9h1v-15.9h1v-16.4h1v15.8h1v-9.5h1v8.4h1v8.1h1v-7.1h1v10.4h1v2.4h1v-6.7h1v-1.7h1v-10.7h1v-2h1v5.9h1v-3.1h1v9.1h1v-5.7h1v9h1v-8.3h1v2.3h1v3.7h1v-.9h1v2.2h1v-1.7h1v-5.8h1v7h1v-1.5h1v-3.3h1v-9.7h1v-.8h1v10.2h1v-8.4h1v-3.1h1v-1.9h1v4.1h1v3.1h1v-8.6h1v4.9h1v5.4h1v-10.3h1v2.6h1v3h1v-8.2h1v-2.5h1v-5.1h1v.7h1v20.7h1v-7.5h1v.6h1v-3.7h1v5.5h1v-9.1h1v-.8h1v-4.9h1h1v-.4h1v6.1h1v-9.2h1v2.3h1v-5.3h1v-3.2h1v3.4h1v5h1v.6h1v-8.4h1h1v-6.5h1v-3.2h1v-7.5h1v16.3h1v-8.2h1v.8h1v-6.2h1v15.2h1v-7.2h1v-4.1h1h1v14h1v10.9h1v-3.7h1v.1h1v4.2h1v-11.5h1v-24.6h1v-23.9h1v-9.5h1v8.8h1v12h1v13.7h1v7.6h1v6.9h1v2h1v2.1h1v-15.1h1v-4.8h1v-19h1v-29.7h1v-32.6h1v-28h1v-20.9h1v-18.6h1v-19.3h1v-17.5h1v-17.1h1v-6h1v-12.3h1v-8.2h1v4.2h1v-7.2h1v-13h1h1v-3h1v-11.4h1v12.1h1v3.7h1v14h1v-.2h1v-11.4h1v-15.4h1v-6.4h1v-8.4h1v-18.1h1v-.1h1v-9.7h1v11.9h1v-.7h1v.1h1v8.2h1v-1.5h1v.7h1v2.8h1v18.8h1v-5.9h1v11.2h1v11.8h1v-3h1v15h1v2.5h1v-10h1v7h1v6.6h1v-11.8h1v2.9h1v-.2h1v2.6h1v9.1h1v-21.3h1v6.6h1v12.5h1v-16.5h1v9.3h1v-4.7h1v-7h1v6.1h1v6.4h1v4.6h1v-7.9h1v8.1h1v-8.8h1v7.8h1v-5.1h1v.6h1v8.3h1v-.2h1v-7.1h1v7.1h1v11.8h1v-12.8h1v3.2h1v4.2h1v2.5h1v-3.6h1v-4.5h1v-2.7h1v5.7h1v.8h1v-4.6h1v14.1h1v-1.2h1v-3.4h1v-4.9h1v7.7h1v-5h1v-9.7h1v15.3h1v9.1h1v-22.3h1v5.5h1v-5.2h1v9.2h1v-8.9h1v-5.9h1v13.2h1v5.3h1v-3.1h1v1.3h1v8.9h1v.2h1v-6.2h1v-3.1h1v8h1v3h1v3.5h1v-12.3h1v.7h1v3.7h1v-16.1h1v21.4h1v-13h1v9.2h1v-16.5h1v10h1v3.2h1v2.7h1v-11.5h1v10.1h1v-1.1h1v-16.1h1v6.3h1v2.4h1v.7h1v-1.8h1v-1.4h1v-2.3h1v2.8h1v6h1v7.8h1v-8.7h1v-3.4h1v4.2h1v10.5h1v-11h1v14h1v-1.8h1v-2.8h1v.8h1v-4.5h1v-3.2h1v-5.7h1v7.3h1v2.6h1v-3.7h1v7.9h1v5.2h1v1.6h1v-9.9h1v.1h1v-6.2h1v11.3h1v-.7h1v.4h1v-3.6h1v5.6h1v.5h1v-12.8h1v24.1h1v1.9h1v1.8h1v-.2h1v-1.3h1v-.1h1v-4.3h1v4.2h1v-8.4h1v-1.3h1v2.3h1v-4.9h1v-2.3h1v7.8h1v-3.9h1v-3.9h1v-.7h1v-17.4h1v6.6h1v5.9h1v-13.9h1h1v3.5h1v-.6h1v5.7h1v-7.1h1v16.1h1v-11.4h1v-5.1h1v.6h1v15.4h1v-.9h1v-1.3h1v-5h1v-14.1h1v-.5h1v12.7h1v-7.3h1v3h1v-17.3h1v25.6h1v-8.9h1v-13.2h1v6.1h1v14.2h1v-11.4h1v-2.9h1v.9h1v-.9h1v.3h1v1.6h1v-13.9h1v9h1v5.5h1v1.7h1v-20.5h1v10.2h1v-10.6h1v13.2h1v-.7h1v-3.8h1v13.7h1v-4.8h1v-7.7h1v1.7h1v3h1v14.1h1v-4.8h1v1.8h1v2h1v-12.1h1v3h1v11.3h1v-3.2h1v-7.3h1v.1h1v.8h1v6.5h1v-6.5h1v7.6h1v-13.1h1v10.1h1v5.5h1v4.8h1v-4.4h1v1h1v4.9h1v-4.5h1v3.1h1v1h1v2.5h1v.5h1v2.2h1v-8.5h1v21.5h1v-16h1v5.1h1v8.8h1v-12.7h1v9.3h1v-9h1v2.6h1v-8.7h1v2.9h1v-1.5h1v8.1h1v6.8h1v-5h1v-11.4h1v-1.1h1v7.5h1v-3h1v-2.5h1v-2.9h1v15.1h1v-33.2h1v19.2h1v.4h1v.5h1v-3.3h1v-2.5h1v1.8h1v11.8h1v-8.8h1h1v9.9h1v-4.3h1h1v-1h1v4.4h1v-16.9h1v11.3h1v3.6h1v3.3h1v-2.1h1v-11.1h1v19.9h1v1h1v4.1h1v-7.5h1v-7.3h1v12.9h1v-1.9h1v1.4h1v-16.3h1v18.4h1v8h1v-15.6h1v4.1h1v5h1v8.5h1v-2.7h1v.2h1v-3.7h1v.3h1v-7.7h1v5.9h1v1.9h1v-1.4h1v-.9h1v-1.9h1v8.6h1v-7h1v-4.2h1v.8h1v-6.1h1v14.6h1v-12.2h1v10.1h1v3h1v-19.8h1v12.8h1v3.2h1v-8.8h1v6.1h1v2.3h1v-5.2h1v-8.3h1v-1.5h1v18.2h1v3.2h1v-.3h1v-4.6h1v2.2h1v-8.3h1v-7.2h1v15.1h1v4h1v-7.8h1v7.6h1v-3.8h1v-1.9h1v-1.1h1v4.7h1v13.3h1v-9.1h1v-8.5h1v1.6h1v-2h1v.9h1v2.3h1v-9.1h1v5.6h1v-11.2h1v2h1v-7.4h1v12.2h1v-3.2h1v-3.7h1v-20.7h1v10.3h1v1.7h1v6.1h1v-10.5h1v4.6h1v-2.4h1v-2.2h1v-1.3h1v10.2h1v-5.5h1v1.6h1v6.3h1v6.3h1v-2.3h1v-3.3h1v5.3h1v-4.3h1v8.5h1v-16h1v18.2h1v-8.4h1v6.2h1v-6.6h1v-5h1v4.8h1v-4.5h1v-1.9h1v-1.1h1v14h1v-13h1v2.3h1v-9.5h1v1.1h1v4.6h1v1.3h1v-4.4h1v2.8h1v-4.2h1v-12.6h1v4.4h1v9.7h1v-1.1h1v-6.8h1v3.2h1v3h1v-3.6h1v5.6h1v1.9h1v5.9h1v-2.9h1v7.5h1v-1.8h1h1v5.5h1v.1h1v-6h1v.4h1v-6.7h1v9.5h1v3.5h1v-15.3h1v.3h1h1v10.6h1v-.2h1v-14h1v13.4h1v.8h1v-3.5h1v10.4h1v-1.9h1v10.9h1v-14.2h1v7.5h1v-10.5h1v5.1h1v-1.3h1v1.1h1v-6.6h1h1v7.8h1v-1.7h1v5.9h1v-14.5h1v7.9h1v9.9h1v-11.7h1v-.2h1v3.9h1v9h1v-8.6h1v-9.5h1v-4.3h1v-1.6h1v9.1h1v-.5h1v-7.4h1v14.2h1v2.3h1v-1.1h1v-10.7h1v1.9h1v3.3h1v-3.4h1v12.1h1v-8.4h1v6.3h1v-9.6h1v.9h1v-4.5h1v-.4h1v-6.5h1v.7h1v5.4h1v-7.3h1v.8h1v2.2h1v1.8h1v-.4h1v5.3h1v-26.6h1v24.9h1v-1h1v4.5h1v-11.6h1v4.4h1v-13.5h1v9h1h1v-4.9h1v-3.6h1v5.9h1v-1.7h1v-9.7h1v9.3h1v-.3h1v-2.9h1v15.1h1v-3.1h1v7.6h1v-7.9h1v-.5h1v-1.7h1v2.3h1v6h1v5.8h1v-4.6h1v9.3h1v-9h1v4.2h1v-7.2h1v3.7h1v-8.3h1v1.5h1v-3.4h1v-3.2h1v-.4h1v-3.3h1v-1.2h1v-3.8h1v4.9h1v-11.8h1v13.3h1v4.7h1v-10.7h1v3.5h1v6.2h1v-6.7h1v15.2h1v.5h1v-13h1v7.8h1v-.8h1v-3.6h1v-16.3h1v3.4h1v9.6h1v3.9h1v-7h1v1.7h1v-2h1v11.7h1v-10.5h1v-5.6h1v-5.5h1v12.8h1v-3.7h1v15.9h1v-6.6h1v-5.2h1v-7.6h1v10.2h1v-17.7h1v3.4h1v7.9h1v-1h1v-9.3h1v5.8h1v-15.1h1v16.7h1v-5.9h1v-2.5h1v-3h1v.5h1v1.3h1v6h1v-16.5h1v11.9h1v-5h1v-1.5h1v8.6h1v-2h1v-3.5h1v7.3h1v5.4h1v1.7h1v-9.5h1v3.1h1v-9.9h1v16.4h1v2.5h1v7.5h1v2.7h1v-4.7h1v5.4h1v8h1v-8.8h1v4.1h1v1.4h1v4.7h1v-4.2h1v7.7h1v-11.6h1v-6.4h1v9.2h1v-.2h1v.5h1v-12.9h1v-.7h1v6h1v-8.8h1v-11.4h1v12.3h1v-3.2h1v-2h1v8h1v-5.1h1v-13.3h1v15.4h1v-7.7h1v.6h1v.8h1v-12.9h1v12.7h1v-1.8h1v-1h1v.6h1v-.6h1v2.1h1v.5h1v-1.5h1v-12.4h1v3.8h1v-.2h1h1v9.2h1v4.2h1v-7h1v4.8h1v2.6h1v-6.5h1v3.1h1v-15.5h1v3.9h1v6.4h1v-.8h1v-16.7h1v14.9h1v-3.2h1v-6.7h1v6h1v.3h1v8.1h1v-9.8h1v1.2h1v4.7h1v.6h1v1.4h1v-1.9h1v2.6h1v-2.5h1v8.4h1v-.6h1v13.2h1v-5.4h1v36.6h-1v1.9h-1v.9h-1v4.5h-1v-14.6h-1v-5h-1v11.7h-1v-13.1h-1v-.7h-1v-3.7h-1v7.1h-1v-.9h-1v1.7h-1v-2.2h-1v2.2h-1v1.2h-1v1.1h-1v1.6h-1v5.9h-1v-13.2h-1v-1.5h-1v4h-1v5.5h-1v-8h-1v.8h-1v10.3h-1v-3.3h-1v3.1h-1v-7.8h-1v.9h-1v-.9h-1v-4.7h-1v4h-1v-6.1h-1v2.1h-1v11h-1v8.4h-1v-2.8h-1v-3.1h-1v5h-1v-8.2h-1v-1.6h-1v-4.7h-1v.1h-1v4.6h-1v6.8h-1v-3.6h-1v-2.4h-1v8.4h-1v-.6h-1v-2.5h-1v-4.1h-1v12.3h-1v-9.3h-1v8.2h-1v7.2h-1v-8.4h-1v-1.7h-1v10.4h-1v-2.7h-1v21.4h-1v-8.7h-1v-7h-1v4.5h-1v11.2h-1v4.9h-1h-1v-13.1h-1v-8.3h-1v3.7h-1v11.6h-1v-14.8h-1v-8.1h-1v.6h-1v-7.1h-1v3.3h-1v1.1h-1v-5.2h-1v-6.7h-1v3.5h-1v15.6h-1v-30.2h-1v18.5h-1v-12.7h-1v-3.2h-1v-1.3h-1v2.2h-1v21h-1v-16.2h-1v5.3h-1v-2.1h-1v.7h-1v7.8h-1v1h-1v-6.1h-1v5.2h-1v-14.6h-1v7.2h-1v-6.5h-1v9.8h-1h-1v-6.8h-1v9.2h-1v-.4h-1v7h-1v1.7h-1v-1.3h-1h-1v-1.9h-1v-.1h-1v-12.8h-1v8.5h-1v8.4h-1v-4.4h-1v-3.3h-1v13.8h-1v-17.6h-1v9.5h-1v-10.8h-1v7.9h-1v-.7h-1v3.5h-1v-.5h-1v7.2h-1v-.7h-1v11.9h-1v-12.3h-1v3.6h-1v-5.2h-1v3.8h-1v3.3h-1v-13.9h-1v-6.7h-1v-.6h-1v2.7h-1v14.4h-1v-9.8h-1v4.1h-1v-4.1h-1v4.2h-1v3.6h-1v-1.9h-1v9.7h-1v1.4h-1v-1.1h-1v-5h-1v10h-1v-7.4h-1v.5h-1v8.8h-1v-6.3h-1h-1v-7.7h-1v7.3h-1v-6.6h-1v-2.4h-1v-2.5h-1v-1.8h-1v-3.8h-1v1.8h-1v-2h-1v-3.7h-1v6.3h-1v9.3h-1v-.3h-1v-15.7h-1v4.5h-1v.4h-1v.5h-1v4.8h-1v5.8h-1v-.9h-1v6.7h-1v-7.4h-1h-1v-.5h-1v3.1h-1v.7h-1v4h-1v-2h-1v-8.9h-1v1.1h-1v6.8h-1v-3.2h-1v-3h-1v2.1h-1v15.1h-1v1.8h-1v-6.1h-1v11.2h-1v-15.2h-1v-.4h-1v5.4h-1v-12.2h-1v7.4h-1v.7h-1v-1.4h-1v-.9h-1v-1.6h-1v2.2h-1v.7h-1v3.3h-1v-3.6h-1v.5h-1v3.9h-1v.3h-1v8.9h-1v.7h-1v-3h-1v-3.4h-1v1.8h-1v-4h-1v1h-1v1.2h-1v2h-1v-5.6h-1v-3.3h-1v8.4h-1v1.5h-1v.6h-1v-4.9h-1v-5.4h-1v7.7h-1v-1h-1v-7h-1v6.4h-1v5.9h-1v-3.7h-1v-5.1h-1v1.9h-1v-1.8h-1v5.2h-1v-7.3h-1v4.8h-1v-7.9h-1v3.1h-1v-2.2h-1v3.1h-1v9.7h-1v-11.1h-1v-1.7h-1v1h-1v6.2h-1v-2.5h-1v-9.9h-1v7.6h-1v-8.1h-1v-4.7h-1v-3h-1v.8h-1v-1.8h-1v-4.8h-1v-1h-1v.2h-1v4.9h-1v-.1h-1v5.1h-1v-3.4h-1v-.1h-1v1.9h-1v12h-1v-16.2h-1v4.2h-1v12.8h-1v-6.1h-1h-1v-1.8h-1v15.7h-1v-8.9h-1v9h-1v-5h-1v-4.3h-1v8.4h-1v-2h-1v-3.9h-1v10.3h-1v-4.5h-1v-1.7h-1v-6.2h-1v2.1h-1v-3.3h-1v4.3h-1v-11.8h-1v8.2h-1v-6.8h-1v7.2h-1v3.8h-1v-11.8h-1v-1.5h-1v4.8h-1v-2.7h-1v-4.1h-1v1.2h-1v-1.5h-1v7.5h-1v-8h-1v13.7h-1v4.1h-1v-7.3h-1v-6.3h-1v12.5h-1v-4.7h-1v5.2h-1v1.8h-1v6.6h-1v7.7h-1v-7.1h-1v-5.3h-1v9.4h-1v-4.3h-1v3.4h-1v3.9h-1v-10.1h-1v-1.7h-1v11.3h-1v1.2h-1v2h-1v-11.1h-1v7.3h-1v-13.9h-1v13.7h-1v-3.2h-1v-2.3h-1v-6.1h-1v12.5h-1v-8.2h-1v-6.9h-1v-4.2h-1v-.2h-1v11.6h-1v-6.2h-1v4.4h-1v-6.7h-1v5.3h-1v-3.4h-1v-3.6h-1v4.9h-1v-1h-1v4.5h-1v7.4h-1v-13h-1v6.7h-1v-6.7h-1v1.1h-1v2.6h-1v-3.4h-1v1.3h-1v-2.7h-1v2.4h-1v1.1h-1v1h-1v12.1h-1h-1v-6.2h-1v-3.2h-1v5.6h-1v-2.7h-1v-12h-1v-.4h-1v10.3h-1v-14.5h-1v1.3h-1v7.2h-1v-13.9h-1v4.5h-1v8.9h-1v-10h-1v12.3h-1v-12.1h-1v-.3h-1v-3.9h-1v10.9h-1v-7.2h-1v13.2h-1v-.5h-1v-14.7h-1v-8.6h-1v5h-1v4.8h-1v-7h-1v-.9h-1v-1.3h-1v4.4h-1v-1.8h-1v.9h-1v7.1h-1v-7.4h-1v19.7h-1v-26.6h-1v15.3h-1v-2h-1v-10.8h-1v-1.5h-1v12.4h-1v-2.9h-1v-13.2h-1v7.8h-1v5.8h-1v-.8h-1v.5h-1v-.3h-1v-3.3h-1v9.1h-1v-11.1h-1v7h-1v3h-1v-5.7h-1v6.4h-1v-.5h-1v.2h-1v4.9h-1v3.6h-1v-6.9h-1v-6.9h-1v-3h-1v-8.2h-1v-1.5h-1v7.3h-1v-4.7h-1v-3.4h-1v7.1h-1v-3.8h-1v-1.2h-1v2.8h-1v-3.2h-1v-2.6h-1v3.6h-1v-4.7h-1v-6.5h-1v16h-1v-11h-1v-.9h-1v5.2h-1v-2.7h-1v-3.1h-1v6h-1v4.6h-1v-5.9h-1v-7.4h-1v-3.3h-1v-4.1h-1v5h-1v1.3h-1v9.9h-1v-14.1h-1v-2h-1v8.1h-1v-2.5h-1v3.3h-1v16.6h-1v-2h-1v-7.2h-1v-7.3h-1v6.2h-1v-15.2h-1v-1.9h-1v17.3h-1v-7.7h-1v-4.8h-1v7.3h-1v-1.4h-1v5.9h-1v-4.2h-1v16.1h-1v-9.8h-1v-8.6h-1v-2.1h-1v8.5h-1v-5.7h-1v18.2h-1v-8.5h-1v-2h-1v8.7h-1h-1v-2.6h-1v-6.2h-1v2.5h-1v-1.8h-1v4.4h-1v-2.2h-1v2.8h-1v-3.6h-1v-5.5h-1v6.4h-1v-4.4h-1v-2h-1v4.8h-1v2.7h-1v8.6h-1v-1.7h-1v16.8h-1v-9.1h-1v-8.3h-1v-.4h-1v1h-1v31.8h-1v-20.7h-1v-3.2h-1v11.1h-1h-1v-1.3h-1v-7.8h-1v9.2h-1v-13.2h-1v13.4h-1v-18.6h-1v11.6h-1v-17.7h-1v12h-1v-4.1h-1v8.1h-1v-9.3h-1v-3.3h-1v1.4h-1v16.8h-1v-13.3h-1v.1h-1v-5.2h-1v-.2h-1v4h-1v-7.3h-1v-2.4h-1v-2.4h-1v9.9h-1v5.9h-1v-6h-1v-6.5h-1v1.9h-1v-3.2h-1v.9h-1v-4.1h-1v5.3h-1v-1h-1v14.4h-1v-15h-1v-5.9h-1v1.6h-1v1.8h-1v-6.1h-1v12.5h-1v-10.5h-1v-3.6h-1v-.4h-1v1.7h-1v-5h-1v.3h-1v20.1h-1v-14.1h-1v1h-1v3.3h-1v3.5h-1v4.2h-1v-8.7h-1v-.4h-1v4.6h-1h-1v.1h-1v14.3h-1v-14.7h-1v1.9h-1v-10.4h-1v7h-1v2.6h-1v1.1h-1v-5.2h-1v-1.6h-1v-8.8h-1v-2.4h-1v6.9h-1v.5h-1h-1v12.4h-1v-10.3h-1v-1.5h-1v8.3h-1v-7.7h-1v8h-1v-6.9h-1v-2.2h-1v5.8h-1v-5.7h-1v-2.6h-1v4.4h-1v-1.2h-1v-4.7h-1v-.3h-1v7.7h-1v12.2h-1v-13.5h-1v-5.7h-1v7.7h-1v-10.4h-1v2.7h-1v6.8h-1v-5.7h-1v.4h-1v-6.7h-1v-7.2h-1v-2.3h-1v19.2h-1v-12.3h-1v1.6h-1v-.3h-1v-11.1h-1v12.3h-1v-1.8h-1v-10.2h-1v2.5h-1v.7h-1v-1.6h-1v-4.5h-1v5.7h-1v4.8h-1v-2.3h-1v-2.6h-1v7.5h-1v-10.5h-1v7.3h-1v-8.5h-1v1.8h-1v.4h-1v8.4h-1v-5h-1v2.8h-1v-2.6h-1v-5.1h-1v-24.8h-1v1.3h-1v-8.1h-1v-6.7h-1v-14.5h-1v2.9h-1v-6.1h-1v-1.9h-1v-8.1h-1v1.7h-1v-6.9h-1v5.9h-1v-.2h-1v13h-1v10.9h-1v11.1h-1v18.5h-1v10.9h-1v-7.4h-1v-12.4h-1v-4.2h-1v-4.1h-1v3.6h-1v5.2h-1v3.5h-1v5.5h-1v6.2h-1v1h-1v1.7h-1v11.4h-1v4.4h-1v15.8h-1v20.7h-1v19.3h-1v16.4h-1v30.9h-1v29.4h-1v30h-1v22.8h-1v8.4h-1v12.4h-1v9.5h-1v1.2h-1v-5.3h-1v-8.5h-1v-5.9h-1v-8.2h-1v-14.9h-1v-13.4h-1v22.1h-1v29.1h-1v19h-1v4.8h-1v7.2h-1v-6.5h-1v4h-1v4.9h-1v-5.8h-1v-5.5h-1v8.5h-1h-1v-16.6h-1v7.5h-1v.4h-1v1.8h-1v-4.6h-1v4.1h-1v3.2h-1v1.2h-1v13.2h-1v13.9h-1v-17.7h-1v6.2h-1v3.3h-1v-13.1h-1v2.1h-1v-4.6h-1v5.3h-1v11h-1v-1.9h-1v13.3h-1v-15h-1v10.1h-1v10.1h-1v-12.4h-1v-5.1h-1v5.5h-1v4.4h-1v2.2h-1v.7h-1v-2.3h-1v-6.2h-1v10.7h-1v-14.3h-1v14.4h-1v7.2h-1v-8.6h-1v-4.2h-1v-2.8h-1v6.6h-1v-6.2h-1v-1.5h-1v2.8h-1v11.2h-1v-2.6h-1v-3.9h-1v6.5h-1v5.5h-1v6.5h-1v11.3h-1v-11.3h-1v-3.8h-1v-.4h-1v3.4h-1v2.2h-1v-7.4h-1v21.8h-1v-21.8h-1v-8.7h-1v7.5h-1h-1v18.2h-1v-26.9h-1v-1.5h-1v23.4h-1v-17.7h-1v.6h-1v-1h-1v6.4h-1v-10h-1v5.3h-1v-.2h-1v1.4h-1v-1.6h-1v9h-1v-6.6h-1v1.8h-1v-4.4h-1v2.2h-1v3.6h-1v1.4h-1v-6.5h-1v-3.5h-1v7.6h-1v-1.2h-1v-1.8h-1v1.7h-1v-3.6h-1v8.2h-1v-.3h-1v-1.7h-1v-18.6h-1v1.7h-1v2.5h-1v8.7h-1v3.2h-1v-9h-1v4.4h-1h-1v3.7h-1v-1.7h-1v-8.9h-1v2.2h-1v-3.2h-1v.7h-1v-.5h-1v7.3h-1v-4h-1v2.8h-1v-4.4h-1v.5h-1v9.8h-1v-19.7h-1v15.5h-1v-4.8h-1v-1.1h-1v-1.6h-1v1h-1v-3.4h-1v6h-1v-3.4h-1v-.2h-1v-4.5h-1v4.5h-1v5.4h-1v-4.5h-1v2.7h-1v1.5h-1v-2.6h-1v1h-1v-.3h-1v11.8h-1v-8.3h-1v14.9h-1v-15.4h-1v2.5h-1v20.4h-1v19.3h-1v23.9h-1v35.5h-1v35.5h-1v38.2h-1v44.6h-1v25.9h-1v8h-1v2h-1v-2.9h-1v.9h-1v-5.2h-1v10h-1v-4h-1v6.6h-1v-1.9h-1v3.6h-1v4.6h-1v-1.4h-1v8.3h-1v-12.1h-1v7.9h-1v-5.7h-1h-1v27.9h-1v-26.1h-1v18.3h-1h-1v-20.3h-1v9.1h-1v-1h-1v9.3h-1v-7h-1v4.9h-1v7h-1v-15.7h-1v-2.1h-1v8h-1v-.9h-1v2.8h-1v-10h-1v8.4h-1v13.2h-1v.2h-1v-11.1h-1v6.8h-1v3.1h-1v-17h-1v9.1h-1v3h-1v3.4h-1v-1.2h-1v3.9h-1v9.9h-1v-2.7h-1v-15.5h-1v3.4h-1v-7h-1v8.8h-1v-7.4h-1v-16.6h-1v-1.3h-1v1.5h-1v.1h-1v-6.4h-1v8h-1v2.5h-1v-.4h-1v5.8h-1v-15.9h-1v29.7h-1v-10.7h-1h-1v-7.5h-1v11.8h-1v-10.3h-1v8.8h-1v2.4h-1v4.1h-1v1.4h-1v10.6h-1v-14.9h-1v.7h-1v-1h-1v6.3h-1v-13.8h-1v5.2h-1v.4h-1v2.9h-1v-.1h-1v8.9h-1v2.8h-1v11.1h-1v3.9h-1v7.8h-1v7.2h-1v4.5h-1v9.5h-1v2h-1v1.7h-1v8.5h-1v11h-1v2.7h-1v6.1h-1v6.9h-1v1.3h-1z"/>
<path class="c" fill="#dda000" stroke="#dda000" d="M171.5 2460.1h1v-1.8h1v-8.5h1v-17.1h1v-19.1h1v-18.7h1v-17.9h1v-17.6h1v-20.7h1v-18.2h1v-18.4h1v-20.5h1v-19h1v-17.7h1v-15.7h1v-9h1v-6.8h1v-10.5h1v-11.2h1v1.2h1v-2.9h1v-11h1v.7h1v-5.7h1v11.2h1v-.5h1v-.1h1v-12.8h1v-7.7h1v19.6h1v-12.9h1v6.2h1v-8.3h1v9.4h1v-13.9h1v.3h1v4.2h1v-3.8h1v3.6h1v2.2h1v-1.5h1v-11.4h1v-3.1h1v3.3h1v-1.6h1v5.7h1v5.1h1v1.4h1v8.8h1v-6h1v1.8h1v-2.3h1v-18.6h1v13.8h1v-4h1v-9.6h1v5.8h1v-1.5h1v-6.3h1v-1.3h1v-16.9h1v8.1h1v8.2h1v6.2h1v-5.2h1v-11.9h1v.4h1v-4.9h1v-1.9h1v20.2h1v-28.3h1v-.4h1h1v4h1v1.8h1v-9.5h1v-5.3h1v-6.9h1v1.5h1v5.7h1v-14h1v21h1v-23.5h1v15.9h1v-4.6h1v-5.1h1v-4.7h1v6.6h1v-1.3h1v13.9h1v-.9h1v-6.1h1v-2.6h1v-3.2h1v5.5h1v-2.2h1v-10.7h1v-4.9h1v-6.6h1v5.8h1v-1.3h1v12.9h1v5.5h1v-16.8h1v10.4h1h1v-8.3h1v-7.1h1v14.3h1v-11.8h1v-3.6h1v-5.3h1v4.8h1v16.8h1v-15.2h1v.1h1v-3.5h1v20.8h1v1.7h1v3.5h1v-4.9h1v14.1h1v-9h1v-1.8h1v14.7h1v-12.3h1v8.8h1v-5.5h1v-11h1v-3.8h1v22h1v1.1h1v-1.3h1v9.5h1v-27.6h1v26.2h1v-1.9h1v6.9h1v10.8h1v-8.2h1v12.9h1v-1.4h1v14.4h1v-7.9h1v-15.9h1v7.5h1v-1.3h1v-10.4h1v14.4h1v.5h1v-8h1v-3.7h1v13.7h1v-23.4h1v14h1v8.1h1v-20.4h1v15.1h1v-3.1h1v.4h1v-5.7h1v-5.1h1v1.3h1v-8.2h1v5.8h1v-16.7h1v14.2h1v-.1h1v-5.3h1v-1.3h1v-18.4h1v2.6h1v-4.6h1v-11.6h1v6.6h1v2.4h1v-10.6h1v1.1h1v-1h1v10.3h1v15.1h1v17h1v-16.6h1v12.1h1v-.6h1v8.1h1v7.3h1v-2.8h1v-1.4h1v-4.5h1v4.4h1v-10.6h1v1.5h1v2.1h1v-7.4h1v-3.2h1v.4h1v3h1v-2.6h1v-8.5h1v7.7h1v10.2h1v-17h1v18h1v.8h1v4h1v-15.8h1v6.3h1v4.3h1v2.2h1v.3h1v10.8h1v-4h1v-.7h1v.6h1v-8.9h1v-3.3h1v14.2h1v-3h1v-.8h1v1.9h1v3.1h1v2.2h1v-14.5h1v13h1v2.1h1v8.3h1v-18.9h1v3h1v16.8h1v-13.7h1v-3.3h1v8.7h1v5.1h1v-2.7h1v-11.9h1v6.6h1v4.3h1v-3h1v.8h1v5.7h1v-4.5h1v-10.8h1v-8h1v10.8h1v-.6h1v-10.3h1v15.4h1v-16.8h1v-2.8h1v11.4h1v3.9h1v.9h1v-.5h1v.3h1v-7.4h1v3.6h1v-8.5h1v8.3h1v-.3h1v-12.8h1v22.6h1v-6.7h1v2.2h1v7.4h1v3.5h1v-2.2h1v2h1v6.7h1v-5.2h1v4.9h1v-16.6h1v14.1h1v17.1h1v-6.1h1v-3.7h1v-.1h1v24.3h1v1h1v-11.7h1v-3.7h1v-2.7h1v-3.3h1v7.9h1v-2.6h1v-3.7h1v-14.1h1v1.3h1v7.1h1v-7.1h1v-.4h1v-2.9h1v-11.9h1h1v1.6h1v-4.1h1v14.4h1v-7.3h1v7.5h1v-4.2h1v-2.9h1v13h1v-10.1h1v.7h1v1.2h1v-3.1h1v-6.6h1v-1.7h1v9.8h1v-4.2h1v-6.8h1v2.3h1v4.6h1v-1.6h1v-7.1h1v9.1h1v-6.5h1v9.3h1v-1.7h1v-8.4h1v-9h1v-6.7h1v8.3h1v9.7h1v2h1v-9.9h1v12.5h1v-1.6h1v-10.5h1h1v1.9h1v4.7h1v-10.1h1v12.9h1v-15.8h1v15.1h1v9.6h1v-4h1v-6.6h1v-9.6h1v12.2h1v-3.5h1v-.3h1v2.6h1v-17.8h1v21.7h1v-4.5h1v.4h1v-11.1h1v4.6h1v3.8h1v-5.7h1v3.3h1v5.6h1v-3.1h1v-14.7h1v9h1v-22.1h1v17h1v-5.8h1v3.9h1v4.7h1v-8.2h1v-2.4h1v4.3h1v2.7h1v-19.5h1v23.4h1v-2.8h1v-11h1v-11.7h1v18.2h1v-5.9h1v.5h1v4.4h1v-4.5h1v2.3h1v-1.3h1v-18.3h1v10.5h1v-15.5h1v-8.8h1v1.2h1v4.4h1v1h1v-6.7h1v6.1h1v-2.4h1v-.7h1v11.6h1v-14.2h1v.8h1v16h1v-16h1v1.8h1v-8.3h1v5.5h1v-2.5h1v-8.3h1v3h1v-5.4h1v.1h1v6.4h1v-8.5h1v3.3h1v1.1h1v-1.7h1v-10h1v3.6h1v-7.3h1v12.8h1v-1h1v-5.1h1v7.7h1v-9h1v1h1v7.1h1v-12.5h1v-10.7h1v10h1v-.9h1v18.1h1v-5h1v-2.2h1v1.2h1v3.9h1v-8.6h1v2.2h1h1v15.6h1v-6.1h1v-2.7h1v12.7h1v4.4h1v-5.3h1v2.5h1v-1.1h1v1.5h1v-2.9h1v9.1h1v1h1v-.4h1v-17.2h1v7.5h1v-10.1h1h1v8h1v-11.6h1v-.1h1v-1.9h1v-14.2h1v10.4h1v5.3h1v7.4h1v-5.6h1v-1h1v-3.7h1v1.2h1v-8.1h1v11.7h1v-5.2h1v3h1v2h1v-5.3h1v.3h1v.6h1v-6h1v7.6h1v-9.1h1v3h1v-1.3h1v-10.9h1v10.4h1v-2h1v-16.8h1v17.1h1v4.3h1v-16.9h1v9.2h1v.6h1v3.2h1v-2h1v-8.4h1v12.7h1v-6.1h1v9.1h1v-18.1h1v8.6h1v2.4h1v2.8h1v1.5h1v7.4h1v-33.6h1v21h1v6.9h1v-12.3h1v6.5h1v-.9h1v-2.1h1v11.1h1v-2.8h1v-8h1v-2.5h1v-2h1v9.3h1v-3.8h1v5.7h1v-5.5h1v-6.5h1v4.8h1v-18.3h1v24.3h1v13h1v-4.7h1v1h1v-1.6h1v2.2h1v4.7h1v4.9h1v-10.7h1v18h1v-10.3h1v2.5h1v-10.2h1v7.8h1v5.3h1v-7.7h1v4.8h1v-10.9h1v11h1v-12h1v2.9h1v-10.6h1h1v1.3h1v9.4h1v-6.2h1v-3h1v-1.8h1v.2h1v-8h1v2h1v-7.4h1v7.1h1v-3.6h1v-4.3h1v3.7h1v-3.1h1v-4.4h1v-9.9h1v2.2h1v6.9h1v-.2h1v-9.9h1v9h1v.7h1v-4.9h1v5.1h1v-10.5h1v8.2h1v-10.6h1v-6h1v30.1h1v-10.5h1v6.8h1v-3.9h1v-4.7h1v5h1v.7h1v-.1h1v-16h1v-20.3h1v36.6h1v-12.6h1v8h1v15.5h1v-1.5h1v-12h1v8.6h1v-3.7h1v2.9h1v2.8h1v-1h1v.7h1v-6.5h1v10.6h1v-2.5h1v-2.5h1v-1.9h1v-2.7h1v-9.9h1v-27.3h1v31.3h1v8.1h1v-.5h1v-5.2h1v14.1h1v.7h1v-9.5h1v3.2h1v-2.7h1v2.3h1v-1.2h1v-1.4h1v-5.6h1v2.8h1v1.3h1v-4.2h1v-.8h1v4.6h1v8.4h1v-13.6h1v2.8h1v9.3h1v.5h1v-.4h1v-3.4h1v-1.5h1v-5.4h1v3.3h1v9.7h1v-2.4h1v-1.8h1v10h1v-5.1h1v-7.5h1v10.8h1v-15.2h1v1.8h1v.5h1v7.5h1v-4.9h1v2.9h1v7.6h1v-11.1h1v3.2h1h1v-6.5h1v4.5h1v.9h1v-1.6h1v-.8h1v7.8h1v-8.1h1v-10.1h1v10.5h1v-2.2h1v-2h1v5.1h1v5.1h1v-19.8h1v9.9h1v7h1v.2h1v-2.4h1v-16.1h1v10.5h1v-.7h1v2.2h1v.4h1v-3.2h1v-5.3h1v11.2h1v-5.9h1v-1h1v-3.8h1v4.7h1v.7h1v-2.2h1v2.7h1v-7.2h1v8.2h1v-6.5h1v1.7h1v.7h1v2.7h1v-4.8h1v-4.6h1v12.4h1v-2.6h1v-4h1v1.5h1v-24.8h1v19.4h1v-.8h1v4.3h1v-2.9h1v-3.4h1v7.3h1v-2.2h1v-4.9h1v4.8h1v-7.2h1v5.9h1v-8.5h1v9.8h1v-5.5h1v.3h1v-5.4h1v13.5h1v-1.1h1v1h1v4.5h1v1.8h1v-11.3h1v-6.3h1v15.8h1v-2h1v-.4h1v3.1h1v-6.6h1v-2.1h1v-.3h1v-17.7h1v7.1h1v8.6h1v2.2h1v4.7h1v-3.5h1v-1.9h1v-3.3h1v5.3h1v3h1v-10.2h1v2h1v7.3h1v-9.8h1v7.7h1v1.6h1v2.9h1v-4.4h1v2.2h1v1.3h1v-.5h1v.4h1v-2.7h1h1v-1.6h1v3.1h1v-4.8h1v2.1h1v7.9h1v2.4h1v-5.1h1v.6h1v-4.2h1v2.8h1v-1.9h1v6.3h1v-2.8h1v.4h1v-11.4h1v8.5h1v-.9h1v2.2h1v.8h1v-2.8h1v-3.5h1v-3h1v3.9h1v-2.3h1v5h1v4.3h1v1.1h1v-9.3h1v-5.6h1v10.1h1v-2.6h1v3h1v7.9h1v-7h1v-.5h1v-6.7h1v5.4h1v-4.9h1v-1.7h1v.4h1h1v-5.9h1v13.2h1v4.3h1v-18.1h1v7.3h1v2.4h1v8.8h1v-15.3h1v8h1v1.1h1v-4.2h1v-.5h1v.6h1v-9.6h1v4.5h1v4.2h1v-2.6h1v-.1h1v7.2h1v-5.4h1v-2.2h1v-7h1v13.4h1v1.1h1v-7.5h1v-4.3h1v3.9h1v-1.2h1v5.9h1v-20h1v11.1h1v4.9h1v-6.4h1v7.9h1v-2h1v3.4h1v.5h1v-16.2h1v6.7h1v-2.5h1v10.3h1v-1.2h1v-13.2h1v11.8h1v-6.1h1v-.2h1v-1.5h1v.5h1v5.3h1v-4.1h1v6.3h1v-1.5h1v3.7h1v-5.1h1v-6.1h1v6.5h1v4.1h1v-1.9h1v-.7h1v6.4h1v1.6h1v-11.9h1h1v9.1h1v2.4h1v-3.7h1v7.7h1v-3.5h1v-1.6h1v-12h1v7.9h1v4.5h1v-2.7h1v3.5h1v4.1h1v-10h1v-3h1v9.1h1v-.9h1v-.2h1h1v5.9h1v-14h1v13.2h1v-2.6h1v2.7h1v-1.9h1v.7h1v-10.1h1v5.7h1v2.2h1v-1.2h1v-5.9h1v9.7h1v-.4h1v.4h1v-8.2h1v7.9h1v10.1h1v-6.1h1v.1h1v-.9h1v-10.3h1v19.7h1v-14.8h1v1.4h1v.8h1v9.6h1v-13.6h1v-4.2h1v11.3h1v2h1v-4.6h1v1.8h1v-5.3h1v16.1h1v-2.5h1v-5h1v2.7h1v-9h1v-7.4h1v17.4h1v-3.6h1v4.8h1v-7.5h1v4.2h1v3.9h1v-2h1v-.4h1v7.2h1v-6.2h1v-6.4h1v-.9h1v6.1h1v.4h1v-4h1v.2h1v-6.3h1v9.7h1v-10.6h1v6.4h1v-1.2h1v-7.5h1v11.3h1v-7.2h1v.5h1v-1.6h1v10.3h1v-4.7h1v-2.7h1v9.2h1v36.4h-1v-12.3h-1v2.4h-1v3.1h-1v5.3h-1v-1.8h-1v-3.1h-1v-4.4h-1v-1.6h-1v-5.5h-1v11h-1v-8.3h-1v15.1h-1v-10.2h-1v12.6h-1v-11h-1v4h-1v.9h-1v-5.2h-1v4.5h-1v6.7h-1v-6.7h-1v-.8h-1v5.1h-1h-1v-9.2h-1v4h-1v-5.7h-1v3.6h-1v13.7h-1v-13.6h-1v-4.5h-1v5.4h-1v-3h-1v-5.6h-1v4.6h-1v3.9h-1v-5.5h-1v-.2h-1v2.2h-1v-2.5h-1v-4.7h-1v9.7h-1v7.5h-1v-10.9h-1h-1v14.1h-1v-16.1h-1v3.6h-1v2.8h-1v-4h-1v.9h-1v2.1h-1v-2.6h-1v-4.9h-1v7.5h-1v-7.5h-1v1.7h-1v-4.4h-1v12.4h-1v-9h-1v4.7h-1v-5.9h-1v1.1h-1v-.4h-1v5.4h-1v-5.4h-1v5.9h-1v-1.4h-1v-8.1h-1v7.4h-1v-4.3h-1v-8.1h-1v12.3h-1v-14.4h-1v6.4h-1v5.6h-1v-8.9h-1v-3.4h-1v3.5h-1v3.9h-1v1.1h-1v6.6h-1v-.6h-1v-6.9h-1v2.6h-1v4.1h-1v-6.7h-1v-9.9h-1v7.2h-1v-1.4h-1v3h-1v.4h-1v-3.7h-1v5.6h-1v4.3h-1v-11.5h-1v-8h-1v12.7h-1v-3.5h-1v1.5h-1v5h-1v-3.2h-1v1.1h-1v-10h-1v.2h-1v1.2h-1v.8h-1v2.1h-1v5.4h-1v-7.8h-1v12.9h-1v-13.8h-1v3.4h-1v12.1h-1v-14.6h-1v18.1h-1v-13.6h-1v-1.5h-1v-.3h-1v2.7h-1v2.5h-1v2.3h-1v-3.7h-1v.6h-1v4.6h-1v-5.4h-1v4.8h-1v6.1h-1h-1v-14.9h-1v1.1h-1v8.5h-1v-1.8h-1h-1v4.9h-1v-8.6h-1v-2.2h-1h-1v4.9h-1v-4.2h-1v4.2h-1v.9h-1v7.7h-1v-9h-1v9.4h-1v-1.5h-1v-1.7h-1v16.3h-1v-11.4h-1v-1h-1v-7.8h-1v6h-1v-8.4h-1v.9h-1v-5.2h-1v2.2h-1v2.1h-1v4h-1v4.4h-1v-2.6h-1v-4.3h-1v2.7h-1v-1.7h-1v2.6h-1v-.2h-1v-1.6h-1v9.8h-1v-4h-1v-.9h-1v-3.3h-1v2.8h-1v-1.8h-1v-7.9h-1v1.7h-1v3.2h-1v20.1h-1v-9.5h-1v-2.6h-1v-9h-1v5.4h-1v-4.7h-1v1.1h-1v-1.8h-1v3.8h-1v5.3h-1v-8.6h-1v6.3h-1v2.7h-1v-9.5h-1v3.4h-1v-2.5h-1v-5.3h-1v4.6h-1v.8h-1v-1.9h-1v2.6h-1v.1h-1v-1.3h-1v-.9h-1v6.4h-1v-4h-1v-.1h-1v2.3h-1v4.9h-1v-17.1h-1v15.3h-1v-1.9h-1v-8.2h-1v3.9h-1v4.6h-1v-4.3h-1v-5.5h-1v-.9h-1v2.5h-1v-3.3h-1v5.8h-1v9.8h-1v-4h-1v-3.3h-1v-1.9h-1v1.8h-1v-7.2h-1v3h-1v2.3h-1v-2.9h-1v12h-1v-8h-1v-.1h-1h-1v-5.1h-1v6h-1v-9.3h-1v7.6h-1v-2.4h-1v3.2h-1v-2.4h-1v.8h-1v-.8h-1v3.2h-1v-2.4h-1v9.4h-1v-8.1h-1v-4.7h-1v.6h-1v-.6h-1v2.4h-1v.1h-1v7.9h-1v-8.2h-1v-.1h-1v7.6h-1v-3.9h-1v6.2h-1v-9.9h-1v1.2h-1v.2h-1v1h-1v-4.5h-1v-1.1h-1v-1.3h-1v1.1h-1v14.7h-1v.2h-1v-3.3h-1v12.7h-1v-17.2h-1v7.1h-1v-4.8h-1v7.2h-1v-12.6h-1v6.8h-1v2h-1v3.4h-1v-.1h-1v3.8h-1v2.1h-1v-2.5h-1v-5.7h-1h-1v12.1h-1v-14.4h-1v1.6h-1v.4h-1v6.4h-1v-2.4h-1v6h-1v-2.5h-1v-9.7h-1v5.7h-1v1.8h-1v2.3h-1v3.1h-1v-8.7h-1v2.6h-1v4.2h-1v5h-1v-3.4h-1v-9.5h-1v2.9h-1v-3.8h-1v15.9h-1v-7.8h-1v-3.6h-1v2.5h-1v7.7h-1h-1v-4.9h-1v15.6h-1v-11.5h-1v-3h-1v1.7h-1v-3.6h-1v1.7h-1v-.3h-1v-9.7h-1v9.7h-1v-5h-1v-2.4h-1v7.1h-1v-3.3h-1v-4.5h-1v1.2h-1v6.5h-1v4.2h-1v-.3h-1v-3h-1v5.2h-1v1.5h-1v-6.2h-1v-10.1h-1v8.1h-1v7h-1v-2.9h-1v-13.8h-1v8h-1v-.5h-1v.8h-1v-3.8h-1v20h-1v-5.1h-1v1.4h-1v.3h-1v-8.2h-1v-8.2h-1v3.3h-1v-.6h-1v-5.2h-1v-1.7h-1v13.7h-1v-5.2h-1v12.2h-1v-7.1h-1v-7.9h-1v8.2h-1v-8.8h-1v.7h-1v2.2h-1v-16.3h-1v5.4h-1v4.4h-1v-2.1h-1v1.4h-1v8.6h-1v-5.6h-1v-3.9h-1v17h-1v-16.9h-1v15.9h-1v-2.6h-1v-12.9h-1v18.4h-1v-25.5h-1v18.4h-1v-15.5h-1v14.7h-1v-15h-1v2.6h-1v4.2h-1v-.5h-1v-4.4h-1v10h-1v-.7h-1v7.1h-1v-4.3h-1v-2.6h-1v.2h-1v7.5h-1v1h-1v.4h-1v1.1h-1v8.7h-1v-3.7h-1v10.3h-1v-2.2h-1v-2.2h-1v-.7h-1v.8h-1v3.8h-1v3.4h-1v10.4h-1v-12h-1v3.8h-1v4.1h-1h-1v-9.6h-1v13.9h-1v1.9h-1v4.7h-1v-12.2h-1v-7.7h-1v1h-1h-1v12.9h-1v-20.2h-1v1.4h-1v.8h-1v-7h-1v.7h-1v5.2h-1v-7.3h-1v.8h-1v6.6h-1v-14.2h-1v1.1h-1v-.7h-1v9.6h-1v-1.7h-1v3.7h-1v-2.7h-1v-9.6h-1v4.1h-1v-1.4h-1v-.1h-1v8.5h-1v-4.8h-1v2.4h-1v.9h-1v-2.3h-1v-5h-1v-3.6h-1v-.8h-1v1.4h-1v8h-1v2.6h-1h-1v-10.9h-1v10.9h-1v-5.6h-1v4.7h-1v-10.3h-1v-2.9h-1v5.9h-1v-8.4h-1v13.9h-1v-2.2h-1v-.1h-1v-5.4h-1v1.4h-1v-5.1h-1v13.9h-1v-3.5h-1v5h-1v-1h-1v17.8h-1v-16.6h-1v5.7h-1v-13.8h-1v22.4h-1v-5.7h-1v-7.2h-1v-.1h-1v8.4h-1v-1.5h-1v-6h-1v4.7h-1v.3h-1v8.4h-1v-20.8h-1v10.3h-1v-6.2h-1v13.6h-1v-.4h-1v-1.9h-1v1.1h-1v11.7h-1v-6.5h-1v16.1h-1v6.4h-1v-6h-1v-7.3h-1v-1.2h-1v1.1h-1v18.9h-1v-27.9h-1v5.2h-1v-2.5h-1v-1.5h-1v6.6h-1v-9.7h-1v-3.5h-1v3.9h-1v-15.9h-1v9.7h-1v-13h-1v.1h-1v4.5h-1v2.1h-1v-5.6h-1v-.5h-1v-1.6h-1v1.2h-1v7.8h-1v-7.9h-1v4.1h-1v1.8h-1v-6.1h-1v3.2h-1v-9.6h-1v12.8h-1h-1v.1h-1v5.4h-1v11.9h-1v-15.9h-1v7.8h-1v-9.7h-1v-1.1h-1v9.4h-1v-4.8h-1v15h-1v7.3h-1v-4h-1v-10.9h-1v3.2h-1v2.8h-1v27h-1h-1v-24.3h-1v9.4h-1v-1.2h-1v-7.7h-1v10.2h-1v-12.5h-1v2.3h-1v1.4h-1v1.4h-1v1.1h-1v18.2h-1v-9.8h-1v13.6h-1v7h-1v-3.4h-1v2h-1v2.9h-1v9.5h-1v-23.7h-1v18.1h-1v-2h-1v-9.4h-1v.4h-1v7.4h-1v-1.7h-1v10.8h-1v.4h-1v-10.1h-1v3.3h-1v11.8h-1v-22.4h-1v10.4h-1v4.7h-1v.2h-1v-3.3h-1v1.8h-1v13.7h-1v-.6h-1v-8.6h-1v-1.1h-1v-.1h-1v7.8h-1v-6.7h-1v6.5h-1v-1.3h-1v-10.5h-1v-.5h-1v2.3h-1v19.2h-1v-9.2h-1h-1v-7.1h-1v16.8h-1v-19h-1v3.2h-1v2.4h-1v5.4h-1v-7.8h-1v-.4h-1v6.2h-1v-.2h-1v2.8h-1v-8.9h-1v8.1h-1v-4.1h-1v-4.3h-1v17h-1v-14h-1v1.5h-1v-5.1h-1v4.5h-1v3.7h-1v-4.2h-1v.5h-1v1.4h-1v-6.4h-1v6.1h-1v9.1h-1v-6.2h-1v-4.8h-1v1.1h-1v18.8h-1v-1.5h-1v-9.3h-1v-2.7h-1v8.1h-1v-6.1h-1v-1.7h-1v-.4h-1v.9h-1v3.5h-1v1.9h-1v-2.9h-1v5.7h-1v.2h-1h-1v-10h-1v11.6h-1v6h-1v-12.2h-1v7h-1v-1.9h-1v-.3h-1v-1.1h-1v4.2h-1v6.8h-1v10.6h-1v-10h-1v3h-1v.8h-1v10.9h-1v.9h-1v-4.7h-1v3.3h-1v-11.8h-1v1.4h-1v7.7h-1v-13.6h-1v-4.7h-1v-6.7h-1v-.2h-1v1.2h-1v-4.5h-1v5.7h-1v-4.3h-1v-8.4h-1v4.1h-1v-6.6h-1v-1.3h-1v4.7h-1v7.9h-1v-25.3h-1v3.8h-1v11.9h-1v-5.8h-1v2.4h-1v-8.2h-1v9.1h-1v5.3h-1v4h-1v-8.9h-1v-5.4h-1v.2h-1v.9h-1v13.4h-1v-10.2h-1v1.8h-1h-1v2.6h-1v20.5h-1v-4.1h-1v-5.1h-1v-10.8h-1v13.5h-1v-3.6h-1v-2h-1v3.1h-1v-3.4h-1v-7h-1v9h-1v-11.9h-1v10.1h-1v18.9h-1v-25.3h-1v4.2h-1v-8.9h-1v8.4h-1v-9.5h-1h-1v-6h-1v14.1h-1v-3.5h-1v-3h-1v1.2h-1v-5.1h-1v1h-1v-4.1h-1v11.1h-1v.1h-1v2h-1v8.9h-1v-20.9h-1v.9h-1v-11.5h-1v11.3h-1h-1v-5.5h-1v-1.9h-1v-12.4h-1v9.8h-1v-10h-1v8.8h-1h-1v8.4h-1v-6.7h-1v-4.4h-1v5.5h-1v-.1h-1v4.1h-1v-3.8h-1v7.2h-1v-4.3h-1v3.3h-1v.3h-1v.8h-1v1.2h-1v.8h-1v-10.7h-1v2.3h-1v-4h-1v-.7h-1v-6.5h-1v-17.8h-1v3.2h-1v-7.6h-1v4.1h-1v19.2h-1v-15.3h-1v4.5h-1v21.1h-1v-5.9h-1v1.6h-1v10.6h-1v8.2h-1v-12.6h-1v-2.4h-1v10.1h-1v15.8h-1v2.5h-1v-12.7h-1v7.5h-1v-13.2h-1v24.9h-1v-15.2h-1v13.3h-1v-1.6h-1v12.2h-1v-19.2h-1v21.1h-1v-4.3h-1v-24.7h-1v32.6h-1v-15.1h-1v-10.1h-1v20.7h-1v-16.4h-1v-3.6h-1v9.3h-1v.3h-1v10.1h-1v-13.9h-1h-1v-7.8h-1v-9.5h-1v1.6h-1v-4.5h-1v-1.6h-1v8.2h-1v2.2h-1v-13.9h-1v-1.7h-1v-1.2h-1v-5.8h-1v.8h-1v8.8h-1v10.1h-1v-22.5h-1v-1h-1v8.1h-1v-.3h-1v-8.5h-1v18.6h-1v-27.1h-1v4.4h-1v-2.1h-1v6.3h-1v-11.9h-1v-9.2h-1v2h-1v6.3h-1v.4h-1v-1.3h-1v5.5h-1v-1h-1v-3.3h-1v8.3h-1v5.8h-1h-1v-8.2h-1v8.7h-1v-16.6h-1v5.3h-1v6.3h-1v-4.3h-1v-6.7h-1v10.3h-1v-.9h-1v2.5h-1v6.1h-1v-14.8h-1v7.3h-1v13.6h-1v-7h-1v-.1h-1v3.9h-1v1.3h-1v-6.6h-1v-2.8h-1v-3.3h-1v18.3h-1v-8.7h-1v8.2h-1v-13h-1v-10.7h-1v30.4h-1v-12.8h-1v-5h-1v1.3h-1v12.9h-1v-5.6h-1v7.7h-1v2.2h-1v7h-1v3.5h-1v-5h-1v10.4h-1v-2.4h-1v1.1h-1v5.9h-1v-4.7h-1v-6.5h-1v12h-1v1.3h-1v-4.5h-1v8.7h-1v-1.1h-1v-.6h-1v-6.5h-1v20.7h-1v-15h-1v6.6h-1v-4.2h-1v21.3h-1v-19.2h-1v7.8h-1v-9.5h-1v4h-1v8.1h-1v-8.5h-1v10h-1v-9.4h-1v9.8h-1v9.4h-1v-5.5h-1v-6.1h-1v-8.3h-1v11.2h-1v16.3h-1v-30.6h-1v12.6h-1v-3h-1v16.4h-1v-6.5h-1v3.5h-1v2.1h-1v4.5h-1v-13.7h-1v-16.1h-1v-1.7h-1v-2.3h-1v4.9h-1v2.7h-1v1.6h-1v6.8h-1v11.3h-1v2.4h-1v11.4h-1v18.4h-1v17.5h-1v20.1h-1v19h-1v18.5h-1v19.8h-1v20.3h-1v17.3h-1v18.4h-1v18.9h-1v16.8h-1v9.6h-1v2.1h-1v.3h-1z"/>
<path class="c" fill="#00cccc" stroke="#00cccc" d="M171.5 2460.1h1v-16.9h1v-20.2h1v-17.9h1v-46h1v-43.6h1v-45.4h1v-41.9h1v-46.2h1v-39.4h1v-20.1h1v20.9h1v35.4h1v16.4h1v2.6h1v-2.1h1h1v1.1h1v4.7h1v-4.8h1v.8h1v7.5h1v.3h1v-5.5h1v-5h1v-4h1v4.8h1v7.9h1v-12.5h1v-.5h1v-3.5h1v12h1v-4.7h1v7.6h1v1.7h1v3h1v-5.7h1v-.5h1v-.7h1v-.1h1v.4h1v1.5h1v-10.3h1v11.4h1v.7h1v-.5h1v7.7h1v5.7h1v-8.1h1v7.9h1v-2.7h1v.1h1v3.3h1v3.7h1v10.6h1v-15.7h1v10.5h1v-4.5h1v10.7h1v-11.5h1v1.1h1v-5.9h1v7.7h1v-4.6h1v1.9h1v-7.8h1v18.8h1v-9.4h1v3.7h1v1.5h1v5.8h1v-2.1h1v-2.3h1v4h1v.8h1v8.4h1v5.4h1v-16.7h1v16.2h1v-.7h1v-3.1h1v16.7h1v-17.8h1v11.5h1v8.4h1v-1.9h1v-4.5h1v2.1h1v-11.1h1v19.5h1v-1.3h1v-21.3h1v16.5h1v9.2h1v-6h1v-9.5h1v6.6h1v-15.2h1v15h1v2.9h1v1.4h1v9.8h1v-3.7h1v-13.1h1v6.3h1v4h1v-12.4h1v4.6h1v7.9h1v5.1h1v-7.4h1v-1.8h1v-12.3h1v3.7h1v8.8h1v-7h1v-4.4h1v10.8h1v-.1h1v-1.8h1v-4h1v-8.7h1v14.8h1v-18.4h1v3.4h1v7h1v-22.3h1v14.6h1v6h1v-5.9h1v-10.1h1v12.3h1v2.6h1v-18.6h1v.5h1h1v-2.1h1v13.7h1v4.9h1v1.6h1v-6.6h1h1v-2.7h1v10.4h1v-10.2h1v3.3h1v-19.1h1v-3.7h1v9.6h1v7.9h1v-1.9h1v-.5h1v5.4h1v-3.6h1v7.5h1v-12.9h1v-2.9h1v-14.9h1v15h1v-.3h1v-21.9h1v11.3h1v5.3h1v-7.8h1v15.5h1v1.4h1v-1.1h1v-2.4h1v-7.6h1v5.9h1v.9h1h1v-3.6h1v11.8h1v-3.2h1v-2.3h1v6.9h1v-15.6h1v1.8h1v-6.3h1v9h1v3.8h1v-10.5h1v.3h1v6.4h1v-10.7h1v14.4h1v6.5h1v-.4h1v-2.5h1v8.2h1v-8.7h1v9h1v-20.9h1v20.6h1v-4.4h1h1v10.2h1v-7h1v.8h1v.6h1v-.3h1v1.3h1v1.8h1v4.2h1v-4.8h1v-1h1v10.3h1v-14.8h1v-12.1h1h1v3.4h1v3.8h1v-2.9h1v5.6h1h1v10.8h1v-15.7h1v6.2h1v14.7h1v-4.1h1v-6.9h1v4.6h1v-14.8h1v4.6h1h1h1v3.7h1v-1.3h1v4.3h1v2.6h1v-7.2h1v5.7h1v-3.5h1v7.3h1v12.4h1v-14.6h1v1.9h1v2.9h1v6.2h1v-4.3h1v14.3h1v-2.4h1v-.6h1v.6h1v2h1v-19.2h1v11.9h1v-9.4h1v-7.3h1v8.7h1v-18.6h1v1.1h1v-1.8h1v3.2h1v2.5h1v-7.4h1v-11.5h1v12.4h1v-14.9h1v13.5h1v-8.8h1v-13.1h1v1.7h1h1v-6.4h1v14.8h1v10.3h1v-1.7h1v-8.8h1v-.3h1v6.1h1v6.4h1v-1.7h1v-9.3h1v7.7h1v2.4h1v1.2h1v-.2h1v-12.5h1v-12h1v17.3h1v10.9h1v-2.5h1h1v-1.6h1v1.2h1v2.8h1v1.4h1v-2.3h1v4.4h1v-9.1h1v6.9h1v-2.2h1v-4.5h1v6.7h1v-7.3h1h1v-6.8h1v-6.7h1v10.3h1v10.2h1v-2.1h1v-3.7h1v-4.4h1v-.1h1v1.1h1v19.7h1v-17.7h1v6.9h1v7h1v-4.6h1v3.5h1v-.1h1v1h1v-6.1h1v6.6h1v-1.7h1v-3h1v-2.3h1v6.2h1v-.5h1v-21.5h1h1v10h1v-3.8h1v16.2h1v-17.5h1v-17.7h1v11.8h1v3.1h1v7.5h1v-2.3h1v-1.7h1v10.6h1v-5.1h1v10.5h1v-19.7h1v10.1h1v-5.1h1v6h1v-4.8h1v16.7h1v-10.9h1v10.9h1v11.1h1v-6.1h1v-28.9h1v34.7h1v-7.8h1v-7.3h1v-1.5h1v23.5h1v4.5h1v-15.7h1v9h1v-8.3h1v2.3h1v-4.7h1v-6.5h1v-6.6h1v-13.4h1v27.3h1v-8.5h1v8.1h1v-11.6h1v3.7h1v14.5h1v-5.2h1v3.9h1v-.2h1v-4.6h1v-1.6h1v-10.3h1v25.5h1v-8.3h1v-17.3h1v19.2h1v-3.3h1v-5.1h1v12.1h1v-6.1h1v2h1v3.7h1v4.1h1v-11.6h1v1h1v6h1v-6.4h1v5.8h1v-8.9h1v3h1v-1.3h1v-3.1h1v1.7h1v-.6h1v-2.4h1v10.9h1v11.5h1v-12.6h1v18.2h1v-2.4h1v-3.5h1v4.2h1v-13.8h1v15.3h1v-22.7h1v18.9h1v-11h1v-4.5h1v-.5h1v-8.9h1v9.8h1v7.6h1v3h1v-2.1h1v.9h1v-10.5h1v.6h1v9.9h1v-9.4h1v-2.2h1h1v2h1v10.3h1v-14.1h1v6.3h1h1v.3h1v7.9h1v-5.3h1v-17.6h1v24h1v-7h1v5.9h1v1.7h1v-3.3h1v12.1h1v-17h1v5.4h1v-4.6h1v-11h1v-5.6h1v9h1v7h1v.6h1v-20.9h1v-11.5h1v6.9h1v17.2h1v-11.8h1v8.8h1v-29.7h1v10.8h1v4.3h1v2.2h1v-5.7h1v9.6h1h1v-2.1h1v-2.3h1v-2.6h1v-3.3h1v-.3h1v4.5h1v-.1h1v-.4h1v-2.9h1v3h1v-7.5h1v10.7h1v-10.4h1v7.1h1v.7h1v-.7h1v-.1h1v-16h1v2.6h1v-8.6h1v18.2h1v-13.9h1v10.4h1v-10.4h1v20.1h1v-19.6h1v17.7h1v-14.7h1v-8.5h1v22.5h1v-.4h1v-32.6h1v22.1h1v3h1v-8h1v-5.5h1v10.6h1v1.4h1v-5.6h1v6.9h1v-10.7h1v5.4h1v-15.8h1v3.9h1v10.7h1v-7.2h1v-6.9h1v3.4h1v-5.4h1v9.9h1v-3.4h1v-4.6h1v-.4h1h1v9.6h1v-7.6h1v-5.5h1v14.7h1v-2.5h1v-8.3h1v11.5h1v1.7h1v9.3h1v-1.1h1v-6.5h1v4.4h1v-10.6h1v-1.8h1v16.6h1v1.5h1v1.8h1v-3.4h1v-6.8h1v3.3h1v-14.2h1v-2.4h1v18.6h1v-5.8h1v1.5h1v.1h1v3h1v-6.6h1v1.8h1v2.3h1v-5.8h1v-6.6h1v1.6h1v-17h1v22.4h1v-.8h1v-3.7h1v1.5h1v-4.1h1v7h1v-11.4h1v3.1h1v-10.5h1v19.1h1v-6.7h1v-2.4h1v-5.6h1v8.8h1v-10.3h1v10.8h1v12.8h1v-12.8h1v1h1h1v4.9h1v4.2h1v-9.3h1v-6.6h1v26h1v-2.7h1v-5.3h1v-3.2h1v-10.4h1v12.1h1v14.2h1v-20.2h1v13.3h1v3h1v-1.8h1v-3.4h1v6h1v-1.1h1v-8.3h1v10.9h1v4.5h1v-7.6h1v-4.5h1v4.6h1v-7.4h1v4.7h1v-6.6h1v-2.9h1v12.6h1v-4.5h1v-1.2h1v19.2h1v3.7h1v-11.2h1v-3.9h1v6.7h1v-8.6h1v-5.9h1v.1h1v.1h1v-18.6h1v6.8h1v11h1v.5h1v13.6h1v-12.2h1v-4.2h1v-10.8h1v5.5h1v-1.5h1v-4h1v15.3h1v.5h1v-.7h1v-6h1v14.5h1v-4.8h1v-22.8h1v8.5h1v.6h1v4.8h1v-11.9h1v12.6h1v-12h1v1.4h1v18.4h1v-5.6h1v-14.9h1v17h1v9.1h1v3.5h1v-3.6h1v-22h1v10.2h1v5.3h1h1v.6h1v-5h1v2.7h1v9.8h1v-12.9h1v-.3h1v9.1h1v-13h1v6.7h1v-.9h1v-3.3h1v-5.4h1v15.6h1v4h1v1.4h1v-7.1h1v11h1v3.5h1v-.6h1v1.7h1v-8.9h1v5.8h1v7.4h1v-.9h1v-2.8h1v3.1h1v-9.8h1v1h1v-3.8h1v-14.2h1v26.1h1v.5h1v-1.8h1v10.3h1v-9.8h1v.7h1v-8.3h1v-2.3h1v-2.6h1v12.5h1v.6h1v9.8h1v-13.2h1v11.8h1v-10.5h1v-13.4h1v11.8h1v-19.5h1v24.4h1h1v-1.7h1v-12.4h1v26.6h1v-6.3h1v-7.1h1v.7h1v4.8h1v5.6h1v-1.5h1v13.8h1v-16.2h1v-11.5h1v11.1h1h1v12.9h1v-6.5h1v-6.1h1v5.2h1v.6h1v4.4h1v-5h1v-11.5h1v-9.8h1v9.5h1v-1.5h1v-13h1v27.4h1h1v-12.7h1v12.2h1v-12.2h1h1v-4h1v-.4h1v11.1h1v-16.6h1v4.2h1v7.8h1v-6h1v-.9h1v-2.9h1v9.1h1v-5.6h1v-2.3h1v5.4h1v2.4h1v-10h1v7.7h1v1.4h1v1.8h1v1h1v7.1h1v-17h1v19h1v-3.8h1v-17.1h1v17.1h1v-7.3h1v6.4h1v5.8h1v-20h1v5.3h1v.3h1v5.3h1v-16h1v5.4h1v2.2h1v7h1v-16.6h1v9h1v4.5h1v-7.3h1v8.2h1v-2.9h1v-2.3h1v8.2h1v-.1h1v-2.8h1v9.9h1v-6.7h1v-.8h1v1.8h1v-5.5h1v-2.8h1v4.4h1v-9.9h1v7.2h1v-3.6h1h1v8.9h1v4.5h1v-12.1h1v1.7h1v7.9h1h1v-4.9h1v3h1v-6.6h1v6.5h1v-4.4h1v4.3h1v-.3h1v-9.4h1v-15.8h1v11.6h1v-13.4h1v30.8h1v-11.2h1v-2.4h1v1.7h1v-5.9h1v4.9h1v-7.7h1v2.4h1v-7.1h1v5.3h1v15.2h1v-14.7h1v10.7h1v5.4h1v-8.9h1v-3.6h1v5.2h1v13.5h1v-3.7h1v5.7h1v7.1h1v3.2h1v-14.1h1v13.3h1v1.2h1v15.8h1v-.2h1v-1.9h1v1.7h1v-11.6h1v-9.9h1v13.8h1v-.3h1v5.4h1v-2.3h1v-6.2h1v-5.3h1v5.1h1v-4.3h1v-1.7h1v-3.3h1v-1.3h1v4.8h1v-1.9h1v4.1h1v-4.7h1v-1.2h1v-12.3h1v1.5h1v4.8h1v.3h1v-1.8h1v-5h1v7.7h1v10.2h1v-11h1v2.6h1v-22.4h1v5.4h1v16h1v-2h1v10.2h1v-8.6h1v1.7h1v4.7h1v.3h1v-4.9h1v.5h1v-9.4h1v6.8h1h1v7.3h1h1v.4h1v-8.1h1v-3.2h1v3.1h1v3.2h1v-1.6h1v-7.1h1v12.9h1v-7.2h1v-.3h1v-4.3h1v-1.6h1v-11.8h1v2.3h1v1.3h1v-22.6h1v-4.9h1v-1.5h1v11.7h1v-3.3h1v2.1h1v-2.1h1h1v-13.2h1v3.9h1v18h1v-13.3h1v-9.1h1v-1.3h1v-8.4h1v11.9h1v7h1v-5.4h1v17.6h1v-12.4h1v-5.1h1v-2.4h1v6.8h1v-36.3h1v23.3h1v17.3h1v-33.4h1v20h1v4.1h1v-2.9h1v5.3h1v2.5h1v-1.2h1v-1.7h1v5.7h1v4.4h1v-4.7h1v-.1h1v-6.9h1v2.4h1v-.9h1v-12.2h1v78.9h-1v-5.7h-1h-1v-3.5h-1v-10.9h-1v31.9h-1v-25.6h-1v9h-1v8.2h-1v-3.7h-1v-14.2h-1v6.4h-1v-2.8h-1v-.2h-1v-12.5h-1v1.9h-1v10.7h-1v-4.5h-1v10.6h-1v-2.3h-1v-2.8h-1v-5.1h-1v14h-1v-6.9h-1v-13.5h-1v4.6h-1v-3.3h-1v-.2h-1v2.6h-1v9.8h-1v-4h-1v28.5h-1v-25.2h-1v2.2h-1v.8h-1v2.1h-1v-8.1h-1v9.4h-1v-6.9h-1v-4.9h-1v4.3h-1v29h-1v-17h-1v10.2h-1v7.2h-1v3.6h-1v-4.1h-1v10.3h-1v-9.9h-1v12.6h-1v-1.2h-1v-.8h-1v1.2h-1v-.9h-1v-.6h-1v.7h-1v6.9h-1v-1.4h-1v5.3h-1v-12h-1v5.7h-1v-10.9h-1v6.7h-1v3.5h-1v10.9h-1v-15h-1v-.9h-1v19.1h-1v-7.9h-1v-17.3h-1v27h-1v-2.4h-1v-15h-1v-8.6h-1v23.4h-1v-19.9h-1v-3.1h-1v-2.3h-1v.6h-1v6.1h-1v-3.1h-1v18.2h-1v-10.8h-1v-1.3h-1v9.9h-1v-2.4h-1v-1.3h-1v-1.1h-1v2.5h-1v3.9h-1v-13.9h-1v8h-1v-4.9h-1v26.6h-1v-18.6h-1v7.2h-1v4.7h-1v5.9h-1v4.5h-1v-20.6h-1v14.7h-1v2.5h-1v-5.6h-1v-1.9h-1v-12.2h-1v7.8h-1v6.8h-1v-30.1h-1v-3.7h-1v14.1h-1v-14.2h-1v1.2h-1v5.9h-1v-15.6h-1v-.1h-1v6.7h-1v-4.7h-1v2h-1v-1.2h-1v2.7h-1v-10.5h-1v3.2h-1v-7.4h-1v8.4h-1v-2h-1v1.8h-1v-1.6h-1v-3h-1v8.1h-1v-3.7h-1v7.8h-1v-7.7h-1v-9.6h-1v17h-1v7.2h-1v-15.5h-1v11.2h-1h-1v16.6h-1v-16.4h-1v-3.2h-1v-5.2h-1v10.9h-1v-8.7h-1v-4h-1v10h-1v8.4h-1v-26.5h-1v8.2h-1v15.3h-1v-14.3h-1h-1v-2.4h-1v5.3h-1v9.4h-1v-6.2h-1v14.3h-1v-23.4h-1v26.8h-1h-1v-11.3h-1v-4.1h-1v-12.7h-1v1.8h-1v-1.5h-1v3.8h-1v-.2h-1v14.1h-1v2.9h-1v2.4h-1v-9.9h-1v-4.8h-1v-3.2h-1v7.1h-1v-3.1h-1v8.2h-1v-3h-1v3.4h-1v-8.7h-1v2.3h-1v-2.1h-1v6.9h-1v-5.3h-1v9h-1v-.4h-1v-9.1h-1v4.8h-1v1.9h-1v-2.8h-1v-11h-1v8.3h-1v-3h-1v3.3h-1v-7.9h-1v6.3h-1v-9.7h-1v2.7h-1v8.2h-1v-5.7h-1h-1v-.5h-1v9.2h-1v-13.8h-1v7.8h-1v-.9h-1v.7h-1v18.9h-1v-15.4h-1v8.1h-1h-1v-1h-1v2h-1v13.9h-1v-19.2h-1v9.2h-1v-.2h-1v-5.3h-1v2.1h-1v-17.2h-1v12.7h-1v14h-1v-8.6h-1v-3.5h-1v.9h-1v-5.5h-1v15h-1v-8.5h-1v.3h-1v2.7h-1v-1.4h-1v-9.4h-1v6.8h-1v-2.4h-1v-.3h-1v-10h-1v3.1h-1v-11.1h-1v12.2h-1v-5.4h-1v-9.1h-1v-2.6h-1v4.5h-1v12.5h-1v5h-1v-2h-1v-5h-1v7h-1v-17h-1v14.8h-1v-13h-1v16.4h-1v-7.1h-1v3.4h-1v-8.6h-1v16h-1v-1.3h-1v-21.2h-1v.6h-1v15.6h-1v-8.8h-1v-4.2h-1v6.7h-1v8.3h-1h-1v-9h-1v1.2h-1v-10.6h-1v3.2h-1v.1h-1v-5.3h-1v6.8h-1v-12.1h-1v4.5h-1v-1.3h-1v-.5h-1v-3.4h-1v-5.4h-1v-6.5h-1v4.8h-1v5.2h-1v-13.2h-1v10.8h-1v-2.7h-1v-7.6h-1v10.3h-1v-6.5h-1v-.1h-1v7.6h-1h-1v-14.1h-1v6.4h-1v9.4h-1v-2h-1v-13.3h-1v14.3h-1v-16.8h-1v-3.5h-1v11.3h-1v1.4h-1v-11.9h-1v7.4h-1v-12.9h-1v5h-1v9.4h-1v10h-1v-7.3h-1v21.3h-1v-14h-1v2.5h-1v8.1h-1v-9.3h-1v-11.8h-1v7h-1v5h-1v-15h-1v1.7h-1v14.2h-1v-1.8h-1v1.9h-1v-3.4h-1v-3.3h-1v.2h-1v8.6h-1v5.6h-1h-1v-4.9h-1v1h-1v-3.3h-1v-1.1h-1v3.3h-1v2.9h-1v8.9h-1v-17.7h-1v2.5h-1v-10.1h-1v8.1h-1v-2.1h-1v3.3h-1v-4.8h-1v.1h-1v1.4h-1v16.2h-1v-15.9h-1v-3.8h-1v7.3h-1h-1v20.3h-1v-19.3h-1v-6.4h-1v10.1h-1v-5.3h-1v-2.2h-1v-10h-1v5.7h-1v.3h-1v3.3h-1v-.7h-1v-5.6h-1v19.5h-1v-28.9h-1v22.2h-1v-21h-1v-1.1h-1v7.4h-1v-.3h-1v-10.1h-1v-10.6h-1v18.9h-1v4.4h-1v-8.3h-1v-6.9h-1v-5.6h-1v6.5h-1v8.5h-1v-6.3h-1v4.7h-1v5.6h-1v11.4h-1v-14.8h-1v5.2h-1v-2h-1v14.8h-1v-30.6h-1v24.9h-1v-11.3h-1v3.7h-1v-5.5h-1v15.3h-1v-19.1h-1v7.1h-1v1.9h-1v-3.2h-1v-7.1h-1v.6h-1v10.9h-1v-10.4h-1v6.2h-1v-7.8h-1v24.2h-1v-16h-1v1.7h-1v.1h-1v2h-1v-8.3h-1v11.9h-1v-19.8h-1v6.9h-1v11.6h-1v-11.9h-1v9.4h-1v-7.6h-1v13.6h-1v-29.8h-1v4.1h-1v25.9h-1v-11.8h-1v2.2h-1v-10.7h-1v-2.3h-1v7h-1v12.3h-1v-18.9h-1v-2.7h-1v-.5h-1v20.7h-1v-7.2h-1v-3.8h-1v1.1h-1v4.5h-1v-6.8h-1v1.2h-1v13.6h-1v-17.6h-1v6.7h-1v5.7h-1v-10.1h-1v8.6h-1v24.1h-1v-22.4h-1v4.9h-1v-3.6h-1v-5h-1v3.5h-1v2.9h-1v-5.5h-1v7.3h-1h-1v-12.4h-1v11.8h-1v5.6h-1v-12.6h-1v.7h-1v1.1h-1v1.1h-1v2.8h-1v2.5h-1v7.4h-1v-7.6h-1v23.3h-1v.5h-1v-19.2h-1v3.7h-1v26.3h-1v-24.9h-1v-8.9h-1v-5.6h-1v28.8h-1v-19.7h-1v.3h-1v-2.2h-1v5.6h-1v-3.5h-1v14.7h-1v-6.5h-1v-3.8h-1v4.2h-1v10h-1v-4.9h-1v7h-1v-3.7h-1v4.5h-1v-20.6h-1v15.9h-1v-.6h-1v4.6h-1v-3.1h-1v8.9h-1v13.3h-1v-11.3h-1v-12.2h-1v6.9h-1v6.7h-1v11.5h-1v-10.2h-1v10.2h-1v-15.3h-1v-.1h-1v-.5h-1v-2.3h-1v10.1h-1v-4.7h-1v-2.9h-1v13.3h-1v-5.8h-1v-2.8h-1v-3h-1v12.1h-1v-7.5h-1v-12.2h-1v4.7h-1v3.1h-1v-.2h-1v7.1h-1h-1v-6.1h-1v4.6h-1v-6.7h-1v2.2h-1v-3.9h-1v1.7h-1v-3.7h-1v7.6h-1v8h-1v3.1h-1v-12.9h-1v-8h-1v18h-1v-3.9h-1v.5h-1v-6.3h-1v9.6h-1v-9.7h-1v4.4h-1v7.5h-1v-22.5h-1v-2.6h-1v.2h-1v19.9h-1v-21.8h-1v.4h-1v-1.4h-1v19.2h-1v5.8h-1v-17.6h-1v1.5h-1v.2h-1v18.8h-1h-1v-26.9h-1v-.6h-1v8.1h-1v-3.9h-1v-3.5h-1v14.3h-1v-6.6h-1v.2h-1v-12h-1v3.6h-1v2h-1v3.8h-1v-2.1h-1v8.7h-1v-12h-1v6h-1v-1.6h-1v1.6h-1v4.1h-1v-18.4h-1v8h-1v-9.5h-1v2.6h-1v35.6h-1v-13.9h-1v-10.7h-1v9.5h-1v-5.5h-1v2.2h-1v2.2h-1v-9.8h-1v-8.1h-1v8.9h-1v-.5h-1v-8.6h-1v13.4h-1v22h-1v-23.9h-1v-1.9h-1v-11.6h-1v5.5h-1v-13.8h-1v-6.5h-1v16.7h-1v-19.3h-1v18.5h-1v-14.5h-1v-7.4h-1v12.6h-1v.8h-1v-7.2h-1v16.7h-1v-6.8h-1v13.2h-1v-10.9h-1v-4h-1v-4.6h-1v1.7h-1v2.3h-1v7h-1h-1v3.8h-1v-6.9h-1v14.1h-1v.2h-1v-10.3h-1h-1v7.2h-1v-8.8h-1v-1.8h-1v6.9h-1v1.1h-1h-1v-8.5h-1v.4h-1v-13.1h-1v-2.3h-1v2.4h-1v.5h-1v7.9h-1v-8.8h-1v4.5h-1v2.5h-1v6.3h-1v20.7h-1v-21.6h-1v-3.8h-1v-3.2h-1v-2.7h-1v13.4h-1v-7.3h-1v-7.1h-1v4h-1v-2.9h-1v.6h-1v4.1h-1v3.8h-1v1.9h-1v-.2h-1v-8.2h-1v-9.6h-1v17.7h-1v-4.9h-1v-6.3h-1v10.8h-1v-5.3h-1v-7.2h-1v7h-1v-6.2h-1v-2.6h-1v-2.8h-1v11.7h-1v4h-1v-.8h-1v-2.1h-1v-16.6h-1v2.5h-1v-5.6h-1v3.5h-1v11.2h-1v-7.9h-1v7.6h-1v19.9h-1v-25.6h-1v15.3h-1v19.9h-1v-21.9h-1v-2.4h-1v10.2h-1v-3.8h-1v8.3h-1v3.7h-1v5.7h-1v-15.4h-1v20.7h-1v-7.5h-1v5h-1v6.7h-1v18h-1v-12.8h-1v-19.9h-1v-1.5h-1v3.4h-1v-8.7h-1v12.6h-1v.4h-1v10.9h-1v-24.1h-1v7.3h-1v-12.9h-1v-.5h-1v6.8h-1v-5.5h-1v2.4h-1v-.2h-1v2.6h-1v-.7h-1v2.8h-1h-1v-.7h-1v.9h-1v-1.6h-1v2.4h-1v8.4h-1v-7.1h-1v.2h-1v-14.4h-1v16.9h-1v-7.9h-1v-1.7h-1v-5.6h-1v6.4h-1v-2.6h-1v18.9h-1v-16.2h-1v2.4h-1v19.9h-1v-17.4h-1v-7.8h-1v7.3h-1v-3.1h-1v14h-1v-4.7h-1v-4.2h-1v-6.9h-1v-9.6h-1v19.3h-1v-14.1h-1v8.1h-1v10.6h-1v-17.2h-1v-5.2h-1v-1.3h-1v-1.1h-1v1.7h-1v-7.9h-1v9.5h-1v-9.8h-1v9.1h-1v-13.5h-1v14.2h-1h-1v-6.7h-1v6h-1v-11.5h-1v12.3h-1v6.3h-1v10.8h-1v-27.7h-1v5.5h-1v.3h-1v-7.5h-1v3.3h-1v7.6h-1v-9.9h-1v14.5h-1v-11.7h-1v-4.5h-1v.5h-1v7.9h-1v-15.5h-1v21.4h-1v-9.4h-1v12h-1v-11.4h-1v3.6h-1v-3.2h-1v14h-1v6.2h-1v4.8h-1v-21.2h-1v5h-1h-1v4.6h-1v-12.5h-1v7.3h-1v21.8h-1v-17.1h-1v15.1h-1v-8.9h-1v-8.3h-1v12h-1v1.9h-1v-5h-1v.3h-1v-6.7h-1v-6.3h-1v13.9h-1v-10h-1v12.7h-1v-1.6h-1v7.5h-1v-6.5h-1v-6.8h-1v2h-1v5.3h-1v15.2h-1v-16.2h-1v1.3h-1v.6h-1v8.5h-1v-.1h-1v14.2h-1v-3.7h-1v-1.4h-1v-16.9h-1v-1.8h-1v.5h-1v12.2h-1v-7.2h-1v-1.6h-1v17.9h-1v-4.2h-1v-12.1h-1v3.9h-1v2.8h-1v12h-1v-16h-1v6.5h-1v-5.1h-1v.2h-1v2.6h-1v-8.1h-1v-8.9h-1v17.9h-1v4.1h-1v-17h-1v15.1h-1v3.9h-1v-4.3h-1v-2.1h-1v23h-1v-26h-1v-13.3h-1v21.9h-1v-17.1h-1v-2.7h-1v6.4h-1v-14.6h-1v26h-1v-15.1h-1v-.5h-1v-3h-1v-11.2h-1v8.2h-1v-4.7h-1v-11.6h-1v-3.3h-1v4.8h-1v12.4h-1v-5.6h-1v-11.6h-1v-4.2h-1v12h-1v3.2h-1v-6.9h-1v-10.6h-1v5.7h-1v4.1h-1v-.3h-1v-13.4h-1v9.8h-1v-5.1h-1v-14.3h-1v12.5h-1v-.5h-1v5.9h-1v-2.1h-1v-8h-1v8.1h-1v-1.4h-1v-4.3h-1v1.7h-1v4.7h-1v-11.6h-1v-.1h-1v4h-1v-23.3h-1v5.3h-1v-5.8h-1v8h-1h-1v3.3h-1v3.5h-1v-9.6h-1v8h-1v-12.8h-1v-1.3h-1v-8.6h-1v9.7h-1v-6.1h-1v9.6h-1v-.4h-1v5.3h-1v-4.3h-1v-4.7h-1v-3.6h-1v18.7h-1v-11.9h-1v-3.5h-1v-7h-1v1.4h-1v.3h-1v-2.2h-1v-7.6h-1v-9h-1v-2h-1v-4.9h-1v-7.6h-1v-18h-1v-44.1h-1v41.3h-1v43.5h-1v42.2h-1v45.1h-1v43.6h-1v46.4h-1v19.8h-1v18.7h-1v18.1h-1v1h-1z"/>
<path class="ax" d="M172 1618.2 V2571.8 M154 2554.3 H1332M154 2554.3H172M162.5 2525.1H172M154 2495.9H172M162.5 2466.7H172M154 2437.5H172M162.5 2408.3H172M154 2379.1H172M162.5 2349.9H172M154 2320.7H172M162.5 2291.5H172M154 2262.3H172M162.5 2233.1H172M154 2203.9H172M162.5 2174.7H172M154 2145.5H172M162.5 2116.3H172M154 2087.1H172M162.5 2057.9H172M154 2028.7H172M162.5 1999.5H172M154 1970.3H172M162.5 1941.1H172M154 1911.9H172M162.5 1882.7H172M154 1853.5H172M162.5 1824.3H172M154 1795.1H172M162.5 1765.9H172M154 1736.7H172M162.5 1707.5H172M154 1678.3H172M162.5 1649.1H172M154 1619.9H172M172 2554.3V2571.8M404 2554.3V2563.3M636 2554.3V2571.8M868 2554.3V2563.3M1100 2554.3V2571.8M1332 2554.3V2563.3"/>
<text x="91.9 106.8 130.4" y="2569.9" font-size="40" text-anchor="middle">0.0</text>
<text x="91.9 106.8 130.4" y="2511.5" font-size="40" text-anchor="middle">0.1</text>
<text x="91.9 106.8 130.4" y="2453.1" font-size="40" text-anchor="middle">0.2</text>
<text x="91.9 106.8 130.4" y="2394.7" font-size="40" text-anchor="middle">0.3</text>
<text x="91.9 106.8 130.4" y="2336.3" font-size="40" text-anchor="middle">0.4</text>
<text x="91.9 106.8 130.4" y="2277.9" font-size="40" text-anchor="middle">0.5</text>
<text x="91.9 106.8 130.4" y="2219.5" font-size="40" text-anchor="middle">0.6</text>
<text x="91.9 106.8 130.4" y="2161.1" font-size="40" text-anchor="middle">0.7</text>
<text x="91.9 106.8 130.4" y="2102.7" font-size="40" text-anchor="middle">0.8</text>
<text x="91.9 106.8 130.4" y="2044.3" font-size="40" text-anchor="middle">0.9</text>
<text x="91.9 106.8 130.4" y="1985.9" font-size="40" text-anchor="middle">1.0</text>
<text x="91.9 106.8 130.4" y="1927.5" font-size="40" text-anchor="middle">1.1</text>
<text x="91.9 106.8 130.4" y="1869.1" font-size="40" text-anchor="middle">1.2</text>
<text x="91.9 106.8 130.4" y="1810.7" font-size="40" text-anchor="middle">1.3</text>
<text x="91.9 106.8 130.4" y="1752.3" font-size="40" text-anchor="middle">1.4</text>
<text x="91.9 106.8 130.4" y="1693.9" font-size="40" text-anchor="middle">1.5</text>
<text x="91.9 106.8 130.4" y="1635.5" font-size="40" text-anchor="middle">1.6</text>
<text x="172" y="2618.5" font-size="40" text-anchor="middle">0</text>
<text x="587.9 607.1 622 645.6 664.9 684.1" y="2618.5" font-size="40" text-anchor="middle">50,000</text>
<text x="1042.2 1061.5 1080.8 1095.6 1119.2 1138.5 1157.8" y="2618.5" font-size="40" text-anchor="middle">100,000</text>
<text aria-label="Time (ps)" x="652.6 676.7 700.8 724.9 749 773.1 797.2 821.3 845.4" y="2683" font-size="48" text-anchor="middle"><tspan textLength="22.7" lengthAdjust="spacingAndGlyphs">T</tspan>i<tspan textLength="24.1" lengthAdjust="spacingAndGlyphs">m</tspan>e <tspan dy="-3.4" font-size="54.7">(</tspan><tspan dy="3.4">p</tspan>s<tspan dy="-3.4" font-size="54.7">)</tspan></text>
<g transform="translate(62.5,2088.5) rotate(-90)"><text aria-label="RMSD(nm)" x="-83.1 -59.3 -35.6 -11.9 11.9 35.6 59.3 83.1" y="0" font-size="48" text-anchor="middle"><tspan textLength="22.3" lengthAdjust="spacingAndGlyphs">R</tspan><tspan textLength="22.3" lengthAdjust="spacingAndGlyphs">M</tspan><tspan textLength="22.3" lengthAdjust="spacingAndGlyphs">S</tspan><tspan textLength="22.3" lengthAdjust="spacingAndGlyphs">D</tspan><tspan dy="-3.4" font-size="54.7">(</tspan><tspan dy="3.4">n</tspan><tspan textLength="23.7" lengthAdjust="spacingAndGlyphs">m</tspan><tspan dy="-3.4" font-size="54.7">)</tspan></text></g>
<rect class="lg" x="1136" y="1523.3" width="426" height="380.5"/>
<path d="M1141.5 1553H1240.5" stroke="#4f4f4f" stroke-width="2.7" stroke-opacity=".82" fill="none"/>
<text aria-label="0v/nm" x="1276 1300.2 1324.2 1348.3 1372.5" y="1570" font-size="48" text-anchor="middle">0v<tspan dy="4.1" font-size="57.6" textLength="18.8" lengthAdjust="spacingAndGlyphs">/</tspan><tspan dy="-4.1">n</tspan><tspan textLength="24.1" lengthAdjust="spacingAndGlyphs">m</tspan></text>
<path d="M1141.5 1606.4H1240.5" stroke="#ff3c3c" stroke-width="2.7" stroke-opacity=".82" fill="none"/>
<text aria-label="y 0.5v/nm" x="1276 1300.2 1324.2 1343.1 1372.5 1396.5 1420.7 1444.8 1468.8" y="1623.4" font-size="48" text-anchor="middle">y 0.5v<tspan dy="4.1" font-size="57.6" textLength="18.8" lengthAdjust="spacingAndGlyphs">/</tspan><tspan dy="-4.1">n</tspan><tspan textLength="24.1" lengthAdjust="spacingAndGlyphs">m</tspan></text>
<path d="M1141.5 1659.8H1240.5" stroke="#006ae0" stroke-width="2.7" stroke-opacity=".82" fill="none"/>
<text aria-label="z 0.5v/nm" x="1276 1300.2 1324.2 1343.1 1372.5 1396.5 1420.7 1444.8 1468.8" y="1676.8" font-size="48" text-anchor="middle">z 0.5v<tspan dy="4.1" font-size="57.6" textLength="18.8" lengthAdjust="spacingAndGlyphs">/</tspan><tspan dy="-4.1">n</tspan><tspan textLength="24.1" lengthAdjust="spacingAndGlyphs">m</tspan></text>
<path d="M1141.5 1713.3H1240.5" stroke="#00a865" stroke-width="2.7" stroke-opacity=".82" fill="none"/>
<text aria-label="xy 0.354v/nm" x="1276 1300.2 1324.2 1348.3 1367.2 1396.5 1420.7 1444.8 1468.8 1493 1517 1541.2" y="1730.3" font-size="48" text-anchor="middle">xy 0.354v<tspan dy="4.1" font-size="57.6" textLength="18.8" lengthAdjust="spacingAndGlyphs">/</tspan><tspan dy="-4.1">n</tspan><tspan textLength="24.1" lengthAdjust="spacingAndGlyphs">m</tspan></text>
<path d="M1141.5 1766.7H1240.5" stroke="#c870e2" stroke-width="2.7" stroke-opacity=".82" fill="none"/>
<text aria-label="xz 0.5v/nm" x="1276 1300.2 1324.2 1348.3 1367.2 1396.5 1420.7 1444.8 1468.8 1493" y="1783.7" font-size="48" text-anchor="middle">xz 0.5v<tspan dy="4.1" font-size="57.6" textLength="18.8" lengthAdjust="spacingAndGlyphs">/</tspan><tspan dy="-4.1">n</tspan><tspan textLength="24.1" lengthAdjust="spacingAndGlyphs">m</tspan></text>
<path d="M1141.5 1820.1H1240.5" stroke="#dda000" stroke-width="2.7" stroke-opacity=".82" fill="none"/>
<text aria-label="yz 0.5v/nm" x="1276 1300.2 1324.2 1348.3 1367.2 1396.5 1420.7 1444.8 1468.8 1493" y="1837.1" font-size="48" text-anchor="middle">yz 0.5v<tspan dy="4.1" font-size="57.6" textLength="18.8" lengthAdjust="spacingAndGlyphs">/</tspan><tspan dy="-4.1">n</tspan><tspan textLength="24.1" lengthAdjust="spacingAndGlyphs">m</tspan></text>
<path d="M1141.5 1873.5H1240.5" stroke="#00cccc" stroke-width="2.7" stroke-opacity=".82" fill="none"/>
<text aria-label="xyz 0.5v/nm" x="1276 1300.2 1324.2 1348.3 1372.5 1391.3 1420.7 1444.8 1468.8 1493 1517" y="1890.5" font-size="48" text-anchor="middle">xyz 0.5v<tspan dy="4.1" font-size="57.6" textLength="18.8" lengthAdjust="spacingAndGlyphs">/</tspan><tspan dy="-4.1">n</tspan><tspan textLength="24.1" lengthAdjust="spacingAndGlyphs">m</tspan></text>
<text class="cap" x="665.5 693.3 743.6" y="2889.3" font-size="87"><tspan font-weight="normal">(</tspan>b<tspan font-weight="normal">)</tspan></text>
</g>
</svg></body></html>
